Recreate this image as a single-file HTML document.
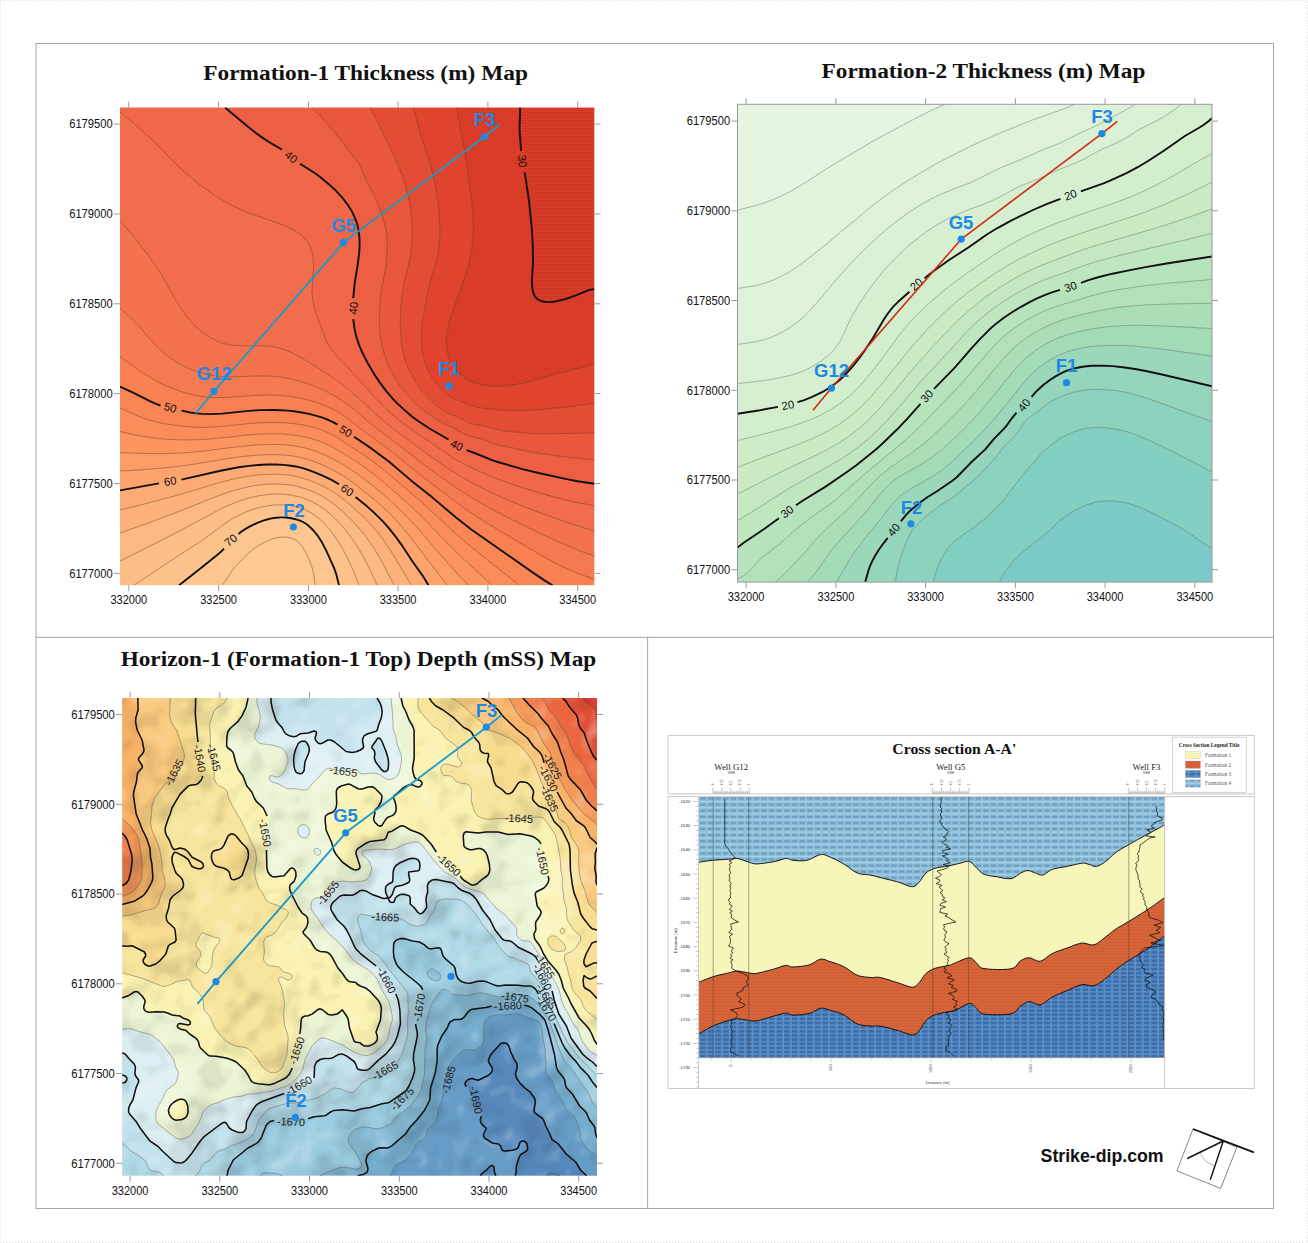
<!DOCTYPE html><html><head><meta charset="utf-8"><title>Maps</title><style>html,body{margin:0;padding:0;background:#fff}svg{display:block}</style></head><body>
<svg width="1308" height="1243" viewBox="0 0 1308 1243">
<defs><pattern id="st1a" width="4" height="4" patternUnits="userSpaceOnUse"><path d="M0 0h1v1h-1zM2 0h1v1h-1zM1 2h1v1h-1zM3 2h1v1h-1z" fill="#8e1505" fill-opacity="0.4"/></pattern><pattern id="st1b" width="4" height="4" patternUnits="userSpaceOnUse"><path d="M0 0h1v1h-1zM2 0h1v1h-1zM1 2h1v1h-1zM3 2h1v1h-1z" fill="#a02010" fill-opacity="0.28"/></pattern><pattern id="st2a" width="4" height="4" patternUnits="userSpaceOnUse"><path d="M0 0h1v1h-1zM2 2h1v1h-1z" fill="#86a8ee" fill-opacity="0.4"/></pattern><clipPath id="c1"><rect x="120" y="107.6" width="474.4" height="477.6"/></clipPath><clipPath id="c2"><rect x="737.5" y="104.3" width="474.5" height="477.8"/></clipPath><filter id="blr" x="0" y="0" width="100%" height="100%" filterUnits="userSpaceOnUse"><feGaussianBlur stdDeviation="1.3"/></filter><clipPath id="c3"><rect x="122.1" y="698" width="474.9" height="477.8"/></clipPath></defs>
<rect width="1308" height="1243" fill="#fff"/>
<rect x="0.5" y="0.5" width="1307" height="1242" fill="none" stroke="#e9e9e9" stroke-width="1" stroke-dasharray="1.5 1.5"/>
<rect x="36" y="43.5" width="1237.5" height="1165" fill="none" stroke="#a6a6a6" stroke-width="1"/>
<path d="M36 637.3H1273.5M647.6 637.3V1208.5" stroke="#a6a6a6" stroke-width="1" fill="none"/>
<g font-family="Liberation Serif, serif" font-weight="bold" font-size="21.4" fill="#111">
<text x="203.2" y="80.3" textLength="324.8" lengthAdjust="spacingAndGlyphs">Formation-1 Thickness (m) Map</text>
<text x="821.5" y="77.5" textLength="323.9" lengthAdjust="spacingAndGlyphs">Formation-2 Thickness (m) Map</text>
<text x="120.7" y="666" textLength="475.5" lengthAdjust="spacingAndGlyphs">Horizon-1 (Formation-1 Top) Depth (mSS) Map</text>
</g>
<g clip-path="url(#c1)">
<path fill="#dd3e2a" fill-rule="evenodd" stroke="#dd3e2a" stroke-width="0.6" d="M520 107.6L594.4 107.6L594.4 289.1L591 289.6L588 290.4L585 291.5L577.5 294.8L570 297.5L562.5 299.9L556.5 301.2L552 301.9L547.5 302.1L543 301.5L540 300.5L538.5 299.8L537 298.7L535.5 297.2L534 294.6L532.7 290.6L532.3 287.6L532 283.1L533 259.1L532.7 245.6L532.1 232.1L528.6 197.6L525.1 175.1L522.3 163.1L521.7 158.6L519.6 131.6L519.6 125.6L520.1 112.1Z"/>
<path fill="#dd3e2a" fill-rule="evenodd" stroke="#dd3e2a" stroke-width="0.6" d="M456.6 107.6L520 107.6L520.1 112.1L519.6 125.6L519.6 131.6L521.7 158.6L522.3 163.1L525.1 175.1L528.6 197.6L532.1 232.1L532.7 245.6L533 259.1L532 283.1L532.3 287.6L533.1 292.1L534 294.6L535.1 296.6L536.3 298.1L538.2 299.6L540 300.5L543 301.5L546 302L549 302.1L552 301.9L556.5 301.2L564 299.5L576 295.4L588 290.4L591 289.6L594.4 289.1L594.4 364.1L571.5 370.1L552 375L534 380.4L525 382.7L517.5 384.2L510 385.4L502.5 386.2L495 386.4L489 386.1L481.5 384.8L475.5 383.1L472.5 382L469.5 380.6L464.6 377.6L462 375.6L459.2 373.1L456.5 370.1L454.5 367.5L451.4 362.6L449.9 359.6L448.3 355.1L447.5 352.1L446.8 347.6L446.4 343.1L446.4 338.6L447.3 331.1L448.8 323.6L451 316.1L453 310L459.2 293.6L462.8 283.1L466.2 272.6L468.8 263.6L470.5 256.1L472 247.1L472.9 238.1L473.4 229.1L473.4 223.1L473.1 215.6L472.2 205.1L471.2 196.1L468.6 179.6L466.9 166.1L465.3 155.6L460 125.6Z"/>
<path fill="#e0442f" fill-rule="evenodd" stroke="#e0442f" stroke-width="0.6" d="M413.4 107.6L456.6 107.6L460 125.6L465.8 158.6L468.6 179.6L471.2 196.1L472.2 205.1L473.1 215.6L473.4 221.6L473.4 229.1L473.2 235.1L472.5 242.6L471.6 250.1L470.2 257.6L468.4 265.1L465.8 274.1L462.8 283.1L459.2 293.6L453 310L451 316.1L448.5 325L447 332.6L446.5 337.1L446.4 341.6L446.6 346.1L447.2 350.6L448.3 355.1L449.3 358.1L451.4 362.6L453 365.3L456.5 370.1L460.5 374.3L464.6 377.6L469.5 380.6L472.5 382L475.5 383.1L482.8 385.1L490.5 386.3L496.5 386.4L502.5 386.2L510 385.4L517.5 384.2L525 382.7L534 380.4L552 375L571.5 370.1L594.4 364.1L594.4 403.4L565.5 407L537 409.8L526.5 410.5L517.5 410.6L501 410.1L495 409.6L480 407.6L474 406.3L468 404.4L457.2 400.1L453 398.1L450 396.3L444.9 392.6L440.1 388.1L436.3 383.6L432.1 377.6L429.6 373.1L427.5 368.6L425.2 362.6L423.9 358.1L422.6 352.1L421.9 346.1L421.4 338.6L421.3 332.6L421.7 328.1L422.4 322.1L427.4 293.6L430.3 281.6L436.3 260.6L437.8 254.6L438.6 250.1L439.4 242.6L439.8 233.6L439.7 224.6L439.1 212.6L438.1 202.1L436.9 193.1L435.3 184.1L433.2 175.1L429.5 161.6L421.6 137.6Z"/>
<path fill="#e44d35" fill-rule="evenodd" stroke="#e44d35" stroke-width="0.6" d="M370.1 107.6L413.4 107.6L421.6 137.6L429.5 161.6L432 170.2L434 178.1L435.5 185.6L437.1 194.6L438.1 202.1L438.8 209.6L439.4 218.6L439.8 229.1L439.7 236.6L439.3 244.1L438.6 250.1L437.1 257.6L435.1 265.1L429.9 283.1L427.1 295.1L422.2 323.6L421.5 329.6L421.3 335.6L421.5 341.6L422.2 349.1L423.2 355.1L424.3 359.6L426 364.9L428.2 370.1L431.3 376.1L434.1 380.6L438 385.7L442.5 390.5L446.8 394.1L451.5 397.2L457.5 400.2L468 404.4L474 406.3L480.2 407.6L495 409.6L501 410.1L517.5 410.6L526.5 410.5L537 409.8L565.5 407L594.4 403.4L594.4 432.9L574.5 433.4L547.5 433.7L537 433.7L531 433.5L502.5 430.8L499.5 430.2L486 426.4L472.5 424L468.5 422.6L457.5 417.2L448.5 413.4L445.5 411.8L442.5 409.8L435.6 404.6L428.7 398.6L423.2 392.6L417.5 385.1L413.7 379.1L410.5 373.1L407.8 367.1L405.1 359.6L403.5 353.6L402 346.1L400.9 337.1L400.4 329.6L400.3 322.1L400.5 313.1L401.2 302.6L402 295.1L404.2 281.6L408.4 265.1L410.3 256.1L411.4 248.6L412 242.6L412.3 233.6L412 223.1L411 212.6L409.6 202.1L408 195.1L405.3 185.6L402 175.1L399.8 169.1L394.5 157.5L378.6 124.1L374.1 115.1Z"/>
<path fill="#e9573d" fill-rule="evenodd" stroke="#e9573d" stroke-width="0.6" d="M312.1 107.6L370.1 107.6L374.9 116.6L379.5 126L396 160.7L400.4 170.6L403 178.1L405.8 187.1L408 195.1L409.5 201.7L410.7 209.6L411.6 218.6L412.1 226.1L412.3 233.6L411.9 244.1L410.8 253.1L408.7 263.6L404.2 281.6L402.9 289.1L401.5 299.6L400.8 308.6L400.3 320.6L400.4 329.6L400.9 337.1L401.8 344.6L403.2 352.1L404.7 358.1L407.2 365.6L410.5 373.1L413.7 379.1L417.5 385.1L422 391.1L426 395.8L430.5 400.3L437.5 406.1L444 410.8L448.5 413.4L457.5 417.2L468 422.4L472.5 424L486 426.4L499.5 430.2L502.5 430.8L531 433.5L537 433.7L547.5 433.7L574.5 433.4L594.4 432.9L594.4 459.7L577.5 458.3L567 457.2L538.5 453.2L528 451.5L511.5 447.7L499.5 445.4L493.5 443.5L481.5 438.9L472.5 436.9L468 435.6L465 434.4L462 432.9L454.5 428.5L441 422.1L436.5 419.5L427.9 413.6L421.7 409.1L416.5 404.6L410.6 398.6L404 391.1L399.5 385.1L394.7 377.6L391.4 371.6L387.8 364.1L385.5 358.1L383.2 350.6L381.2 341.6L380.1 334.1L379.5 328.1L379.2 320.6L379.3 313.1L379.8 305.6L380.8 295.1L381.6 289.1L385.6 268.1L386.8 257.6L387.3 248.6L387.2 241.1L386.5 233.6L385.1 226.1L383.1 218.6L378.2 205.1L375.8 199.1L373 193.1L366.4 181.1L361.7 169.1L359.5 164.6L356.3 160.1L350.3 152.6L343.5 143.2L336 133.8L324 120.1Z"/>
<path fill="#ec5f43" fill-rule="evenodd" stroke="#ec5f43" stroke-width="0.6" d="M225 107.6L312.1 107.6L324 120.1L336 133.8L343.5 143.2L350.3 152.6L356.3 160.1L359.5 164.6L361.7 169.1L366 180.2L373.7 194.6L377.7 203.6L382 215.6L384 221.6L385.5 227.8L386.7 235.1L387.2 241.1L387.3 247.1L387.1 253.1L386.5 260.6L385.2 271.1L382.6 283.1L381.4 290.6L379.9 304.1L379.3 313.1L379.2 322.1L379.6 329.6L380.5 337.1L382.1 346.1L384.1 353.6L386.6 361.1L389.1 367.1L393 374.6L397.5 382.1L401.7 388.1L406.5 394.1L413.4 401.6L418.2 406.1L423 410.1L433.5 417.5L438 420.4L444 423.7L454.5 428.5L463.5 433.7L466.5 435L469.5 436.1L481.5 438.9L493.5 443.5L499.5 445.4L511.5 447.7L522 450.2L529.5 451.8L549 454.8L568.5 457.4L579 458.5L594.4 459.7L594.4 483.8L577.5 481.2L565.5 478.9L538.5 473L522 469L499.5 462.5L492 460.1L477 454L463.5 448.9L459 446.9L456 445.2L447.8 439.1L432 430L424.5 425.3L417 420.3L412.1 416.6L406.7 412.1L400.1 406.1L395.5 401.6L388.8 394.1L381.7 385.1L376.4 377.6L370.8 368.6L365 358.1L360.8 349.1L357.4 340.1L355.3 332.6L353.9 325.1L353.1 317.6L352.8 310.1L353 301.1L353.5 293.6L354.5 284.6L357.6 265.1L359 254.6L359.5 247.1L359.6 239.6L358.9 232.1L358.1 227.6L357.4 224.6L356.4 221.6L354.6 217.1L351 209.9L346.5 203.2L340.5 195.6L333 187.9L324 180.1L315 173.3L301.3 164.6L294.7 160.1L290.8 157.1L285 152L282 149.6L268.5 141.7L262.3 137.6L256.5 133.5L246.5 125.6Z"/>
<path fill="#f06749" fill-rule="evenodd" stroke="#f06749" stroke-width="0.6" d="M120 107.6L225 107.6L246.5 125.6L256.5 133.5L262.3 137.6L268.5 141.7L282 149.6L285 152L290.8 157.1L294.7 160.1L301.3 164.6L315 173.3L319.5 176.5L325.5 181.3L331.5 186.6L337.5 192.4L342 197.3L346.5 203.2L349.9 208.1L352.5 212.7L355.2 218.6L357.4 224.6L358.4 229.1L359.2 235.1L359.6 239.6L359.6 245.6L359.3 251.6L358.6 257.6L357.4 266.6L354.7 283.1L353.7 292.1L353.1 299.6L352.8 308.6L353 316.1L353.7 323.6L354.6 329.6L356.4 337.1L358.9 344.6L362.1 352.1L366.6 361.1L371.7 370.1L376.4 377.6L381.7 385.1L388.8 394.1L394 400.1L399 405.1L406.7 412.1L414 418.1L420.4 422.6L430.5 429.1L447.8 439.1L456 445.2L459 446.9L462 448.3L477 454L492 460.1L499.5 462.5L522 469L538.5 473L565.5 478.9L577.5 481.2L594.4 483.8L594.4 505.9L576 502.3L565.5 500L553.5 496.9L538.5 492.7L523.5 488L508.5 482.9L495 477.9L483 472.9L463.5 463.6L457.5 460.5L451.5 456.9L436.7 446.6L412.5 430.4L404 424.1L396.6 418.1L390 412.4L384.9 407.6L378.9 401.6L373.3 395.6L352.5 372.6L334.7 353.6L331 349.1L327.4 343.1L324.7 337.1L321 326.8L316.9 316.1L315.3 311.6L313.8 305.6L312.7 299.6L312.1 292.1L312.3 284.6L313.5 269.6L313.5 263.6L312.9 257.6L312 252.5L310.2 247.1L309 244.6L307.5 242L304.5 238.1L301.3 235.1L297.1 232.1L292.5 229.5L286.5 226.6L277.5 223L250.5 213.6L243 210.6L235.5 207.2L229.5 204.1L222 199.8L214.5 195.1L208.5 191L202.5 186.7L195 180.9L183 170.8L175.5 163.7L155.7 143.6L148 136.1L134.6 124.1L120 112.1Z"/>
<path fill="#f26d4b" fill-rule="evenodd" stroke="#f26d4b" stroke-width="0.6" d="M120 112.1L133.5 123.2L148 136.1L155.7 143.6L175.5 163.7L184.5 172.1L190.5 177.2L198 183.3L204 187.8L211.5 193.1L219 198L226.5 202.5L232.5 205.7L240 209.3L246 211.9L253.5 214.7L279 223.6L285 225.9L289.5 228L294.6 230.6L298.5 233L301.5 235.3L304.5 238.1L307.5 242L309 244.6L310.2 247.1L312 252.5L312.9 257.6L313.5 263.6L313.5 269.6L312.3 284.6L312.1 292.1L312.7 299.6L313.8 305.6L315.3 311.6L316.9 316.1L321 326.8L324.1 335.6L326.7 341.6L330 347.6L332.1 350.6L334.7 353.6L352.5 372.6L377.5 400.1L384.9 407.6L391.4 413.6L402 422.5L411 429.3L420 435.6L436.7 446.6L450 455.9L456 459.6L462 462.9L481.5 472.3L493.5 477.3L507 482.4L522 487.5L537 492.2L552 496.5L565.5 500L576 502.3L594.4 505.9L594.4 531.1L567 522.3L552 517.2L534 510.6L516 503.5L499.5 496.4L486 490.1L474 483.9L460.5 476.3L450 469.8L441 463.7L409.5 440.9L395.1 430.1L385.7 422.6L378.6 416.6L358.5 398.2L351 391.6L345 386.6L339 382.1L330 375.8L315 366.2L303 358.8L295.5 354.7L289.5 351.8L283.5 349.5L277.5 347.7L271.5 346.5L267 346L262.5 345.8L244.5 345.8L237 345.6L229.5 344.9L225 344L222 343.1L218.1 341.6L211.5 338.4L204.8 334.1L198 328.8L194.1 325.1L190 320.6L186.4 316.1L182.1 310.1L175.5 299.6L160.5 273.3L156 266.4L150 257.8L144 249.7L138 242L120 220.7Z"/>
<path fill="#f4734e" fill-rule="evenodd" stroke="#f4734e" stroke-width="0.6" d="M120 221.6L120 220.7L136.5 240.2L144.3 250.1L153 262L158.1 269.6L161.9 275.6L177.3 302.6L182.1 310.1L186.4 316.1L190.5 321.2L195 326L199.5 330.1L204.8 334.1L210 337.5L216 340.7L222 343.1L226.5 344.3L231 345.1L237 345.6L244.5 345.8L262.5 345.8L268.5 346.1L273 346.7L280.5 348.5L286.5 350.6L294 353.9L301.5 357.9L310.5 363.3L325.5 372.8L333 377.8L340.5 383.2L348 389.1L354 394.2L373.6 412.1L380.4 418.1L395.1 430.1L409.5 440.9L441 463.7L450 469.8L460.5 476.3L474 483.9L486 490.1L499.5 496.4L516 503.5L534 510.6L552 517.2L567 522.3L594.4 531.1L594.4 556.2L582 551.6L568.5 546.1L555 540.2L540 533.3L517.5 522.4L498 512.5L484.5 505.3L472.5 498.2L462 491.6L451.5 484.5L439.5 476.1L427.5 467.3L375.2 427.1L367.7 421.1L354 409.6L346.5 403.8L340.5 399.7L334.5 395.9L328.5 392.7L322.5 389.7L312 385.3L301.5 381.7L291 378.9L280.5 377L273 376.3L264 375.9L255 376L235.5 376.7L225 376.7L216 376L207.5 374.6L202.5 373.4L198 372.1L193.5 370.5L188.9 368.6L179.9 364.1L174.8 361.1L170.4 358.1L163.5 352.8L157.8 347.6L152.2 341.6L136.4 323.6L132 319.3L120 308.2Z"/>
<path fill="#f67a51" fill-rule="evenodd" stroke="#f67a51" stroke-width="0.6" d="M120 308.6L120 308.2L135 322.2L139.5 327L155 344.6L159.4 349.1L162.7 352.1L169.5 357.5L177 362.4L184.5 366.5L192 369.9L198 372.1L205.5 374.2L211.5 375.3L219 376.3L225 376.7L232.5 376.8L256.5 376L267 376L277.5 376.7L286.5 378L292.5 379.2L298.5 380.8L304.5 382.6L310.5 384.7L316.5 387.1L322.5 389.7L333 395.1L342 400.6L349.5 406.1L375.2 427.1L430.5 469.5L451.5 484.5L462 491.6L471 497.3L483 504.4L496.5 511.7L514.5 520.9L538.5 532.6L555 540.2L568.5 546.1L582 551.6L594.4 556.2L594.4 579.3L580.5 574.4L571.5 570.8L562.5 566.8L553.5 562.3L544.5 557.3L532.5 550.3L490.5 525.3L478.5 517.9L466.5 509.8L453 499.8L418.5 473.5L390.8 451.1L379.5 442.6L362.3 430.1L346.5 417.7L342 414.5L337.5 411.7L333 409.2L328.5 407.1L324 405.2L318 403L312 401.1L306 399.5L300 398.1L294 397.1L288 396.2L282 395.6L271.5 395.1L259.5 395.2L249 395.8L229.5 397.3L219 397.7L210 397.5L201 396.5L195 395.4L189 393.9L183 392.2L175.5 389.7L169.5 387.3L165 385.4L160.5 383.2L154.5 379.9L145.7 374.6L136.5 368.6L128 362.6L120 356.6Z"/>
<path fill="#f88053" fill-rule="evenodd" stroke="#f88053" stroke-width="0.6" d="M120 356.6L130.1 364.1L138.7 370.1L148.5 376.4L158.5 382.1L166.5 386L174 389.1L183 392.2L192 394.7L198 396L204 396.9L210 397.5L216 397.7L228 397.4L250.5 395.7L261 395.1L273 395.1L285 395.9L291 396.6L297 397.6L303 398.8L309 400.2L315 402L321 404L327 406.4L331.5 408.5L339 412.6L346.5 417.7L362.3 430.1L379.5 442.6L391.5 451.7L415.5 471.1L424.5 478.1L457.5 503.2L466.5 509.8L474 514.9L483 520.7L493.5 527.1L537 553L553.5 562.3L562.5 566.8L571.5 570.8L580.5 574.4L594.4 579.3L594.4 585.2L552.5 585.2L546.4 581.6L529.5 570.3L471 529.3L456 517.5L430.7 496.1L411 480.4L393 465L385.5 459L370.8 448.1L354 436.8L340.5 426.6L336 423.7L331.5 421.3L324 418.2L319.5 416.7L313.5 415L301.5 412.4L289.5 410.8L283.5 410.3L276 410L261 410.1L250.5 410.7L231 412.8L220.5 413.7L213 414L204 413.9L196.5 413.4L189 412.2L175.5 409.2L162 405.9L157.5 404.4L151 401.6L132 392.2L120 386.7Z"/>
<path fill="#fa8656" fill-rule="evenodd" stroke="#fa8656" stroke-width="0.6" d="M120 388.1L120 386.7L132 392.2L151 401.6L156 403.8L160.5 405.5L166.5 407.1L178.5 409.9L187.5 411.9L193.5 413L198 413.6L202.5 413.9L214.5 414L226.5 413.2L249 410.9L258 410.2L270 409.9L283.5 410.3L291 410.9L297 411.7L303 412.7L309 413.9L315 415.4L321 417.1L325.5 418.7L330 420.6L334.5 422.9L339 425.6L354 436.8L370.8 448.1L385 458.6L393 465L411 480.4L430.7 496.1L456 517.5L471 529.3L534 573.4L544.5 580.4L552.5 585.2L519.1 585.2L478.5 552.8L463.5 540.4L451.5 529.8L423.3 503.6L390.1 475.1L382.5 468.8L372 460.8L361.5 453.5L337.5 437.8L331.5 434.3L327 432.1L322.5 430.2L318 428.6L313.5 427.3L307.5 425.9L301.5 424.8L295.5 423.9L283.5 422.8L271.5 422.5L258 422.9L247.5 423.7L219 426.6L210 427.2L202.5 427.4L193.5 427.2L183 426.3L169.5 424.5L159.3 422.6L151.5 420.7L142.5 417.7L135 414.7L120 408Z"/>
<path fill="#fc8c59" fill-rule="evenodd" stroke="#fc8c59" stroke-width="0.6" d="M120 409.1L120 408L139.5 416.6L147 419.3L153 421.1L159 422.5L166.5 424L175.5 425.4L183 426.3L190.5 427L196.5 427.3L208.5 427.3L222 426.4L246 423.9L256.5 423L268.5 422.5L280.5 422.6L288 423.1L294 423.7L300 424.5L306 425.6L312 427L318 428.6L322.5 430.2L327 432.1L331.5 434.3L337.5 437.8L361.5 453.5L372 460.8L382.5 468.8L390.1 475.1L423.3 503.6L451.5 529.8L463.5 540.4L478.5 552.8L519.1 585.2L492 585.2L474 568.9L457.5 553.3L445.5 541.3L423.6 518.6L414.5 509.6L401.4 497.6L385.5 483.8L378 477.6L370.5 471.7L363 466.2L356.3 461.6L346.5 455.3L337.5 450L330 445.9L324 443L319.5 441.2L313.5 439.2L309 437.9L303 436.6L297 435.5L291 434.7L279 433.9L268.5 433.8L256.5 434.3L244.5 435.4L211.5 438.9L201 439.6L192 439.9L180 439.8L166.5 439.2L154.5 438L142.5 436.3L132 434.3L120 431.5Z"/>
<path fill="#fc9560" fill-rule="evenodd" stroke="#fc9560" stroke-width="0.6" d="M120 431.6L136.5 435.2L151.1 437.6L166.5 439.2L183 439.9L195 439.8L208.5 439.1L220.5 438L246 435.2L258 434.2L270 433.8L282 434L294 435.1L304.5 436.9L313.5 439.2L322.5 442.4L328.5 445.1L336 449.1L345 454.4L355.5 461.1L363 466.2L370.5 471.7L378 477.6L385.5 483.8L401.4 497.6L414.5 509.6L423.6 518.6L445.5 541.3L457.5 553.3L474 568.9L492 585.2L468.3 585.2L459 575.5L450 565.6L436.5 550.2L419.7 530.6L411.6 521.6L401.4 511.1L390.2 500.6L381 492.6L370.7 484.1L361 476.6L352.6 470.6L345 465.7L336 460.6L328.5 456.7L321 453.3L316.5 451.5L310.5 449.5L304.5 447.9L298.5 446.6L292.5 445.7L286.5 445L280.5 444.6L273 444.4L261 444.7L249 445.5L237 446.8L202.5 451.2L190.5 452.3L180 453L166.5 453.5L151.5 453.5L133.5 453.2L120 452.6Z"/>
<path fill="#fc9c67" fill-rule="evenodd" stroke="#fc9c67" stroke-width="0.6" d="M254.3 445.1L268.5 444.4L276 444.4L282 444.7L288 445.1L294 445.9L300 446.9L304.5 447.9L309 449.1L315 451L319.5 452.7L325.5 455.3L331.5 458.2L337.5 461.4L343.5 464.8L350.3 469.1L361.5 477L376.5 488.8L390 500.4L401.4 511.1L407.4 517.1L414.4 524.6L450 565.6L459 575.5L468.3 585.2L447.3 585.2L423 553.8L411.1 538.1L405.1 530.6L400 524.6L394.6 518.6L388.7 512.6L382.3 506.6L372 497.7L357 485.7L349.5 480L343.5 476L336 471.6L327 467L318 463.1L309 459.8L303 458L298.5 457L292.5 455.9L286.5 455.2L280.5 454.8L273 454.6L259.5 454.9L247.5 455.9L235.5 457.4L192 464.5L177 466.6L165 467.8L141 469.8L130.5 470.5L120 471L120 452.6L133.5 453.2L153 453.6L168 453.5L181.5 453L190.5 452.3L201 451.3L238.5 446.7Z"/>
<path fill="#fca36e" fill-rule="evenodd" stroke="#fca36e" stroke-width="0.6" d="M250.8 455.6L264 454.7L271.5 454.6L277.5 454.7L283.5 455L289.5 455.5L295.5 456.4L300 457.3L304.5 458.4L310.5 460.3L316.5 462.5L322.5 465L328.5 467.7L334.5 470.8L340.5 474.1L345 476.9L349.5 480L355 484.1L375 500.2L385.6 509.6L394.6 518.6L401.3 526.1L408.8 535.1L441 577.2L447.3 585.2L428.5 585.2L421.6 574.1L412.5 561.5L402 545.6L395.6 536.6L390.9 530.6L385.8 524.6L380.2 518.6L373.5 512.1L365.5 505.1L349 491.6L343.5 487.3L338.8 484.1L331.5 479.9L321 474.9L310.5 470.7L303 468.2L297 466.7L291 465.7L285 465L277.5 464.5L270 464.5L262.5 464.7L255 465.3L247.5 466.1L237 467.6L223.5 470.1L180 479.9L157.5 483.7L120 490.4L120 471L130.5 470.5L141 469.8L166.5 467.6L178.5 466.4L193.5 464.3L232.5 457.9L241.5 456.6Z"/>
<path fill="#fdab75" fill-rule="evenodd" stroke="#fdab75" stroke-width="0.6" d="M265 464.6L276 464.5L286.5 465.1L295.5 466.4L303 468.2L309 470.2L315 472.4L325.5 477L336 482.4L339 484.2L343.5 487.3L349 491.6L363.7 503.6L370.5 509.4L379.5 517.9L387.2 526.1L393.3 533.6L399.9 542.6L412.5 561.5L422.6 575.6L428.5 585.2L411.4 585.2L390.2 550.1L384.2 541.1L378.7 533.6L372.3 526.1L365.2 518.6L357.2 511.1L345 500.6L339.3 496.1L335.2 493.1L330.4 490.1L325 487.1L318.7 484.1L312 481.3L304.5 478.6L298.5 476.9L292.5 475.7L286.5 474.8L280.5 474.4L273 474.2L265.5 474.4L258 475L250.5 475.9L243 477.1L234 478.9L223.5 481.5L213 484.5L189 491.9L177 495.3L138 505.7L120 510L120 490.4L181.5 479.6L217.5 471.4L234 468.1L243 466.7L250.5 465.7L258 465Z"/>
<path fill="#fdb27b" fill-rule="evenodd" stroke="#fdb27b" stroke-width="0.6" d="M256.7 475.1L268.5 474.3L279 474.3L285 474.7L289.5 475.2L294 476L298.5 476.9L303 478.2L309 480.2L319.5 484.4L328.5 489L333 491.7L337.3 494.6L346.5 501.9L360.5 514.1L369.6 523.1L377.5 532.1L383.2 539.6L389.3 548.6L411.4 585.2L394.3 585.2L384.5 566.6L378.7 556.1L373.2 547.1L368.1 539.6L361.1 530.6L354.5 523.1L345.5 514.1L337.5 506.9L331.5 502.2L327 499.1L321.9 496.1L316.5 493.3L310.5 490.7L304.5 488.5L298.5 486.7L292.5 485.4L286.5 484.6L280.5 484.1L274.5 483.9L267 484.2L259.5 485L252 486.1L244.5 487.7L237 489.6L228 492.3L219 495.5L209.6 499.1L184.5 509.3L169.5 515.1L145.5 524L120 533L120 510L138 505.7L177 495.3L189 491.9L214.3 484.1L226.5 480.7L241.5 477.4L249 476.1Z"/>
<path fill="#fdb982" fill-rule="evenodd" stroke="#fdb982" stroke-width="0.6" d="M269.2 484.1L279 484L288 484.7L297 486.4L304.5 488.5L312.7 491.6L321 495.6L328.5 500.1L336 505.7L343.9 512.6L353.1 521.6L359.9 529.1L367 538.1L373.2 547.1L378.7 556.1L384.5 566.6L394.3 585.2L377.1 585.2L370.6 571.1L365.4 560.6L360.4 551.6L354.8 542.6L348.3 533.6L342.2 526.1L335.2 518.6L328.5 512.5L324 509L319.5 505.9L315 503.3L309 500.4L303 498.1L297 496.3L291 495.1L285 494.4L279 494L273 494.1L266.9 494.6L259.5 495.7L252 497.3L246 498.9L240 500.8L232.7 503.6L225.8 506.6L219.6 509.6L181.5 530L132 555.2L120 561L120 533L142.5 525.1L166.5 516.2L186 508.7L213.4 497.6L228 492.3L238.5 489.2L249 486.7L259.5 485Z"/>
<path fill="#fdbe87" fill-rule="evenodd" stroke="#fdbe87" stroke-width="0.6" d="M266.9 494.6L276 494L283.5 494.2L288 494.7L292.5 495.4L300 497.2L307.5 499.7L315 503.3L318.2 505.1L322.5 507.9L328.5 512.5L335.2 518.6L342.2 526.1L348.3 533.6L354.8 542.6L360.4 551.6L365.4 560.6L370.6 571.1L377.1 585.2L358.9 585.2L354.1 572.6L350.2 563.6L345.8 554.6L339.8 544.1L335 536.6L329.4 529.1L324 523.1L318 517.6L313.5 514.3L309 511.7L304.5 509.5L300 507.9L295.3 506.6L289.5 505.5L285 505L279 504.8L274.5 505L270 505.4L264 506.5L259.5 507.5L253.5 509.3L249 510.8L244.5 512.7L238.5 515.5L232.8 518.6L228 521.6L221.5 526.1L208.5 535.9L201 541.1L168.6 562.1L142.5 579.6L133.7 585.2L120 585.2L120 561L132 555.2L178.5 531.5L193.5 523.7L216.7 511.1L226.5 506.3L237 501.9L247.5 498.5L257.2 496.1Z"/>
<path fill="#fdc28b" fill-rule="evenodd" stroke="#fdc28b" stroke-width="0.6" d="M273.2 505.1L280.5 504.8L286.5 505.1L294 506.3L300 507.9L306 510.2L310.7 512.6L315.3 515.6L321 520.2L326.8 526.1L331.7 532.1L337 539.6L341.6 547.1L346.5 556.1L350.2 563.6L354.1 572.6L358.9 585.2L339 585.2L335.7 572.6L334.1 568.1L332.2 563.6L326 550.1L322.9 544.1L319.3 538.1L314.9 532.1L312.1 529.1L308.9 526.1L304.9 523.1L301.5 521.2L297 519.6L292.5 518.5L286.5 517.6L282 517.4L277.5 517.6L273 518.2L268.5 519.1L264 520.4L259.5 522L253.5 524.6L247.7 527.6L243 530.5L238.8 533.6L235.4 536.6L231 541.1L223.5 549.3L220.5 552.1L198 570.5L179.1 585.2L133.7 585.2L142.5 579.6L168.6 562.1L199.5 542.1L208.5 535.9L225 523.6L230.3 520.1L234 517.9L238.2 515.6L243 513.3L248.3 511.1L253.5 509.3L258 507.9L263.3 506.6L268.5 505.7Z"/>
<path fill="#fdc690" fill-rule="evenodd" stroke="#fdc690" stroke-width="0.6" d="M270.7 518.6L276 517.8L282 517.4L288 517.8L294 518.8L298.5 520.1L303 522L307.1 524.6L310.6 527.6L314.9 532.1L318.3 536.6L322.1 542.6L325.3 548.6L332.2 563.6L334.7 569.6L336.6 575.6L339 585.2L315.2 585.2L313.7 574.1L312 567.5L310.1 562.1L307.6 556.1L305.3 551.6L303 547.7L301.4 545.6L298.6 542.6L296.7 541.1L294 539.4L291 538.1L289.5 537.7L286.5 537.2L283.5 537L280.5 537.2L276 537.9L271.5 539.2L268.5 540.4L264 542.5L259.5 545L256.2 547.1L252.1 550.1L249 552.8L244.5 557.1L235.3 566.6L231.9 571.1L225 581.6L222.4 585.2L179.1 585.2L198 570.5L220.5 552.1L223.5 549.3L233.9 538.1L238.5 533.9L241.5 531.5L247.7 527.6L252 525.3L256.5 523.2L264 520.4Z"/>
<path fill="#fdca94" fill-rule="evenodd" stroke="#fdca94" stroke-width="0.6" d="M275.2 538.1L279 537.3L283.5 537L288 537.4L291 538.1L294 539.4L296.7 541.1L298.6 542.6L301.4 545.6L303.6 548.6L306.1 553.1L308.9 559.1L311.2 565.1L313.4 572.6L315.2 585.2L222.4 585.2L225 581.6L231.9 571.1L235.3 566.6L241.5 560.1L249 552.8L255 547.9L261 544.1L268.5 540.4L271.5 539.2Z"/>
<path fill="url(#st1a)" fill-rule="evenodd" d="M520 107.6L594.4 107.6L594.4 289.1L588 290.4L570 297.5L556.5 301.2L547.5 302.1L543 301.5L540 300.5L537 298.7L535.5 297.2L534 294.6L532.7 290.6L532 283.1L533 259.1L532.1 232.1L528.6 197.6L525.1 175.1L521.7 158.6L519.6 131.6Z"/>
<path fill="url(#st1b)" fill-rule="evenodd" d="M456.6 107.6L520 107.6L519.6 131.6L521.7 158.6L525.1 175.1L528.6 197.6L532.1 232.1L533 259.1L532 283.1L533.1 292.1L535.1 296.6L538.2 299.6L543 301.5L549 302.1L556.5 301.2L564 299.5L576 295.4L588 290.4L594.4 289.1L594.4 364.1L552 375L525 382.7L510 385.4L495 386.4L489 386.1L481.5 384.8L475.5 383.1L469.5 380.6L464.6 377.6L459.2 373.1L454.5 367.5L451.4 362.6L448.3 355.1L446.8 347.6L446.4 338.6L447.3 331.1L451 316.1L462.8 283.1L468.8 263.6L472 247.1L473.4 229.1L473.1 215.6L471.2 196.1L465.3 155.6Z"/>
<path d="M456.6 107.6L460 125.6L465.3 155.6L466.9 166.1L468.6 179.6L471.2 196.1L472.2 205.1L473.1 215.6L473.4 223.1L473.4 229.1L472.9 238.1L472 247.1L470.5 256.1L468.8 263.6L466.2 272.6L462.8 283.1L459.2 293.6L453 310L451 316.1L448.8 323.6L447.3 331.1L446.4 338.6L446.4 343.1L446.8 347.6L447.5 352.1L448.3 355.1L449.9 359.6L451.4 362.6L454.5 367.5L456.5 370.1L459.2 373.1L462 375.6L464.6 377.6L469.5 380.6L472.5 382L475.5 383.1L481.5 384.8L489 386.1L495 386.4L502.5 386.2L510 385.4L517.5 384.2L525 382.7L534 380.4L552 375L571.5 370.1L594.4 364.1M413.4 107.6L421.6 137.6L429.5 161.6L433.2 175.1L435.3 184.1L436.9 193.1L438.1 202.1L439.1 212.6L439.7 224.6L439.8 233.6L439.4 242.6L438.6 250.1L437.8 254.6L436.3 260.6L430.3 281.6L427.4 293.6L422.4 322.1L421.7 328.1L421.3 332.6L421.4 338.6L421.9 346.1L422.6 352.1L423.9 358.1L425.2 362.6L427.5 368.6L429.6 373.1L432.1 377.6L436.3 383.6L440.1 388.1L444.9 392.6L450 396.3L453 398.1L457.2 400.1L468 404.4L474 406.3L480 407.6L495 409.6L501 410.1L517.5 410.6L526.5 410.5L537 409.8L565.5 407L594.4 403.4M370.1 107.6L374.1 115.1L378.6 124.1L394.5 157.5L399.8 169.1L402 175.1L405.3 185.6L408 195.1L409.6 202.1L411 212.6L412 223.1L412.3 233.6L412 242.6L411.4 248.6L410.3 256.1L408.4 265.1L404.2 281.6L402 295.1L401.2 302.6L400.5 313.1L400.3 322.1L400.4 329.6L400.9 337.1L402 346.1L403.5 353.6L405.1 359.6L407.8 367.1L410.5 373.1L413.7 379.1L417.5 385.1L423.2 392.6L428.7 398.6L435.6 404.6L442.5 409.8L445.5 411.8L448.5 413.4L457.5 417.2L468.5 422.6L472.5 424L486 426.4L499.5 430.2L502.5 430.8L531 433.5L537 433.7L547.5 433.7L574.5 433.4L594.4 432.9M312.1 107.6L324 120.1L336 133.8L343.5 143.2L350.3 152.6L356.3 160.1L359.5 164.6L361.7 169.1L366.4 181.1L373 193.1L375.8 199.1L378.2 205.1L383.1 218.6L385.1 226.1L386.5 233.6L387.2 241.1L387.3 248.6L386.8 257.6L385.6 268.1L381.6 289.1L380.8 295.1L379.8 305.6L379.3 313.1L379.2 320.6L379.5 328.1L380.1 334.1L381.2 341.6L383.2 350.6L385.5 358.1L387.8 364.1L391.4 371.6L394.7 377.6L399.5 385.1L404 391.1L410.6 398.6L416.5 404.6L421.7 409.1L427.9 413.6L436.5 419.5L441 422.1L454.5 428.5L462 432.9L465 434.4L468 435.6L472.5 436.9L481.5 438.9L493.5 443.5L499.5 445.4L511.5 447.7L528 451.5L538.5 453.2L567 457.2L577.5 458.3L594.4 459.7M120 112.1L134.6 124.1L148 136.1L155.7 143.6L175.5 163.7L184.5 172.1L190.5 177.2L198 183.3L204 187.8L211.5 193.1L219 198L226.5 202.5L232.5 205.7L240 209.3L246 211.9L253.5 214.7L279 223.6L285 225.9L289.5 228L294.6 230.6L298.5 233L301.5 235.3L304.5 238.1L307.5 242L309 244.6L310.2 247.1L312 252.5L312.9 257.6L313.5 263.6L313.5 269.6L312.3 284.6L312.1 292.1L312.7 299.6L313.8 305.6L315.3 311.6L316.9 316.1L321 326.8L324.7 337.1L327.4 343.1L331 349.1L334.7 353.6L352.5 372.6L374.7 397.1L380.4 403.1L386.5 409.1L391.5 413.7L398.4 419.6L406 425.6L414 431.4L436.7 446.6L451.8 457.1L457.5 460.5L463.5 463.6L475.5 469.5L484.5 473.6L496.5 478.5L510 483.5L523.5 488L540 493.1L555 497.3L567 500.4L577.5 502.6L594.4 505.9M120 220.7L131 233.6L139.5 243.9L146.5 253.1L153 262.1L158.1 269.6L161.9 275.6L177.3 302.6L182.1 310.1L186.4 316.1L191.3 322.1L195.7 326.6L201 331.3L207 335.6L211.9 338.6L217.5 341.4L222 343.1L226.5 344.3L232.5 345.3L238.5 345.7L262.5 345.8L267 346L271.5 346.5L277.5 347.7L283.5 349.5L289.5 351.8L295.5 354.7L303 358.8L315 366.2L330 375.8L339 382.1L345 386.6L351 391.6L358.5 398.2L378.6 416.6L385.7 422.6L395.1 430.1L409.5 440.9L441 463.7L450 469.8L460.5 476.3L474 483.9L486 490.1L499.5 496.4L516 503.5L534 510.6L552 517.2L567 522.3L594.4 531.1M120 308.2L132 319.3L136.4 323.6L153.6 343.1L157.8 347.6L161 350.6L166.3 355.1L171 358.5L177 362.4L182.6 365.6L190.5 369.3L199.5 372.5L207.5 374.6L216 376L223.5 376.6L231 376.8L256.5 376L267 376L276 376.5L285 377.7L294 379.6L303 382.1L313.5 385.9L322.5 389.7L328.5 392.7L334.5 395.9L340.5 399.7L346.5 403.8L354 409.6L367.7 421.1L375.2 427.1L427.5 467.3L439.5 476.1L451.5 484.5L462 491.6L472.5 498.2L484.5 505.3L498 512.5L517.5 522.4L540 533.3L555 540.2L568.5 546.1L582 551.6L594.4 556.2M120 356.6L130.1 364.1L138.7 370.1L148.5 376.4L158.5 382.1L166.5 386L174 389.1L183 392.2L192 394.7L198 396L204 396.9L210 397.5L216 397.7L228 397.4L250.5 395.7L261 395.1L273 395.1L285 395.9L291 396.6L297 397.6L303 398.8L309 400.2L319.5 403.5L325.5 405.8L330 407.7L334.5 410L339 412.6L346.5 417.7L362.3 430.1L379.5 442.6L390.8 451.1L418.5 473.5L453 499.8L466.5 509.8L478.5 517.9L490.5 525.3L532.5 550.3L544.5 557.3L553.5 562.3L562.5 566.8L571.5 570.8L580.5 574.4L594.4 579.3M120 408L138 416L144 418.3L150 420.2L156 421.9L163.5 423.5L172.5 424.9L181.5 426.1L195 427.2L201 427.4L208.5 427.3L222 426.4L246 423.9L256.5 423L268.5 422.5L280.5 422.6L288 423.1L294 423.7L300 424.5L306 425.6L312 427L318 428.6L322.5 430.2L327 432.1L331.5 434.3L337.5 437.8L361.5 453.5L372 460.8L382.5 468.8L390.1 475.1L423.3 503.6L451.5 529.8L463.5 540.4L478.5 552.8L519.1 585.2M120 431.5L135 435L150 437.5L157.5 438.4L166.5 439.2L183 439.9L195 439.8L208.5 439.1L220.5 438L246 435.2L258 434.2L270 433.8L282 434L294 435.1L304.5 436.9L313.5 439.2L322.5 442.4L328.5 445.1L336 449.1L345 454.4L355.5 461.1L363 466.2L370.5 471.7L378 477.6L385.5 483.8L401.4 497.6L414.5 509.6L423.6 518.6L445.5 541.3L457.5 553.3L474 568.9L492 585.2M120 452.6L133.5 453.2L153 453.6L168 453.5L181.5 453L192 452.2L202.5 451.2L235.5 447L247.5 445.7L259.5 444.8L271.5 444.4L279 444.5L285 444.9L291 445.5L297 446.3L303 447.5L307.5 448.7L313.5 450.5L318 452.1L325.5 455.3L334.5 459.8L343.5 464.8L351 469.6L358.9 475.1L368.8 482.6L379.5 491.3L388.5 499L401.4 511.1L411.6 521.6L419.7 530.6L436.5 550.2L450 565.6L459 575.5L468.3 585.2M120 471L130.5 470.5L141 469.8L165 467.8L177 466.6L192 464.5L223.5 459.3L237 457.2L249 455.8L261 454.9L268.5 454.6L276 454.6L283.5 455L289.5 455.5L295.5 456.4L301.5 457.7L306 458.9L312 460.8L321 464.3L330 468.5L337.5 472.4L345 476.9L353 482.6L364.4 491.6L375 500.2L382.5 506.8L388.7 512.6L394.6 518.6L400 524.6L405.1 530.6L411.1 538.1L423 553.8L447.3 585.2M120 510L138 505.7L177 495.3L189 491.9L213 484.5L223.5 481.5L234 478.9L243 477.1L252 475.7L259.5 474.8L267 474.3L274.5 474.2L282 474.4L288 475L294 476L300 477.3L307.5 479.6L316.5 483.1L325.5 487.4L332.9 491.6L339 495.8L345 500.6L355.5 509.6L363.7 517.1L369.6 523.1L375 529.1L379.8 535.1L384.2 541.1L392.1 553.1L411.4 585.2M120 533L145.5 524L169.5 515.1L184.5 509.3L209.6 499.1L219 495.5L228 492.3L237 489.6L244.5 487.7L252 486.1L259.5 485L267 484.2L274.5 483.9L280.5 484.1L286.5 484.6L292.5 485.4L300 487.1L307.5 489.5L315 492.6L322.5 496.4L329.2 500.6L335.3 505.1L342 510.9L348.6 517.1L355.9 524.6L361.1 530.6L365.9 536.6L371.2 544.1L376 551.6L380.4 559.1L394.3 585.2M120 561L132 555.2L181.5 530L219.6 509.6L225.8 506.6L232.7 503.6L240 500.8L246 498.9L252 497.3L259.5 495.7L266.9 494.6L273 494.1L279 494L285 494.4L292.5 495.4L298.5 496.7L305.9 499.1L312 501.7L318 505L324 509L330 513.8L335.2 518.6L340.9 524.6L347.2 532.1L352.7 539.6L357.7 547.1L362.1 554.6L366.1 562.1L370.6 571.1L377.1 585.2M133.7 585.2L142.5 579.6L168.6 562.1L199.5 542.1L208.5 535.9L225.7 523.1L230.3 520.1L235.4 517.1L241.3 514.1L246 512L252 509.8L257.3 508.1L262.5 506.8L268.5 505.7L273.2 505.1L279 504.8L286.5 505.1L292.5 506L298.5 507.4L304.5 509.5L310.5 512.5L315 515.4L319.5 518.9L324 523.1L329.4 529.1L333.9 535.1L338.9 542.6L343.3 550.1L347.3 557.6L350.9 565.1L354.1 572.6L358.9 585.2M222.4 585.2L225 581.6L231.9 571.1L235.3 566.6L244.5 557.1L249 552.8L252.1 550.1L256.2 547.1L259.5 545L264 542.5L268.5 540.4L271.5 539.2L276 537.9L280.5 537.2L283.5 537L286.5 537.2L289.5 537.7L291 538.1L294 539.4L296.7 541.1L298.6 542.6L301.4 545.6L303 547.7L305.3 551.6L307.6 556.1L310.1 562.1L312 567.5L313.7 574.1L315.2 585.2" fill="none" stroke="#5a2a10" stroke-opacity="0.85" stroke-width="0.5"/>
<path d="M520 107.6L520.1 112.1L519.6 125.6L519.6 131.6L521.2 151.1M524.5 172.1L525.6 178.1L529 200.6L532 230.6L532.7 244.1L533 259.1L532.8 266.6L532 280.1L532.1 284.6L532.5 289.1L533.1 292.1L534 294.6L535.1 296.6L536.3 298.1L538.2 299.6L541.5 301.1L544.5 301.8L547.5 302.1L550.5 302L553.5 301.7L558 300.9L564 299.5L576 295.4L588 290.4L591 289.6L594.4 289.1M225 107.6L246.5 125.6L256.5 133.5L262.3 137.6L268.5 141.7L282 149.6M300 163.7L313.5 172.3L319.5 176.5L328.5 183.9L336 190.8L342 197.3L348 205.3L350.8 209.6L352.5 212.6L355.5 219.3L357.4 224.6L358.6 230.6L359.5 238.1L359.6 245.6L359.3 251.6L358.6 257.6L357.4 266.6L354.7 283.1L353.2 298.1M353.2 319.1L354.4 328.1L356 335.6L358.9 344.6L362.1 352.1L368.2 364.1L373.5 373.1L379.5 382.1L386.3 391.1L392.6 398.6L397 403.1L405 410.6L412.5 416.9L418.5 421.3L429 428.2L448.5 439.5M466.5 450.1L477 454L492 460.1L499.5 462.5L522.5 469.1L538.5 473L565.5 478.9L577.5 481.2L594.4 483.8M120 386.7L132 392.2L151 401.6L156 403.8L160.5 405.5M181.5 410.6L190.5 412.5L196.5 413.4L202.5 413.9L210 414.1L216 413.9L222 413.6L249 410.9L259.5 410.1L273 410L280.5 410.2L288 410.6L295.5 411.5L303 412.7L309 413.9L316.5 415.8L322.5 417.6L327 419.3L333 422.1L337.5 424.6M354 436.8L372 448.9L388.5 461.3L411 480.4L432.5 497.6L456 517.5L471 529.3L534 573.4L544.5 580.4L552.5 585.2M120 490.4L159 483.4M181.4 479.6L220.5 470.7L238.5 467.3L249 465.9L258 465L267 464.5L276 464.5L283.5 464.9L291 465.7L297 466.7L304.5 468.7L313.5 471.8L322.5 475.6L331.5 479.9L339 484.2M355.5 497L367.3 506.6L374 512.6L383.1 521.6L389.7 529.1L395.6 536.6L401 544.1L412.5 561.5L422.6 575.6L428.5 585.2M179.1 585.2L201 568.1L219 553.4L222 550.7L224.1 548.6M238.5 533.9L241.5 531.5L245.2 529.1L249 526.9L253.5 524.6L258 522.6L262.5 520.9L267 519.5L271.5 518.4L276 517.8L280.5 517.4L283.5 517.4L288 517.8L292.5 518.5L297 519.6L300 520.6L303 522L306 523.8L308.9 526.1L313.5 530.5L318 536.2L322.1 542.6L326 550.1L334.1 568.1L336.2 574.1L339 585.2" fill="none" stroke="#111" stroke-width="1.9" stroke-linejoin="round"/>
</g>
<g font-family="Liberation Sans, sans-serif" fill="#111">
<text transform="translate(291.0 157.3) rotate(38.0)" text-anchor="middle" dy="3.6" font-size="11.3">40</text>
<text transform="translate(353.8 308.2) rotate(-85.0)" text-anchor="middle" dy="3.6" font-size="11.3">40</text>
<text transform="translate(456.6 445.6) rotate(25.0)" text-anchor="middle" dy="3.6" font-size="11.3">40</text>
<text transform="translate(522.0 161.3) rotate(85.0)" text-anchor="middle" dy="3.6" font-size="11.3">30</text>
<text transform="translate(170.3 408.0) rotate(15.0)" text-anchor="middle" dy="3.6" font-size="11.3">50</text>
<text transform="translate(345.5 431.5) rotate(30.0)" text-anchor="middle" dy="3.6" font-size="11.3">50</text>
<text transform="translate(170.3 481.5) rotate(-8.0)" text-anchor="middle" dy="3.6" font-size="11.3">60</text>
<text transform="translate(347.0 490.5) rotate(35.0)" text-anchor="middle" dy="3.6" font-size="11.3">60</text>
<text transform="translate(231.0 540.5) rotate(-38.0)" text-anchor="middle" dy="3.6" font-size="11.3">70</text>
</g>
<path d="M128.8 101.6V107.6M128.8 585.2V591.2M114.0 124.1H120.0M594.4 124.1H600.4M218.6 101.6V107.6M218.6 585.2V591.2M114.0 213.9H120.0M594.4 213.9H600.4M308.4 101.6V107.6M308.4 585.2V591.2M114.0 303.8H120.0M594.4 303.8H600.4M398.1 101.6V107.6M398.1 585.2V591.2M114.0 393.6H120.0M594.4 393.6H600.4M487.9 101.6V107.6M487.9 585.2V591.2M114.0 483.5H120.0M594.4 483.5H600.4M577.7 101.6V107.6M577.7 585.2V591.2M114.0 573.3H120.0M594.4 573.3H600.4" stroke="#9a9a9a" stroke-width="1" fill="none"/>
<g font-family="Liberation Sans, sans-serif" font-size="12" fill="#111">
<text x="128.8" y="604.1" text-anchor="middle" textLength="36.8" lengthAdjust="spacingAndGlyphs">332000</text>
<text x="112.7" y="128.4" text-anchor="end" textLength="43.5" lengthAdjust="spacingAndGlyphs">6179500</text>
<text x="218.6" y="604.1" text-anchor="middle" textLength="36.8" lengthAdjust="spacingAndGlyphs">332500</text>
<text x="112.7" y="218.2" text-anchor="end" textLength="43.5" lengthAdjust="spacingAndGlyphs">6179000</text>
<text x="308.4" y="604.1" text-anchor="middle" textLength="36.8" lengthAdjust="spacingAndGlyphs">333000</text>
<text x="112.7" y="308.1" text-anchor="end" textLength="43.5" lengthAdjust="spacingAndGlyphs">6178500</text>
<text x="398.1" y="604.1" text-anchor="middle" textLength="36.8" lengthAdjust="spacingAndGlyphs">333500</text>
<text x="112.7" y="397.9" text-anchor="end" textLength="43.5" lengthAdjust="spacingAndGlyphs">6178000</text>
<text x="487.9" y="604.1" text-anchor="middle" textLength="36.8" lengthAdjust="spacingAndGlyphs">334000</text>
<text x="112.7" y="487.8" text-anchor="end" textLength="43.5" lengthAdjust="spacingAndGlyphs">6177500</text>
<text x="577.7" y="604.1" text-anchor="middle" textLength="36.8" lengthAdjust="spacingAndGlyphs">334500</text>
<text x="112.7" y="577.6" text-anchor="end" textLength="43.5" lengthAdjust="spacingAndGlyphs">6177000</text>
</g>
<path d="M195.5 413.4L214.0 391.3L343.7 242.4L484.4 136.8L499.8 124.5" fill="none" stroke="#1a9ac6" stroke-width="1.8" stroke-linejoin="round"/>
<circle cx="484.4" cy="136.8" r="3.6" fill="#1e88e5"/>
<circle cx="343.7" cy="242.4" r="3.6" fill="#1e88e5"/>
<circle cx="214.0" cy="391.3" r="3.6" fill="#1e88e5"/>
<circle cx="293.4" cy="527.0" r="3.6" fill="#1e88e5"/>
<circle cx="449.0" cy="385.9" r="3.6" fill="#1e88e5"/>
<g font-family="Liberation Sans, sans-serif" font-weight="bold" font-size="18.5" fill="#1e88e5" text-anchor="middle">
<text x="484.5" y="126.1">F3</text>
<text x="343.5" y="231.7">G5</text>
<text x="214.1" y="380.2">G12</text>
<text x="294.0" y="517.0">F2</text>
<text x="449.0" y="375.2">F1</text>
</g>
<g clip-path="url(#c2)">
<path fill="#e6f5e0" fill-rule="evenodd" stroke="#e6f5e0" stroke-width="0.6" d="M737.5 104.3L945.2 104.3L934 109.2L919.6 116.3L901 126L871.9 141.8L835 163.6L826 169.2L808.2 180.8L800.9 185.3L793 189.9L784.7 194.3L775 198.8L769 201.2L763.1 203.3L752.5 206.4L737.5 210Z"/>
<path fill="#e1f4dc" fill-rule="evenodd" stroke="#e1f4dc" stroke-width="0.6" d="M941.6 105.8L945.2 104.3L1074.6 104.3L1066 107.9L1057 111.3L1031.5 120.3L995.5 134.9L982 140.9L970 146.5L947.5 157.7L937 163.3L923.5 171L904 182.9L895 189L878.5 200.9L867.8 209.3L855.5 219.8L839.5 232.8L823 246.9L803.5 262.1L797.5 266.5L793 269.5L787 273.1L779.5 277.1L772 280.5L766 282.8L760 284.6L754 285.9L737.5 288.5L737.5 210L752.5 206.4L763.1 203.3L769 201.2L775 198.8L785.5 193.9L793 189.9L802 184.6L810.5 179.3L826 169.2L835 163.6L871 142.3L898 127.6L913.8 119.3L929.5 111.3Z"/>
<path fill="#ddf2d8" fill-rule="evenodd" stroke="#ddf2d8" stroke-width="0.6" d="M1071.1 105.8L1074.6 104.3L1135.4 104.3L1108 119.7L1100.5 123.7L1082.5 132L1062.5 141.8L1058.5 143.6L1042 150.1L1020.4 159.8L1003 166.8L994 171L971.5 182.3L967.8 183.8L953.5 189L940 194.6L929.5 199.7L920.6 204.8L907 213.6L894.5 222.8L881.8 233.3L867.1 246.8L856.6 257.3L840 275.3L820 299L809.5 311L803.5 317L797.5 322L790 327.3L784 331.1L778 334.3L770.5 337.6L764.5 339.6L757 341.4L748 343L737.5 344.4L737.5 288.5L754 285.9L760 284.6L766 282.8L772 280.5L779.5 277.1L787 273.1L793 269.5L797.5 266.5L803.5 262.1L823 246.9L839.5 232.8L855.5 219.8L867.8 209.3L878.5 200.9L895 189L904 182.9L923.5 171L937 163.3L947.5 157.7L970 146.5L982 140.9L995.5 134.9L1031.5 120.3L1055.5 111.9Z"/>
<path fill="#daf1d5" fill-rule="evenodd" stroke="#daf1d5" stroke-width="0.6" d="M1132.9 105.8L1135.4 104.3L1181 104.3L1177.6 107.3L1174 110.1L1164.6 116.3L1156 121.2L1139.5 129.4L1126 137.9L1118.5 142L1112.5 144.9L1100.5 149.9L1085.5 158.2L1078 161.9L1072 164.5L1060 169.1L1046.5 175.3L1039 178.6L1019.5 186.3L1000 196.8L991 201.1L983.5 204.2L969.4 209.3L948.9 218.3L943 221.3L930.7 228.8L926.2 231.8L922.2 234.8L910.9 243.8L905.6 248.3L889 264.7L886 267.9L882.3 272.3L875.2 281.3L868 291L862.3 299.3L856.5 308.3L850.5 318.8L842.5 336.3L839.9 341.3L838 344.3L835 348.3L832 351.7L828.9 354.8L824.5 358.6L821.5 360.9L817.2 363.8L809.5 368.1L805 370.2L800.5 372L791.5 375L781 377.6L769 379.8L755.5 381.6L737.5 383.6L737.5 344.4L748 343L757 341.4L764.5 339.6L770.5 337.6L778 334.3L784 331.1L790 327.3L797.5 322L803.5 317L809.5 311L820 299L838.7 276.8L853.8 260.3L862.4 251.3L873.5 240.8L885.3 230.3L895 222.4L905.5 214.6L913 209.6L922 204L929.5 199.7L935.5 196.7L941.5 194L950.5 190.2L971.5 182.3L994 171L1003 166.8L1020.4 159.8L1042 150.1L1061.5 142.3L1082.5 132L1100.5 123.7Z"/>
<path fill="#d7efd1" fill-rule="evenodd" stroke="#d7efd1" stroke-width="0.6" d="M1179.4 105.8L1181 104.3L1212 104.3L1212 117.9L1210.7 119.3L1208.5 121.3L1203.1 125.3L1198.2 128.3L1185.3 135.8L1166.1 149.3L1147.7 161.3L1134.6 168.8L1123 174.8L1106.5 182.2L1084 190.1L1051 202.4L1036 208.6L1016.5 217.9L1003 224.9L992.5 231L982 237.9L969.5 246.8L955 256L947.5 261L932.5 271.9L922 280.4L899.5 300.5L893.5 306.4L890.5 310L886.3 315.8L881.5 323.3L873.7 336.8L868 345.8L862 354.5L856.1 362.3L848.5 371.2L842.5 377.4L835.7 383.3L829 388.1L821.5 392.4L812.5 396.7L803.5 400.3L796 402.6L785.5 405.3L772 408L758.5 410.5L737.5 413.8L737.5 383.6L755.5 381.6L769 379.8L781 377.6L791.5 375L800.5 372L805 370.2L809.5 368.1L817.2 363.8L821.5 360.9L824.5 358.6L828.9 354.8L832 351.7L835 348.3L838 344.3L839.9 341.3L842.5 336.3L850.5 318.8L856.5 308.3L862.3 299.3L867.4 291.8L874 282.9L881.1 273.8L886 267.9L889 264.8L905.5 248.4L916.5 239.3L926.5 231.6L940.5 222.8L945.7 219.8L948.9 218.3L969.4 209.3L983.5 204.2L991 201.1L1000 196.8L1019.5 186.3L1039 178.6L1046.5 175.3L1060 169.1L1072 164.5L1078 161.9L1085.5 158.2L1100.5 149.9L1112.5 144.9L1118.5 142L1126 137.9L1139.5 129.4L1154.5 121.9L1163.5 117L1172.5 111.2Z"/>
<path fill="#d3eecc" fill-rule="evenodd" stroke="#d3eecc" stroke-width="0.6" d="M1210.7 119.3L1212 117.9L1212 153.6L1195 163L1174.9 174.8L1164.3 180.8L1152.8 186.8L1142.5 191.7L1129.5 197.3L1117.9 201.8L1072 217.5L1060 221.9L1049.5 226L1037.5 231.1L1025.5 236.7L1015 242.1L1004.5 248.1L995.5 253.8L982 262.9L967 273.2L955.9 281.3L947.5 287.7L938.9 294.8L930.2 302.3L922.1 309.8L911.5 320.3L904 328.9L898 336.6L884.8 354.8L877 365.1L869.7 374.3L863.5 381.6L857.5 388.1L851.5 394L845.5 399.2L839.5 403.8L830.5 409.7L821.5 414.7L812.5 418.8L802 422.9L791.5 426.4L779.5 429.9L737.5 440.6L737.5 413.8L758.5 410.5L773.5 407.8L787 404.9L797.5 402.2L806.5 399.1L817 394.6L826 389.9L829.4 387.8L833.5 385L839.5 380.2L845.5 374.4L851.5 367.8L858.4 359.3L865 350.3L869.9 342.8L874.6 335.3L882.5 321.8L886 316.2L889.5 311.3L893.5 306.4L899.5 300.5L907.7 293.3L917.5 284.3L923.5 279.1L934 270.8L950.5 259L969.5 246.8L982 237.9L992.5 231L1003 224.9L1016.5 217.9L1036 208.6L1051 202.4L1084 190.1L1106.5 182.2L1122.9 174.8L1131.8 170.3L1142.7 164.3L1150.1 159.8L1166.1 149.3L1185.3 135.8L1198.2 128.3L1203.1 125.3L1207.3 122.3Z"/>
<path fill="#cfecc8" fill-rule="evenodd" stroke="#cfecc8" stroke-width="0.6" d="M1211.6 153.8L1212 153.6L1212 182.2L1193.6 191.3L1180 197.7L1167.3 203.3L1152.4 209.3L1140.3 213.8L1129 217.7L1093 229.3L1078 234.3L1063 239.7L1049.5 245L1037.5 250.1L1027 255L1016.5 260.5L1006 266.5L997 272.1L988 278L979 284.3L970 290.9L962.5 296.8L955 303L947.3 309.8L940 316.6L927.3 329.3L916 341.8L905.5 354.4L882.3 383.3L871 396.5L865 402.8L859 408.6L853 413.9L847 418.7L839.5 424L830.5 429.5L821.5 434.2L812.5 438.4L803.5 442.2L794.5 445.8L756.9 459.8L737.5 467.3L737.5 440.6L779.5 429.9L791.5 426.4L802 422.9L812.5 418.8L821.5 414.7L830.5 409.7L839.5 403.8L845.5 399.2L851.7 393.8L857.8 387.8L864.7 380.3L871 372.7L878 363.8L898 336.6L903.7 329.3L910.1 321.8L918.9 312.8L926.9 305.3L935.3 297.8L943 291.4L950.5 285.4L967 273.2L994 254.8L1006 247.2L1016.5 241.3L1028.5 235.3L1043.5 228.5L1055.5 223.6L1067.5 219.1L1084 213.3L1109.4 204.8L1120 201L1133.1 195.8L1144 191L1154.5 185.9L1164.3 180.8L1174.9 174.8L1195 163Z"/>
<path fill="#ccebc5" fill-rule="evenodd" stroke="#ccebc5" stroke-width="0.6" d="M1211.8 182.3L1212 182.2L1212 208.9L1192 216.2L1172.3 222.8L1148.1 230.3L1096 245.4L1081 250.3L1064.5 256.3L1043.5 264.4L1036 267.6L1028.5 271.1L1021 274.9L1013.5 279.1L1006 283.5L997 289.2L984.7 297.8L973.2 306.8L962.9 315.8L952 326.3L937.7 341.3L920.5 360.2L910 372.3L888.4 398.3L878.5 409.5L872.5 415.8L866.5 421.7L860.9 426.8L855.5 431.3L849.5 435.8L842.5 440.6L835 445.2L827.5 449.4L814 456.3L787.3 468.8L774.9 474.8L737.5 494.1L737.5 467.3L756.9 459.8L794.5 445.8L803.5 442.2L812.5 438.4L821.5 434.2L830.5 429.5L839.5 424L847 418.7L853 413.9L859 408.6L865 402.8L871 396.5L883 382.5L905.5 354.4L914.5 343.6L925 331.8L936.2 320.3L949 308.2L955.8 302.3L963.1 296.3L976.9 285.8L992.5 275L1006 266.5L1018 259.6L1030 253.6L1043.5 247.5L1058.5 241.4L1075 235.3L1091.5 229.7L1130.5 217.2L1142.5 213L1153 209.1L1167.3 203.3L1180.9 197.3L1193.6 191.3Z"/>
<path fill="#c5e8c2" fill-rule="evenodd" stroke="#c5e8c2" stroke-width="0.6" d="M1210.9 209.3L1212 208.9L1212 233.2L1192 238.3L1118.5 255.7L1102 260L1088.5 264.1L1081 266.7L1065.9 272.3L1048 278.5L1037.5 282.7L1030 286.2L1021 290.8L1012 296L1003 301.7L993.4 308.3L985 314.9L977.1 321.8L967.9 330.8L959.3 339.8L943 357.8L923.5 378.6L916 387.1L897.5 408.8L887.5 420L875.5 432.3L870.2 437.3L865 441.8L859 446.6L853 451L847 455.2L841 459.1L826 467.9L799.7 482.3L789.2 488.3L754 510.7L737.5 520.7L737.5 494.1L774.9 474.8L787.3 468.8L814 456.3L827.5 449.4L835 445.2L842.5 440.6L849.5 435.8L855.5 431.3L860.9 426.8L866.5 421.7L872.5 415.8L878.5 409.5L888.4 398.3L910 372.3L920.5 360.2L937.7 341.3L952 326.3L962.9 315.8L973.2 306.8L984.7 297.8L997 289.2L1006 283.5L1013.5 279.1L1021 274.9L1028.5 271.1L1036 267.6L1043.5 264.4L1064.5 256.3L1081 250.3L1096 245.4L1148.1 230.3L1171 223.2L1190.2 216.8Z"/>
<path fill="#bee6bf" fill-rule="evenodd" stroke="#bee6bf" stroke-width="0.6" d="M1211.6 233.3L1212 233.2L1212 256.5L1174 262.3L1144 267.4L1115.5 273.1L1105 275.5L1094.5 278.3L1085.5 281.1L1070.5 287.1L1054 291.6L1048 293.7L1042 296.1L1034.5 299.5L1026.3 303.8L1018 308.6L1009 314.2L1001.5 319.5L995.5 324.1L989.6 329.3L983.5 335.3L973.6 345.8L955 367.4L934 388.8L909.4 416.3L902.5 423.8L889.1 437.3L876.1 449.3L857.5 464.3L848.5 470.9L826 486.4L805 499.3L799 503.2L772 523.4L758.5 532.8L744.4 542.3L737.5 547.5L737.5 520.7L754 510.7L789.2 488.3L799.7 482.3L826 467.9L841 459.1L847 455.2L853 451L859 446.6L865 441.8L870.2 437.3L875.5 432.3L887.5 420L897.5 408.8L916 387.1L923.5 378.6L943 357.8L959.3 339.8L967.9 330.8L977.1 321.8L985 314.9L992.5 309L1002.1 302.3L1010.5 296.9L1019.5 291.7L1028.5 286.9L1037.5 282.7L1048 278.5L1065.9 272.3L1081 266.7L1088.5 264.1L1102 260L1118.5 255.7L1192 238.3Z"/>
<path fill="#b7e3bc" fill-rule="evenodd" stroke="#b7e3bc" stroke-width="0.6" d="M1207.1 257.3L1212 256.5L1212 279.5L1172.5 282.8L1147 285.4L1133.5 287.2L1121.5 289.1L1111 291L1102 293L1091.5 295.8L1075.3 300.8L1061.5 304.8L1055.5 306.7L1049.5 308.9L1040.5 312.7L1033 316.5L1024 321.6L1016.8 326.3L1010.6 330.8L1006 334.5L1001.5 338.5L995.5 344.3L987.2 353.3L970 373.9L961 383.9L924.2 422.3L916.7 429.8L908.6 437.3L898.2 446.3L870.8 468.8L833.5 501.5L829 504.9L811.9 516.8L802 524.3L796 529.1L785.5 538.8L779.5 544L761.5 557.8L758.5 560.7L751.1 569.3L746.3 573.8L741.9 576.8L739 578.3L737.5 578.8L737.5 547.5L744.4 542.3L758.5 532.8L772 523.4L799 503.2L805 499.3L826 486.4L848.5 470.9L857.5 464.3L876.1 449.3L889.1 437.3L902.5 423.8L909.4 416.3L934 388.8L955 367.4L973.6 345.8L983.5 335.3L989.5 329.4L994.6 324.8L1000 320.6L1006.7 315.8L1015 310.4L1024 305.1L1033 300.3L1041.6 296.3L1048 293.7L1054 291.6L1070.5 287.1L1085.5 281.1L1093 278.7L1102 276.2L1114 273.4L1142.5 267.6L1174 262.3Z"/>
<path fill="#b2e1b9" fill-rule="evenodd" stroke="#b2e1b9" stroke-width="0.6" d="M1208.9 279.8L1212 279.5L1212 303.3L1171 303.9L1147 304.9L1135 305.7L1124.5 306.7L1114 308.1L1105 309.5L1094.5 311.6L1082.5 314.4L1070.5 317.6L1060 320.9L1052.5 323.8L1045 327.1L1037.5 331L1030.3 335.3L1024 339.7L1018.1 344.3L1013 348.8L1006.9 354.8L998.5 364.2L980.5 386.3L971.5 396.7L958 411.2L942.6 426.8L931.3 437.3L922 445.1L912.4 452.3L890.5 467.3L884.5 472L878.5 477.3L870.5 485.3L854.5 502.3L847 509.9L839.5 517.1L826.4 528.8L820.2 534.8L816 539.3L808.5 548.3L805 552.2L785.5 572.8L781.5 576.8L778.2 579.8L775.1 582.1L737.5 582.1L737.5 578.8L739 578.3L741.9 576.8L744.3 575.3L748.1 572.3L752.5 567.8L758.9 560.3L761.5 557.8L779.5 544L785.5 538.8L796 529.1L802 524.3L811.9 516.8L829 504.9L833.5 501.5L870.8 468.8L898.2 446.3L910.3 435.8L916.7 429.8L924.2 422.3L961.6 383.3L970 373.9L987.2 353.3L997 342.8L1003 337.1L1008.7 332.3L1014.7 327.8L1021.4 323.3L1028.5 319L1036 314.9L1043.5 311.3L1051 308.3L1060 305.2L1075.3 300.8L1090 296.2L1103.5 292.6L1112.5 290.7L1123 288.9L1135 287L1147 285.4L1172.5 282.8Z"/>
<path fill="#abdeb6" fill-rule="evenodd" stroke="#abdeb6" stroke-width="0.6" d="M1177.9 303.8L1212 303.3L1212 328.6L1169.5 326.2L1145.5 325.3L1133.5 325.4L1123 325.7L1112.5 326.3L1103.5 327.3L1093 328.7L1084 330.4L1075 332.5L1066 335.2L1058.5 337.9L1051 341.2L1043.5 345.2L1037.5 349L1033 352.2L1028 356.3L1023 360.8L1018.6 365.3L1010.7 374.3L991 399L979 413L971.8 420.8L964.5 428.3L948.8 443.3L938.5 452.3L929.5 459.1L919 465.7L902.5 474.8L896.5 478.4L893.1 480.8L888.2 485.3L881.3 492.8L868 509.1L860.5 517.9L839.6 540.8L834.3 546.8L830.8 551.3L818.1 569.3L813.4 575.3L807.7 582.1L775.1 582.1L779.9 578.3L787 571.3L806.5 550.6L816 539.3L821.7 533.3L828 527.3L841 515.7L847 509.9L854.5 502.3L871.9 483.8L879.6 476.3L884.8 471.8L890.5 467.3L910.3 453.8L920.5 446.3L931.3 437.3L942.6 426.8L958 411.2L971.5 396.7L980.5 386.3L998.5 364.2L1006 355.8L1011.4 350.3L1016.4 345.8L1021.9 341.3L1027 337.5L1033 333.6L1040.5 329.3L1046.6 326.3L1054 323.2L1061.5 320.4L1070.5 317.6L1082.5 314.4L1093 311.9L1102 310.1L1111 308.5L1120 307.3L1129 306.3L1139.5 305.4L1151.5 304.6Z"/>
<path fill="#a3dbb7" fill-rule="evenodd" stroke="#a3dbb7" stroke-width="0.6" d="M1113 326.3L1121.5 325.7L1130.5 325.4L1150 325.4L1171 326.2L1212 328.6L1212 356L1166.5 349.7L1146.8 347.3L1136.5 346.4L1127.5 345.8L1118.5 345.4L1109.5 345.4L1100.5 345.7L1093 346.4L1085.5 347.4L1078 348.8L1070.5 350.8L1064.5 352.8L1058.5 355.3L1052.5 358.4L1046.5 362L1040.5 366.4L1034.7 371.3L1030 375.8L1024 382.5L1012.6 396.8L995.5 417.5L991 422.6L974.4 440.3L949.1 464.3L943 469.3L935 474.8L928 479L911.5 488.3L905.5 492.1L900.5 495.8L895.5 500.3L892 504.4L880.1 519.8L865.3 537.8L858.5 546.8L853.1 554.3L849.2 560.3L836.4 582.1L807.7 582.1L813.4 575.3L818.1 569.3L830.8 551.3L834.3 546.8L839.6 540.8L860.5 517.9L868 509.1L881.3 492.8L887.5 486L892 481.7L896.5 478.4L902.5 474.8L919 465.7L925 462.1L930.6 458.3L935.5 454.7L940 451.1L950.5 441.8L964.5 428.3L977.5 414.7L989.5 400.8L1008.2 377.3L1014.5 369.8L1021.5 362.3L1028.5 355.8L1036 350.1L1040.5 347L1045 344.4L1054 339.8L1063 336.2L1073.5 332.9L1085.5 330.1L1099 327.8Z"/>
<path fill="#9bd8b9" fill-rule="evenodd" stroke="#9bd8b9" stroke-width="0.6" d="M1099.6 345.8L1108 345.4L1118.5 345.4L1129 345.8L1141 346.7L1163.5 349.3L1212 356L1212 386.3L1166.5 375.5L1144 370.6L1129 368L1120 366.8L1112.5 366.1L1105 365.7L1096 365.6L1088.5 366L1082.5 366.7L1076.5 367.8L1070.5 369.5L1065.4 371.3L1060 373.9L1054 377.3L1048 381.4L1042 386.1L1037.5 390.2L1033 395L1025.2 404.3L1018 411.1L1015 414.3L1012.2 417.8L1006.8 425.3L1004.5 428.2L994 438.8L985 449.6L970.7 462.8L956.5 477.5L952 481L939.2 489.8L928 496.8L923.5 500L911.8 509.3L907.1 513.8L898.4 524.3L886.5 539.3L880.9 546.8L876.9 552.8L872.7 560.3L869.9 566.3L868.4 570.8L865.2 582.1L836.4 582.1L849.2 560.3L855.3 551.3L865.3 537.8L880.1 519.8L891.7 504.8L895 500.9L899.5 496.6L905.5 492.1L911.5 488.3L928 479L935.5 474.5L943.6 468.8L950.5 463L974.4 440.3L989.9 423.8L996.5 416.3L1013.8 395.3L1024.6 381.8L1030 375.8L1034.7 371.3L1040.5 366.4L1048 361L1055.5 356.8L1063 353.4L1070.5 350.8L1079.5 348.5L1088.5 346.9Z"/>
<path fill="#94d5bc" fill-rule="evenodd" stroke="#94d5bc" stroke-width="0.6" d="M1081.8 366.8L1087 366.1L1093 365.7L1105 365.7L1117 366.5L1132 368.4L1141 370L1151.5 372.2L1212 386.3L1212 421.5L1190.5 414L1157.5 401.9L1146.9 398.3L1137.3 395.3L1130.5 393.4L1124.5 392L1118.5 391L1109.5 390L1100.5 389.4L1093 389.4L1085.5 390L1078 391.2L1070.5 393.1L1064.5 395.2L1057.2 398.3L1051 401.5L1046.5 404.3L1025.7 420.8L1023.3 423.8L1017.3 432.8L1013.6 437.3L1010.5 440.6L1003 447.7L997 455.7L993.6 459.8L980.5 473.8L974.9 479.3L971.4 482.3L965.5 486.9L959.5 492.2L955.1 495.8L950.5 499L941 504.8L923.5 518.2L920.1 521.3L916 525.8L912.3 530.3L910 534L906.8 540.8L902.7 551.3L900.1 558.8L898.5 564.8L895.1 582.1L865.2 582.1L868.4 570.8L869.9 566.3L872.7 560.3L876.9 552.8L880.9 546.8L886.5 539.3L904.5 516.8L908.5 512.3L911.8 509.3L923.5 500L928 496.8L937 491.3L947.5 484.1L954.3 479.3L957.8 476.3L970.7 462.8L985 449.6L994 438.8L1004.5 428.2L1006.8 425.3L1012.2 417.8L1015.9 413.3L1018.9 410.3L1024 405.6L1034.5 393.3L1037.5 390.2L1042 386.1L1046.5 382.5L1052.5 378.3L1057 375.5L1062.1 372.8L1066 371.1L1070.5 369.5L1076.5 367.8Z"/>
<path fill="#8bd2bf" fill-rule="evenodd" stroke="#8bd2bf" stroke-width="0.6" d="M1080.1 390.8L1085.5 390L1091.5 389.4L1096 389.3L1102 389.4L1108 389.8L1115.5 390.6L1121.5 391.5L1127.5 392.7L1138 395.5L1153 400.3L1192 414.5L1212 421.5L1212 471.8L1170.8 450.8L1154.5 442.8L1145.7 438.8L1139.5 436.2L1133.5 433.9L1127.5 432L1120 430L1114 428.9L1106.5 428L1099 427.5L1093 427.7L1087 428.3L1081 429.5L1075.1 431.3L1068.1 434.3L1062.1 437.3L1058.5 439.4L1054 442.6L1044.2 450.8L1040.5 454.4L1033.5 462.8L1025.5 471.4L1022.5 475.2L1018 481.4L1010.5 490.9L1004.5 499.1L1002.3 501.8L1000 504.1L989.5 514.6L986.5 517.3L973 528.1L965 533.3L960.8 536.3L953.5 542.2L950.5 545.1L947.8 548.3L946 551L942.1 557.3L940 561.4L938.5 564.9L937 569L933.3 582.1L895.1 582.1L897.5 569.3L899.3 561.8L902.1 552.8L905.6 543.8L908.8 536.3L911.3 531.8L914.7 527.3L920.1 521.3L923.5 518.2L941 504.8L950.5 499L956.5 494.7L965.5 486.9L971.4 482.3L976.5 477.8L981 473.3L993.6 459.8L997 455.7L1003 447.7L1010.5 440.6L1013.6 437.3L1017.3 432.8L1024 422.8L1025.5 421L1027.4 419.3L1035.3 413.3L1045 405.4L1048 403.4L1052.5 400.7L1058.5 397.7L1066 394.6L1073.5 392.3Z"/>
<path fill="#83cfc1" fill-rule="evenodd" stroke="#83cfc1" stroke-width="0.6" d="M1087 428.3L1091.5 427.8L1097.5 427.5L1103.5 427.7L1109.5 428.3L1115.5 429.1L1120 430L1126 431.5L1132 433.4L1138 435.6L1144 438.1L1158.6 444.8L1170.8 450.8L1212 471.8L1212 548.2L1204 543.5L1187.5 532L1181.5 528.3L1174 524.2L1159 516.3L1151.5 512.5L1144 509.1L1138 506.7L1132 504.6L1126 502.9L1121.5 502L1115.5 501.2L1111 500.9L1106.5 500.9L1102 501.3L1096 502.2L1091.5 503.4L1087 504.9L1081 507.3L1076.5 509.5L1070.5 513L1064.5 517L1060 520.3L1055.5 524.2L1051 529.1L1048.1 531.8L1043.5 535.6L1028.8 546.8L1021.9 552.8L1016.5 557.9L1012 562.9L1007 569.3L1003.9 573.8L999.1 582.1L933.3 582.1L937 569L939.8 561.8L943 555.8L946.8 549.8L949 546.8L950.5 545.1L953.4 542.3L959.5 537.3L964 534L973 528.1L986.5 517.3L989.5 514.6L1000 504.1L1002.3 501.8L1004.5 499.1L1010.5 490.9L1018 481.4L1025.2 471.8L1028.5 468L1033.5 462.8L1039 456.1L1042 452.9L1045 450L1054 442.6L1057.1 440.3L1061.5 437.6L1069 433.9L1075 431.3L1081 429.5Z"/>
<path fill="#7accc4" fill-rule="evenodd" stroke="#7accc4" stroke-width="0.6" d="M1098.3 501.8L1103.5 501.1L1108 500.9L1112.5 501L1118.5 501.5L1123 502.3L1129 503.7L1135 505.6L1141 507.9L1148.5 511.1L1156 514.8L1180 527.5L1187.5 532L1204 543.5L1212 548.2L1212 582.1L999.1 582.1L1003.9 573.8L1006 570.7L1010.5 564.7L1015.6 558.8L1021 553.6L1028.5 547.1L1043.5 535.6L1048.1 531.8L1051 529.1L1055.5 524.2L1058.8 521.3L1063 518L1069 513.9L1073.5 511.2L1078 508.8L1083.3 506.3L1088.5 504.3L1093 503Z"/>
<path fill="url(#st2a)" fill-rule="evenodd" d="M1098.3 501.8L1108 500.9L1118.5 501.5L1129 503.7L1141 507.9L1156 514.8L1180 527.5L1187.5 532L1204 543.5L1212 548.2L1212 582.1L999.1 582.1L1006 570.7L1015.6 558.8L1028.5 547.1L1048.1 531.8L1058.8 521.3L1069 513.9L1078 508.8L1088.5 504.3Z"/>
<path d="M737.5 210L752.5 206.4L763.1 203.3L769 201.2L775 198.8L784.7 194.3L793 189.9L800.9 185.3L808.2 180.8L826 169.2L835 163.6L871.9 141.8L901 126L919.6 116.3L934 109.2L945.2 104.3M737.5 288.5L754 285.9L760 284.6L766 282.8L772 280.5L779.5 277.1L787 273.1L793 269.5L797.5 266.5L803.5 262.1L823 246.9L839.5 232.8L855.5 219.8L867.8 209.3L878.5 200.9L895 189L904 182.9L923.5 171L937 163.3L947.5 157.7L970 146.5L982 140.9L995.5 134.9L1031.5 120.3L1057 111.3L1066 107.9L1074.6 104.3M737.5 344.4L748 343L757 341.4L764.5 339.6L770.5 337.6L778 334.3L784 331.1L790 327.3L797.5 322L803.5 317L809.5 311L820 299L840 275.3L856.6 257.3L867.1 246.8L881.8 233.3L894.5 222.8L907 213.6L920.6 204.8L929.5 199.7L940 194.6L953.5 189L967.8 183.8L971.5 182.3L994 171L1003 166.8L1020.4 159.8L1042 150.1L1058.5 143.6L1062.5 141.8L1082.5 132L1100.5 123.7L1108 119.7L1135.4 104.3M737.5 383.6L755.5 381.6L769 379.8L781 377.6L791.5 375L800.5 372L805 370.2L809.5 368.1L817.2 363.8L821.5 360.9L824.5 358.6L828.9 354.8L832 351.7L835 348.3L838 344.3L839.9 341.3L842.5 336.3L850.5 318.8L856.5 308.3L862.3 299.3L868 291L875.2 281.3L882.3 272.3L886 267.9L889 264.7L905.6 248.3L910.9 243.8L922.2 234.8L926.2 231.8L930.7 228.8L943 221.3L948.9 218.3L969.4 209.3L983.5 204.2L991 201.1L1000 196.8L1019.5 186.3L1039 178.6L1046.5 175.3L1060 169.1L1072 164.5L1078 161.9L1085.5 158.2L1100.5 149.9L1112.5 144.9L1118.5 142L1126 137.9L1139.5 129.4L1156 121.2L1164.6 116.3L1174 110.1L1177.6 107.3L1181 104.3M737.5 440.6L779.5 429.9L791.5 426.4L802 422.9L812.5 418.8L821.5 414.7L830.5 409.7L839.5 403.8L845.5 399.2L851.5 394L857.5 388.1L863.5 381.6L869.7 374.3L877 365.1L884.8 354.8L898 336.6L904 328.9L911.5 320.3L922.1 309.8L930.2 302.3L938.9 294.8L947.5 287.7L955.9 281.3L967 273.2L982 262.9L995.5 253.8L1004.5 248.1L1015 242.1L1025.5 236.7L1037.5 231.1L1049.5 226L1060 221.9L1072 217.5L1117.9 201.8L1129.5 197.3L1142.5 191.7L1152.8 186.8L1164.3 180.8L1174.9 174.8L1195 163L1212 153.6M737.5 467.3L756.9 459.8L794.5 445.8L803.5 442.2L812.5 438.4L821.5 434.2L830.5 429.5L839.5 424L847 418.7L853 413.9L859 408.6L865 402.8L871 396.5L882.3 383.3L905.5 354.4L916 341.8L927.3 329.3L940 316.6L947.3 309.8L955 303L962.5 296.8L970 290.9L979 284.3L988 278L997 272.1L1006 266.5L1016.5 260.5L1027 255L1037.5 250.1L1049.5 245L1063 239.7L1078 234.3L1093 229.3L1129 217.7L1140.3 213.8L1152.4 209.3L1167.3 203.3L1180 197.7L1193.6 191.3L1212 182.2M737.5 494.1L774.9 474.8L787.3 468.8L812.5 457L826 450.2L833.5 446.1L841 441.6L848.5 436.5L854.5 432.1L860.5 427.2L865.9 422.3L872.1 416.3L877.8 410.3L888.4 398.3L910 372.3L922 358.5L941.9 336.8L956.5 321.8L968.5 310.8L980.5 300.9L986.7 296.3L994 291.2L1007.5 282.6L1015 278.2L1022.5 274.1L1036 267.6L1051 261.5L1075 252.5L1087 248.3L1099 244.5L1145.5 231.1L1167.6 224.3L1190.2 216.8L1212 208.9M737.5 520.7L754 510.7L789.2 488.3L799.7 482.3L824.5 468.7L839.5 460L845.5 456.2L851.5 452.1L857.5 447.7L863.5 443L868.5 438.8L874 433.7L880 427.8L886.8 420.8L896.5 410L916 387.1L923.5 378.6L944.4 356.3L962.1 336.8L970.8 327.8L980.4 318.8L989.5 311.3L1000 303.7L1011.5 296.3L1019.5 291.7L1027 287.7L1033.9 284.3L1040.5 281.4L1049.5 277.9L1066 272.2L1082.5 266.1L1091.5 263.1L1103.5 259.6L1120 255.3L1192 238.3L1212 233.2M737.5 578.8L739 578.3L741.9 576.8L746.3 573.8L751.1 569.3L758.5 560.7L761.5 557.8L779.5 544L785.5 538.8L796 529.1L802 524.3L811.9 516.8L829 504.9L833.5 501.5L870.8 468.8L898.2 446.3L908.6 437.3L916.7 429.8L924.2 422.3L961 383.9L970 373.9L987.2 353.3L997 342.8L1003 337.1L1008.7 332.3L1015 327.6L1022.5 322.6L1030 318.1L1037.2 314.3L1043.6 311.3L1051 308.3L1060 305.2L1075.3 300.8L1090 296.2L1103.5 292.6L1112.5 290.7L1123 288.9L1135 287L1148.5 285.3L1172.5 282.8L1212 279.5M775.1 582.1L779.9 578.3L787 571.3L806.5 550.6L816 539.3L821.7 533.3L828 527.3L841 515.7L847 509.9L854.5 502.3L871.9 483.8L879.6 476.3L884.8 471.8L890.5 467.3L910.3 453.8L920.5 446.3L929.6 438.8L941 428.3L956 413.3L970.1 398.3L980.5 386.3L998.9 363.8L1007.5 354.2L1013.5 348.3L1019.5 343.2L1025.5 338.6L1031.5 334.6L1039 330.1L1046.5 326.4L1054 323.2L1061.5 320.4L1072 317.2L1084 314.1L1096 311.3L1106.5 309.2L1115.5 307.8L1126 306.6L1136.5 305.6L1148.5 304.8L1172.5 303.9L1212 303.3M807.7 582.1L813.4 575.3L818.1 569.3L830.8 551.3L834.3 546.8L839.6 540.8L860.5 517.9L868 509.1L881.3 492.8L888.2 485.3L893.1 480.8L896.5 478.4L902.5 474.8L919 465.7L929.5 459.1L938.5 452.3L947.5 444.5L956.5 436.1L964 428.8L971.5 421.1L979 413L991 399L1011.9 372.8L1019.5 364.3L1024.6 359.3L1029.8 354.8L1034.5 351.1L1040.5 347L1046.5 343.5L1054 339.8L1061.5 336.7L1069 334.2L1078 331.8L1087 329.8L1096 328.3L1106.5 326.9L1115.5 326.1L1126 325.5L1136.5 325.3L1147 325.4L1169.5 326.2L1212 328.6M836.4 582.1L849.2 560.3L853.1 554.3L858.5 546.8L865.3 537.8L880.1 519.8L892 504.4L895.5 500.3L900.5 495.8L905.5 492.1L911.5 488.3L928 479L935.5 474.5L943.6 468.8L950.5 463L974.5 440.2L991.3 422.3L995.5 417.5L1012.6 396.8L1024 382.5L1030 375.8L1034.5 371.4L1039 367.6L1043.9 363.8L1049.5 360.1L1055.5 356.8L1061.5 354L1067.5 351.7L1075 349.5L1082.5 347.9L1090 346.7L1099 345.8L1108 345.4L1117 345.4L1126 345.7L1135 346.2L1145.5 347.2L1166.5 349.7L1212 356M895.1 582.1L898.5 564.8L900.1 558.8L902.7 551.3L906.8 540.8L910 534L912.3 530.3L916 525.8L920.1 521.3L923.5 518.2L941 504.8L950.5 499L955.1 495.8L959.5 492.2L965.5 486.9L971.4 482.3L974.9 479.3L980.5 473.8L993.6 459.8L997 455.7L1003 447.7L1010.5 440.6L1013.6 437.3L1017.3 432.8L1023.3 423.8L1025.7 420.8L1028.5 418.4L1037.2 411.8L1045 405.4L1049.5 402.4L1055.5 399.1L1063 395.8L1069 393.6L1076.5 391.5L1084 390.2L1091.5 389.4L1099 389.3L1108 389.8L1117 390.8L1124.5 392L1129 393L1137.3 395.3L1146.9 398.3L1157.5 401.9L1190.5 414L1212 421.5M933.3 582.1L937 569L938.5 564.9L940 561.4L942.1 557.3L946 551L947.8 548.3L950.5 545.1L953.5 542.2L960.8 536.3L965 533.3L973 528.1L986.5 517.3L989.5 514.6L1000 504.1L1002.3 501.8L1004.5 499.1L1010.5 490.9L1018 481.4L1025.2 471.8L1028.5 468L1033.5 462.8L1039.7 455.3L1043.5 451.4L1054 442.6L1058.5 439.4L1062.1 437.3L1067.5 434.6L1073.5 431.9L1079.5 429.9L1085.5 428.5L1091.5 427.8L1097.5 427.5L1105 427.8L1112.5 428.6L1119 429.8L1126 431.5L1132 433.4L1138 435.6L1145.5 438.7L1152.3 441.8L1170.8 450.8L1212 471.8M999.1 582.1L1003.9 573.8L1007 569.3L1012 562.9L1016.5 557.9L1021.9 552.8L1028.8 546.8L1043.5 535.6L1048.1 531.8L1051 529.1L1055.5 524.2L1060 520.3L1064.5 517L1069.2 513.8L1075 510.3L1079.5 508L1085.5 505.4L1090 503.8L1094.5 502.6L1099 501.7L1103.5 501.1L1109.5 500.9L1114 501.1L1120 501.7L1126 502.9L1130.5 504.1L1135 505.6L1141 507.9L1148.5 511.1L1156 514.8L1180 527.5L1187.5 532L1204 543.5L1212 548.2" fill="none" stroke="#4f5f4f" stroke-opacity="0.8" stroke-width="0.5"/>
<path d="M737.5 413.8L760 410.2L778 406.9M797.5 402.2L803.5 400.3L811 397.3L818.5 393.9L824.5 390.8L829.4 387.8L835 383.8L839.5 380.2L844 376L848.5 371.2L853.6 365.3L859 358.5L863.9 351.8L872.8 338.3L884.3 318.8L887.5 314L890.5 310L893.5 306.4L897.6 302.3L909.4 291.8M924.5 278.3L934 270.8L949 260L969.5 246.8L980.5 238.9L988 233.8L997 228.3L1012 220.1L1033 210L1046.5 204.2L1060.4 198.8M1080.8 191.3L1103.5 183.3L1109.5 180.9L1126 173.3L1140.1 165.8L1147.7 161.3L1163.8 150.8L1185.3 135.8L1198.2 128.3L1203.1 125.3L1208.5 121.3L1210.7 119.3L1212 117.9M737.5 547.5L744.4 542.3L764.5 528.7L778.9 518.3M796 505.3L803.4 500.3L826 486.4L844 474L856 465.4L872.5 452.3L877 448.5L882.8 443.3L896.7 429.8L906.7 419.3L920.5 403.8M934 388.8L955 367.4L972.3 347.3L980.6 338.3L989.6 329.3L997 322.9L1004.5 317.3L1012 312.3L1021 306.8L1030 301.8L1037.5 298.1L1045.3 294.8L1053.4 291.8L1060 289.9M1081 282.9L1088.5 280.1L1099 277L1112.5 273.7L1127.5 270.6L1145.5 267.1L1166.5 263.5L1212 256.5M865.2 582.1L869.3 567.8L871.9 561.8L875.1 555.8L878.5 550.3L883.1 543.8L887.7 537.8M900.8 521.3L905.5 515.6L908.5 512.3L911.8 509.3L921.1 501.8L927.3 497.3L937 491.3L941.4 488.3L952 481L956.5 477.5L970.7 462.8L985 449.6L994 438.8L1004.5 428.2L1006.8 425.3L1012.2 417.8L1016.5 412.7M1031.5 396.8L1037.5 390.2L1043.5 384.8L1048 381.4L1051.7 378.8L1055.5 376.4L1060 373.9L1064.5 371.7L1067.5 370.5L1075 368.2L1082.5 366.7L1091.5 365.8L1102 365.6L1112.5 366.1L1123 367.2L1136.5 369.2L1147 371.2L1162 374.5L1212 386.3" fill="none" stroke="#111" stroke-width="1.9" stroke-linejoin="round"/>
</g>
<g font-family="Liberation Sans, sans-serif" fill="#111">
<text transform="translate(788.0 405.5) rotate(-12.0)" text-anchor="middle" dy="3.6" font-size="11.3">20</text>
<text transform="translate(916.5 284.5) rotate(-42.0)" text-anchor="middle" dy="3.6" font-size="11.3">20</text>
<text transform="translate(1070.6 195.2) rotate(-20.0)" text-anchor="middle" dy="3.6" font-size="11.3">20</text>
<text transform="translate(787.3 512.0) rotate(-38.0)" text-anchor="middle" dy="3.6" font-size="11.3">30</text>
<text transform="translate(927.1 396.3) rotate(-48.0)" text-anchor="middle" dy="3.6" font-size="11.3">30</text>
<text transform="translate(1070.6 287.1) rotate(-18.0)" text-anchor="middle" dy="3.6" font-size="11.3">30</text>
<text transform="translate(894.0 530.0) rotate(-50.0)" text-anchor="middle" dy="3.6" font-size="11.3">40</text>
<text transform="translate(1024.3 405.4) rotate(-52.0)" text-anchor="middle" dy="3.6" font-size="11.3">40</text>
</g>
<path d="M746.1 98.3V104.3M746.1 582.1V588.1M731.5 121.1H737.5M1212.0 121.1H1218.0M835.9 98.3V104.3M835.9 582.1V588.1M731.5 210.8H737.5M1212.0 210.8H1218.0M925.6 98.3V104.3M925.6 582.1V588.1M731.5 300.5H737.5M1212.0 300.5H1218.0M1015.4 98.3V104.3M1015.4 582.1V588.1M731.5 390.3H737.5M1212.0 390.3H1218.0M1105.1 98.3V104.3M1105.1 582.1V588.1M731.5 480.0H737.5M1212.0 480.0H1218.0M1194.8 98.3V104.3M1194.8 582.1V588.1M731.5 569.7H737.5M1212.0 569.7H1218.0" stroke="#9a9a9a" stroke-width="1" fill="none"/>
<rect x="737.5" y="104.3" width="474.5" height="477.8" fill="none" stroke="#9a9a9a" stroke-width="1"/>
<g font-family="Liberation Sans, sans-serif" font-size="12" fill="#111">
<text x="746.1" y="601.0" text-anchor="middle" textLength="36.8" lengthAdjust="spacingAndGlyphs">332000</text>
<text x="730.2" y="125.4" text-anchor="end" textLength="43.5" lengthAdjust="spacingAndGlyphs">6179500</text>
<text x="835.9" y="601.0" text-anchor="middle" textLength="36.8" lengthAdjust="spacingAndGlyphs">332500</text>
<text x="730.2" y="215.1" text-anchor="end" textLength="43.5" lengthAdjust="spacingAndGlyphs">6179000</text>
<text x="925.6" y="601.0" text-anchor="middle" textLength="36.8" lengthAdjust="spacingAndGlyphs">333000</text>
<text x="730.2" y="304.8" text-anchor="end" textLength="43.5" lengthAdjust="spacingAndGlyphs">6178500</text>
<text x="1015.4" y="601.0" text-anchor="middle" textLength="36.8" lengthAdjust="spacingAndGlyphs">333500</text>
<text x="730.2" y="394.6" text-anchor="end" textLength="43.5" lengthAdjust="spacingAndGlyphs">6178000</text>
<text x="1105.1" y="601.0" text-anchor="middle" textLength="36.8" lengthAdjust="spacingAndGlyphs">334000</text>
<text x="730.2" y="484.3" text-anchor="end" textLength="43.5" lengthAdjust="spacingAndGlyphs">6177500</text>
<text x="1194.8" y="601.0" text-anchor="middle" textLength="36.8" lengthAdjust="spacingAndGlyphs">334500</text>
<text x="730.2" y="574.0" text-anchor="end" textLength="43.5" lengthAdjust="spacingAndGlyphs">6177000</text>
</g>
<path d="M813.0 410.2L831.5 388.1L961.2 239.2L1101.9 133.6L1117.3 121.3" fill="none" stroke="#d4290f" stroke-width="1.6" stroke-linejoin="round"/>
<circle cx="1101.9" cy="133.6" r="3.6" fill="#1e88e5"/>
<circle cx="961.2" cy="239.2" r="3.6" fill="#1e88e5"/>
<circle cx="831.5" cy="388.1" r="3.6" fill="#1e88e5"/>
<circle cx="910.9" cy="523.8" r="3.6" fill="#1e88e5"/>
<circle cx="1066.5" cy="382.7" r="3.6" fill="#1e88e5"/>
<g font-family="Liberation Sans, sans-serif" font-weight="bold" font-size="18.5" fill="#1e88e5" text-anchor="middle">
<text x="1102.0" y="122.9">F3</text>
<text x="961.0" y="228.5">G5</text>
<text x="831.6" y="377.0">G12</text>
<text x="911.5" y="513.8">F2</text>
<text x="1066.5" y="372.0">F1</text>
</g>
<g clip-path="url(#c3)">
<path fill="#4a7ab7" fill-rule="evenodd" stroke="#4a7ab7" stroke-width="0.6" d="M548 1174L550.1 1173L552.1 1172.9L556.1 1173.9L559.9 1175.8L546.5 1175.8Z"/>
<path fill="#578abf" fill-rule="evenodd" stroke="#578abf" stroke-width="0.6" d="M500.5 1044L502.1 1043L504.1 1042.7L506.1 1043.2L508.1 1044.8L508.8 1046L512.1 1054.9L517 1064L517.1 1068L515.4 1074L516.1 1076.9L520.1 1083.4L524.1 1087.3L530.1 1092L534.5 1098L535.4 1102L534 1110L534.4 1112L536.3 1114L542 1118L543.6 1120L545.7 1126L548.9 1132L552.1 1139.6L558.1 1143.7L566.2 1154L575.7 1162L580.5 1170L586.6 1175.8L559.9 1175.8L556.1 1173.9L552.1 1172.9L550.1 1173L548.1 1173.9L546.5 1175.8L515.3 1175.8L516.1 1172L516.4 1166L519.9 1156L522.1 1153.5L526.1 1151.3L527.3 1150L527.7 1148L527.4 1146L526.1 1142.7L524.1 1141.1L522.1 1141L520.2 1142L518.1 1147.8L516.1 1149.3L512.1 1150.3L504.1 1150.9L501.8 1150L500.6 1146L498.6 1144L492.1 1142.9L484.6 1138L483.5 1136L483.6 1134L485.7 1130L485.9 1128L481.6 1124L480.6 1122L480.3 1120L482 1112L480.1 1108.2L476.1 1110.6L474.1 1110.3L473.7 1108L474.7 1102L469.5 1092L465.6 1086L465 1084L465.5 1082L466.1 1081.2L468.1 1079.5L470.1 1078.6L472.1 1078.4L474.1 1078.7L478.1 1080.2L488.1 1075.5L490.1 1074L491.6 1072L492.4 1070L492.3 1068L488.6 1062L489.1 1058L492.1 1053ZM490.6 1166L492.1 1165.4L493 1166L494.1 1167.7L494.4 1172L495.8 1175.8L480.3 1175.8L482.1 1173.4L486.6 1170Z"/>
<path fill="#679ec9" fill-rule="evenodd" stroke="#679ec9" stroke-width="0.6" d="M512 1014L516.1 1013.7L520.1 1014.2L528.1 1017.8L536.1 1020.1L539 1022L540.5 1024L542.1 1029.8L543.2 1040L545.3 1050L545.4 1058L546.1 1064L545.9 1070L546.8 1074L552.1 1080.7L553.5 1084L555.8 1092L563.3 1102L565.6 1108L566.8 1110L573.4 1116L576.4 1120L578.7 1126L580.9 1138L582.3 1142L584.1 1144.8L588.7 1150L597 1156.1L597 1175.8L586.6 1175.8L580.5 1170L575.7 1162L566.2 1154L558.1 1143.7L552.1 1139.6L548.9 1132L545.7 1126L543.6 1120L542 1118L536.3 1114L534.4 1112L534 1110L535.4 1102L534.5 1098L530.1 1092L524.1 1087.3L520.1 1083.4L516.6 1078L515.4 1074L517.1 1068L517 1064L512.1 1054.9L508.1 1044.8L506.1 1043.2L504.1 1042.7L502.1 1043L500.1 1044.2L491.3 1054L489.1 1058L488.6 1062L492.3 1068L492.4 1070L491.6 1072L490.1 1074L488.1 1075.5L478.1 1080.2L474.1 1078.7L472.1 1078.4L470.1 1078.6L468.1 1079.5L466.1 1081.2L465.5 1082L465 1084L465.6 1086L469.5 1092L474.7 1102L473.7 1108L474.1 1110.3L476.1 1110.6L480.1 1108.2L482 1112L480.3 1120L480.6 1122L481.6 1124L485.9 1128L485.7 1130L483.6 1134L483.5 1136L484.6 1138L492.1 1142.9L498.6 1144L500.6 1146L501.8 1150L504.1 1150.9L512.1 1150.3L516.1 1149.3L518.1 1147.8L520.2 1142L522.1 1141L524.1 1141.1L526.1 1142.7L526.9 1144L527.7 1148L527.3 1150L526.1 1151.3L521.5 1154L520.1 1155.6L518.9 1158L516.4 1166L516.1 1172L515.3 1175.8L495.8 1175.8L494.4 1172L494.1 1167.7L493 1166L492.1 1165.4L490.1 1166.3L486.6 1170L482.1 1173.4L480.3 1175.8L390.1 1175.8L394.9 1166L397.4 1164L404.1 1160.9L409.2 1156L411 1154L416.1 1144L418.1 1142.2L422.1 1140.3L424.1 1138.7L425.8 1136L427.7 1130L428.9 1128L434.1 1123L436.3 1120L437.4 1116L437.8 1110L441.1 1102L442.7 1096L444.7 1080L447.2 1074L450.1 1065.2L454.1 1058.7L462.1 1051L464.1 1050.1L466.1 1049.8L474.1 1049.9L478.1 1048.4L480.1 1047.2L482.1 1045.2L483.9 1040L483.3 1030L483.6 1026L484.7 1022L485.8 1020L487.6 1018L491.1 1016L494.1 1015.2L506.1 1014.9Z"/>
<path fill="#78b0d3" fill-rule="evenodd" stroke="#78b0d3" stroke-width="0.6" d="M509.3 1004L512.1 1003.8L524.1 1005.3L530.1 1006.9L534.1 1009.5L538.1 1012.9L542.1 1016.6L544.9 1020L548.2 1030L554.4 1054L556.6 1068L558.1 1070.9L563.7 1078L564.6 1080L565.7 1086L566.7 1088L572.4 1094L579.7 1106L586 1112L589.5 1120L594.1 1126L595 1128L595.6 1134L597 1137.6L597 1156.1L588.7 1150L584.1 1144.8L582.3 1142L580.9 1138L578.7 1126L576.4 1120L573.4 1116L566.8 1110L565.6 1108L563.3 1102L555.8 1092L553.5 1084L552.1 1080.7L546.8 1074L545.9 1070L546.1 1064L545.4 1058L545.3 1050L543.2 1040L541.8 1028L540.1 1023.3L538.1 1021.2L536.1 1020.1L528.1 1017.8L522.1 1015L518.1 1013.8L514.1 1013.8L504.1 1015L496.1 1014.9L491.1 1016L488.1 1017.6L485.8 1020L484.7 1022L483.3 1028L483.9 1040L482.8 1044L481.5 1046L478.1 1048.4L474.1 1049.9L466.1 1049.8L464.1 1050.1L462.1 1051L456.1 1056.5L452.1 1061.5L450.1 1065.2L447.2 1074L444.7 1080L442.7 1096L441.1 1102L437.8 1110L437.4 1116L436.3 1120L434.1 1123L428.9 1128L427.7 1130L425.8 1136L424.1 1138.7L422.1 1140.3L418.1 1142.2L416.1 1144L411 1154L404.1 1160.9L397.4 1164L394.9 1166L390.1 1175.8L357.5 1175.8L364.1 1174.2L367.1 1172L367.8 1170L367.8 1168L366.1 1162L365.9 1160L367.1 1156L368.4 1154L372.1 1151.1L378.1 1148.2L380.1 1147.8L387.2 1148L390.1 1146.9L392.1 1145.6L405.5 1134L410.1 1127.1L416.1 1120.9L424.7 1110L429.8 1100L430.6 1088L435.5 1072L437.2 1060L437.1 1050L437.5 1046L441.7 1036L447.3 1028L448.8 1024L450 1022L454.1 1019.6L460.1 1019.4L462.1 1018.8L464.1 1017.2L468.1 1011.8L470.1 1010.1L472.1 1009.3L486.1 1007.5L494.1 1005.4L504.1 1005Z"/>
<path fill="#8cc0db" fill-rule="evenodd" stroke="#8cc0db" stroke-width="0.6" d="M429 970L432.1 968.8L434.1 969.2L438.1 971.7L440 974L440.7 976L440.6 978L440.1 979.1L438.1 980.6L436.1 980.8L432.1 979.9L430.1 978.7L427.7 976L427 974L427.4 972ZM441.6 990L444.1 989.3L446.1 989.7L448.1 990.9L451.4 994L454.1 994.7L468.1 995.4L480.1 992.5L496.1 996.5L500.1 997L504.1 996.8L512.1 995.2L518.1 995.3L530.1 997.2L534.1 999.6L538.1 1004.1L548.1 1018.1L554.7 1036L558.1 1047L564.2 1060L566.1 1062.7L570.1 1066.9L578.1 1078L581.6 1084L587.9 1092L592.3 1102L597 1108L597 1137.6L595.6 1134L595 1128L594.1 1126L589.5 1120L586.1 1112.2L579.7 1106L572.4 1094L566.7 1088L565.7 1086L564.6 1080L563.7 1078L558.1 1070.9L556.6 1068L554.4 1054L546.5 1024L544.1 1018.8L534.1 1009.5L530.1 1006.9L527.7 1006L512.1 1003.8L504.1 1005L494.1 1005.4L486.1 1007.5L472.1 1009.3L470.1 1010.1L468.1 1011.8L464.1 1017.2L462.1 1018.8L460.1 1019.4L454.1 1019.6L450 1022L448.8 1024L447.3 1028L441.7 1036L437.5 1046L437.1 1050L437.2 1060L435.5 1072L430.6 1088L429.8 1100L425.8 1108L424.1 1110.8L416.1 1120.9L410.1 1127.1L405.5 1134L392.1 1145.6L390.1 1146.9L387.2 1148L380.1 1147.8L378.1 1148.2L372.1 1151.1L368.1 1154.3L366.3 1158L365.9 1160L366.1 1162L367.8 1168L367.8 1170L367.1 1172L366.1 1173L362.1 1174.9L357.5 1175.8L320 1175.8L327.4 1172L340.1 1167.4L346.1 1167.1L356.1 1169.3L358.1 1169L360.1 1168.1L361.4 1166L361.3 1164L360.1 1160.8L355.2 1152L350.1 1145.4L348.4 1142L348.3 1138L350.1 1134.1L354.6 1130L358.9 1128L362.1 1127.1L366.1 1126.9L374.1 1128.6L378.1 1128.7L382.1 1127.8L390.1 1124.4L392.1 1122.6L395.1 1118L397.2 1116L403.1 1112L410.1 1106L418.1 1096L421 1090L424.5 1074L424.9 1052L426.8 1038L425.5 1030L426 1024L428.1 1014.8L431.6 1004L439.4 992ZM261.5 1174L264.1 1172.7L266.1 1172.6L276.1 1173.3L279.3 1174L282.6 1175.8L259.7 1175.8Z"/>
<path fill="#9fd0e4" fill-rule="evenodd" stroke="#9fd0e4" stroke-width="0.6" d="M396.4 940L400.1 938.6L404.1 938.6L412.1 940.9L419.4 942L424.1 944.7L428.1 948.1L430.1 948.9L438.1 947.7L440.1 948.3L441.3 950L443 956L446.1 959.4L453.9 966L455 968L456.1 974.2L457.6 978L460.1 980.6L462.5 982L466.1 982.9L470.1 983.2L478.1 981.3L482.1 981L486.1 981.6L494.1 984.9L498.1 986L506.1 985.1L518.1 985.3L524.1 986L530.1 986.1L534.1 987.8L536.2 990L550.1 1014.3L562.1 1043L564.1 1046.9L570.1 1055.3L576.1 1061.6L580.9 1068L588.1 1075.3L592.5 1082L597 1087.4L597 1108L592.3 1102L587.9 1092L581.6 1084L578.1 1078L570.1 1066.9L566.1 1062.7L564.2 1060L558.1 1047L554.7 1036L548.1 1018.1L538.1 1004.1L534.1 999.6L530.1 997.2L518.1 995.3L512.1 995.2L504.1 996.8L500.1 997L496.1 996.5L480.1 992.5L468.1 995.4L454.1 994.7L451.4 994L448.1 990.9L446.1 989.7L444.1 989.3L442.1 989.7L439.4 992L431.6 1004L428.1 1014.8L426 1024L425.5 1030L426.8 1038L424.9 1052L424.5 1074L421 1090L418.1 1096L410.1 1106L403.1 1112L397.2 1116L395.1 1118L392.1 1122.6L390.1 1124.4L382.1 1127.8L378.1 1128.7L374.1 1128.6L366.1 1126.9L360.1 1127.6L354.6 1130L350.2 1134L349 1136L348.1 1139.6L348.4 1142L350.1 1145.4L355.2 1152L360.1 1160.8L361.3 1164L361.4 1166L360.1 1168.1L358.1 1169L356.1 1169.3L346.1 1167.1L340.1 1167.4L327.4 1172L320 1175.8L282.6 1175.8L278.1 1173.6L266.1 1172.6L264.1 1172.7L262.1 1173.5L259.7 1175.8L227 1175.8L228.2 1170L233.3 1160L247.9 1148L256.1 1143.6L258.2 1142L261.2 1138L266.1 1125.6L268.1 1123L270.1 1121.6L274.1 1120.5L286.1 1119.5L294.1 1119.7L300.1 1118.9L306.1 1119.1L314.1 1116.8L324.1 1115.8L326.1 1115.2L332.1 1111.1L336 1110L342.1 1109.8L354.1 1110.9L362.1 1108.8L370.1 1107.5L380.1 1104.3L388.1 1102.8L390.1 1101.9L404.1 1092.2L407.9 1088L412.1 1079L414.4 1072L414.7 1068L413.4 1060L413.6 1054L417.4 1036L417.1 1032L415.5 1024L415.6 1020L416.6 1014L420.8 1000L422.5 990L422 988L420.4 986L416 982L403.4 972L398.1 966.6L396.4 964L394.1 958L393.4 952L393.7 944L394.4 942ZM430.1 969.3L427.4 972L427 974L427.7 976L429.3 978L432.1 979.9L434.1 980.6L436.1 980.8L439.2 980L440.6 978L440.7 976L440 974L438.4 972L434.1 969.2L432.1 968.8Z"/>
<path fill="#b2ddeb" fill-rule="evenodd" stroke="#b2ddeb" stroke-width="0.6" d="M439.6 900L444.1 898.7L450.1 899.3L456.1 899L460.1 899.7L464.5 902L468.1 905L474.1 911.9L483.7 926L494.1 938.4L498.1 945.2L506.1 954.7L508.1 956.2L516.1 958.7L528.1 964L529.2 966L530.7 972L538.1 980.4L542.1 986.4L548.3 1002L567.2 1042L577.9 1056L597 1075.8L597 1087.4L592.5 1082L588.1 1075.3L580.9 1068L576.1 1061.6L570.1 1055.3L564.1 1046.9L562.1 1043L550.1 1014.3L536.2 990L534.1 987.8L530.1 986.1L524.1 986L518.1 985.3L506.1 985.1L498.1 986L494.1 984.9L486.1 981.6L482.1 981L478.1 981.3L470.1 983.2L466.1 982.9L462.5 982L460.1 980.6L457.6 978L456.1 974.2L455 968L453.9 966L446.1 959.4L443 956L441.3 950L440.1 948.3L438.1 947.7L430.1 948.9L428.1 948.1L424.1 944.7L419.4 942L412.1 940.9L404.1 938.6L400.1 938.6L396.1 940.3L394.4 942L393.7 944L393.7 956L396.1 963.3L398.1 966.6L403.4 972L416 982L420.4 986L422 988L422.5 990L420.8 1000L416.6 1014L415.6 1020L415.5 1024L417.1 1032L417.4 1036L413.6 1054L413.4 1060L414.7 1068L414.4 1072L412.5 1078L410.1 1083.6L406.5 1090L404.1 1092.2L389.9 1102L388.1 1102.8L380.1 1104.3L368.1 1107.9L362.1 1108.8L354.1 1110.9L342.1 1109.8L336 1110L332.1 1111.1L326.1 1115.2L324.1 1115.8L314.1 1116.8L306.1 1119.1L300.1 1118.9L294.1 1119.7L286.1 1119.5L274.1 1120.5L270.1 1121.6L268.1 1123L266.1 1125.6L261.2 1138L258.2 1142L256.1 1143.6L247.9 1148L233.3 1160L228.2 1170L227 1175.8L195.7 1175.8L198.8 1172L202.1 1164.9L204.1 1163L210.1 1159.8L216.1 1152.4L218.1 1151.3L226.1 1148.5L230.7 1146L242.1 1141.8L248.1 1138.7L251.6 1136L254.5 1132L258.1 1122L260.1 1118.1L264.1 1112.8L268.1 1109.2L272.1 1107.5L286.1 1103.5L298.1 1102.4L316.1 1098.3L326.1 1093.3L332.1 1088.8L334.1 1088L338.1 1088.3L342.1 1089.5L348.1 1092.2L352.1 1092.6L354.1 1091.9L356.1 1090.1L360.9 1084L366.7 1080L371.2 1078L388.1 1072.5L392.1 1069.8L394.1 1067.4L401.2 1056L402.8 1052L407.7 1036L407.5 1022L408.4 1010L407.7 994L405.4 990L392.6 974L382.1 959.7L378.4 956L372.1 951.9L364.1 943.2L362.5 940L360.6 930L357.7 922L357.6 918L358.3 916L360.1 914.5L362.1 914.2L368.1 915.6L384.1 917.5L398.1 918.1L402.1 919.1L408.1 923.4L412.1 925.2L416.1 926.1L420.1 925.9L424.1 924.4L426.9 922L430.1 916L434.4 910L436.1 903L438.1 900.7ZM122.1 1144L122.1 1143.3L126.1 1145.9L130.1 1150.3L132.1 1151.9L138.1 1155L144.1 1159.6L146.1 1162L148.4 1168L150.1 1170.1L152.1 1171L158.1 1171.8L160.1 1172.4L164 1175.8L122.1 1175.8Z"/>
<path fill="#c7e7f1" fill-rule="evenodd" stroke="#c7e7f1" stroke-width="0.6" d="M271 698L377 698L380.1 703.2L381.8 708L382.2 712L381.8 716L377.2 730L376.1 731.2L367.2 734L363.9 736L362.9 738L362.6 740L362.6 742L363.6 746L363.2 748L360.4 750L355.4 752L350.1 752.3L346.1 751.5L334.6 742L330.7 740L327.9 740L322.1 743.3L320.1 743.7L318.1 743L315.5 740L315.1 738L316.3 734L316.3 732L314.1 730.9L308.1 733L300.1 733.8L296.1 736.3L294.1 736.7L290.1 736.1L286.1 734.1L284.2 732L282.1 727.6L278.1 723.3L275.9 720L272.6 710L271 702ZM377.9 738L378.1 737.7L380.1 738.6L382.1 741.7L386.2 752L387.9 758L388.6 762L388.3 768L387.8 770L386.1 771.4L384.1 771.6L381.8 770L377 764L374.7 760L374.3 758L374.9 754L374.7 752L374.1 750.3L371.8 748L372.3 746ZM299.8 742L302.1 741L304.1 741L306.1 741.9L308.6 746L309.4 750L308.3 754L304.9 762L304.1 770.3L303.3 772L302.1 773.2L300.1 773.8L298.1 773.3L296.1 772.1L295 770L294.1 766.9L293.6 760L294.1 755L295.4 750L298.1 743.7ZM406.3 860L412.1 858.2L416.1 858.8L418.1 859.9L419.5 862L420 864L419.4 870L418.1 870.7L408.8 872L408.6 874L409.8 880L409.1 882L406.1 883.8L402.1 885.3L396.1 886.4L394.5 888L392.1 894.7L390.1 897.3L388.4 898L388.9 900L390.1 902L392.1 902.4L394.1 902L395.4 898L397.5 896L400.1 894.6L404.1 894.3L408.1 895.4L409.4 896L410.2 898L410.2 904L414.1 907.5L418.1 912.7L420.1 913.9L422.1 913.1L424.1 911.3L426.4 908L426.7 906L426.2 898L427.7 892L427.4 886L427.9 884L430.1 881.2L434.1 879.5L438.1 879.6L452.1 882.7L454.1 883.8L458.4 888L462.1 890.6L470.1 893.6L472.1 894.8L476.7 900L482.1 909.4L490.2 920L495.1 930L502.1 938.8L504.1 940.2L510.1 941L512.1 942L518.1 947.2L532.1 954.1L536.1 957.4L537.2 960L538.8 968L540.9 972L547 980L550.2 986L552.5 992L554.2 1000L558.8 1014L566.4 1026L570.1 1036.4L572.2 1040L582.6 1054L586.1 1057.3L592.5 1062L597 1066.5L597 1075.8L577.9 1056L567.2 1042L548.3 1002L542.1 986.4L538.1 980.4L530.7 972L529.2 966L528.1 964L516.1 958.7L508.1 956.2L506.1 954.7L498.1 945.2L494.1 938.4L483.7 926L474.1 911.9L468.1 905L464.5 902L460.1 899.7L456.1 899L450.1 899.3L444.1 898.7L438.1 900.7L436.1 903L434.4 910L430.1 916L426.9 922L424.1 924.4L420.1 925.9L416.1 926.1L410.1 924.5L403.8 920L400.1 918.4L394.1 917.7L384.1 917.5L368.1 915.6L362.1 914.2L360.1 914.5L358.1 916.4L357.4 920L357.7 922L360.6 930L362.1 938.3L363.4 942L364.6 944L370.1 950.1L372.2 952L378.4 956L382.1 959.7L392.6 974L405.4 990L407.7 994L408.4 1010L407.5 1022L407.7 1036L402.1 1054L393.7 1068L391.9 1070L388.1 1072.5L371.2 1078L366.7 1080L360.9 1084L356.1 1090.1L354.1 1091.9L352.1 1092.6L348.1 1092.2L342.1 1089.5L338.1 1088.3L334.1 1088L332.1 1088.8L326.1 1093.3L316.1 1098.3L298.1 1102.4L286.1 1103.5L272.1 1107.5L268.1 1109.2L264.1 1112.8L260.1 1118.1L258.1 1122L254.5 1132L251.6 1136L248.1 1138.7L242.1 1141.8L230.7 1146L226.1 1148.5L218.1 1151.3L216.1 1152.4L210.1 1159.8L204.1 1163L202.1 1164.9L198.8 1172L195.7 1175.8L164 1175.8L160.1 1172.4L158.1 1171.8L152.1 1171L150 1170L148.4 1168L146.1 1162L144.6 1160L138.1 1155L132.1 1151.9L130.1 1150.3L126.2 1146L122.1 1143.3L122.1 1082.9L124.1 1082.7L125.5 1082L126.8 1080L126.8 1078L125.4 1076L122.1 1074.9L122.1 1052.9L124.1 1053.4L126.1 1055L128.4 1058L134.2 1064L135.1 1066L135.4 1068L134.9 1074L135.7 1076L138.6 1080L138.6 1082L136.1 1087.6L132.9 1100L130.1 1104.6L128.7 1108L128.6 1112L129.6 1114L136.1 1121.4L140.1 1128L150.1 1141.2L158.1 1146.5L162.1 1150.7L174.1 1161.7L176.1 1162.6L180.1 1163L183.8 1162L186.1 1160.2L192.1 1152.9L200.1 1141.3L204.1 1136.6L222.1 1123.1L224.1 1122.2L226.1 1122.8L229.3 1128L232.2 1130L236.8 1132L240.1 1132.7L242.1 1132.6L243.6 1132L245.4 1130L246.1 1128L246.5 1122L247.2 1120L253.9 1108L257.6 1104L262.1 1101.5L274.1 1097.4L282.1 1094.1L292.8 1092L298.1 1090.4L308.1 1086.1L310.1 1084.8L312.6 1082L314.1 1078L314.5 1074L314.3 1068L315.3 1064L316.5 1062L320.1 1059.5L324.1 1058.5L330.1 1058.6L332.1 1058.1L338.1 1054.6L342.1 1053.9L346.1 1055.7L354.1 1061.5L355.7 1064L357.1 1068L358.1 1069.3L362.1 1070.2L366.1 1070.2L368.1 1069.7L370.5 1068L378.1 1060.4L385.9 1054L390.1 1049.3L393.9 1044L395.9 1040L397.4 1036L400.4 1024L399.9 1010L398.2 1000L396.8 996L394.7 992L390.1 985.6L381.8 972L376.1 966L360.1 953.3L356.1 949.1L354.2 946L349.8 936L346.1 929.2L343.8 926L338.1 920.8L336.1 918.3L332.1 911.8L330.8 908L331 906L332.1 903.7L335.4 900L340.1 896L344.1 895.1L352.1 895.3L355.3 894L360.1 890.7L362.1 890.3L366.1 891.1L372.1 894.4L382.1 897.9L384.1 898.4L387.9 898L385.6 892L385.5 888L386.2 886L388.1 884.3L392.5 882L392.9 880L393.1 872L394.2 868L395.5 866L397.8 864Z"/>
<path fill="#e0f3f8" fill-rule="evenodd" stroke="#e0f3f8" stroke-width="0.6" d="M256.7 698L271 698L271 702L272.6 710L276.1 720.4L278.1 723.3L282.1 727.6L284.2 732L286 734L288.1 735.3L292.1 736.5L296.1 736.3L300.1 733.8L308.1 733L314.1 730.9L316.3 732L316.3 734L315.1 738L315.5 740L318.1 743L320.1 743.7L322.1 743.3L327.9 740L330.7 740L334.6 742L346.1 751.5L352.1 752.5L356.1 751.8L360.4 750L363.2 748L363.6 746L362.6 742L362.6 740L362.9 738L364.1 735.8L367.2 734L376.1 731.2L377.2 730L378.9 724L381.3 718L382.2 712L381.2 706L380.1 703.2L377 698L391 698L392.6 714L393.3 730L395.7 736L397.7 746L400.4 752L401.4 756L401.4 762L398.6 774L397.3 776L394.1 778.5L390.1 779.6L388.1 779.5L384.1 777.9L380.1 774.7L376.1 773.4L370.1 773.1L362.1 774.2L360.1 773.3L358.1 771.1L356.1 770.3L354.1 770.1L344.1 771.3L338.1 770.5L330.1 768.3L328.1 768.4L326.1 769.3L324.1 771.1L317.9 778L312.1 783.6L308.1 788.8L306.1 789.9L304.1 790.2L296.1 788.9L288.1 788.6L286.1 788.2L278.1 783.6L271.8 782L269.7 780L269.1 778L269.8 776L272.1 775.7L276.1 776.9L278.1 776.8L282.1 774.6L284.1 772L286.1 767.7L287.9 762L288 758L286.1 752.8L284.1 750.1L282.1 748.4L278.1 746.7L272.1 745.1L260.1 743.5L257.8 742L256.1 740.1L255 738L254.6 736L254.9 734L258.8 726L260.2 718L259.9 714L257.3 704ZM300.1 741.7L298.1 743.7L295.4 750L294.1 755L293.6 760L294.1 766.9L295 770L296.1 772.1L298.1 773.3L300.1 773.8L302.1 773.2L303.3 772L304.1 770.3L304.9 762L308.3 754L309.4 750L308.6 746L306.1 741.9L304.1 741ZM378.1 737.7L372.3 746L371.8 748L374.1 750.3L374.7 752L374.9 754L374.3 758L375.7 762L381.8 770L384.1 771.6L386.1 771.4L387.8 770L388.3 768L388.6 762L387.9 758L386.2 752L382.1 741.7L380.1 738.6ZM299.8 826L302.1 824.8L304.1 824.5L306.1 825.1L308.1 826.8L309.4 830L309 834L308.1 836.7L306.1 837.9L304.1 838L302.1 837.5L299.8 836L298.1 833.2L297.6 830L298.2 828ZM413.7 842L418.1 842.2L421 844L428.6 854L442.4 870L446.1 872.8L454.1 877.1L462.1 884.8L468.1 888.4L480.3 892L484.3 894L488.7 900L492.8 904L496.1 908.2L504.2 914L509.3 920L515.2 926L516.4 928L516.8 930L516.6 934L517.3 936L520.1 939.5L522.1 940.5L528.1 941.1L530.1 941.7L532.1 943.8L540 956L544.1 967.1L551.5 976L555.3 982L559.1 990L562.1 1002L563.6 1006L567.3 1012L572.3 1022L578.2 1030L580.9 1038L582.9 1042L588.4 1050L591 1052L597 1055.3L597 1066.5L592.5 1062L586.1 1057.3L582.6 1054L571 1038L566.4 1026L558.8 1014L554.2 1000L552.5 992L550.2 986L547 980L540.9 972L538.8 968L537.2 960L536.1 957.4L532.1 954.1L518.1 947.2L512.1 942L510.1 941L504.1 940.2L502.1 938.8L495.1 930L490.2 920L482.1 909.4L476.7 900L472.1 894.8L470.1 893.6L462.1 890.6L458.4 888L454.1 883.8L452.1 882.7L438.1 879.6L434.1 879.5L430.1 881.2L427.9 884L427.4 886L427.7 892L426.2 898L426.7 906L426.4 908L424.1 911.3L422.1 913.1L420.1 913.9L418.1 912.7L414.1 907.5L410.2 904L410.2 898L409.4 896L408.1 895.4L404.1 894.3L400.1 894.6L397.5 896L395.4 898L394.1 902L392.1 902.4L390.1 902L388.9 900L388.4 898L390.1 897.3L392.1 894.7L394.5 888L396.1 886.4L402.1 885.3L406.1 883.8L409.1 882L409.8 880L408.6 874L408.8 872L418.1 870.7L419.4 870L420 864L419.5 862L418.2 860L416.1 858.8L414.1 858.2L410.1 858.6L401.5 862L398.1 863.8L395.5 866L394.2 868L393.1 872L392.9 880L392.5 882L388.1 884.3L386.2 886L385.5 888L385.6 892L387.9 898L384.1 898.4L382.1 897.9L372.1 894.4L366.1 891.1L362.1 890.3L360.1 890.7L355.3 894L352.1 895.3L344.1 895.1L340.1 896L335.4 900L332.1 903.7L331 906L330.8 908L332.1 911.8L336.1 918.3L338.1 920.8L343.8 926L346.1 929.2L349.8 936L354.2 946L356.1 949.1L360.1 953.3L376.1 966L381.8 972L390.1 985.6L394.7 992L396.8 996L398.2 1000L399.9 1010L400.4 1024L396.8 1038L395 1042L392.1 1046.8L386.1 1053.8L378.1 1060.4L370.5 1068L368.1 1069.7L366.1 1070.2L362.1 1070.2L358.1 1069.3L357.1 1068L355.7 1064L354.1 1061.5L346.1 1055.7L342.1 1053.9L338.1 1054.6L332.1 1058.1L330.1 1058.6L324.1 1058.5L320.1 1059.5L316.5 1062L315.3 1064L314.3 1068L314.5 1074L314.1 1078L312.6 1082L311 1084L308.3 1086L299 1090L292.8 1092L282.1 1094.1L274.1 1097.4L262.1 1101.5L257.6 1104L253.9 1108L247.2 1120L246.5 1122L246.1 1128L245.4 1130L244.1 1131.7L242.1 1132.6L240.1 1132.7L236.8 1132L232.2 1130L229.3 1128L226.1 1122.8L224.1 1122.2L220.1 1124.5L204.1 1136.6L200.1 1141.3L190.1 1155.4L186.1 1160.2L184.1 1161.8L180.1 1163L176.1 1162.6L174.1 1161.7L162.1 1150.7L158.1 1146.5L152.1 1142.9L149 1140L144.1 1132.8L140.1 1128L136.1 1121.4L129.6 1114L128.6 1112L128.7 1108L130.1 1104.6L132.9 1100L136.1 1087.6L138.6 1082L138.6 1080L135.7 1076L134.9 1074L135.4 1068L135.1 1066L134.2 1064L128.4 1058L126.1 1055L124.1 1053.4L122.1 1052.9L122.1 1029.4L128.1 1028.3L130.1 1028.5L142.1 1032.4L149 1034L152.1 1035.4L160.1 1041.7L162.1 1043.9L171.3 1056L173.8 1060L175.3 1066L178 1072L178.3 1074L176.8 1080L176.1 1082L174.1 1084.9L168.1 1088.8L165.3 1092L163 1098L157.2 1108L155.9 1112L155.8 1116L156.3 1120L156.8 1122L158.1 1124L175.9 1138L180.1 1139.2L182.1 1139.1L186.1 1137.8L189.4 1136L191.6 1134L199.4 1122L202.2 1114L204.1 1110.6L206.1 1108.4L210.1 1105.2L212.1 1104.2L218.1 1102.8L224.1 1099.7L234.1 1096.9L240.1 1096.4L248.1 1094.2L258.1 1093.4L272.1 1091L286.8 1086L290.7 1084L295.3 1080L301.5 1072L303.3 1068L304.4 1062L305.7 1058L312.1 1046L315.9 1042L320.1 1038.6L322.1 1037.9L326.1 1038.4L342.1 1044.8L354.1 1052.1L362.1 1055L366.1 1055.5L368.1 1055.3L374.1 1052.7L380.1 1048L384.1 1044L387 1040L388.5 1036L389.9 1028L392.4 1020L392.2 1016L391.1 1010L388.9 1002L383.1 992L378.1 980.9L376.1 977.6L368.4 970L356.1 962.4L353.1 960L345.3 950L338.1 941.8L331.1 936L324.1 928.6L318.9 920L312.1 911.2L311 908L310.9 904L312.1 900.5L314.1 898.6L322.1 897L328.1 894.2L329.8 892L332.1 885.2L334.1 883.1L336.1 882.1L342.1 881.1L350.1 881.9L362.1 881.2L366.1 880.1L368.1 878.5L369.7 876L371.2 872L371.5 868L371.1 866L369.4 862L368.1 860.3L362.1 854.6L361.8 854L362.1 851.9L366.1 850.2L372.1 849.4L380.1 849L390.1 849.6L394.1 849.2L404.1 844.4ZM313.9 850L316.1 848.2L318.1 848.6L320.1 850L320.8 852L320.4 854L318.1 855.3L316.1 854.7L314 852ZM122.1 1076L122.1 1074.9L124.1 1075.3L125.4 1076L126.8 1078L126.8 1080L125.5 1082L124.1 1082.7L122.1 1082.9Z"/>
<path fill="#f1fad9" fill-rule="evenodd" stroke="#f1fad9" stroke-width="0.6" d="M248.1 698L256.7 698L257.7 706L259.9 714L260.2 718L259.3 724L257.9 728L254.9 734L254.6 736L255 738L256.1 740.1L258.1 742.3L260.1 743.5L270.1 744.6L280.1 747.4L284.1 750.1L286.1 752.8L287.5 756L288.1 759.2L287.9 762L286.1 767.7L284.1 772L282.1 774.6L278.1 776.8L276.1 776.9L272.1 775.7L270.1 775.8L269.1 778L269.7 780L272.1 782.1L278.1 783.6L286.1 788.2L288.1 788.6L296.1 788.9L304.1 790.2L306.1 789.9L308.1 788.8L312.1 783.6L317.9 778L324.1 771.1L326.1 769.3L328.1 768.4L330.1 768.3L338.1 770.5L344.1 771.3L354.1 770.1L356.1 770.3L358.1 771.1L360.1 773.3L362.1 774.2L370.1 773.1L376.1 773.4L380.1 774.7L384.1 777.9L388.1 779.5L392.1 779.2L396.1 777.2L398.1 774.9L399.3 772L401.4 762L401.6 758L401 754L397.7 746L395.7 736L393.3 730L392.6 714L391 698L401.1 698L402.9 706L406 712L409.1 720L412.6 726L414.1 730L414.2 758L412.5 768L413 772L414.1 776.1L415.1 778L416.1 779.3L420.1 780.5L421.7 782L422.1 784L420.1 786.4L418.1 786.9L416.1 786.6L412.1 784.6L410.1 784.6L408.1 785.2L402.9 788L398.1 792.6L393.7 796L393.5 798L395.1 802L396 806L396.1 810L395.6 812L394.1 814.3L392.1 815.6L388.1 817.2L386.1 818.8L382.1 825.2L380.1 826.3L378.1 825.4L376.4 824L373.7 820L375 810L378.1 807.1L380.1 804.1L381.9 798L381.8 796L380.8 794L376.1 789.3L374.1 787.6L372.1 786.8L370.1 786.6L362.1 788.9L358.1 788.7L350.1 784.4L348.1 784L341.2 786L338.1 787.7L336.6 790L336.3 792L336.8 802L336 808L335 810L333.1 812L327.9 814L326.1 815.2L325.1 818L326.1 830.1L331.4 842L334.6 852L340.1 859.6L344.1 863.5L352.1 869L356.1 870L358.1 869.6L359.9 868L359.9 866L356.1 854L356 852L356.7 850L358.1 848.4L366.1 843.2L370.1 841.4L384.1 839.7L386.1 838L388.1 832.3L392.1 831.2L400.1 826.2L402.1 825.8L404.1 826.2L410.5 830L420.1 833.7L424.1 836.4L431.1 844L438 854L444.1 859.9L448.1 864.5L456.1 870.3L462.1 878.7L464.1 880.5L470.1 884.2L472.1 885L474.1 885L476.8 884L488.1 874.8L489.6 872L489.9 870L489.7 866L487.4 856L486.1 853L484.1 850.5L482.1 849.2L480.1 848.5L478.1 848.4L472.1 849.8L470.1 849.8L466.1 848.3L464.1 846.4L463.5 844L463.2 836L464.1 833L465.3 832L468.1 831.6L478.1 833L486.1 831.9L498.1 832.1L508.1 834.5L520.1 833.7L532.1 836.3L538 840L540.1 842.4L541.2 846L541.8 854L541.7 862L542.3 866L544.1 870.7L548.1 876.3L548.8 880L547.3 884L544.1 887.9L536.1 892L535.2 894L537.2 906L540.2 910L541.1 912L540.8 914L539.8 916L535.8 922L535.5 924L535.9 930L533.9 934L534.4 938L535.4 940L539.9 946L543.6 954L548.1 961.3L555.8 970L558.7 974L560.6 978L563.2 988L564.1 990L578.1 1016.3L580.6 1020L588.4 1028L590.9 1032L594.2 1040L597 1044.4L597 1055.3L591 1052L588.4 1050L582.9 1042L580.9 1038L578.2 1030L572.3 1022L567.3 1012L563.6 1006L562.1 1002L559.1 990L555.3 982L551.5 976L544.1 967.1L540 956L532.1 943.8L530.1 941.7L528.1 941.1L522.1 940.5L520.1 939.5L517.3 936L516.6 934L516.8 930L516.4 928L515.2 926L509.3 920L504.2 914L496.1 908.2L492.8 904L488.7 900L484.3 894L480.3 892L468.1 888.4L462.1 884.8L454.1 877.1L446.1 872.8L442.4 870L428.6 854L421 844L418.1 842.2L413.7 842L404.1 844.4L394.1 849.2L390.1 849.6L380.1 849L372.1 849.4L366.1 850.2L362.1 851.9L361.8 854L362.1 854.6L368.1 860.3L369.4 862L371.1 866L371.5 868L371.2 872L369.7 876L368.1 878.5L366.1 880.1L362.1 881.2L350.1 881.9L342.1 881.1L336.1 882.1L334.1 883.1L332.1 885.2L329.8 892L328.1 894.2L322.1 897L314.1 898.6L312.1 900.5L310.9 904L311 908L312.1 911.2L318.9 920L324.1 928.6L331.1 936L338.1 941.8L345.3 950L353.1 960L356.1 962.4L370.1 971.4L374.7 976L378.1 980.9L382 990L388.9 1002L390.7 1008L392.4 1018L392 1022L389.9 1028L387.9 1038L384.1 1044L380.1 1048L374.1 1052.7L368.1 1055.3L364.1 1055.4L354.1 1052.1L344.1 1045.9L338.1 1043.1L326.1 1038.4L324.1 1037.9L321.8 1038L318.1 1040L312.1 1046L305.7 1058L304.4 1062L303.3 1068L301.5 1072L295.3 1080L292.1 1082.9L288.1 1085.4L270.1 1091.5L258.1 1093.4L248.1 1094.2L240.1 1096.4L232.1 1097.4L224.1 1099.7L218.1 1102.8L212.1 1104.2L210.1 1105.2L206.1 1108.4L204.1 1110.6L202.2 1114L199.4 1122L191.6 1134L188.1 1136.8L184.1 1138.6L180.1 1139.2L176.1 1138.1L158.1 1124L156.8 1122L156 1118L155.8 1114L156.4 1110L158.2 1106L163 1098L164.4 1094L166.1 1090.8L168.1 1088.8L174.1 1084.9L176.1 1082L178 1076L178.3 1074L178 1072L176 1068L173.8 1060L171.3 1056L160.4 1042L153 1036L149 1034L142.1 1032.4L130.1 1028.5L128.1 1028.3L122.1 1029.4L122.1 997.9L128.1 995.8L134.1 992L136.1 991.5L138.1 992.1L143.8 998L144.9 1000L145.1 1002L143.9 1006L143.7 1008L144.5 1010L146.1 1011.4L148.1 1012.1L150.1 1012.2L156.1 1011.8L164.1 1012L168.1 1013.2L172.1 1015L179.9 1016L184.1 1018.6L188.5 1020L190.4 1022L190.1 1024.2L188.1 1024.9L180.1 1023.6L178.2 1024L177.2 1026L178.1 1027.8L180.1 1028.9L186.1 1030.6L189.7 1034L196.1 1038.4L197.5 1040L198.5 1042L199.4 1046L200.5 1048L208.1 1055.2L210.1 1056.1L216.1 1056.3L226.3 1058L232.1 1060L236.2 1062L238.7 1064L246.1 1071.7L250.6 1080L252.1 1081.9L256.1 1083.5L268.1 1084.8L272.1 1084.3L284.1 1078.9L288.1 1075.9L290.6 1072L293.2 1066L299.2 1048L300.8 1022L301.8 1018L304.1 1016.3L308.1 1015.7L312.1 1014.1L318.1 1009.3L320.1 1009L322.1 1009.5L328.1 1014.4L332.1 1015.1L337.1 1014L339.9 1012L342.1 1009.8L346.1 1015.2L348.1 1018.9L349.5 1028L354.1 1041.2L355.1 1042L360.1 1042.7L361.2 1044L364.1 1045.9L368.1 1046L373.5 1044L375.9 1042L377.1 1040L377.4 1038L377.2 1036L376 1032L376.5 1030L380.1 1021.7L381.4 1010L381 1006L378.1 1000.2L370.1 991.4L366.1 988.3L360.2 986L357 984L356.1 982.6L350.1 981.8L347.1 980L342.9 974L337.9 968L332.1 957.2L330.1 954.4L328.1 952.8L326.1 952.1L320.1 951.4L316.1 949.4L314.8 948L310 940L303.9 934L302.9 932L306.1 928L307 926L308 922L307.5 918L306.1 915.8L302.1 913.1L298.1 907L291.5 894L289.9 890L289.6 888L290.1 884.8L294.1 881.3L295.4 878L296.2 874L294.8 870L294.1 868.9L292.1 867.9L290.1 868.7L284.1 875.7L274.1 876.9L272.1 876.4L270.1 875L267.9 872L266.9 868L266.1 844L262.4 832L262.4 830L263 828L267.8 822L268.3 820L268.1 817.9L263.3 808L256.1 801.1L254.3 798L251.8 792L246.8 786L243 776L238.5 770L235.5 762L233.6 754L232.7 752L230.8 750L227.9 748L226.6 746L226.8 738L227.8 732L230.1 728.5L238.1 721.3L242.1 715.6L246.1 707ZM300.1 825.8L298.2 828L297.6 830L298.4 834L300.1 836.3L302.1 837.5L304.1 838L306.1 837.9L308.5 836L309.3 832L309.4 830L308.8 828L307.3 826L306.1 825.1L304.1 824.5L302.1 824.8ZM314.1 849.6L314 852L316.1 854.7L318.1 855.3L320.1 854.4L320.8 852L320.1 850L318.1 848.6L316.1 848.2ZM178.1 1099.7L174.1 1102L171.8 1104L170 1106L168.4 1110L169.1 1114L170.2 1116L172.1 1118.3L174.1 1119.6L176.1 1120.2L182.1 1119.5L185.1 1118L186.9 1116L188.1 1112L187.8 1106L186.1 1101.5L184.1 1099.8L182.1 1099.2Z"/>
<path fill="#fff7b3" fill-rule="evenodd" stroke="#fff7b3" stroke-width="0.6" d="M227.5 698L248.1 698L246.1 707L242.1 715.6L238.1 721.3L230.1 728.5L227.8 732L226.8 738L226.6 746L227.9 748L230.8 750L232.7 752L233.6 754L235.5 762L238.5 770L243 776L246.8 786L251.8 792L254.3 798L256.1 801.1L263.3 808L268.1 817.9L268.3 820L267.8 822L263 828L262.4 830L262.4 832L266.1 844L266.9 868L267.9 872L270.1 875L272.1 876.4L274.1 876.9L282.1 876.1L284.1 875.7L290.1 868.7L292.1 867.9L294.1 868.9L295.8 872L296 876L294.1 881.3L290.1 884.8L289.6 888L289.9 890L291.5 894L298.1 907L302.1 913.1L306.1 915.8L307.5 918L308 922L307 926L306.1 928L302.9 932L303.9 934L310 940L314.8 948L316.9 950L320.1 951.4L326.1 952.1L328.1 952.8L330.1 954.4L332.1 957.2L337.9 968L342.9 974L346.1 978.9L348.1 980.9L350.1 981.8L356.1 982.6L357 984L360.2 986L366.1 988.3L370.1 991.4L378.1 1000.2L380.3 1004L381.4 1008L380.5 1020L376 1032L377.2 1036L377.4 1038L377.1 1040L375.9 1042L373.5 1044L368.1 1046L364.1 1045.9L361.2 1044L360.1 1042.7L356.1 1042.3L354.1 1041.2L349.5 1028L348.1 1018.9L346.1 1015.2L342.1 1009.8L339.9 1012L337.1 1014L332.1 1015.1L328.1 1014.4L322.1 1009.5L320.1 1009L318.1 1009.3L312.1 1014.1L308.1 1015.7L304.1 1016.3L302.1 1017.5L300.8 1022L299.2 1048L293.9 1064L290.6 1072L288.1 1075.9L285.6 1078L277.8 1082L270.1 1084.7L256.1 1083.5L252.3 1082L250.6 1080L248.1 1075.1L244.7 1070L238.1 1063.4L234.1 1060.9L226.3 1058L216.1 1056.3L210.1 1056.1L208.1 1055.2L200.5 1048L199.4 1046L198.5 1042L197.5 1040L196.1 1038.4L189.7 1034L186.1 1030.6L180.1 1028.9L178.1 1027.8L177.2 1026L178.2 1024L180.1 1023.6L188.1 1024.9L190.1 1024.2L190.4 1022L188.5 1020L184.1 1018.6L179.9 1016L172.1 1015L168.1 1013.2L164.1 1012L156.1 1011.8L150.1 1012.2L148.1 1012.1L146.1 1011.4L144.5 1010L143.7 1008L143.9 1006L145.1 1002L144.9 1000L142.1 996L138 992L136.1 991.5L134.1 992L128.1 995.8L122.1 997.9L122.1 972.7L142.1 978.3L161.4 986L164.1 986.5L168.1 985.6L178.1 981.2L188.1 979.6L189.3 980L190.1 980.5L192 986L193.4 988L198.1 992.1L202.1 997.5L203.5 1002L203.5 1008L204.2 1010L210.8 1018L214.6 1028L224.6 1040L228.1 1042.5L234.1 1045.6L238.1 1046.7L244.1 1047.2L246.7 1048L250.1 1050L258.1 1059.6L262.1 1066.4L264.1 1068.6L270.1 1072.4L274.1 1072.9L276.9 1072L280.1 1070.1L282.1 1067.6L284.1 1063.1L287.4 1052L288.2 1038L287.5 1034L284.7 1026L283.6 1014L284.5 1004L284.1 1000.1L281.8 988L278.4 980L278.8 978L280.1 977.1L282.1 977.1L286.1 979.5L287.8 980L290.1 979.5L291.8 978L292.1 976L290.1 973.6L283.5 972L282.1 971L279.9 968L278.1 966.7L270.1 965.7L266.1 963.8L264.6 962L263.7 960L263.5 958L264.4 952L263.7 944L264.1 940.3L265.2 938L266.1 937L268.1 936L272.1 934.9L276.1 931.4L278.7 928L282.1 922L286.1 918.2L288.1 914.4L288.4 912L286.1 909.6L281.7 908L278.1 905.6L270.1 903L268.1 901.8L266.1 900L262.1 892.2L258.7 888L256 880L254.8 874L254.8 870L256.3 862L256.5 858L255.5 852L254.3 848L251 842L248.6 836L244.4 828L240.8 820L236.9 814L229.4 800L228 796L227.3 792L226.3 790L224.1 788.3L218.1 785.4L216.1 783.1L214.1 778.1L214.3 770L211.9 762L210.3 746L210.3 734L209.6 724L214.1 711L216.1 708.7L224.1 703.2ZM401.1 698L418.2 698L417.9 706L418.3 708L420.5 712L432.1 725.2L440.1 730.6L446.1 738.9L454.1 744.1L456.3 746L457.7 750L457.6 756L458.1 757.9L461.5 762L461.6 764L460.5 766L458.1 767.2L448.1 764.4L444.1 764.1L442.1 765.5L440.9 768L441.2 772L442.1 773.8L444.1 775.4L450.1 775.8L452.1 776.9L454.7 780L457.1 782L460.1 783L466.1 783.9L468.1 784.7L470.1 786.4L471.8 790L471.1 798L471.6 802L474.6 812L477.7 816L482.1 818.3L488.1 819.3L498.1 818.5L516.1 818.8L528.1 818.1L538.1 817L542.1 817.4L544.1 818.7L546.1 821.1L554.9 834L556.3 838L559.5 854L560.5 862L560.5 868L562.4 878L562.2 886L563.2 892L563.9 900L566.3 908L566.9 918L568.1 921.3L572.4 928L573.8 930L580.1 935.4L580.9 938L580.1 941L576.1 947.3L574.1 949.5L570.1 952.2L565.7 954L564.5 956L564.7 960L567.5 968L568.5 974L570.6 980L571.4 986L572.8 990L575.5 994L581 1000L583.2 1006L585.8 1010L588.1 1012.3L597 1019.2L597 1044.4L594.2 1040L591.8 1034L589.7 1030L586.7 1026L579.1 1018L571.2 1004L568.5 998L563.2 988L561.2 980L558.7 974L555.8 970L548.1 961.3L543.6 954L539.9 946L535.4 940L534.4 938L533.9 934L535.9 930L535.5 924L535.8 922L539.8 916L540.8 914L541.1 912L540.2 910L537.2 906L535.2 894L536.1 892L544.1 887.9L547.3 884L548.8 880L548.1 876.3L544.1 870.7L542.3 866L541.7 862L541.8 854L540.8 844L539.9 842L536.1 838.6L532.1 836.3L520.1 833.7L508.1 834.5L498.1 832.1L486.1 831.9L478.1 833L468.1 831.6L465.3 832L464.1 833L463.2 836L463.5 844L464.1 846.4L466.1 848.3L470.1 849.8L472.1 849.8L478.1 848.4L480.1 848.5L482.1 849.2L484.1 850.5L486.1 853L487.4 856L489.7 866L489.9 870L489.6 872L488.1 874.8L476.8 884L474.1 885L472.1 885L470.1 884.2L464.1 880.5L462.1 878.7L456.1 870.3L448.1 864.5L444.1 859.9L438 854L431.1 844L424.1 836.4L420.1 833.7L410.5 830L404.1 826.2L402.1 825.8L400.1 826.2L392.1 831.2L388.1 832.3L386.1 838L384.1 839.7L370.1 841.4L366.1 843.2L358.1 848.4L356.7 850L356 852L356.1 854L359.9 866L359.9 868L358.1 869.6L356.1 870L352.1 869L344.1 863.5L340.1 859.6L334.6 852L331.4 842L326.1 830.1L325.1 818L326.1 815.2L327.9 814L333.1 812L335 810L336 808L336.8 802L336.3 792L336.6 790L338.1 787.7L341.2 786L348.1 784L350.1 784.4L358.1 788.7L362.1 788.9L370.1 786.6L372.1 786.8L374.1 787.6L376.1 789.3L380.8 794L381.8 796L381.9 798L380.1 804.1L378.1 807.1L375 810L373.7 820L376.4 824L378.1 825.4L380.1 826.3L382.1 825.2L386.1 818.8L388.1 817.2L392.1 815.6L394.1 814.3L395.6 812L396.1 810L396 806L395.1 802L393.5 798L393.7 796L398.1 792.6L402.9 788L408.1 785.2L410.1 784.6L412.1 784.6L416.1 786.6L418.1 786.9L420.1 786.4L422.1 784L421.7 782L420.1 780.5L416.1 779.3L415.1 778L414.1 776.1L413 772L412.5 768L414.2 758L414.1 730L412.6 726L409.1 720L406 712L402.9 706ZM552.1 935.8L550.1 936.5L548.5 938L547.7 940L548.1 944L550.1 947.4L552.1 949.2L556.1 951.2L558.1 951.5L564.1 950.9L565.7 948L565.4 946L564.3 944L556.1 936.5ZM562.1 927.8L560.4 930L560 932L562.1 933.8L564.1 932.8L564.7 932L564.9 930L564.1 928.7ZM201.2 934L202.1 932.7L204.1 933.3L214.1 937.2L218.5 938L219.9 940L219.2 942L214.8 948L212.9 952L211.7 966L208.1 972.2L206.1 973.3L204.1 972.7L199.7 970L197.5 968L196.4 966L196.2 964L196.9 962L200.7 956L201 954L200.1 951.4L196.1 946.3L196 944L200.1 935.1ZM177.6 1100L180.1 1099.2L182.1 1099.2L184.1 1099.8L186.1 1101.5L187.8 1106L188.1 1112L186.9 1116L185.1 1118L182.1 1119.5L176.1 1120.2L174.1 1119.6L172.1 1118.3L170.2 1116L169.1 1114L168.4 1110L170 1106L171.8 1104L174.1 1102Z"/>
<path fill="#feea9f" fill-rule="evenodd" stroke="#feea9f" stroke-width="0.6" d="M195.7 698L227.5 698L224.1 703.2L216.1 708.7L214.1 711L209.6 724L210.3 734L210.3 746L211.9 762L214.3 770L214.1 778.1L216.1 783.1L218.1 785.4L224.1 788.3L226.3 790L227.3 792L228 796L229.4 800L236.9 814L240.8 820L244.4 828L248.6 836L251 842L254.3 848L255.5 852L256.5 858L256.3 862L254.8 870L254.8 874L256 880L258.7 888L262.1 892.2L266.1 900L268.1 901.8L270.1 903L278.1 905.6L281.7 908L286.1 909.6L288.4 912L288.1 914.4L286.1 918.2L282.1 922L277.3 930L274.1 933.5L272.1 934.9L266.1 937L264.2 940L263.7 942L264.4 952L263.5 958L263.7 960L264.6 962L266.4 964L270.1 965.7L278.1 966.7L279.9 968L282.1 971L283.5 972L290.1 973.6L292.1 976L291.8 978L290.1 979.5L288.1 980L286.1 979.5L282.1 977.1L280.1 977.1L278.8 978L278.4 980L281.1 986L282.3 990L284.4 1002L283.6 1014L284.7 1026L288 1036L288.1 1040L287.4 1052L286.1 1057.4L283.7 1064L282.1 1067.6L280.2 1070L276.9 1072L274.1 1072.9L270.1 1072.4L264.1 1068.6L262.1 1066.4L258.1 1059.6L250.1 1050L246.7 1048L244.1 1047.2L238.1 1046.7L234.1 1045.6L227.3 1042L222.6 1038L214.6 1028L210.8 1018L204.2 1010L203.5 1008L203.5 1002L202.1 997.5L198.1 992.1L193.4 988L192 986L190.1 980.5L189.3 980L188.1 979.6L178.1 981.2L168.1 985.6L164.1 986.5L161.4 986L142.1 978.3L122.1 972.7L122.1 945.7L126.1 946.3L132.1 945.7L144.1 951.8L145.6 954L145.6 956L143.1 960L143.3 962L144.7 964L146.1 965L148.1 966L150.1 966L155.7 964L160.1 960.6L165.8 954L168.3 946L170.1 944.4L175 942L176.1 940.1L175.1 930L174.2 928L168.1 922.5L166.6 920L166 918L166.5 914L168.6 908L170.1 899.7L172.9 896L180.9 890L182.6 888L183.4 886L183.5 884L182.5 880L181.3 878L176.1 873.1L172.1 862L172.1 857.1L174.1 852.5L176.1 852.4L186.5 858L188.7 860L191.6 866L194.1 867.5L198.1 868.7L200.1 868.8L202.5 868L203.5 866L203.1 864L201.5 862L192.1 857.2L188.1 852L186 850L184.1 849L180.1 848.1L174.1 849.8L172.1 847.2L169.3 840L166.1 834.6L165.1 830L165.8 826L170.2 814L171.9 808L180.1 794.1L188.1 786.1L190.1 785.3L196.1 784.5L198.1 783.4L200.1 781.5L202.2 778L202.4 774L198.3 746L195.4 716ZM232.1 833.8L230.1 834.1L228.1 835.9L224.1 844.9L222.1 847.9L220.1 849.2L214.1 850.8L212.6 852L211.6 854L211.4 858L212.6 862L214.1 864.6L216.1 866.2L224.1 868.2L227.3 870L229.2 872L230.7 878L232.1 879.6L234.1 879.7L239 878L242.1 875.4L248.1 858.2L248.5 854L247.8 850L246.1 847.2L240.9 842L236.1 836L234.1 834.4ZM202.1 932.7L200.1 935.1L196 944L196.1 946.3L200.1 951.4L201 954L200.7 956L196.9 962L196.2 964L196.4 966L198.1 968.6L204.1 972.7L206.1 973.3L208.1 972.2L211.7 966L212.9 952L214.8 948L219.2 942L219.9 940L218.5 938L214.1 937.2ZM418.2 698L429.3 698L432.1 702.3L435.9 706L443.1 710L454.1 718.2L462.1 726L464.1 727.6L468.8 730L471.3 732L474.8 738L478.5 742L479.6 744L480.2 750L481.6 752L484.1 753.2L488.1 753.4L488.5 754L488.6 756L487.5 760L487.6 762L491.1 768L494.1 781.7L495 784L496.5 786L502.1 789.6L506.1 793.5L508.1 793.8L510.1 793.4L512.5 792L518.1 783.4L520.1 781.9L524.1 781.9L528.1 783.5L530.1 785.5L533.1 790L533.6 792L532.4 798L533 800L534.5 802L538.5 806L546.1 808.8L548.1 810.2L550.1 812.9L552.1 818L554.1 821.5L560.1 827.3L562.1 830.2L568.2 842L569.5 846L570.1 852L570.4 870L572.2 884L574.1 893.1L577.7 902L580.1 912.4L581.8 916L590.1 926.9L592.1 928.7L597 930L597 941.5L594.1 942.1L592.1 943L591.4 944L586.1 954L584 960L583.9 962L584.1 964L586.1 966.8L594.1 962.9L597 963.1L597 975.9L592.1 978.4L590.1 978.9L587.3 978L584.1 975.5L583.1 980L583.7 986L584.9 988L590.1 991L597 998.4L597 1019.2L588.1 1012.3L585.8 1010L583.2 1006L581 1000L575.5 994L572.8 990L571.4 986L570.6 980L568.5 974L567.5 968L564.7 960L564.5 956L565.7 954L570.1 952.2L574.1 949.5L576.1 947.3L580.1 941L580.9 938L580.1 935.4L573.8 930L572.4 928L568.1 921.3L566.9 918L566.3 908L563.9 900L563.2 892L562.2 886L562.4 878L560.5 868L560.5 862L559.5 854L556.3 838L554.9 834L546.1 821.1L544.1 818.7L542.1 817.4L538.1 817L528.1 818.1L516.1 818.8L498.1 818.5L488.1 819.3L482.1 818.3L477.7 816L474.6 812L471.6 802L471.1 798L471.8 790L470.1 786.4L468.1 784.7L466.1 783.9L460.1 783L457.1 782L454.7 780L452.1 776.9L450.6 776L444.1 775.4L442.1 773.8L440.8 770L440.9 768L442.1 765.5L444.1 764.1L448.1 764.4L458.1 767.2L460.5 766L461.6 764L461.5 762L458.1 757.9L457.6 756L457.7 750L457.3 748L456.3 746L454.1 744.1L446.1 738.9L440.1 730.6L432.1 725.2L420.5 712L418.3 708L417.9 706ZM561.9 928L564.1 928.7L564.9 930L564.7 932L564.1 932.8L562.1 933.8L560 932L560.4 930ZM551.5 936L554.1 935.9L556.1 936.5L564.1 943.8L565.4 946L565.7 948L564.1 950.9L558.1 951.5L556.1 951.2L552.1 949.2L550.1 947.4L548.1 944L547.7 940L548.5 938L550.1 936.5Z"/>
<path fill="#fee090" fill-rule="evenodd" stroke="#fee090" stroke-width="0.6" d="M170.4 698L195.7 698L195.3 714L196.6 730L198.3 746L202.6 776L202.2 778L201.2 780L198.1 783.4L196.1 784.5L190.1 785.3L188.1 786.1L182 792L178.8 796L171.9 808L170.2 814L168.1 819L165.2 828L165.3 832L166.1 834.6L171.1 844L172.1 847.2L174.1 849.8L180.1 848.1L184.1 849L186 850L188.1 852L192.1 857.2L201.5 862L203.1 864L203.5 866L202.5 868L200.1 868.8L198.1 868.7L194.1 867.5L191.6 866L188.7 860L186.5 858L176.1 852.4L174.1 852.5L172.1 857.1L172.1 862L176.1 873.1L181.3 878L182.5 880L183.5 884L183.4 886L182.6 888L180.9 890L172.9 896L170.1 899.7L168.6 908L166.5 914L166 918L166.6 920L168.1 922.5L174.2 928L175.1 930L176.1 940L175 942L170.1 944.4L168.3 946L165.8 954L160.1 960.6L155.7 964L150.1 966L148.1 966L144.7 964L143.3 962L143.1 960L145.6 956L145.6 954L144.3 952L134.1 946.4L132.1 945.7L126.1 946.3L122.1 945.7L122.1 916.1L130.1 915.1L146.1 910.4L152.1 909.2L154.1 908.3L156.1 906.8L158.5 904L160.6 896L165 886L165.3 884L164.9 880L162.1 870L162 862L159.8 850L158 844L151.9 830L150.9 826L150.7 822L152.1 806L154.1 799.1L164.1 785.2L166.1 783.3L172.1 779.9L174.6 778L176.7 774L178.1 767.9L182.5 762L184.3 758L184.3 754L180.6 742L178.9 738L177.3 732L176.5 730L172.2 724L170.1 718L169.7 714ZM429.3 698L451.1 698L456.1 700.7L465.9 708L471.6 714L480.1 720.6L482.1 722.6L485.8 728L488.1 729.8L496.1 732.4L509.4 738L520.1 745.8L524.1 749.7L532.1 759.9L536.1 768.4L541.1 782L548.4 796L555 806L558.5 818L560.1 819.8L564.1 822.2L567.6 826L569.4 830L571.8 838L577.4 846L579 852L578.6 862L580.1 878.3L581.2 882L584.6 890L588.1 902.4L590.4 906L597 912.6L597 930L592.1 928.7L590.1 926.9L583.2 918L580.7 914L577.7 902L574.1 893.1L572.2 884L570.4 870L570 850L569 844L562 830L560.1 827.3L554.1 821.5L549.5 812L548.1 810.2L546.1 808.8L538.5 806L534.5 802L533 800L532.4 798L533.6 792L533.1 790L530.1 785.5L528.1 783.5L526.1 782.4L522.1 781.7L519.8 782L518.1 783.4L512.5 792L510.1 793.4L508.1 793.8L506.1 793.5L502.1 789.6L496.1 785.7L494.1 781.7L491.1 768L487.6 762L487.5 760L488.6 756L488.5 754L488.1 753.4L484.1 753.2L481.6 752L480.2 750L479.6 744L478.5 742L474.8 738L471.3 732L468.8 730L464.1 727.6L462.1 726L454.1 718.2L443.1 710L435.9 706L432.1 702.3ZM230.8 834L232.1 833.8L234.1 834.4L236.1 836L240.9 842L246.1 847.2L247.8 850L248.5 854L248.1 858.2L242.1 875.4L239 878L234.1 879.7L232.1 879.6L230.7 878L229.2 872L227.3 870L224.1 868.2L216.1 866.2L214.1 864.6L212.6 862L211.4 858L211.6 854L212.6 852L214.1 850.8L220.1 849.2L222.1 847.9L224.1 844.9L228.1 835.9ZM594.5 942L597 941.5L597 963.1L594.1 962.9L586.1 966.8L584.1 963.9L584 960L584.6 958L587 952L590.1 946.1L592.1 943ZM583.8 976L584.1 975.5L587.3 978L590.1 978.9L592.1 978.4L597 975.9L597 998.4L590.1 991L584.9 988L584.1 986.9L583.1 982L583.2 978Z"/>
<path fill="#fecc7e" fill-rule="evenodd" stroke="#fecc7e" stroke-width="0.6" d="M137.8 698L170.4 698L169.7 714L170.1 718L172.2 724L176.5 730L177.3 732L178.9 738L180.6 742L183.8 752L184.5 756L183.6 760L178.1 768L175.9 776L174.1 778.4L166.1 783.3L163.4 786L154.7 798L153 802L152.1 806L150.7 822L150.9 826L151.9 830L159.3 848L161.8 860L162.1 870L164.1 876.2L165.2 882L165 886L160.6 896L158.5 904L156.1 906.8L152.1 909.2L146.1 910.4L130.1 915.1L122.1 916.1L122.1 904.5L134.1 901.3L142.7 896L144.8 894L147.5 890L151.9 882L152.9 878L151.9 864L150.6 858L149.9 848L146.5 838L142.5 830L136.2 814L133.5 796L133.7 792L136.4 782L137.4 774L138.3 772L142 768L142.4 766L138.6 760L138.7 758L142.3 754L143.6 752L144 750L142.1 740L137.2 730L135.6 722L135.8 718L138.1 710ZM451.1 698L481.8 698L486.2 700L489.1 702L493 706L498.1 709.8L502.7 716L515.2 728L527.4 738L534.1 747.2L539.5 752L541 754L542.8 758L547.8 776L561.7 800L564.6 806L571.5 814L576.1 820.5L584.1 826.2L585.6 828L590.1 837.5L595.3 842L597 844L597 847.4L595.1 854L595.4 862L594.8 868L596.2 876L596 882L597 885L597 912.6L590.4 906L588.1 902.4L584.6 890L580.5 880L579.5 874L578.6 862L579 852L577.4 846L571.8 838L569.4 830L567.6 826L564.1 822.2L560.1 819.8L558.5 818L555 806L548.4 796L541.1 782L536.1 768.4L532.1 759.9L524.1 749.7L520.1 745.8L509.4 738L496.1 732.4L488.1 729.8L485.8 728L481.6 722L471.6 714L465.9 708L456.1 700.7Z"/>
<path fill="#fdb567" fill-rule="evenodd" stroke="#fdb567" stroke-width="0.6" d="M122.1 698L137.8 698L138.1 710L135.8 718L135.6 722L137.2 730L142.1 740L144 750L143.6 752L142.3 754L138.7 758L138.6 760L142.4 766L142 768L138.3 772L137.4 774L136.4 782L133.7 792L133.5 796L136.2 814L142.5 830L146.5 838L149.4 846L150.2 850L150.6 858L151.9 864L153 876L152.6 880L150.9 884L146.3 892L142.7 896L134.1 901.3L122.1 904.5L122.1 896.3L128.1 894.4L132.1 892.2L136.6 888L139.4 884L141.1 880L142 876L142.2 864L139.3 842L138.1 837.5L136.1 833.6L130.5 826L122.1 818.7ZM481.8 698L509 698L517.9 714L522.1 719.2L526.1 722.6L532.1 725.4L536.1 728.7L538.2 732L542.9 742L549.7 752L551.3 756L553.4 764L557.3 774L560.1 780L566.8 792L572.1 800.3L581.8 812L586.1 816L594.2 822L597 825L597 844.2L595.3 842L590.1 837.5L585.6 828L584.1 826.2L576.1 820.5L571.5 814L564.6 806L561.7 800L547.8 776L542.8 758L542.1 756L540.1 752.7L534.1 747.2L527.4 738L516.1 728.8L504.7 718L502.1 715.2L498.1 709.8L493 706L488.1 701.2ZM596.9 848L597 847.4L597 885L596 882L596.2 876L594.8 868L595.4 862L595.1 854Z"/>
<path fill="#fa9b58" fill-rule="evenodd" stroke="#fa9b58" stroke-width="0.6" d="M509 698L523 698L530.1 705.9L538.1 713.7L541.2 718L548.1 725.7L552.3 734L557.4 742L560.7 752L563.9 760L568.2 776L570.1 778.9L580.6 790L586.2 800L591.6 806L597 810.9L597 825L594.2 822L583.8 814L572.1 800.3L565.6 790L559 778L553.4 764L550.1 752.9L542.9 742L537 730L534.1 726.7L526.1 722.6L522.1 719.2L517.9 714ZM122.1 820L122.1 818.7L130.1 825.6L134.1 830.6L137.4 836L139.3 842L142.2 864L141.7 878L140.4 882L138.1 886L134.7 890L132.1 892.2L128.1 894.4L122.1 896.3L122.1 885.7L126.1 883.5L128.6 880L130.8 872L132.3 860L131.5 854L127.3 840L124.9 836L122.1 833Z"/>
<path fill="#f67f4b" fill-rule="evenodd" stroke="#f67f4b" stroke-width="0.6" d="M523 698L541.8 698L545.3 702L550.1 711.4L557.3 720L562 728L566.4 734L570.1 744.9L574.1 753.5L584.1 765.8L586.8 772L593.3 784L597 788.7L597 810.9L591.6 806L586.2 800L580.6 790L570.1 778.9L568.2 776L563.9 760L560.7 752L557.4 742L552.3 734L548.3 726L541.2 718L538.1 713.7L530.1 705.9ZM122.1 834L122.1 833L124.9 836L127.3 840L131.5 854L132.3 860L130.8 872L128.6 880L126.1 883.5L122.1 885.7Z"/>
<path fill="#f16640" fill-rule="evenodd" stroke="#f16640" stroke-width="0.6" d="M541.8 698L562.6 698L566.1 701.6L570.2 708L576.1 714.5L577.6 718L578.6 724L580.1 728L584.1 732.8L587.1 742L592.3 754L594.1 757L597 760.1L597 788.7L593.3 784L586.8 772L584.1 765.8L574.1 753.5L570.1 744.9L567.4 736L566.1 733.5L562 728L555.9 718L549.1 710L545.3 702Z"/>
<path fill="#e54e35" fill-rule="evenodd" stroke="#e54e35" stroke-width="0.6" d="M562.6 698L582.7 698L586.1 702.6L594 708L595.6 710L596.2 712L596.2 716L597 720.4L597 760.1L594.1 757L592.3 754L587.1 742L584.1 732.8L580.1 728L578.6 724L577.6 718L576.1 714.5L570.2 708L566.1 701.6Z"/>
<path fill="#dc3b2c" fill-rule="evenodd" stroke="#dc3b2c" stroke-width="0.6" d="M582.7 698L597 698L597 720.4L596.2 716L596.2 712L595.6 710L594 708L586.1 702.6Z"/>
<rect x="122" y="698" width="475" height="478" fill="#6f7680" fill-opacity="0.04"/>
<g filter="url(#blr)">
<path fill="#1c2530" fill-opacity="0.03" fill-rule="evenodd" d="M122.1 698L128.5 698L128.6 706L131 710L132.1 714L136.1 716.5L140.1 715.4L146.1 710.9L150.1 712L160.1 707.3L162 708L164 710L163.8 712L159.6 718L159.6 722L160.6 726L159.5 728L154.1 728.9L148.1 727.1L145.1 728L139.8 734L136.4 742L130.1 751L122.1 758.3L122.1 739.6L128.1 737L131.2 734L130.7 732L128.1 729.5L126.1 729L122.1 729.4ZM168.5 698L211.9 698L211 700L205.9 706L208.1 707.4L212.1 706.8L214.1 705L217 698L231.5 698L233.7 704L231.9 712L226.1 720.9L221.8 724L221 726L222.1 726.4L230.1 724.3L232.7 722L241.7 706L239.1 702L239.6 698L279.2 698L279.5 702L283.3 706L283.9 708L279.7 716L279.4 722L277.4 726L272.4 732L264.1 736.8L258.1 741.8L256.1 741.7L254.1 740.5L252.1 741.1L248.1 744.2L244.1 744.4L242.1 742.5L240.3 738L238.1 737.4L228.1 741.3L220.1 746.7L216.6 734L213.4 730L210.1 729.1L200.1 730.7L198.1 729.9L197 728L194.4 726L192.1 725.5L184.1 727.5L182.1 726.7L180.1 723.1L174.2 720L172.8 718L172.1 713.8L169.2 710L172 706L171.9 704L168.1 703.4ZM182.1 703.3L179.7 706L182.1 708L185.5 706L186 704L184.1 702.6ZM258.1 713.5L256 716L258.1 717.4L260.5 716ZM295.5 698L313.5 698L314.1 698.6L318.6 698L318.4 700L317 702L310.1 708.3L306.1 708.7L298.1 707.5L292.1 709.8L290.1 709.6L288.2 708L288.2 706L294.1 700.9ZM374.8 698L382.7 698L383.2 704L382.1 705.3L380.1 705.8L374.1 704.5L373.6 702ZM438.1 700L439 698L482 698L481.8 700L480.1 702.9L465.6 708L460 712L459.4 714L460.1 714.2L476.1 713.6L477.4 714L479.2 716L473.3 726L468.1 732.3L466.1 733.9L464.1 733.4L462.4 730L462.1 724.7L460.1 722.7L458.1 722.8L456.4 724L452.1 730.6L450.1 731.8L448.1 731.4L447.2 730L447.3 728L449.3 722L449.1 718L446.1 714.8L437.2 710L437.3 702ZM504.6 698L515.4 698L513.7 700L508.1 702.7L505.8 702ZM517.6 700L518.1 699.3L520.1 699.2L520.7 700L520.2 702L518.1 702ZM533.2 698L539.4 698L539.1 700L537.9 702L534.1 702.2L532.8 700ZM579.2 698L589.5 698L593.1 706L590.1 710.2L588.1 711.5L578.1 710.7L571.5 712L570.6 710L571.5 708L578.1 702ZM415 708L420.1 707.2L421.8 708L421.6 710L418.1 712.9L416.1 713.3L414.6 712L413.9 710ZM553.2 708L554.1 707.3L555.4 708L556.3 710L554.1 713.1L552.1 710.3ZM526.2 714L529.1 714L530.9 716L530.1 723.2L528.1 726.1L526.1 725L524 720L524.3 716ZM482.8 716L484.1 715L484.9 716ZM491.1 718L496.1 718L503.4 722L501.4 726L502.1 729.3L504.1 730L508.1 729.1L510.1 730.2L514.1 734.7L516.1 735.6L528.1 736.4L529.3 738L528.1 745.1L526.2 746L520.1 746.4L514.1 746.3L508.1 745L500.1 748.2L496.1 746.7L493.7 744L488.5 732L489.2 720ZM556 724L558.1 722.7L560.1 722.9L565.4 728L568.9 734L568.1 736.7L564.1 738.7L555.9 740L554.4 728ZM581.6 728L584.1 727L584.8 728L584.4 730L582.1 732.5L580.1 732ZM334 732L336.1 730.9L338.1 730.9L340.2 732L340.3 734L338.1 736.4L336.1 735ZM189.6 736L194.1 734.7L196.1 734.8L198.1 736.3L204.1 736.8L205 738L205.4 740L204.6 744L199.8 750L195.9 762L196 764L198.1 766.6L208.1 768.9L210.8 770L212.1 771.5L215.7 778L215 788L212.1 791.4L202.1 795.5L199.9 790L198.1 788.2L190.1 786.4L184.9 796L184.6 798L185.7 800L192.1 801.8L200.1 799.6L201.4 804L200.1 805.3L198.1 805.7L192.1 802.9L186.1 810.8L184.1 811.6L178.1 811.8L174.1 814.8L172.1 817.6L166.4 828L167.3 834L169.1 836L169.5 838L168 842L169.3 846L168.4 854L170 862L173.2 866L173.4 868L171.9 874L172.1 880.1L174.1 881.8L180.1 880.3L186.1 875.6L188.6 876L193.1 882L193.8 888L196.7 894L196.4 896L194.1 900.6L188.5 906L188.2 908L192.1 917.6L196.1 918.2L198.1 919.4L202.7 924L205.9 930L208.1 931.3L212.1 932.1L214.2 934L214 936L206.7 948L205 954L202.9 958L201.8 964L188.1 983.4L184.1 984.5L172.1 981.2L168.1 977.1L164.1 975.8L162.1 976.2L154 984L152.3 986L151.7 988L152.1 989.4L154.1 990.6L164.1 988.3L165.2 990L164.6 996L160.1 1002.2L156.1 1004.9L154.1 1003.8L151.2 1000L151.3 996L148.3 994L146.1 994.2L140.1 996.3L138 998L132.1 1005.7L130.1 1005.9L129.5 1004L127 1002L122.1 999.7L122.1 987.3L125.5 986L132.1 980.7L134.1 980L140.1 980.9L146.1 979.3L150.1 976.3L150.7 974L147.3 970L146.8 968L149.4 958L149.1 954L142.1 953L137.2 946L137.6 944L140.1 940.8L142.1 939.8L154.1 940.2L162.1 936.7L170.1 937.8L172.1 937.2L174.1 935.4L177 930L178.7 920L176.1 917.3L172.1 918.2L167.4 922L164.1 927.6L154.1 928L148.1 926.6L140.1 928.4L138 928L128.1 921.3L122.1 921.5L122.1 854.9L128.1 853L130.1 850.5L131 848L130.9 842L132.4 838L130.1 836.6L126.1 839.9L122.1 838.2L122.1 829.7L126.3 826L134.1 822.6L134.6 820L132 816L126.1 811L122.1 809.3L122.1 807.7L124.1 806.7L127.1 802L131.1 788L130.1 786.5L128.1 785.6L122.1 786.1L122.1 778.2L131.3 766L134.1 765.1L140.1 765.4L142.3 764L142.5 762L140.4 756L140.8 750L140 746L141.4 742L144.1 739.4L146.1 739.2L148.1 740.2L156.1 746.5L160.1 754L160.6 758L162.1 759.8L165 758L172.1 747L180.1 739.8L184.1 738.8ZM168.1 903.8L165.8 906L166.1 908.5L168.1 909.2L173.2 906L172.1 903.9ZM162.1 949.8L156.1 953.6L154.5 956L158.1 957.5L162.1 958L167.6 956L164.5 950ZM178.1 945.8L175.9 950L168.8 956L172.1 956.3L178.1 953.6L186.1 953L188.1 950.7L188.2 948L184.1 945.2L180.1 944.7ZM144.1 777.6L141.4 780L136.6 788L140.1 796L139.3 802L140.1 804.1L142.1 805L144.1 804.2L146.1 802L152.1 793.8L153.9 790L153.9 788L152.1 784.7L146.1 778.2ZM154.1 822.2L148.6 828L147.7 830L154.1 834.9L156.1 835.5L160.1 834.9L163.3 832L164.8 828L162.6 826L158.1 824.5L156.1 822.4ZM160.1 768L158.3 770L158 774L160.1 775.7L162.1 775.8L165 774L166.8 770L165.8 768L164.1 766.9ZM180.1 763.4L176.9 766L175.7 770L176.9 772L180.1 773.1L183.2 772L184.7 770L183.3 764L182.1 763.3ZM148.1 901.8L146.1 902.1L145.8 904L148.1 906.4L148.6 904ZM421.9 738L424.1 738L425.2 740L424.7 742L422.1 745.2L418.1 747.2L413.9 746L413.4 744L415.1 742ZM463.2 740L464.1 739L465.7 740L465 742L464.1 742.5L463.1 742ZM405.3 744L406.7 744L406.3 746L404.1 746.6L404.1 745.3ZM447.9 744L452.1 742.8L455.4 744L452.6 748L448.1 750.5L446.4 750L445.7 748ZM287 746L296.1 745.1L299.9 746L300.6 750L299.5 756L296.1 764.4L290.1 774.4L284.1 778.8L278.1 779.2L274.1 777.4L271 774L271.4 768L276.3 762L280.1 760L282 758L283.2 750L284.3 748ZM254.2 750L256.1 748.3L258.1 748.7L262.5 754L264.1 761.1L267.9 766L266.9 768L260.2 774L256.1 780.3L250.1 781.9L247.2 786L239 792L237.1 798L235.6 800L230.1 804.1L226.8 808L225.9 810L225.9 818L224.1 822L220.1 825.9L216.1 827.3L214.1 827.2L209.8 818L214.5 812L215 806L219.3 794L222.1 791.9L236.1 786.7L238.1 784.4L242.9 778L244.8 774L243.5 770L241.3 768L240.5 766L248.1 762.8L250.1 759.6L252.1 753.3ZM333.9 750L336.1 749.1L342.9 754L343.2 756L342.5 758L340.1 760.9L338.1 761.7L336.1 760.4L333.2 754L332.8 752ZM533.2 750L536.1 748.1L538.1 748.1L542 750L542 752L540.7 754L538.1 755.7L534.1 756.1L533.1 754ZM570.5 750L574.1 748.4L576.1 749.3L582.6 758L583 760L582.1 762.1L580.1 763.4L578.1 763.6L574.7 762L572.5 758L568.4 754ZM415.4 752L418.1 751L419.1 752L419.5 754L418.1 756L416.1 756.5L415.2 756L414 754ZM596.7 752L597 758.1L595.6 756L595.6 754ZM483.4 754L484.1 753L485.7 754L484.1 754.9ZM501.1 754L504.1 754.6L506.3 762L505.9 764L504.1 766.3L500.1 768.2L496.1 766.2L492.7 762L492.3 760L496.1 756ZM526.5 762L530.1 762.1L532 764L532.2 766L528.3 778L526.1 779.3L519.1 776L518.6 768L519.5 766L521.6 764ZM550.9 762L558.1 760.7L560.2 762L560.1 765.9L558.1 766.8L554.4 766L551 764ZM225.6 770L230.1 769L232.3 770L230.1 772.3L228.1 773L225.8 772ZM425.3 770L428.1 768.8L430.1 769.1L444.1 774.5L448.1 772.8L452.1 769.3L454.1 768.7L456.2 770L456.1 772.5L454.1 773.6L448.1 774.7L444.4 778L443.4 780L443.1 782L450.1 788L453.5 792L453.9 794L450.2 798L449.8 800L450.4 802L449.6 804L440.1 812.2L438.9 812L437.8 806L438.3 802L436.9 796L440.5 790L441.9 786L440.1 784.1L436.1 785.9L434.1 785.3L430.1 780.5L423.2 776ZM496.6 776L500.1 775.4L502.1 775.9L503.3 778L505.5 784L505.1 786L502.1 789.1L498.1 789.6L496.1 789.1L491.1 782L493.4 778ZM462.7 780L466.1 779.8L468.1 781.3L469.3 784L469 786L462.1 794.4L458.1 796.5L456.1 796.1L454.2 794L454.6 792L456.1 790.8L460.1 782.1ZM587 780L588.1 779.6L590.4 782L590.2 784L588.1 785.3L586.1 785.3L584.1 784L584.5 782ZM594.9 788L597 786.8L597 795.5L594.1 795.1L592.5 794L592.1 792ZM372.8 792L374.6 792L376.1 796.1L378.1 797.2L384.1 797.1L390 800L390.3 802L389.2 806L386.1 810.1L382.1 811.5L380.1 811.3L376.1 809.9L370.1 805.4L364.1 805.7L362.1 804.1L361.7 802L363.7 798ZM271.8 794L274.1 794.1L275 796L272.1 799.3L270.1 798.1L269.8 796ZM506 794L508.1 792.5L510.1 792.1L514.1 795.2L522.1 793.6L524.1 794.4L534.1 803L536.1 803.7L544.1 803.6L546.1 804.3L547.8 806L547.8 810L540.1 831.5L538.1 832.5L530.1 833L528.1 832.3L528.2 824L526.8 822L522.1 820.5L514 820L512.8 818L513.5 814L512.9 810L513.9 806L513.5 802L512.1 799.2L506.8 796ZM294.2 796L298.1 795.2L300.2 796L299.6 800L298.1 802.3L296.1 803.6L294.1 802.7L292.1 800L292.3 798ZM254.1 798L256.1 796.8L257.4 798L257.9 808L256.1 810.5L252.1 812.7L248.3 816L246.1 816.8L244.3 816L244.8 814L249.6 810L250.4 804ZM322.7 798L326.1 796.9L327.5 798L328.1 802.6L324.1 803L322.1 802L321.6 800ZM393.6 798L396.1 796.8L400.1 797.1L406.1 796.3L408.1 796.5L409.9 798L407 804L407.2 808L406.1 809.5L405.1 804L400.1 800.2L394.1 798.9ZM328.4 804L330.1 803.2L332.1 804L333.7 806L332.9 808L332.1 808.2L330.1 806.8ZM491.2 806L492.1 805L494.1 805.1L499.4 810L509.7 814L511.1 816L510.6 818L507.3 822L502.1 826L501.9 830L504.1 833L512.1 831.5L522.8 834L514.1 842.1L496.8 854L495.7 856L500.1 856.9L509 864L509.9 866L504.8 874L508.1 881.8L510.1 881.8L520.1 877.5L524.3 880L525 882L518.1 886.5L512.1 885.4L508.1 885.8L506.1 891.3L504.1 892.6L498.1 892.8L494.1 891.8L487 894L485 896L483.2 900L484.1 901.4L488.6 904L488.1 906.8L486.1 909.4L484.1 909.3L476.1 904.3L470.1 898L464.1 895.5L460.1 895.4L455.1 900L452 910L447.5 918L445.5 924L444.1 925.7L436.1 925.2L426.1 928.5L422.1 928.7L420.3 928L418.7 926L418.1 920.8L416.1 918.9L414.1 921L413.5 926L412.1 927.9L408.1 930.3L405.7 928L405.1 926L405.8 922L404.1 920.1L402.1 920L400.1 921.2L397.8 924L397.4 926L400.1 929.2L402.1 930.5L406.1 931L407.4 940L409.1 944L410.1 944.7L416.1 947L418.1 947L434.1 941.8L437.6 942L438.5 944L436.4 950L436.6 954L438.1 956L443.8 960L444.8 962L443.2 964L440.1 965.5L434.1 966.5L428.1 970.9L426.1 971.6L424.1 970.6L422.6 968L422.7 962L422.1 961.1L420.1 961.6L412.1 973.1L410.1 974.2L408.1 973.3L406.1 970.6L402.5 962L406 948L404.1 946.5L400.1 946.7L393.1 944L390.1 941.5L386.1 940.2L384.1 941L382.1 944.5L376.1 948.3L374.4 952L374.9 954L378.1 956.5L382.1 957.2L386.1 956.5L394.1 953.4L395.6 954L397.6 966L394.4 970L386.1 972.1L378.1 968.5L372.1 968.8L370.2 966L368.1 965L354.1 965.7L350.1 965L344.4 962L342.6 960L342 958L345 944L349.2 936L345.7 924L345.7 918L344.1 917.1L342.1 917.8L336.1 922.3L332.1 926.1L320.1 933.6L316.1 933.9L304.1 930.2L298.1 931L290.1 930.2L288.1 930.7L284.1 936.3L275.2 940L272.5 942L271.3 946L273 952L272.9 954L270.1 958.2L266.1 960.1L264.1 960.1L260.1 953L258.1 951.8L256.1 952.6L250.1 960.5L248.1 961.2L246 960L245.2 958L246.9 954L250.1 951.4L254.3 950L256 948L255.9 940L256.6 936L255.6 934L252.1 932.6L250.1 930.9L248.1 930.7L242.1 933.2L238.1 932.5L236.7 930L236.5 926L238.1 922L240.1 920.5L242.1 920.5L248.1 924.4L250.1 924.8L252.7 922L253.7 918L256.1 914L258.1 912.4L260.1 911.8L262.4 914L262.3 916L259.9 928L257.3 934L262.1 934.1L272.1 930.2L278.1 930.4L282.6 928L283.7 926L283.9 918L287.8 912L288.2 908L286.1 906.9L284.1 907.9L276.1 915.2L274.1 916.2L272.1 916L268.4 914L266.8 912L268.5 908L270.3 906L279 902L282.1 896L281.8 894L280.1 892.4L274.1 892.1L272.1 892.8L264.1 898.4L262.3 896L262.5 894L264.1 890.2L266.1 888.6L268.1 888.4L273.7 890L274.1 890.9L274.4 890L292.1 885.8L301.4 882L304.1 879.2L308.1 878.1L310.3 880L310.1 884.5L311.9 886L317.8 888L317.3 890L310.1 895.5L308.1 892L306.1 892.2L304.9 894L305.4 896L308.1 896.5L312.1 901.1L316.1 900.6L318.1 899.1L322.7 894L323.4 892L322.1 890L318.4 888L320.1 885.5L322.2 878L326.1 874.8L332.1 875L334.9 874L336 866L338.9 862L345.2 856L348.5 848L349.4 844L349.1 842L344.1 839.3L343.5 838L344.1 834.8L358.1 835L362.1 833.2L364.1 833.1L370.1 835.2L372.1 834.8L380.1 828.4L386.1 826.9L394.1 823.5L398.1 822.9L400 824L400.6 826L400.6 828L398.6 834L399 836L400.1 836.8L410.1 833.6L414.1 834.3L416.1 833.5L418.6 830L418.2 828L415.4 824L415.7 822L420 818L422.1 817.3L423 818L424.1 822L428.1 824.8L430.2 828L429.7 830L424.2 836L422.1 840.4L409.8 848L409.2 850L410.1 853L415.3 858L398.1 874.2L396.1 874.8L393.1 872L392.2 870L392.4 860L390.1 858.6L387.4 858L382.1 859.4L374.1 857.3L368.1 857L366.1 858L366.4 860L370.1 861.3L374.1 866.9L378.1 868.7L379.3 872L374.7 886L366.1 892L362.4 900L364.3 904L364.4 910L358.6 922L357.8 926L358.9 928L362.1 928.7L366.1 931.1L368.1 931L371.7 922L374.7 918L382.1 912.4L388.1 910.9L398.1 905.5L400.1 905.1L406.1 906.5L410.1 906.2L412.1 906.7L418.1 911.5L420.1 910.5L423.7 906L424.4 902L422.8 894L420.1 891.6L419.6 890L420.1 888.3L425.6 882L433.9 876L444.1 873.7L452.1 870.8L454.9 872L458.1 878.4L462.1 878.9L472.1 874.2L478.1 869.9L486.5 866L486.5 862L484.1 859.9L483 858L482.9 856L484.8 852L492 846L492.7 844L491.8 842L487.9 838L480.1 835.2L478.2 826L478.4 824L480.1 821.1L486.1 818.9L488.1 817.2L490.5 812ZM302.1 912.9L300.1 914.3L297.5 920L298.3 922L302.1 924.3L304.1 924.5L307.4 920L308.2 916L306.1 913.5ZM316.1 905.6L313.8 912L314.5 914L318.1 916.4L320.1 916.8L326.1 914.1L330.1 914.6L332.1 914L335.8 910L326.1 912L322.1 909.6L318.1 905.2ZM338.1 907.6L337.5 908L338.1 908.7L338.7 908ZM364.1 947.9L364.1 948.7L366.1 948.8L366.5 948L366.1 947.3ZM374.1 931.2L369.7 934L368.1 937.6L368.2 940L370.1 942.6L374 944L376.1 943.9L378.9 942L379.6 940L379.2 938L376.1 936.6L375.7 932ZM390.1 923.8L383.6 926L381.4 928L381.8 930L383.5 932L384.1 935.2L391.7 928L392.5 926L391.1 924ZM436.1 887.8L435.1 890L436.5 892L440.1 895.9L444.1 898L448.1 897.7L449.9 896L451.9 892L450 890L442.1 886.4L440.1 886.1ZM277.4 808L280.1 807.9L286.1 812.5L290.1 814.3L296.1 811.3L304.1 809.4L308.1 809.5L310.1 810.4L311.1 812L311.2 816L306.1 823.2L298.1 826L296.1 825.5L294.1 821.6L288.1 818.9L280.1 820.4L275.9 822L274.3 824L273.6 828L277.6 838L281.5 842L281.8 844L280.1 847.4L278.1 849.3L269.3 854L267.6 856L267.9 866L267 870L264.1 876.9L260 878L259.2 880L259.1 886L258.2 888L254.1 891.2L248.1 892.4L246.1 891.9L242.1 889.2L240.1 889.9L234.1 895.3L230.1 896.4L226.1 896.3L221.3 890L222.4 888L232.1 878.8L233.5 876L233.5 874L230.1 872.4L224.1 873.4L217.2 880L216.9 886L216.1 887.1L214.1 887L213 886L213.1 884L215 878L214.5 868L216.1 865.8L224.1 866L228 864L231.6 856L242.1 849.2L244.4 846L246.7 840L250.1 836.3L258.1 836.9L262.1 840L264.1 840L267.8 838L270.8 832L270.1 830L267.2 828L266.5 826L268.6 822L271.3 812L273.3 810ZM456.8 814L468.1 812.8L470.6 814L471.8 816L468.7 826L465.4 830L463.1 836L462.1 837.5L460.1 838.4L458.1 837.5L455.5 828L449.9 820L449.7 818L450.9 816ZM591.4 818L597 817.3L597 821.2L590.1 822.5L588.8 822L588.9 820ZM255.5 820L258.1 818.5L260.1 819.3L259.5 826L256.1 831.7L254.1 833.1L252.1 833.1L252.8 824ZM557.8 820L564.1 818.2L566.1 819.7L569.4 830L569.7 832L568.1 833.7L566.1 833.8L564.1 832.9L557 828L555.7 822ZM441.9 832L444.1 831.1L445 832L446.4 834L445.8 836L444.1 836.6L443.2 836L441.8 834ZM183.3 834L186.1 832.7L186.1 836.5L184.1 837.2L183.1 836ZM593.2 836L597 835.6L597 849.8L589.5 846L588.4 844L587.9 840L589 838ZM213.5 840L218.1 839.1L219.2 840L218.9 842L216.1 845.1L210.1 848.7L202.1 852L200.1 851.7L198.8 850L200.4 846L202.1 844.6ZM557.3 846L560.1 844.6L562.1 844.8L563.3 846L565.6 850L565.4 852L564.1 853.5L560.1 855.2L556.1 853.7L554.8 852L554.8 850ZM181.4 854L184.1 852.3L188.7 854L192.5 858L193.1 860L192.1 861.8L181.9 862L180.2 860L180 858ZM301 854L308.1 852.1L310.5 854L310.7 858L306.7 868L300.1 875.1L298.1 875.2L294.6 872L289.5 864L291 860L292.7 858ZM201.5 866L206.1 864.7L208.1 865.2L210.7 868L210.1 870L208.5 872L206.1 873.4L204.1 874.2L200.1 874.2L198.8 872L198.9 868ZM399.3 894L404.1 892.1L406.1 892.1L407.3 894L405.1 898L400.1 901.6L398.3 900L397.7 898L397.8 896ZM595.2 898L597 897.7L597 914.2L596.6 910L595.1 908L587.1 904L586.6 902L590.1 899.2ZM543.9 902L546.1 901.3L547.6 902L548.2 904L546.1 905.7L544.1 906L543.1 904ZM521.7 908L524.1 906.9L526 908L526.7 910L523.5 918L522.7 924L520.1 925.5L514.1 925.1L512.1 926.8L509.9 934L510.3 940L508.9 944L509.5 946L512.1 946.4L520.1 942.2L526.1 937.1L528.1 938L529.3 940L528.5 948L533.6 956L530.1 962.4L526.1 965.5L522.1 965.9L514.8 964L508.1 963.3L506.3 962L507.3 954L506.8 952L504.4 948L500.1 945L496.1 943.7L492.1 943.5L478.1 948.5L475.8 946L474.1 945.3L470.1 946L468.1 945.5L465.5 942L464.1 936.2L462.1 936.6L456.1 941.2L454.1 941.4L449.9 938L447.7 934L448.2 930L450.1 928.5L456.1 928.3L461.8 930L464.1 931.8L466.1 931.9L470.1 930.7L476.1 937.1L478.1 937.1L490.7 930L504.1 923.7L511.1 922L515.4 914ZM497.3 912L500.1 911.6L502.4 914L500.1 914.9L498.1 914.7L497 914ZM582.7 928L585 928L586.1 929.4L586.3 932L585.5 934L579.2 940L570.1 941.6L565.7 938L565.4 936L568.1 934.8L574.1 935.2L576.1 934.4ZM122.1 930L122.1 929.4L128.1 931.5L129.4 934L130.5 940L133.3 946L132.3 948L130.1 949.7L122.1 949.9ZM553.7 938L556.1 938.5L556.5 940L554.1 944.5L552.1 944.6L551.1 942L551.5 940ZM288.4 940L290.4 940L291.1 942L290.1 944.1L288.1 944.4L287.1 942ZM337.7 944L340.1 942.9L341 944L340.5 946L336.1 949.9L334.8 948ZM310.5 950L312.1 948.8L314 950L312.1 953.8L310.5 952ZM475.2 950L476.1 949L478.1 950.4L479.7 956L479.2 958L476.1 961L474.1 960.5L472.5 956L473.1 952ZM227.8 956L236.1 957.1L238.1 958L239.5 960L239.4 968L244.1 974.2L246.5 984L248.1 987.1L256.1 988.2L264.1 986.5L265.9 992L268.1 995.2L270.1 995.5L272.9 994L275 994L276.2 996L276.1 998L278.1 999.5L279.3 994L292.1 980.6L296.1 972.8L298.1 972.9L300.1 974.2L301.8 976L302.2 978L298.4 986L298.9 988L304 992L303.9 994L299.3 1002L300.4 1008L300.3 1014L304.1 1018.2L308.2 1020L310.1 1030.7L314.1 1030.2L324.1 1024L325.2 1022L324.7 1018L325.3 1016L330.1 1012.7L336.1 1011.9L339.9 1014L340.8 1016L340.6 1018L339.3 1020L325.6 1036L323.9 1042L326.1 1043.6L332.1 1041.3L338.1 1040.8L346.1 1034.6L350.2 1036L356.1 1031.2L358.1 1030.6L366.1 1031.1L368.1 1028.9L370.3 1024L375.2 1020L376.6 1018L376.1 1014.6L374.1 1012.9L367.7 1012L366.4 1008L366.1 1002L368.1 999.3L377.7 996L380.1 994L380.6 992L373 978L378.1 975.6L382.5 976L388.1 988.2L398.1 982.8L400.1 983L406.1 987.2L414.1 987.4L422.1 985.8L432.1 988.6L442.1 988.2L444.6 990L444 992L440.1 999.6L435.8 1004L435.4 1006L438.1 1007.1L442.1 1007.3L444.1 1006.5L446.1 1004.4L450.4 998L451.9 992L450.6 988L450.8 986L454.1 982.2L456.1 981L462.1 980.2L465.9 978L476.1 968.2L480.1 967.5L484.1 969.5L492.1 966.1L495.3 966L497.8 968L491.2 974L490.1 976L487.1 986L487.1 988L488.1 989.3L494.1 993L496.1 993.2L498.8 992L500.6 986L502.1 984.1L507.5 986L510.1 986L514.1 984.2L518.1 979.9L522.1 977.4L526.1 976.1L530.1 976.3L538.8 984L538.7 986L534.1 990.3L531.4 996L532.2 998L538.5 1002L536.5 1008L536.7 1010L540.4 1016L534.4 1024L532.1 1028.9L530.1 1029.7L518.1 1027.4L510.1 1029.6L503.8 1036L501.5 1046L496.3 1054L495.2 1058L495.5 1060L496.9 1062L502.1 1064.8L504.6 1070L503.2 1074L500.1 1077.4L498.1 1076.9L491.7 1072L491.1 1070L491.7 1064L490.1 1062.6L486.1 1063L478.1 1067.3L474.1 1067.6L470.1 1067L464.1 1067.9L460.1 1067.3L454.1 1069.3L453.3 1072L448.1 1076.2L445.4 1080L445.7 1088L441.3 1098L441.2 1100L442.2 1102L448.1 1110L446.8 1114L443.2 1120L444.1 1122.2L446.1 1122L454.1 1118L456.1 1117.9L460.6 1120L460.8 1126L462.5 1130L461.5 1134L459.1 1136L456.1 1136.8L450.1 1136.4L446.1 1133.9L442.1 1133.5L438.1 1133.8L434.1 1135.4L428.1 1133.9L424.1 1135.8L422.1 1138L420 1144L411.4 1152L408 1158L408.1 1160.7L414.1 1159.5L415.7 1160L415.6 1162L412.1 1164.9L409.2 1164L408.1 1162.6L406.1 1162.5L400.1 1165.8L398.8 1168L398 1172L395.3 1175.8L287 1175.8L287.6 1172L292.1 1168.8L298.1 1168.9L304.1 1170.3L312.1 1166.5L315.4 1156L316.9 1154L320.1 1152.2L324.1 1151.1L332.1 1150.8L334.1 1152L334.9 1156L336.1 1158.2L338.1 1157.2L338.9 1152L337.3 1150L336.2 1146L330 1144L331.6 1142L338.1 1137.8L339.7 1136L340.3 1134L339.5 1132L334.7 1128L333.5 1126L333.4 1124L334.4 1116L336.1 1112.9L340.7 1110L341 1108L340.1 1107.9L334.1 1110.7L328.1 1111.4L320.1 1116.3L312.1 1117.7L300.1 1128L291.9 1128L289.7 1130L288.1 1136L286.1 1138L282.1 1139.7L280.1 1139.4L278.1 1134.1L278.1 1127.8L276.1 1125.9L274.1 1126.3L271.4 1128L268.1 1132.7L266.3 1138L266.4 1150L267.5 1152L268.1 1152.7L270.1 1151.9L280.1 1142.1L283.5 1148L283.7 1150L282.1 1152.6L278.1 1155.8L274.1 1157L270.1 1156.7L266.1 1160.4L263 1168L265.7 1172L263.8 1175.8L257.4 1175.8L256.9 1168L254.1 1165.6L250.1 1164.9L246.1 1168.2L243.9 1172L242.7 1175.8L189.5 1175.8L186.1 1173.5L184.1 1173.5L181.6 1175.8L172.2 1175.8L172.5 1170L171.1 1162L164.9 1154L162.1 1146.6L156.1 1147.3L154.1 1146.6L150.1 1141.3L148.1 1140.9L142.1 1142.4L130.1 1142L128.1 1142.5L122.1 1146.4L122.1 1141.1L126.1 1139.8L130.1 1134.9L131.9 1134L140.6 1132L141.1 1130L138.1 1125.3L136.1 1124.4L132.1 1125.1L128.1 1127.8L126.8 1126L133.1 1118L133.7 1116L133.2 1112L134.1 1109.5L136.1 1108.5L142.1 1110.7L148.1 1111.7L150.7 1122L152.1 1123.5L160.1 1122L164.1 1122.3L180.1 1115.6L182.7 1112L184.2 1104L187.3 1098L192.1 1094.8L198.1 1093.2L200 1092L200 1080L196.4 1074L196.6 1072L198.6 1068L211.1 1054L212.5 1048L218 1038L218.5 1036L217.5 1032L218 1030L227.2 1022L227.8 1020L227.3 1018L224.7 1014L225 1006L226.7 1002L230.1 998L234.1 997L236.6 1002L240.1 1002.9L242.1 1002.4L244.8 1000L246.8 996L246.9 994L246.1 992.6L238.1 990.8L234.1 987.6L232.5 984L232.4 980L230.7 978L228.1 978.1L224.1 980.1L221.4 980L224 970L223.9 962L226.1 957.7ZM256.1 1007.9L249.2 1012L243.9 1020L235.7 1028L235.7 1036L240.1 1039.9L242.1 1039L246.2 1032L257.4 1026L262.4 1018L263.9 1014L264 1008L262.1 1006.1ZM282.1 1020.9L277.9 1026L272.1 1030.7L268.1 1032.4L262 1032L260.1 1034L258.3 1042L256.7 1044L250.1 1046.2L247.3 1048L246.4 1050L248.1 1053.6L252.1 1056.8L256.1 1056.4L270.1 1049.9L274.1 1049.2L280.1 1042.3L286.1 1041.2L290.1 1039L293.5 1034L294.5 1030L294 1028L288.1 1021.8ZM308.1 1033.2L307.3 1034L308.1 1034.5L308.6 1034ZM310.1 1038.8L308.2 1042L310.1 1045.7L312.1 1043.2L312.9 1040ZM338.1 1053.9L332.1 1055.5L320.1 1062.3L312.1 1073L308.1 1073.8L304.5 1076L302.2 1080L302.1 1082.9L304.1 1084L312.1 1080.2L318.1 1080.9L322.1 1076.5L326.1 1068.2L330.1 1064.3L334.1 1064.7L336.1 1065.8L340.1 1071.3L342.1 1071.1L344.1 1072.6L346.3 1076L348.1 1077L352.1 1076.9L356.1 1074.7L358.4 1072L360.2 1068L360.1 1063.3L346.1 1053.9L344.1 1053.3ZM362.1 1039.6L360.1 1040.2L359 1042L360.1 1043.3L362.1 1043.4L364.4 1042L363.6 1040ZM366.1 1084L364.6 1086L364.7 1088L366.1 1089.9L368.1 1087.7L369 1084L368.1 1083.3ZM382.1 1093.8L374.1 1095.5L371.3 1098L370.6 1100L371.8 1112L367.4 1118L371.5 1122L372.4 1124L364.4 1130L361.8 1134L362.1 1136.4L364.1 1138.2L370.1 1138.4L373.4 1140L376.2 1152L376.2 1156L378.1 1158.4L384.1 1156.9L388.1 1153.9L391.8 1148L393.4 1140L392.9 1138L383.5 1128L382.7 1126L383.7 1120L383.3 1118L378.5 1112L381.3 1104L385.5 1100L386.5 1098L386.1 1095.6L384.1 1093.8ZM386.1 1077.9L383.7 1080L382.8 1082L384.1 1086.3L386.1 1087.9L388.1 1087.1L390.9 1084L393.1 1080L392.5 1078L390.1 1076.9ZM436.1 1025.4L434.1 1026.3L431 1030L431.5 1032L434.6 1036L433.6 1048L434.7 1052L436.1 1052.8L438.1 1052.6L441.4 1050L444.4 1044L443 1038L438.9 1032L438.1 1026.4ZM456.1 1011L454.8 1012L453.9 1016L449.2 1022L450.1 1030.7L456.1 1035.1L464.1 1036L466.1 1037.8L470.1 1045.4L474.1 1046.2L478.1 1045.1L480.9 1042L482.1 1038L482.3 1034L481 1030L480.8 1026L482.1 1023.3L484.6 1022L484.9 1020L480 1020L475.5 1022L468.1 1027.4L466.1 1028.3L462.1 1028.2L460.1 1026.7L458.8 1024L458.2 1022L458.1 1013.3L457.8 1012ZM498.1 1011.6L494.4 1014L489.3 1020L490.9 1022L498.1 1023.5L505.1 1020L505 1018L502.1 1012.7L500.1 1011.5ZM514.1 1001.9L510.6 1006L510.7 1008L512.1 1008.7L514.1 1008L515.9 1006L517.6 1002L516.1 1000.6ZM148.1 1129.8L144 1132L146.4 1136L150.1 1138.4L154.1 1137L156.1 1137.3L166.1 1141.9L168.1 1144.1L170.1 1143.6L173.1 1140L173.6 1138L172.4 1136L168.1 1134.3L164.1 1129.4L162.1 1129.2L158.1 1130.3L152.1 1128.9ZM222.1 1055.9L220.5 1058L220.1 1064.3L222.1 1067.5L224.1 1068.7L232.1 1068.8L232.7 1070L232.1 1073.8L229.2 1078L224.4 1088L210.1 1095.6L209.5 1098L212.1 1100.7L214.1 1101.5L220.1 1100.7L226.1 1103.6L232.1 1103.5L233.5 1100L234.1 1093.6L236.1 1091.8L243 1090L246.9 1086L246.1 1084L242.1 1083.5L238.8 1076L238.6 1074L241.2 1070L248.1 1065.3L249.2 1064L248.9 1062L246.1 1060L236.1 1058.4L226.1 1054.6ZM252.1 1067.9L251.2 1070L250.6 1076L248.7 1080L248.5 1082L250.1 1082.7L254.1 1082.3L260.1 1077.5L265.9 1074L265.2 1072L263 1070L258.1 1067.1L254.1 1066.8ZM270.1 1073.5L269.6 1074L270.4 1074ZM272.1 1071.8L271.2 1072L272.1 1072.5ZM304.1 1094L301.1 1096L302 1098L304.4 1100L304.1 1106.6L306.1 1109.5L308.6 1108L310.1 1104L307.1 1100L307.7 1096L306.6 1094ZM344.1 1157.6L342.3 1160L343.8 1162L352.1 1163.2L355.1 1162L350.7 1158L348.1 1156.9ZM350.1 1105.8L348.5 1106L346 1108L348.1 1108.9L350.1 1108.2L350.6 1106ZM366.1 1090.1L365.5 1094L366.1 1096.8L368.1 1095.9L369.2 1094L368.1 1090.3ZM372.1 1160.9L370.1 1164L370.4 1170L372.1 1171.7L381.6 1170L382.1 1168L380.7 1166L374.1 1160.6ZM232.1 1113.8L226.1 1120L221.4 1130L215.5 1134L214.4 1136L218.6 1140L217.5 1146L218.1 1148.4L220.1 1149.2L222.1 1148.4L224.6 1146L226.1 1142L226 1138L234.1 1130.1L237.8 1128L238.8 1126L236.2 1124L235.6 1122L236.4 1118L236.1 1113.6L234.1 1112.4ZM234.1 1106.6L233.5 1108L234.1 1108.7ZM248.1 1100L244.1 1102.1L241.7 1106L242.1 1107.1L244.1 1107.7L246.1 1106.9L249.6 1104L250.1 1101.4ZM220.1 1157.9L216.1 1159.8L212.1 1165.3L208.1 1164L202.8 1166L201.5 1168L202.1 1173.1L204.1 1174.2L206.1 1173.4L209.9 1170L212.1 1166.4L218.1 1164L220.9 1160ZM122.1 962L122.1 961.4L124.2 962L126.8 966L136.1 968.1L137.2 970L136.4 972L134.1 973.4L128.1 972.4L122.1 973.8ZM311.7 962L314.1 960.2L322.1 961.5L324.1 962.2L325.4 966L324.4 968L322.1 969.4L320.1 969.8L318.1 968.4L314.1 969.5L311.6 968L311.1 966ZM286 964L288.9 964L288.6 966L285.8 966ZM587.5 964L590.1 962.7L594.1 964.7L597 965.1L597 974.1L588.1 974.6L585.3 968ZM338.1 968L343.1 976L342.8 982L340.1 986.1L338.1 987.2L332.1 987.1L330.3 984L330.7 976L336.1 969.2ZM366.4 972L368.1 971.1L370.1 971.6L370 976L369 978L364.1 979.4L362.5 978ZM269 976L272.1 975.1L274.1 975.5L274.5 978L268.1 983.2L267.1 982L267 980ZM313.4 976L316.1 975.4L318.5 978L321.7 988L322.1 994.9L324.1 995.9L332.1 993.2L340.1 994.3L340.4 996L338.3 998L334.2 1000L322.1 1003.8L320.1 1002.3L320.1 1000L317.9 998L314.1 997.3L310.1 998.2L308.1 997.7L306.7 992L308.9 986L309.9 980ZM217.6 984L218.1 983.4L219 984L216.9 990L217.7 994L216.8 998L215.1 1000L212.1 1001.7L208.1 1002L206.5 1000L207 998L208.3 996L213.6 992L215.5 986ZM176.2 998L178.1 996.5L180.1 996.1L182.1 997.6L183.8 1000L184.2 1004L186.1 1005.9L194.1 1004.9L196.7 1006L191.2 1014L189.1 1020L188.2 1028L186.1 1030.6L178.1 1030.1L174.1 1031.1L173.2 1030L174.1 1028L178.1 1025.7L182.5 1020L183.1 1016L182.1 1015.1L180.6 1016L181 1018L180 1020L176.1 1022.7L174.1 1023.5L170.1 1022.8L162.1 1022.9L158.1 1024.8L154.6 1028L153.7 1030L154 1036L154.4 1038L156.9 1042L158.1 1047.1L160.1 1048.8L164.1 1048.9L170.1 1043.8L174.1 1042.1L182.1 1044L188.1 1043.5L190.1 1048.1L192.1 1050.5L196.1 1048.2L200.1 1047.5L202.6 1048L203.8 1050L202.9 1052L200.1 1054.5L196.1 1055.7L194.1 1055L192.1 1052.6L190.1 1052.2L186.1 1055.5L184.1 1056.1L178.1 1055.4L172.1 1056.2L166.1 1054.6L164.6 1056L163.9 1058L164.5 1060L166.1 1060.8L166.7 1062L167 1064L166.1 1066.8L164.1 1068.6L158.1 1070.3L152.1 1076.4L148.1 1076L144.1 1070.2L144.1 1066.6L148.1 1067L154.1 1065.1L158.1 1066.5L160.1 1064.9L161.7 1062L156.1 1053.8L154.1 1053.3L148.1 1054.6L144.1 1053.3L136.1 1052.5L134.1 1050.9L129.8 1044L128.1 1037L126.1 1035.8L122.1 1035.6L122.1 1007.1L126.1 1008.9L128.4 1008L130.1 1006.2L130.6 1008L128.3 1012L128.1 1014L132.1 1019L134.1 1019.7L142.1 1017.7L144.1 1018.2L146 1020L146.8 1022L150.1 1022.7L152.1 1021.2L152.9 1014L154.1 1011.6L156.1 1009.9L160.1 1009.8L162.1 1010.7L164.2 1014L172.1 1018.2L174.1 1018.4L179.7 1016L179.7 1008L176.1 1006.4L174 1004L174.1 1002ZM548.7 1006L550.1 1005.2L551.6 1006L552.1 1008L550.1 1009.7L548.1 1010L547.5 1008ZM593.4 1014L597 1013L597 1031.3L584.1 1028.5L578.1 1031.4L576.1 1031.1L573.1 1028L572 1024L574.1 1020.8L578.1 1017.3L582.1 1015.7L586.1 1017.1L588.1 1016.8ZM528.8 1034L530.1 1032.8L532.1 1034.1L534.1 1038L533.6 1040L530.1 1043L526.1 1044.6L524.1 1044.5L522.8 1042L523.3 1040L526.1 1036ZM189.7 1038L190.1 1037.1L192.1 1036.6L192.8 1038L192.1 1039.8L190.1 1041.1ZM572.7 1038L576.1 1037.1L580.1 1041.6L586.6 1044L588.8 1048L590.1 1049L597 1049.2L597 1072.7L594.1 1071.5L592.7 1070L592.1 1067.8L590.1 1067.4L588.4 1068L586.8 1072L584.1 1074.6L582.1 1075.6L580.1 1075.3L578.6 1072L579 1070L581.6 1066L581.2 1064L578.1 1062L574.6 1062L572.1 1064.4L568.1 1071.2L565.9 1078L562.4 1082L561.6 1084L564.1 1085.4L574.1 1084.7L576.1 1084L580.1 1080.8L582.1 1080.7L584.1 1082.4L585.9 1086L585.7 1088L584.1 1090.3L577.1 1096L574.9 1100L577 1102L586.8 1108L586.3 1110L580.6 1116L578.1 1120.3L572.1 1118.1L568.1 1120L566.1 1121.9L564.7 1126L567.2 1132L566.1 1137.2L559.7 1140L548.1 1152.2L544.1 1153.2L541.2 1152L540.2 1150L541.3 1146L544.1 1140.8L545.9 1140L538.1 1139.3L536.1 1140L534.2 1142L534 1144L537.2 1150L537.4 1152L533.4 1160L534.1 1162L536.1 1163.9L542.1 1165.6L548.1 1164.4L554.1 1165.1L556.8 1168L560.9 1170L562.2 1172L562.4 1175.8L551.9 1175.8L550.1 1172L548.1 1170.7L540.1 1168.3L528.1 1170L524.5 1172L520.8 1175.8L518 1175.8L514.7 1172L512.3 1164L525.1 1144L526.5 1138L525.9 1136L521.9 1132L518.6 1126L517.8 1122L518.9 1118L520.1 1116.8L523.6 1116L534.1 1114.4L538.1 1114.9L539.5 1118L539.2 1124L539.9 1126L548.1 1130.3L550.1 1130.2L555.8 1126L562.1 1116.4L568.8 1112L571.2 1108L572.8 1102L570.1 1100.2L560.1 1099.7L556.6 1096L554.1 1088L546.1 1086.9L540.1 1085.2L538.1 1086.9L532.6 1096L530.1 1096.9L525.6 1094L522.6 1088L518.4 1084L517.6 1082L520.1 1081.1L528.1 1083L534.1 1083.2L538.1 1081.7L544.1 1075.7L558.9 1064L562.6 1058L563.1 1052L564.1 1050L567.2 1046L570 1040ZM122.1 1050L122.1 1049.2L124.1 1050L125.2 1052L125.8 1058L125.4 1060L122.1 1063.4ZM517.2 1052L522.1 1050.9L524.1 1051.3L528.1 1054.1L532.1 1053.3L534.1 1054.6L534.8 1058L533.8 1060L532.1 1061L526.1 1061.1L520.1 1065.9L518.1 1066.1L516.1 1065L515.1 1062L515.7 1054ZM141.8 1062L142.1 1061.4L143.1 1062L142.1 1063.1ZM122.1 1076L122.1 1074.7L126.1 1074.9L128.1 1075.9L132.4 1084L130.9 1088L128.1 1090.4L126.1 1091.1L122.1 1091.3ZM456.2 1078L462.1 1076.7L464.2 1078L462.1 1081.4L458.4 1084L456.1 1089.3L454.1 1090.6L452.1 1088.9L452 1086L454.1 1081ZM511.9 1078L515.3 1078L517.1 1080L512.1 1082L510.1 1081.7L509.6 1080ZM465.8 1096L468.1 1094.8L474.1 1096.5L480.1 1102L486.1 1101.9L490.1 1103.9L494.5 1104L500.1 1108.4L502.1 1109.3L504.1 1108.7L506.1 1110L505.4 1114L502.1 1117.6L500.1 1117.9L492.1 1113.3L490.1 1113.6L484.1 1117.5L480.1 1118.9L478.4 1118L479 1114L477.6 1112L476.1 1111.4L470.1 1111.7L468.1 1109.8L466.3 1106L465 1098ZM596 1112L597 1110.2L597 1126.9L588.1 1126.3L584.1 1124L584.5 1122L587.1 1120L596.8 1114ZM473.8 1120L476.7 1120L472.1 1124.7L470.8 1124L471.1 1122ZM499.7 1122L500.1 1121.1L503.8 1126L504.2 1128L502.1 1131.1L496.1 1133.8L486.3 1134L485.3 1132L492.1 1128.8ZM473.9 1140L476.1 1139L477.3 1140L477.5 1144L476.1 1147.2L474.1 1146.4L472.4 1144L472.4 1142ZM596.6 1140L597 1139.7L597 1168.4L596.1 1168L595.3 1164L590.1 1162.6L587.9 1160L591.3 1152L592 1144L594.1 1141.2ZM566.8 1144L568.1 1142.7L574.3 1146L576.1 1148L575.3 1154L576.7 1160L574.1 1161.4L572.1 1161.8L568.1 1160.6L566.1 1159.6L565.3 1158L565.1 1154ZM435 1146L436.1 1145.2L438 1146L437.8 1148L434.1 1157.6L432.1 1158.3L431.1 1154L431.8 1150ZM477.8 1150L480.1 1149.4L480.8 1150ZM499.9 1152L502.1 1151L502.6 1152L500.1 1154ZM448 1154L450.1 1153L451.2 1154L451.3 1158L453.7 1166L453 1168L450.1 1171.4L446.1 1172.3L445.3 1172L445.6 1170L449.4 1164L449.8 1162L449.8 1160L447.1 1158L446.9 1156ZM467.7 1156L472.1 1155.3L473.3 1156L474 1158L472.1 1169L474.1 1169.6L476.1 1168.9L486.1 1163.7L488.1 1163.8L490.9 1166L492.9 1170L492.7 1172L490.3 1175.8L476.2 1175.8L474.1 1172.3L472.1 1172L468.8 1175.8L465.9 1175.8L465 1174L458.8 1168L458.3 1166L458.5 1164L462.1 1159L464.1 1157.1ZM130.9 1164L134.1 1162.1L136.9 1164L137.5 1172L138.6 1175.8L130.8 1175.8L128.9 1170ZM152.9 1168L156.1 1167.5L158.1 1168.1L159 1170L158.6 1175.8L140.8 1175.8ZM429.8 1168L432.1 1166.7L435.1 1170L441.3 1174L442.1 1175.8L424.2 1175.8L423.9 1174L424.6 1172ZM575.6 1170L578.1 1168.8L581.1 1170L583.2 1172L583.8 1175.8L572.7 1175.8L573.8 1172Z"/>
<path fill="#1c2530" fill-opacity="0.04" fill-rule="evenodd" d="M122.1 698L126.6 698L126.1 702.4L124.1 705.5L122.1 705ZM172 698L183.2 698L178.1 702ZM184.5 698L208.4 698L207.5 700L203.4 704L202.9 706L204.1 711L206.1 712.1L212.1 710.6L214.1 709.1L218.8 702L220.5 698L225.2 698L230.1 703.2L230.9 706L230.7 708L229.2 712L226.1 716.3L220 720L216.1 724.6L204.1 726L196.1 723.8L192.1 721.6L186.1 724.2L184.1 723.1L182.1 720.7L178.1 720L176.1 718.6L175.1 716L176.7 712L184.1 710.2L188.1 706L188.6 704L188 702ZM247.4 698L257.6 698L260.1 699.3L262.1 699L263 698L277.1 698L276.8 702L281.1 708L275.5 724L272.1 728.7L260.1 736.8L258.1 737.6L252.1 737.1L246.1 741.6L244.1 740.5L242.1 734.9L240.1 734L236.1 734.6L226.1 740.3L222.1 741.2L220.1 738L220 732L221.7 730L232.1 726.1L234.1 724.1L240.1 713.1L245.7 706ZM256.1 709.5L253.2 712L252.6 714L252.9 720L254.1 721.2L258.1 721.1L262.1 724L264.1 724.5L266.1 723.5L267 722L266.8 718L263.5 714L261.6 710L260.1 708.6ZM297.3 698L309.5 698L310.4 704L309.3 706L306.1 706.7L296.1 704.5L295.5 704ZM378 698L378.6 698L378.9 700L378.1 702.1ZM440.6 700L442.1 698.2L478.5 698L477.9 700L475.8 702L470.1 704.7L462.1 706L454.1 713.3L452.1 714.2L448.1 713.1L440.5 708L439.5 702ZM507.2 698L510.4 698L508.1 699.4ZM583.7 698L586.6 698L588.1 699.8L589.5 704L588.8 708L586.1 709.8L582.1 709.6L578.3 708L578.4 706ZM154 714L156.9 714L157.5 716L157.6 724L157.2 726L156.1 726.6L154.1 726.9L148.1 724.3L146.1 724.5L138.1 730.9L136.1 731.3L134.1 730.5L129.5 726L129 724L130.7 720L138.1 718.9L144.1 715.5L150.1 715.3ZM469 716L472.4 716L474.2 718L470.9 726L468.1 729.8L466.1 730.8L464.2 728L464 724L462.4 720L463.6 718ZM493 722L494.1 721.2L496.2 722L499.1 730L500.8 732L502.1 732.9L506.1 732.5L508.8 734L509.4 736L507.8 740L506.5 742L502.1 745.1L500.1 745.6L496.9 744L490.3 732L490.4 728ZM556.8 728L558.1 726L560.1 726.6L561.5 728L564.4 732L565 734L564.1 735.7L562.1 736.3L560.1 735.7L556.7 730ZM190.4 738L194.1 737.8L196.1 738.8L202.1 739.2L203.2 740L203.5 742L202.7 744L198.1 747.9L196.1 748.4L192.1 743.4L190.1 743.9L187.2 746L185.9 750L188.1 752.7L194.1 752.3L196.1 754L193.3 762L193.3 768L194.1 770.3L196.1 770.8L206.1 770.4L210.1 772.5L213.5 778L213.8 780L212.7 788L211 790L204.1 791.6L198.1 786.1L192.1 783.4L190.1 783.5L188.1 785.3L184.1 793L178.1 798.9L174.1 795.3L166.1 792.4L164.1 790.9L162.8 788L162.1 783.3L158.1 786.7L153 780L152.1 776.7L147 774L146.1 770.1L144.1 770.8L142.7 774L136.1 781.7L134.1 782.8L132.1 782.7L128.1 781.2L127.7 780L131.2 772L134.1 768.3L142.5 768L144.1 767.6L145 766L145.7 762L142.3 756L143.4 746L144.4 744L146.1 742.9L149.4 744L153.6 748L156.4 754L156.4 756L152.7 766L153.8 772L153 776L162.1 779.6L164.1 778.7L170.1 772.3L172.1 771.7L178.1 775.2L182.1 774.5L186.9 772L187.9 770L187.5 768L186.1 763.7L184.1 761.3L178.1 761.5L172.1 766.7L170.1 767L164.9 764L165.2 762L171 756L172.6 750L175.1 748L184 744L187.5 740ZM516.5 740L520.2 740L519.4 742L516.1 742.7L514.9 742ZM125.9 742L130.1 740.2L132 742L130.1 746.6L128.1 749.2L126.1 750.4L122.1 747.8L122.1 745.6ZM286.6 748L290.1 746.6L296.1 746.5L298.1 747.2L299.3 750L298.6 756L294.8 764L287.9 774L285.8 776L282.1 777.9L278.1 777.7L274.9 776L273.4 774L273.2 772L274.1 769.9L280.1 767L282.1 764.5L285.1 750ZM255.5 752L258.1 752.5L260.1 755L261.3 762L263.2 766L262.1 768.8L256.1 772.2L254.1 772L249.8 768L252.6 756L254.1 752.9ZM496.7 760L498.1 758.9L500.1 758.7L502.1 761L501.8 764L500.1 765L498.1 764.6L496.3 762ZM523.1 766L526.1 764.5L528.1 764.7L529.4 766L529.6 768L528.5 772L526.1 774.8L524.1 774.9L522.1 773.9L522 768ZM428.7 772L432.1 771.3L437.7 774L438.6 776L437.8 778L436.1 779.6L434.1 779.8L430.1 777.9L427.9 776L427.5 774ZM242 782L244.1 780.5L246.1 781.1L246 784L244.1 786.4L240.1 787.7L239.5 786ZM461.8 784L464.1 782.5L466.1 782.8L466.8 784L466.5 786L462.1 790.8L460.8 790ZM444 790L446.1 788.8L448 790L448.5 792L446.1 796L444.1 797.2L442.1 797.3L440.4 796L440.7 794ZM134 792L136.1 793.1L137.6 796L136.8 804L137.6 806L140.1 807.6L142.1 807.9L144.1 806.9L158.1 791.1L160.1 793.1L164.1 800L168.8 802L176.1 802.6L176.6 806L175 810L166.1 823.5L160.1 822.9L156.1 818.4L154.1 818.3L146.5 826L142.4 834L144.1 836L154.1 837.8L158.1 839.3L160.1 845.3L166.1 846.9L166 854L167.9 866L163.5 872L163.1 874L163.8 878L160.9 884L162.1 885.5L168.1 882.6L172.1 884.3L178.1 883.5L181.4 884L185 890L190.1 890.9L194.3 894L194.5 896L192.5 900L188.1 902.6L182.1 901.1L178.1 901.9L170.1 900.9L166.4 902L163.2 904L162.4 906L163.1 910L164.1 912.6L166.1 914L168.1 913.8L172.1 911.2L174.1 910.9L175.2 912L172.1 914.8L166.1 916.7L160.4 924L156.1 925.7L154.1 925.7L150.7 924L148.1 920.7L146.1 921.4L142.1 925.4L140.1 925.9L128.1 918.7L122.1 918.9L122.1 856.2L128.1 855.6L130.3 854L133.5 848L135.2 838L135 836L132.1 833L130.1 832.7L126.1 833.9L126 832L128.1 829.7L134.1 828L136.1 826.6L137.7 824L140.2 816L138.7 814L132.1 812.7L129.6 810L129 804L129.9 798L132.1 792.9ZM142.1 890.5L138.8 896L137.9 900L140.9 902L142 908L148.1 912.3L150.1 911.9L153 908L152.6 904L148.1 893.5L144.1 890.2ZM223.5 794L230.1 794L228.1 795.4L226.6 798L226.2 804L223.4 810L224 818L220.1 822.8L216.1 823.8L214 822L213.8 818L217.3 812L218.4 802L219.6 798L220.8 796ZM369.1 796L372.1 795.4L372.6 800L371.5 802L366.1 803.5L364 802L364.4 800L366.1 797.9ZM517.2 798L520.1 796.3L522.1 796.3L529.5 802L532.1 805.6L534.1 807L542.1 805.7L545.4 808L544.5 814L540.6 826L538.1 829.8L532.1 831L530.4 830L529.8 822L528.1 818.7L524.2 816L524.5 810L522.1 808.2L516.9 802L516.4 800ZM377 800L382.1 798.7L385.8 800L387.3 802L386.8 806L384.9 808L382.1 809L376.7 808L374.5 806L373.3 802ZM274.6 812L278.1 810.3L280.1 810.8L284.5 814L285.4 816L282.8 818L274.1 820L272.1 818.4L272.1 816ZM304.2 812L308.1 811.8L310 814L308.3 818L306.1 819.8L300.1 822L293.8 818L293.4 816L296.1 814ZM492.8 812L494.1 810.6L496.1 810.6L503.8 814L505.2 816L504.1 820L500.1 824.5L499.1 828L501.4 838L502.1 838.3L508.1 835.3L511.3 836L511.6 838L509 842L504.1 846.6L500.1 848.7L497.6 848L497.4 842L496.1 840.2L492.1 838.8L488.1 835.3L483.3 834L482.1 833.1L481 830L480.6 826L481.2 824L488.2 820ZM456.9 816L466.1 815.3L467.7 816L468.5 818L466.1 823.7L460.1 829.7L456.8 826L453.3 820L453.6 818ZM558.7 822L562.1 820.5L564.1 821.5L564.8 824L564.1 827L562.1 827.5L558.8 826L558 824ZM390.9 826L394.1 824.9L396.1 824.9L397.5 826L397.6 828L395.2 834L396.1 841L400.1 840.3L408.1 836.8L414.1 837.5L418.1 836.2L420.1 837.9L418.1 840.5L408.1 844.7L406.1 847.9L406.2 850L409.6 858L409.2 860L406.1 863.1L400.1 866.2L394.3 858L390.1 854.9L382.1 856.7L376.1 854L366.1 855.6L361.9 860L362.6 862L368.2 864L371.4 868L375 870L376.9 872L375.1 880L372.1 885.9L364.1 891.2L356.1 903.4L348.1 904.6L345.2 902L342.1 900.9L340.1 901L334.1 905.6L330.1 907.7L326.1 908.2L324.1 907.4L322.1 905.4L320.7 902L321.1 900L326.8 892L323.7 886L323.3 882L324.1 879.2L326.1 877.7L334.1 878.6L337.9 876L339.1 874L339 868L340.4 864L344.1 860.4L350.1 857.3L351.2 856L351 850L353.4 844L361.9 836L364.1 835.2L370.1 836.6L372.1 836.3L380.1 830.6ZM271.5 840L274.1 838.7L278.1 842L278.8 844L275.9 848L268.1 851.9L265.6 854L264.8 856L266.7 866L266.1 868.9L264.1 872.1L262.1 873.2L256.1 874.3L252 878L255.6 884L254.6 888L251.4 890L248.1 890.6L246.1 889.7L242.1 884.5L237.7 890L234.1 893.1L230.1 893.9L228.1 893.1L226.2 890L226.1 888L228.1 885.4L234.9 880L239.4 872L238.1 869.8L232.1 869.6L228.9 868L234.1 861L238.1 859.4L248.1 842.6L250.1 841L252.1 840.8L260.1 842.9L266.1 842.9L268.1 842.6ZM591.7 840L594.1 838.5L597 838.2L597 846.3L592.2 844L591.3 842ZM559.3 848L560.1 847.5L562.1 848.3L562.9 850L562.1 852.1L559.6 852L558.4 850ZM487.5 854L489 854L488.1 855.8ZM297 858L300.1 857.6L302.1 858.5L303.8 860L304.5 862L303.4 866L301.3 868L298.1 869.2L296.1 868.3L292.9 864L292.8 862L293.8 860ZM500.2 862L504.1 862.8L505.6 866L504.9 868L499.8 874L502.5 882L501 888L500.1 889L496.1 888.2L486.1 890.5L478.1 898.9L474.1 898.9L470.1 896.4L460.2 892L456.1 887.5L448.1 887.1L442.1 883.1L440.1 883.1L434.1 885.4L432.1 885.2L430.9 884L433.4 880L436.1 877.5L444.1 875.8L450.1 873.2L453.1 874L456.1 879L460.1 880.8L470.1 878.3L476.1 873.1L480.1 871.1L488.1 870.4L494.1 871.9L496.1 871.6L498 868L497.4 864ZM484.1 883.9L486.1 885.3L487.1 884L486.1 883ZM295.9 886L299.2 886L304.6 888L301.5 894L301.4 896L305.5 902L305.7 904L305.2 906L303.3 908L298.1 911.6L296.1 916.1L294.1 918L292.1 918.3L290.1 917.6L288.6 916L291.5 910L291.6 906L290.5 902L288.1 900.5L284.1 902.9L283.4 902L284.9 892L286.1 890.2ZM427.7 892L430.1 890.9L432.1 891.4L444.1 900.5L450.1 901.1L451.3 904L451.3 906L449.3 912L444.1 922.2L442.1 923.3L436.1 922.9L428.1 926L424.1 926.6L422.1 925.6L419.2 916L425 906L425.6 896ZM593.6 902L597 901.3L597 904.1ZM307.4 908L310.1 906.9L311 908L310.1 911.3L307.6 910ZM394.5 910L400.1 908.7L410.1 909.6L413.1 912L413.8 914L412.1 917.1L410.1 917.6L402.1 916.9L386.1 922.4L381.6 922L380.3 918L381.4 916ZM180.1 912L182.1 910.7L184.1 910.5L186.1 911.5L188.1 914L188.1 917.5L185.4 922L183.6 928L186.1 932.3L188.4 932L190.7 926L194.1 922.7L196.1 923L199.4 926L200 928L199.5 934L197.1 938L196.1 942L194.1 944.7L192.1 945.7L189.1 944L186.1 940.6L178.1 940.8L175.6 940L175.7 938L177.6 934L181.5 928L181.8 920L179 914ZM343.4 912L344.1 910.4L344.9 912ZM354.6 912L356.1 911L358.1 911.7L358.7 916L354.9 924L354.1 928.2L352.1 930.7L350.1 930.5L348.5 926L348.6 922L352.1 914.8ZM519.3 914L520.1 913.1L522.1 913.1L520.7 922L518.1 922.9L516.1 922L515.8 920ZM335.6 916L337 916L331.4 924L320.1 931.2L316.1 931.8L311 930L308.8 928L309 922L310.1 918.3L312.1 916.5L318.1 920.9L324.1 917.7L332.1 917.2ZM292 924L294.1 923.9L297.7 926L294.1 927.3L291.7 926ZM238.6 926L240.1 924.2L242.1 924.4L245.1 926L246.1 928L244.1 930.5L242.1 931.3L240.1 931L238.4 928ZM505.3 926L508.1 926.3L509 928L507.7 932L506.1 933L500.1 933.7L496.1 939.6L494.1 940.8L486.1 943.2L484.1 943.1L482.8 942L483.3 938L487.4 934L494.1 930.2L500.1 928.7ZM452.2 930L458.1 930L460.9 932L461.2 934L459.9 936L456.1 938.5L452.1 937.7L450.3 936L449.6 934L450.1 931.7ZM122.1 932L122.1 931.5L124.6 932L127.6 934L129.5 944L129.5 946L128.1 947.3L122.1 948.5ZM358.4 932L362.1 931.9L364.9 936L364.6 942L360.2 948L360 950L361.7 952L366.1 953.3L370.1 951.2L374.1 958.6L376.1 959.6L392.1 958L393.3 962L392.9 966L392.1 967.3L388.1 968.5L379.2 966L372.1 962.2L352.1 964.1L345.4 960L344.4 958L344.7 954L349.6 942L354.1 934.6ZM392.1 932L394.1 930.4L396.1 930.4L403.1 934L404.4 936L404.7 942L404.1 942.8L400.1 943.5L394.1 940.3L390.3 936ZM275.2 934L280.3 934L276.1 936.1L275.2 936ZM204.3 936L206.1 934.6L210.1 934L211.4 936L210.1 939L208.1 941.1L204.1 942.8L201.8 942L202 940ZM467.7 936L470.1 935L472.3 938L472.3 940L470.1 942.1L468.1 941.7L467.2 940ZM260.5 938L266.1 936.4L268.1 938L268.8 942L267.7 948L268.2 950L270.2 952L270.4 954L268.1 956.3L265.6 956L264 954L262.9 950L259 946L258.2 942L258.6 940ZM158 942L166.1 941.5L168.5 942L171.5 944L170.1 946.7L166.1 945.8L162.1 946.1L150.1 949.1L146.1 950.8L143.3 950L140.5 946L140.8 944L142.1 942.6L144.1 942.2L150.1 944.5L152.1 944.5ZM521.7 944L524.1 942.9L525.6 944L526.5 952L530 958L529.2 960L527.7 962L524.1 963.4L518.1 961.2L510.1 961.4L508.6 960L508.5 958L510.1 953.2L514.8 948ZM429.1 946L434.1 944.4L435.2 946L434.6 954L435.2 956L438.9 960L439 962L432.1 964.4L428.1 968.5L426.1 969L425.2 968L425.3 966L429.1 962L428.9 960L426.1 957.6L422.1 952.1L420.1 954.4L412.1 969L410.1 970.5L408.1 969L405.8 960L406.7 954L408.5 950L410.1 948.3L416.1 949.6L424.1 949.2ZM193.3 950L194.1 949.4L198.1 950L200.1 950.5L201.5 952L199.4 958L199.5 964L190.1 975.9L188.1 976.7L186.1 975.6L180.1 978.8L172.1 977.3L164.1 973.8L160.1 975.2L154.1 979.4L153.4 978L154.3 974L153.9 972L150.1 968L149.9 966L152.1 961.2L156.1 959.4L168.1 960.6L180.1 956.5L184.1 957.8L186.1 957.4ZM184.1 961.1L182.2 968L182.5 970L184.1 972L186.1 971.4L188.2 966L186.1 962.2ZM227.3 960L230.1 958.9L234 962L234.8 964L231.9 972L228.1 974.1L226.1 973.7L225.5 966L226 962ZM590.1 966L593.9 968L593.7 970L590.1 971.8L588.3 970L587.8 968ZM489.8 970L492.1 970L490.1 970.7ZM487.5 972L488.8 972L484.1 982L484.1 990L485.9 992L494.1 995.2L500.1 994.2L504.1 989.9L514.1 986.3L522.1 979.2L528.1 977.9L531.5 980L534.2 984L534.5 986L531.9 990L529.6 996L530 998L534.2 1002L534.7 1004L533.8 1008L535 1018L534.4 1020L532.1 1022.8L526.1 1024.7L524.1 1023.1L522.1 1017.7L519.6 1016L511.8 1014L512.9 1012L516.1 1009.5L521 1000L521.6 998L521.2 996L520.1 995.3L518.1 995.6L514.1 998.9L506.1 1009L504.1 1009.5L500.1 1008.3L498.1 1008.7L492.1 1012.8L488.1 1014.5L474.1 1016.5L472.1 1018.1L469.4 1024L466.1 1026.2L463.6 1026L461.7 1024L462.6 1018L459.5 1008L458.1 1007.3L454.1 1007.7L450.5 1010L449.6 1012L449.8 1016L446.5 1022L446.2 1024L447.1 1034L448.1 1035.1L460.1 1038.6L462.6 1040L463.9 1042L465 1048L464.1 1049.2L462.1 1048.3L458.1 1049.8L452.1 1057.4L447.2 1062L445 1066L444.9 1068L446.9 1072L446.9 1074L443.6 1080L443.5 1088L439.2 1098L439.3 1100L444.7 1110L444.7 1112L441.4 1118L439.8 1124L442.1 1125.7L444.1 1125.5L454.1 1120.4L456.1 1120.2L458.3 1122L458.5 1132L456.4 1134L452.1 1134.3L446.1 1131.1L444.1 1130.8L440.1 1130.6L436.1 1132L434.1 1131.8L432.1 1128.9L430.1 1129.6L422.1 1135.8L415.4 1146L406.1 1154.4L397.5 1158L397.2 1164L394.1 1168.8L390.1 1165.8L386.1 1164.7L383.8 1162L384.2 1160L388.9 1156L393.2 1150L395.6 1138L395 1136L390.5 1130L387.1 1128L385.6 1126L387.1 1118L384.6 1114L384.6 1112L388.5 1102L390.1 1091.1L392.1 1090.2L396.1 1091.2L398.1 1090.2L399.8 1088L400.1 1086L399 1082L398.7 1076L390.1 1074.9L386.1 1076.1L381.5 1080L380.4 1084L381.5 1088L380.1 1090.6L374.1 1092L372.1 1090.8L370.9 1088L372.1 1081.6L370.1 1080.5L364.4 1082L361.7 1084L359.2 1088L359.5 1090L361.7 1092L362.2 1094L358.1 1101.2L356.1 1103.1L342.1 1103.2L334.1 1105.6L330.1 1103L328.1 1104.1L323.1 1112L320.5 1114L314.1 1115.1L310.1 1116.7L300.1 1125.1L292.1 1126.1L288.5 1128L287.2 1130L286.3 1134L284.1 1135.8L282.1 1136L280.4 1134L280.5 1128L279.8 1126L278.1 1124.3L276.1 1123.9L272.1 1125.4L269.1 1128L266.8 1132L265 1138L264.5 1146L260.6 1150L260.1 1152L262.1 1153.4L263.4 1156L260.1 1163L258.1 1164.2L252.9 1162L251.9 1160L252.1 1153.9L240.1 1153.9L236.1 1155.9L234.4 1158L233.7 1160L234.1 1163.3L236.1 1164.1L244.1 1162.7L245.1 1164L245.1 1166L241 1175.8L207.4 1175.8L210.1 1172.9L216.1 1169.9L224.1 1160L224.7 1158L222.3 1154L222.1 1152L227.4 1146L231.2 1136L234.1 1133L244.1 1130.2L245.8 1128L246 1124L244.9 1122L240.8 1120L240.2 1118L243.4 1112L250.6 1106L252.9 1102L252.4 1100L250.6 1098L248.1 1097.7L244.1 1099.5L240.1 1102.7L238.1 1102.6L237.1 1100L238.3 1096L262.1 1079.6L272.1 1076.9L275.2 1074L276.1 1072L276 1070L274.1 1068.2L266.1 1068.7L256.1 1063.7L254.6 1062L256.1 1059.8L268.1 1053.4L270.1 1053.5L272.1 1055L274.1 1054.3L279.2 1046L282.1 1044.1L292.1 1041.9L294.1 1045L296.1 1043.9L297.3 1040L300.1 1038.7L304.1 1038.9L305.1 1040L306.1 1051.2L308.1 1052.8L310.1 1052L316.1 1046.4L318.1 1045.5L320.1 1047.6L322.1 1048.3L330.1 1046L336.1 1045.4L344.1 1040.8L346.1 1040.4L350.1 1041.2L358.1 1045.7L362.1 1045.9L372.8 1040L377.7 1036L377.7 1034L372.1 1032.1L371.5 1030L371.7 1026L377.2 1020L378.6 1016L376.1 1011.5L370.1 1009.5L369 1008L368.3 1004L368.8 1002L371 1000L382.1 997.4L386.4 1000L390.7 1000L392.1 998.8L393.3 996L392.8 990L393.5 988L396.1 986L398.1 985.5L400.1 986.2L404.1 990.1L414.1 990.5L422.1 987.9L434.1 990.6L440 990L441.5 992L440.9 994L438.1 998.6L432.7 1004L432.2 1006L434.1 1009.3L442.1 1010.3L446.3 1008L451.3 1000L453 994L453.4 988L453.9 986L455.7 984L466.1 981L476.1 973.4L480.1 974.9ZM280.1 1103.6L277 1106L276.9 1108L278.1 1108.9L285.6 1108L288 1106L288.3 1104L286.1 1102.1L284.1 1102ZM332.1 1048.9L327.9 1054L320.1 1060.2L312.1 1070.2L306.1 1072.3L302.1 1075.4L300 1080L299.2 1084L300.1 1089.3L310.1 1084L318.1 1083.1L320 1082L323.2 1078L328.1 1068.1L330.1 1066.8L332.1 1066.5L334.8 1068L335.5 1070L335.2 1072L331.4 1078L332.1 1079.5L338.1 1081L339.3 1082L338.3 1084L331.6 1090L330.4 1092L332.1 1098.6L334.1 1099.8L338.1 1098.3L341.3 1096L346.1 1090.3L352.8 1088L353.3 1086L352.1 1085.1L347 1084L344.6 1082L352.1 1079.2L358.1 1074.9L361.2 1070L363.2 1064L367.3 1058L366.1 1056.5L360.1 1058.8L358.1 1058.6L346.1 1051.7L338.1 1051.5L336.1 1051L334.1 1049ZM394.1 1009.2L392.1 1010.2L388.1 1016L388.7 1018L392.1 1020.4L394.1 1019.6L396 1016ZM404.1 1063L401.5 1066L400.9 1068L402.1 1071.3L404.1 1071.3L406.1 1070L408.1 1066L408 1064L406.1 1062.4ZM434.1 1023.9L427.8 1030L426.9 1032L428.1 1034L432 1036L432.7 1038L431 1054L436.1 1055.2L440.1 1053.5L443.3 1050L445.7 1046L446.7 1042L446.3 1036L441.9 1032L440.5 1024L438.1 1022.7ZM302.1 1091.5L298.1 1093.4L296.3 1096L297.3 1098L300.1 1099.7L301.6 1102L302.7 1112L304.1 1113.5L308.1 1113.7L310.4 1112L313.1 1106L313.2 1104L310.8 1100L309.7 1094L308.5 1092L306.1 1091ZM392.1 1048.5L390.1 1050L390.1 1052.1L392.1 1052.5L394.1 1051.3L394.7 1050L394.1 1049.1ZM402.1 1103.9L395.1 1106L392.1 1107.9L390.9 1112L392.1 1113.7L396.1 1111.5L403.4 1110L404.9 1108L405 1106L404.1 1104.6ZM408.1 1119.9L403.4 1122L401.9 1124L408.1 1125.2L411.9 1124L412.8 1122L412.1 1120.2ZM234.8 974L236.1 972.6L240.1 975L242.1 977.4L244.3 984L244.1 986.1L242.3 988L238.1 987.6L236.1 986.4L234.6 984ZM335.1 974L338.1 972.8L340.1 974.5L341.1 978L340.1 982L336.1 984.6L334.1 984.5L332.7 982L332.7 978ZM295.6 978L296.1 977.1L298.1 976.6L299 978L298.7 980L296.1 983.4L294.1 984.5L294 982ZM312.5 980L314.1 978.7L316.7 980L318.5 984L319.3 990L318.1 992.7L312.1 994.5L309.7 992ZM145.3 982L149.3 982L149.3 984L147.9 988L144.4 992L138.1 995.4L134.1 999.6L130.1 1000.6L122.1 997.6L122.1 988.6L130.1 985.8L136.1 985.2ZM378.4 982L380.1 980L383.6 984L383.7 986L382.1 987.9L380.1 987ZM289.9 988L292.1 988.8L294.1 990.7L298.9 992L300.4 994L298.1 996.9L296.1 997.8L292.1 996.6L290.9 1000L291.7 1004L289.1 1008L288.8 1010L289.9 1012L288.1 1012.6L286.1 1014.5L284.1 1014.9L280.1 1014.1L275.6 1012L273.8 1014L275.2 1016L276.7 1022L276.4 1024L274.9 1026L268.1 1029.4L262.1 1026.8L261.4 1026L262.2 1022L267.2 1014L268.1 1006L270.1 1003.6L272.1 1002.8L274.1 1003.8L276.1 1006.5L278.1 1007.1L284.1 1004.5L286.1 1002L286.4 1000L284.5 996L284.7 994L286.1 991.4ZM251.3 992L254.1 990.8L258.1 991L260.6 992L263 994L263.9 996L262.9 1000L260.1 1002.9L252.1 1007.7L247 1012L240.1 1020.8L234 1024L232 1026L229.7 1032L228.1 1033L224.1 1032.9L222.7 1030L223.7 1028L230.1 1023.5L230.6 1022L229.5 1016L230.7 1012L234.1 1008.1L242.1 1004.9L244.1 1003.1ZM158 996L160.1 994.4L162.1 996L160.1 999L158.1 999.9L156.9 998ZM229 1002L230.1 1000.6L232.1 1000L233.5 1006L232.1 1007.3L230.1 1007.3L228 1006L227.9 1004ZM293.7 1006L296.1 1005.7L297.6 1008L298 1016L305.3 1024L304.7 1028L302.1 1030L300.1 1029.1L292.5 1022L290.1 1012ZM157.3 1014L160.1 1013.5L165.3 1018L162.1 1020L158.1 1020.2L156.2 1018L156.2 1016ZM330.1 1016L334.5 1016L332.9 1018L330.1 1018.5L329 1018ZM593.1 1016L597 1014.9L597 1028.9L588.1 1026.5L584.1 1023.7L578.1 1028.7L576.1 1028.4L574.3 1026L574.4 1024L578.1 1020.3L580.1 1019.3L582.1 1019.4L584.1 1021.2L586.1 1021.3ZM122.1 1018L122.1 1016.5L126.1 1017.9L131.9 1024L133.8 1028L132.1 1032L130.1 1032.9L122.1 1034ZM327.8 1026L328.8 1028L327.6 1030L323.1 1034L320.1 1039.3L318.1 1039.1L315.4 1036L315 1034L316.3 1032L322.1 1027.9ZM487.6 1026L492.1 1024.8L498.1 1026.4L504.1 1025.9L506.1 1027L506.4 1028L505.4 1030L493.3 1044L494.1 1045.9L498.1 1044.2L498.8 1046L498.2 1048L490.3 1058L480.1 1064.4L476.1 1065.6L470.1 1064.3L466.1 1065.6L460.8 1064L459.6 1062L460.4 1060L464.1 1056.6L466.1 1056.7L470.1 1059.2L472.1 1059.4L473.2 1056L472.6 1052L473.1 1050L478.1 1047L482.7 1042L483.7 1038L484.1 1028ZM143.4 1028L146.1 1027.1L149 1028L150.7 1034L149.6 1038L155 1044L155.7 1048L155.1 1050L152.1 1051.8L148.1 1052.1L144.1 1050.5L136.1 1048.9L132.2 1042L132.9 1038L134.1 1036.4L139.6 1034ZM254.3 1030L258.1 1029L259 1030L255.8 1040L254 1042L250.1 1042.7L248.3 1042L246.5 1038L247.5 1034L250.1 1031.6ZM527.6 1038L530.1 1037.7L530.5 1040L528.1 1041.6L526.1 1041.4L525.8 1040ZM219 1042L222.1 1040.5L226.1 1040.5L234.1 1042.6L238.1 1045.1L241.6 1046L242.5 1048L242.4 1052L244.3 1056L236.1 1056L226.1 1052.2L220.1 1053.6L216.1 1053.6L214.6 1052L214.1 1050L216.1 1045.2ZM572.5 1042L574.1 1041.1L575.9 1042L584.2 1050L586.1 1050.9L597 1053L597 1057.5L594.5 1062L586.1 1063.6L578.1 1059.3L574.1 1058.4L572.1 1058.9L566.1 1071.1L564.1 1077L560.1 1081.6L558.1 1083.3L550.1 1084.9L544.6 1084L543 1082L544.4 1078L548.5 1074L560.1 1066L561.8 1064L565.3 1058L566 1052ZM170.9 1046L174.1 1044.6L176.1 1044.8L184.1 1047.2L185.2 1048L185.7 1050L184.1 1052.5L174.1 1054L172.1 1053L169.5 1050L169.4 1048ZM465 1050L466.1 1049.2L466.5 1050ZM197.7 1052L198.1 1051.4L198.5 1052ZM122.1 1056L122.1 1055L122.8 1058L122.1 1059.4ZM519.4 1056L522.1 1054.5L523.9 1056L522.3 1060L520.1 1061.4L518.4 1060ZM210.6 1060L214.1 1058.2L216.1 1059.2L216.7 1064L225.1 1080L224.2 1084L222.1 1086.1L212.1 1090.8L210.1 1090.7L202.1 1086.4L201.6 1084L202.4 1078L198.8 1074L198.5 1072L200.1 1069L204.1 1064.7ZM494.6 1068L496.1 1066.7L498.1 1066.5L500.7 1068L501 1070L498.9 1072L496.1 1072.4L493.8 1070ZM151.2 1070L152.1 1069.1L153.6 1070L152.1 1073.5L150.5 1072ZM245.9 1070L248.1 1070.9L248.9 1074L248.5 1076L246.1 1079.1L244.1 1080L241.9 1078L241.7 1074L244.1 1070.7ZM122.1 1078L122.1 1076.7L125.9 1078L129.7 1084L129.8 1086L128.1 1088.2L122.1 1089.4ZM528.9 1088L530.1 1087.3L533 1088L533.5 1090L532.1 1092.3L530.1 1093L528.7 1092L528.1 1090ZM563.6 1088L568.1 1087.4L572.1 1088.1L573.7 1090L572.4 1094L570.5 1096L568.1 1097.1L564.1 1097.8L562.1 1097.3L560.1 1095.6L558.7 1092L560.1 1089.2ZM190.1 1098L194.1 1096.5L198.1 1096.7L204.1 1098.6L212.1 1104.2L220.1 1102.5L222.1 1103.1L227 1106L228.7 1108L227.8 1114L224.1 1117.5L222.1 1118.3L218.1 1116.2L216.1 1116L210.1 1117.6L208.3 1120L209.3 1122L212.1 1124L218.1 1121.2L220.1 1121.1L221.7 1124L219.8 1128L212.1 1132.2L209 1136L208.5 1138L213.5 1142L214.4 1144L215.6 1154L213.3 1158L210.1 1160.5L205.6 1160L209.5 1150L209.3 1148L208.1 1147.2L206.1 1147.4L204.1 1148.8L198.5 1156L198.9 1158L201.8 1160L202.4 1162L198.5 1168L198.7 1172L197.8 1175.8L193.2 1175.8L190.1 1172.7L184.3 1170L182.1 1166.5L180 1168L178.1 1172.5L176.1 1172.9L174 1168L173.6 1160L168.7 1154L169 1150L172.2 1146L176.7 1138L176.6 1136L174.9 1134L170.1 1131.7L168.4 1130L166.4 1126L167 1124L170.1 1121.7L182.9 1116L184.9 1112L185.7 1104L187.9 1100ZM192.1 1155.8L190.2 1158L192.1 1160.2L195.5 1158L194.7 1156ZM468.1 1100L470.1 1098.5L474.1 1099.4L478.1 1104.6L484 1106L484.1 1108.1L472.1 1109.7L470.1 1109.2L467.7 1106ZM358 1104L362.1 1104.4L366.2 1106L368 1108L368.2 1110L367.7 1112L363.7 1116L362.8 1118L363.7 1120L367 1122L367.5 1124L360.6 1132L359.8 1134L360.2 1138L362.1 1141.3L368.1 1141L370.4 1142L374.3 1152L374 1154L370.1 1159.2L369.1 1162L368.2 1172L367.3 1174L365.6 1175.8L356.1 1175.8L352.1 1173.3L350.1 1173.7L348.4 1175.8L306.8 1175.8L309.7 1172L316.4 1168L316 1162L316.8 1158L318.1 1155.7L322.1 1153.6L328.1 1153.7L330.1 1154.4L334.1 1163.6L346.1 1165.3L352.1 1167.5L356.1 1165.6L357.6 1164L358.4 1160L357.7 1156L356.1 1154.1L350.1 1152.6L344.1 1154.1L342.1 1152L339.7 1142L340.1 1140L344.9 1134L338.1 1127.6L336.9 1126L336.7 1124L340.1 1118.3L344.1 1118.7L345.4 1116L352.1 1111.3L356.1 1105.1ZM575.4 1106L578.1 1105.4L579.4 1106L582.4 1108L582.9 1110L580.1 1112.5L578.1 1113L576.1 1112L573.7 1110L574 1108ZM138.7 1114L140.1 1113.3L144.8 1114L145.7 1116L145.5 1120L144.1 1123.2L138.1 1119.8L137.3 1118L137.5 1116ZM528 1118L534.1 1116.5L536.1 1116.7L537.8 1120L537 1126L538.2 1128L542.7 1130L544.1 1131.5L544.3 1134L542.1 1135.5L536.1 1137L532.5 1140L531.3 1142L531.1 1144L533.8 1150L533.3 1154L531.7 1156L525.9 1160L524.8 1162L525.3 1166L524.2 1168L520.1 1171.2L518.1 1171.4L516.1 1169.4L515.2 1164L515.8 1162L520.3 1154L527.5 1144L528.8 1138L527.2 1134L522.1 1127.3L521.3 1124L523.2 1120ZM591.4 1120L597 1118.1L597 1124.3L590.1 1123.4L589.5 1122ZM155.8 1126L158.1 1125L160.3 1126L158.1 1126.9ZM496.4 1128L498.1 1127.1L500.1 1127.4L500.5 1130L496.6 1132L494.1 1132L493.9 1130ZM557.9 1128L560.1 1128.4L561.7 1134L559.8 1136L556.1 1137.8L554.1 1135L553.5 1132L554.9 1130ZM136 1138L138.1 1136.9L138.7 1138ZM551.3 1140L554.1 1138.1L554.5 1140L550.5 1148L548.1 1150.3L546.1 1151.1L544.1 1150.5L543.3 1148L544 1146ZM596.7 1144L597 1161.2L592.1 1160.1L591.1 1158L593.2 1152L594.1 1146.2ZM277.6 1150L279.1 1150L279.4 1152L276.1 1153.5L275.5 1152ZM463.5 1160L466.1 1158.4L468.1 1158.1L470.1 1158.2L472 1160L470.1 1165.3L466.1 1169.4L464.1 1169.6L462.1 1168.7L460.7 1166L461 1164ZM486.1 1166L489.5 1170L489.5 1172L486.1 1175.2L482.1 1175L479.4 1172L479.9 1170L484.1 1166.5ZM153.3 1170L156.1 1170.2L156.7 1175.8L147.5 1175.8L149.8 1172ZM431.8 1172L434.1 1172.4L436.7 1175.8L429 1175.8L430.1 1173.2ZM555.9 1172L558.7 1172L560.1 1173.5L560.4 1175.8L554.7 1175.8ZM576.1 1172L578.1 1171.3L580.1 1172L580.9 1175.8L574.5 1175.8Z"/>
<path fill="#1c2530" fill-opacity="0.05" fill-rule="evenodd" d="M189.2 698L195.8 698L199.3 702L200.7 710L198.1 715.8L196.1 716.3L188.1 715.2L185.3 714L191.1 704L191.4 702ZM267.7 698L273.8 698L273.6 704L278.5 708L278.2 712L276.1 716.1L274.1 718.8L272.1 720L265.3 710L265.4 704ZM299.7 698L307.3 698L306.1 702.1L304.1 703.1L300.5 702ZM451.7 700L454.1 699.1L456.5 704L455.7 708L452.1 711L448.3 710L446.4 708L445.6 704ZM220.8 706L224.1 704.4L226.1 704.9L227.4 706L227.7 708L226.1 712L224.3 714L220.1 715L218.1 714L218.1 712L219.3 708ZM243.9 712L246.1 710.4L248.1 710.9L250.1 724.4L252.1 725.9L258.1 725.3L262.2 728L263 730L260.1 733.2L258.1 734L248.1 732.1L244.1 729.3L237.9 728L236.8 726L237.6 722ZM197.9 718L198.1 716.9L200.9 718L198.1 718.6ZM467.6 720L469.2 720L468.1 723.6L467.2 722ZM138.5 722L142.1 720.7L143.1 722L138.1 727.2L136.1 727.2L135 726L135.1 724ZM228 730L230.5 730L231.2 732L230.4 734L226.1 737.2L224.1 736.9L223.8 734L224.7 732ZM148 750L150.1 751.6L150.8 754L149.7 756L148.1 756.7L146.1 756.5L145.6 754ZM287.3 750L290.1 748.3L296.1 748.5L297.5 750L298 752L297.3 756L292.1 765.2L286.7 770L284.5 774L280.1 775.8L277.2 774L277.6 772L283.9 768L284.9 766L285 760ZM181.7 756L182.1 754.6L184.3 756ZM255.9 758L256.1 756.9L256.1 762.1ZM135.4 772L138.1 771L139.2 772L138.8 774L136.1 776.7L134.5 776L134.2 774ZM202.8 774L206.1 773.1L208 774L210.8 778L211.5 780L210.4 786L208.1 788L204.1 787.4L196.1 782.4L194.3 780L194.2 778ZM171.7 776L176.1 778.7L178.1 778.7L184.1 775.7L188.1 775L191 776L192.1 777.8L193.3 778L192.1 778.1L188.1 782.2L183.6 790L180.1 792.5L178.1 792.9L168.1 789.5L166.1 787.4L165.8 784L166.9 780L170.1 776.2ZM154.5 800L157 800L157.3 802L154.1 806L150.1 807.7L148.7 806L149.7 804ZM378.7 802L382.1 801.2L383.6 802L384.3 804L382.1 806.3L378.4 806L377.2 804ZM164.4 806L170.1 805.6L172 808L170.8 812L166.1 819.6L164.1 820.7L162.1 820.7L159.3 818L158.7 816L158.9 812L160.4 808ZM538.9 810L540.2 810L541.1 812L541.4 816L538.6 826L536.8 828L534.1 828.7L532.6 828L532.2 826L533.2 816L535.6 812ZM277.9 814L279.2 816L277.1 816ZM494.6 814L496.1 813.5L498.4 814L501.1 816L501.4 818L497 826L496.7 834L496.1 835L494.1 835.8L490.1 833.2L484.1 831.2L483 828L484.1 824.8L489.6 822L491.5 820L492.9 816ZM217.7 816L220.1 814.7L221.5 816L221.4 818L220.1 819.8L218.1 820.7L216.5 820L216.5 818ZM303.6 816L306.1 815.5L306.5 816ZM458.3 820L462.1 818.4L464.1 820L462.1 822.9L460.1 824.2L458.1 822.1ZM389.7 830L392.3 830L390.6 834L390.8 840L386.9 852L384.1 853.6L382.1 853.4L380.1 851.7L376.1 851.6L366.1 854L360.1 857.9L358.1 858.5L356.1 857.9L353.8 852L354.1 848L356.6 844L362.1 838.6L364.1 837.6L372.1 838L382.1 832.5ZM402.7 842L405.7 842L403.7 848L404.8 856L402.9 858L400.1 858.6L395.3 856L393.5 854L393.2 852L397.1 846ZM252 844L262.1 846.1L265.7 848L265.2 850L261.9 854L261.4 856L264.5 862L264.6 868L262.1 870.5L254.1 871.9L248.1 876.9L244.1 877.5L242.7 876L244 872L243.8 870L241 864L241.2 862L243.7 854L245.7 850L248.1 846.2L250.1 844.3ZM149.7 846L150.1 845.1L152.1 844.4L156.1 846.8L159.1 850L158.2 856L159.2 858L163.5 862L164.1 863.8L163.6 866L159.1 872L158.6 874L159.3 880L158.7 882L156.1 885.7L152.1 888.9L147.2 888L145.2 886L144.9 884L148.2 874L148.1 871.3L146.1 868.7L142.1 871.1L139.3 874L137.5 878L139.6 886L138.6 890L136.1 894.9L129.8 900L129.1 902L129.2 904L130.1 905L135.2 908L136.2 912L138.1 914.8L139.9 916L139.1 918L138.1 919.1L136.1 919L130.1 916.4L122.1 915.4L122.1 899.1L123.4 898L122.1 897L122.1 881.1L124.3 880L124.6 878L122.1 875.7L122.1 872.5L124.3 866L123.9 864L122.1 862.9L122.1 858.8L128.1 858.3L136.1 852.8L146.1 849.4ZM345.9 864L346.9 864L346.1 866.2L345.2 866ZM359.5 866L362.5 866L363.1 868L354.1 874.2L352.7 874L352.3 872ZM366.8 872L368.1 870.6L370.1 870.6L372.9 872L374 876L372.4 882L370.1 885L362.2 890L356.1 896.4L354.1 896.8L353.3 896L351.6 888L350.1 885.1L342.1 891.3L340.1 891.4L338 886L336.1 884.2L334.1 884L330.1 886.9L327.5 886L327 884L328.1 881.8L331.9 882L334.1 883.8L335 882L340.1 878.8L342.1 878.6L344.1 880.5L350.1 882.6L360.1 879.8L363.3 878ZM482.5 874L487.3 874L488.3 876L487 878L481.8 882L481.2 884L481.9 890L481.1 892L478.1 895.2L476.1 896.3L474.1 896.3L468.1 893.8L462.8 890L460.8 886L460.7 884L464.1 882.6L470.1 883L472.1 882.4L476.1 875.5L478.1 874.4ZM449.8 876L452.1 876.8L454.6 882L452.7 884L450.1 884.5L448.1 883.7L445.2 880L446 878ZM249.2 884L251.1 884L252.1 885.5L250.1 888.1L248.1 887.8L247.5 886ZM231.9 886L234.1 884.8L236.1 884.8L236.7 886L236.4 888L234.1 890.6L232.1 890.9L230.9 890L230.7 888ZM163.1 888L166.1 886.3L176.1 886.7L178.1 887.9L181.4 892L181.8 896L178.8 898L176.1 898.5L166.1 899.1L160.1 897.2L156.1 899L154.1 897.2L153.5 894L160.1 891.2ZM185.4 896L188.1 895.1L190.1 895.5L190.3 898L188.1 898.7L186.1 898.1ZM428.1 896L430.1 894.3L434.1 895L439.4 900L442.1 904L447.7 906L447.9 908L446.1 914.2L442.1 918.7L436.1 919.4L430.1 922.8L426.1 923.5L424.1 922.5L421.3 916L421.7 914L426.4 906ZM326.5 898L328.1 896.7L330.1 896.6L332.2 898L333.4 900L332.6 902L330.1 904L326.9 904L325.2 902L325.2 900ZM322.9 922L326.1 920.5L327.9 922L320.1 928.3L318.1 928.7L316.4 928L316.8 926ZM453.1 932L457.4 932L458.2 934L456.1 936L454.1 936.2L451.9 934ZM122.1 934L122.1 933.4L124.1 933.9L126.1 935.7L127.1 942L126.1 944.6L122.1 946.5ZM492.5 934L494.6 934L492.8 938L490.1 940L487.8 940L487.4 938ZM356.5 936L360.1 935L362.1 937.2L362.4 940L360.7 944L356.1 948.7L354.1 947.7L352.9 942L354.1 938.6ZM519 950L520.1 948.7L520.7 950L520.1 950.6ZM348.1 952L350.1 950.5L356.1 950.6L365.6 958L363.5 960L360.1 961.2L356.1 962.2L352.1 962.1L347 958L346.6 956ZM429.1 952L430.1 950.5L431.3 952L430.1 954.5L429.3 954ZM411.8 954L414.1 954.5L414.9 956L414.1 958.1L412.1 960L410.1 960L409.8 956ZM513.5 954L516.1 952.7L518.1 953.3L518 956L516.1 958L512.1 958.7L511.4 958L511.6 956ZM191.6 958L194.1 957.1L196.4 962L196.4 964L195.3 966L192.1 968.7L190 960ZM156 962L166.1 964.2L178.1 962.2L180 966L178.9 972L176.8 974L174.1 974.8L170.1 974L164.1 971L159.2 972L153.6 966L153.7 964ZM473.3 980L478.1 979.4L480.1 980.3L480.8 982L481.7 988L480.1 1000L482.1 1001.5L488.1 996.8L492.1 997.7L502.1 997.2L504.4 996L508.1 991.7L514.1 989.4L518.1 986.1L521.5 982L524.1 980.7L528.1 980.7L530 982L530.9 984L530.1 986.8L526.1 991.8L518.1 991.7L516.1 992.7L506.1 1003.8L504.1 1004.8L500.1 1003.9L492.1 1009.4L482.1 1010.8L474.1 1013.1L468.1 1016.2L466.1 1015.7L462.9 1012L462.1 1005.6L460.1 1004.2L456.1 1003.5L454.1 1002L455 992L455.9 988L458.1 986L466.1 984.8ZM313.9 986L314.1 985.5L315.5 986L316.3 988L314.1 990.4L313.3 988ZM123.1 990L128.1 988.6L132.1 988.6L137.1 990L137.8 992L134.1 997L130.1 998.4L122.1 995.3L122.1 990.3ZM417.9 992L424.1 990L430 992L432.1 994L432.2 996L429.4 1006L430.1 1009.1L434.1 1013.6L436.1 1014.2L443.9 1014L444.8 1016L444.1 1018.8L442.1 1019.7L438.1 1019.5L434.1 1021.1L424.9 1030L423.6 1034L423.7 1038L428.1 1038L429.9 1040L429.8 1042L426.1 1050.8L421.4 1056L436.1 1059.1L440.1 1056.7L450.1 1044.5L452.1 1044.5L453.6 1048L452.1 1052.3L443 1062L442.1 1064L441.8 1068L443.2 1074L443.1 1076L441.2 1080L441.5 1086L435.6 1098L436.2 1100L441 1106L442.1 1110L441.7 1112L436.1 1120.4L432.1 1123.2L416.1 1140.8L412.1 1143.8L406.1 1142.4L400.1 1138.9L400.1 1136L400.8 1134L404.3 1130L412.1 1127.5L414.1 1126L416.7 1120L416.1 1116.1L414.1 1115.5L410.1 1115.8L406 1114L410.1 1106.7L414.1 1108L420.1 1106.2L422.1 1104L422.6 1102L422.1 1099.4L420.1 1097.4L412.1 1099.4L408.1 1101.4L402.1 1099.5L396.1 1102L393.9 1100L394.1 1097.7L400.1 1094L402.6 1090L403.5 1086L401.8 1082L402.2 1078L409.3 1070L412.6 1062L412.4 1060L406.1 1058.8L404.1 1059.7L398.8 1066L396.4 1072L388.1 1073.3L376.1 1081L375.8 1080L372.1 1078.4L364.1 1078.6L361.4 1076L365.7 1064L370.6 1058L370.1 1055.9L368.1 1053.9L366.1 1053.1L362.1 1052.1L356.1 1053L350.3 1050L352.1 1048.3L356.1 1049.1L362.1 1048.7L376 1040L380.5 1036L381.5 1034L380.9 1032L376.1 1029.8L374.7 1028L374.7 1026L375.7 1024L381.1 1018L381.7 1016L377.4 1008L379.5 1004L382.1 1002.6L388.1 1004L389 1006L388.1 1010L383.7 1016L386.1 1020.1L390.1 1023.1L392.1 1023.7L396.1 1021.3L400.6 1016L402.8 1012L403.2 1010L402.4 1008L397.6 1004L397.1 1002L398.1 999.6L402.1 995.5L406.1 993.2L414.1 993.2ZM428.1 1069.5L424.8 1072L424.3 1074L428.1 1074.7L433.2 1070L432.1 1069.1ZM392.1 1045.3L390.1 1046.3L387.3 1050L386.1 1054L388.1 1055.7L396.1 1054.1L399.5 1052L401.1 1050L401.4 1048L400.5 1046ZM253.3 994L256.1 993.4L258.1 994L260 996L260 998L258.1 1000.8L246.1 1009.5L244.4 1008L245.1 1006L250.1 997.4ZM523.7 1000L526.1 998.1L530.6 1002L530.9 1006L528.1 1010.6L522.1 1010.4L520.1 1008L521 1004ZM234.9 1012L239.2 1012L240.4 1014L238.1 1017.9L234.1 1019.3L232.6 1018L232 1016L232.6 1014ZM593.4 1018L597 1016.9L597 1026L590.5 1024L589.9 1022L591 1020ZM122.1 1026L122.1 1024L126.1 1025.3L127.6 1028L126.4 1030L122.1 1031.4ZM489.1 1030L492.1 1028.5L494.8 1032L494.4 1036L492.1 1038L488.1 1037.3L487.2 1036ZM138 1044L138.1 1043.4L140.5 1044ZM220.4 1046L222.1 1044.6L224.1 1044.2L226.8 1046L227.6 1048L222.1 1048.8L220.4 1048ZM483.1 1046L484.1 1045.4L485.1 1046L485.5 1050L487.1 1054L482.8 1060L480.1 1062.1L478.1 1062.6L476.5 1062L477.4 1052ZM149.5 1048L150.1 1047.3L152.2 1048L150.1 1048.5ZM281.2 1048L284.1 1046.3L286.1 1046.3L292.1 1052L294.1 1052.3L300.1 1046.8L302 1048L300.1 1055.5L296.1 1058.4L294.1 1062L294.3 1064L296.1 1066.1L298.1 1066.9L302.1 1065L306.1 1061.9L314.3 1052L316.1 1050.9L318.7 1052L317.4 1060L312.1 1067.1L304.1 1070.1L298.1 1070.9L296.9 1072L296.1 1074L297.4 1078L296.1 1090L294.5 1094L290.1 1097.8L284.1 1098.6L276.1 1103L273.5 1106L271.6 1110L271.2 1112L272 1114L274.1 1114.8L282.1 1111.5L292 1110L292.6 1104L293.9 1102L296.1 1101.1L298.1 1101.8L299.2 1104L300 1108L298.3 1114L302.8 1118L302.4 1120L298.1 1123.2L292.1 1124.2L284.1 1126.9L280.1 1122.6L278.1 1121.6L274.1 1122.2L268.6 1126L265.5 1130L263.1 1136L262.6 1144L260.5 1146L254.1 1148.1L250.1 1150.3L246.1 1150.7L242.1 1150.5L234.1 1147.7L232.2 1146L231.8 1144L232.2 1140L234.1 1136L237.6 1134L246.1 1132.3L249.2 1130L250.5 1128L249.6 1122L248.1 1118L246.4 1116L246.3 1114L249.4 1110L255.5 1106L256.9 1102L256.1 1100L250.5 1094L250.4 1092L258.1 1085.5L266.1 1083.1L274.1 1078.6L280.8 1072L281.6 1070L280.1 1067.7L274.1 1065.8L268.1 1066L263.9 1064L262.4 1062L263.4 1060L266.1 1058.5L270.1 1060.8L272.1 1060.1L276.3 1056ZM583.6 1056L588.1 1055L590.4 1056L590.4 1058L588.8 1060L586.1 1060.2L583.4 1058ZM329.5 1070L332.1 1069.8L332.3 1072L328.1 1076.1L327.9 1072ZM557.7 1070L562.1 1069.1L563.2 1070L563 1074L561 1078L558.1 1080.2L548.1 1081.7L547 1080L549.3 1076L554.1 1071.9ZM207.1 1080L209 1080L210.1 1082.2L213.1 1084L213.1 1086L210.1 1086.1L206.1 1082.4ZM122.1 1082L124.2 1084L123.4 1086L122.1 1086.3ZM324.3 1082L326.1 1080.9L330.2 1084L329.1 1086L324.1 1087.6L321.4 1090L320.8 1092L323 1098L323.2 1104L320.1 1110.6L318.1 1112L316.1 1112L315.2 1110L315.7 1108L318.6 1102L314.1 1098.7L311.3 1090L311.4 1088L314.1 1086.3L320.1 1085.6ZM375.9 1084L376.1 1083.5L376.1 1087.2L374.5 1086ZM352.7 1092L354.5 1092L356.2 1094L356.3 1096L355.3 1098L352.1 1099.8L348.1 1099.8L346.8 1098L348.1 1094ZM564.9 1092L566.7 1092L566.1 1093ZM191.9 1100L196.2 1100L200.1 1103L204.1 1103.9L210.1 1106.8L214.1 1106.8L220.1 1105.1L224.6 1108L225.3 1110L224.1 1112.6L222.1 1113L216.1 1111.5L210.1 1113.5L206.1 1116.9L204.5 1120L204.3 1122L208.1 1126.1L209.4 1130L203.6 1140L200.7 1148L198.1 1150.4L192.1 1151.8L190.1 1151.8L188.6 1150L187.7 1148L187.6 1144L186.1 1142.4L182.1 1142.7L179.8 1142L180.4 1134L173.2 1128L174.2 1124L176.8 1122L180.1 1121L182.6 1122L186.1 1127.3L188.1 1126.1L197.1 1116L198.3 1112L196.1 1106.4L194.1 1105.2L190.1 1107.8L188.1 1106.4L188.1 1103.9ZM469.8 1104L470.1 1103.1L472.1 1102.2L473 1104L472.6 1106L471 1106ZM358 1110L360.1 1109.7L360.9 1112L358.9 1118L359.3 1124L354.1 1126.2L350.1 1129.1L348.1 1129.7L346.1 1129.2L344.6 1128L344.3 1126L354.1 1115.4ZM397.9 1114L400.1 1114.1L401.8 1116L396.1 1124.2L392.1 1125.5L390.9 1124L391.2 1120L392.1 1118L394.1 1115.8ZM451.8 1126L453.3 1126L452.1 1128.5ZM530.1 1130L532.1 1128.7L533.2 1130L532.8 1132L531.3 1132ZM344.1 1140L346.1 1139L347.9 1140L346.1 1141.2ZM227.2 1150L230.1 1148.3L232.1 1148.3L233 1152L232.3 1154L230.1 1155.9L228.1 1155.6L226.7 1154L226 1152ZM363 1150L364.1 1148.7L366.1 1149.5L369.2 1152L369.8 1154L367.6 1160L365.9 1172L364.1 1174L360.1 1175.3L358.1 1174.6L355.5 1172L355.2 1170L360.3 1162ZM527.4 1150L528.1 1149.6L530.1 1151L529.8 1154L524.1 1157.3L522.6 1156L523.3 1154ZM595.5 1156L597 1154.7L597 1158.5L595.5 1158ZM319.7 1158L322.1 1156.4L326.1 1157L328 1158L329.2 1160L330.1 1164.8L332.1 1167.1L338.1 1166.5L346.3 1168L347.5 1170L347.4 1172L345.8 1175.8L329.3 1175.8L328.1 1174.4L326.7 1175.8L310.4 1175.8L314.1 1172.3L319.7 1170L320.8 1168L319.2 1162ZM225.9 1162L228.1 1160.6L229.7 1162L230.5 1166L232.1 1167.8L238.1 1167.8L240.1 1168.7L240.4 1170L238.8 1175.8L223.6 1175.8L222.1 1174.9L221.2 1175.8L218 1175.8L222.6 1166ZM465.6 1162L468.1 1161.9L467.7 1164L466.1 1165.6L464.1 1165.9L463.8 1164Z"/>
<path fill="#1c2530" fill-opacity="0.06" fill-rule="evenodd" d="M192.9 708L194.1 706.4L196.1 706.5L197.1 710L196.1 711.3L193.6 712L192 710ZM290.1 752L294.1 752.1L295.1 754L294.1 758.4L292.1 761.8L290.1 763.3L288.1 762.7L287.5 760L288.2 756ZM182 782L182.5 782L182.1 782.8ZM163.3 812L164.1 811L166.1 810.9L166.5 812L166.1 814.1L164.1 816.6L162.6 816L162.2 814ZM380.9 838L384.1 837.7L386.1 839.2L385.3 844L383.5 846L360.1 855.1L357.4 854L356.2 852L356.5 848L362.1 841.5L364.1 840.5L370.1 840.6ZM248.8 850L250.1 848.7L252.1 848.3L256.2 850L255.6 856L261.6 864L261.1 866L260.1 866.8L250.1 869.1L248.1 868.8L246.1 866.6L245.1 862L246 856ZM397.9 852L398.1 851.5L398.8 852ZM148.7 854L150.1 852.6L152.1 852.1L153.8 854L152.1 856.6L150.1 857.9L148.2 856ZM136.8 858L142.1 856.3L145.9 860L145.4 862L142.9 866L138.1 870.4L134.1 872.1L132.1 871.6L129.8 870L128.7 868L129.5 864L132.1 860.3ZM151.2 878L152.1 877.1L153.2 878L153.7 880L152.1 883.3L150.1 884L149.2 882L150.1 879ZM128.5 884L130.1 882.4L132.1 882.7L132.7 886L132.1 888L130.1 887.4L128.9 886ZM359.2 884L361.6 884L361.1 886L358.1 888.3L357.1 886ZM475.1 884L476.1 883.3L478.1 884.1L479.1 888L477.5 892L474.1 893.5L470.1 892L468 890L467.6 888ZM170.5 892L174.1 891.7L174.9 894L170.1 894.7L169 894ZM430.9 898L433.3 898L435.5 900L436.2 902L436.1 912L435.5 914L432.1 917.7L428.1 919.6L424.9 918L423.8 916L423.9 914L428.3 906L429.5 900ZM122.1 938L123.1 940L122.1 942.2ZM353.7 958L354.1 957.2L354.9 958ZM473.7 984L476.1 983.8L477.6 986L477.3 992L474.1 996.3L470.1 997.1L468.1 996L468 994L469.9 988ZM405.3 998L408.1 996.8L413.3 998L411.3 1002L408.1 1003.9L404.2 1002L403.8 1000ZM421.8 998L424.1 996.2L426.1 996.2L427.1 998L426.2 1004L424.1 1006.6L419 1002L419.5 1000ZM408.2 1010L410.1 1008.6L412.1 1008.8L413.7 1010L415.8 1020L413.8 1024L410.1 1027.5L404.1 1030L398.1 1039.2L390.1 1042L388.1 1043.8L380.1 1055.2L376.1 1056.7L374.1 1055.9L368.5 1050L368.4 1048L370.3 1046L382.7 1038L386 1034L388.1 1029.5L392.1 1028.7L398.1 1023.6L402.1 1021.7L403.8 1020L405.7 1014ZM423.5 1016L426.1 1014.1L428.1 1014.9L429.2 1018L428.1 1021L426.1 1022.1L422.1 1020.4L422.1 1018ZM281.1 1056L282.1 1055.1L284.3 1056L282.4 1060L280.1 1062L278.1 1061.1L277.9 1060ZM389.5 1062L390.1 1060.8L392.1 1061.7L390.1 1062.7ZM369.4 1064L372.1 1062.8L374.1 1063.6L381.5 1072L380.1 1074L376.1 1075.4L367.8 1076L366 1074L366 1072L367.8 1066ZM420.7 1064L424.1 1062.3L424.6 1064L422.1 1065.7ZM415.7 1070L416.5 1070L416.4 1072L412.1 1079.8L408.1 1080.9L406.1 1080.1L406.4 1078L408.3 1076ZM287.5 1072L288.1 1070.8L290.1 1070L290.7 1072L290.6 1082L293.2 1088L292.1 1092.5L290.1 1094L280.1 1096.8L274.1 1097.1L272.5 1098L271.2 1102L268.1 1104.7L264.1 1105.1L262.1 1104.4L262.4 1102L271.2 1098L271.5 1096L270.1 1094.3L265.1 1092L267.7 1088L272.1 1084.9L278.4 1084L280.6 1082L281.8 1078ZM431.1 1080L434.1 1079.9L436.1 1082.2L437.7 1086L437.5 1088L434.1 1093.3L430.1 1096.7L428.1 1097.5L426.1 1097L422.5 1092L421.2 1084L422.1 1081.7L424.1 1080.6L428.1 1080.9ZM257.8 1090L260.1 1089.1L262.3 1090L263.6 1092L260.1 1095.5L258.1 1095.9L255.9 1094L256 1092ZM431.2 1104L434.1 1104L437 1106L437.5 1110L436.1 1112L433.2 1112L430.1 1110L429.1 1106ZM255.9 1112L260.1 1110.7L264.1 1111.7L269.6 1118L270.2 1120L269.3 1122L264.1 1125.7L258.1 1126.6L256.1 1125.4L253.1 1118L253.8 1114ZM283.5 1118L284.1 1116.7L286.1 1116.6L290.4 1120L288.6 1122L286.1 1122.4L284.1 1120.5ZM421.5 1120L422.1 1119.4L424.1 1119.6L426.1 1122L426.1 1124.6L424.3 1128L414.1 1138.2L410.1 1138.6L407.6 1138L405.9 1136L406.2 1134L408.1 1132.4L414.1 1131.5L416.1 1130.3L418.6 1124ZM244.7 1136L250.1 1134.1L252.1 1134.2L255.3 1136L255.8 1140L246.1 1146.9L242.1 1146.6L238.2 1144L236.9 1142L237.2 1140L238.8 1138ZM361.5 1166L362.1 1164.7L364.1 1166L363.7 1168L362.1 1171.3L360.1 1171.4L359.4 1170ZM337.5 1170L342.7 1170L344 1172L342.7 1175.8L333.8 1175.8L334.7 1172ZM315.3 1175.8L318.1 1175.1L319.2 1175.8Z"/>
<path fill="#1c2530" fill-opacity="0.07" fill-rule="evenodd" d="M362.7 844L366.1 843.1L376.1 842.7L378.4 844L371.9 848L362.1 852L360.1 852.1L358.6 850L359 848ZM429.1 910L430.1 908.9L432.1 909.7L432.1 912L430.1 914.8L428.1 914.9L427.4 914L427.6 912ZM375.5 1046L380.1 1044.5L381.4 1046L380.1 1049.6L378.1 1052L376.1 1052.3L374 1050L373.9 1048Z"/>
<path fill="#fff" fill-opacity="0.09" fill-rule="evenodd" d="M130.9 698L164.1 698L162.1 700.8L156.1 703.8L146.1 702.4L142.2 704L138.1 707.4L134.1 706.1L132.2 704ZM283.7 698L288.1 698L286.1 700.1L284.1 699.4ZM332.8 698L345.6 698L344.1 700.7L340.1 702.7L334.1 701.6ZM355.5 698L370.1 698L368.1 701.5L362.1 706.7L358.1 708.9L356.1 709.1L352.8 708L352.8 706L354.8 702ZM386.4 698L407 698L406 702L402.1 706L400.1 706.8L392.1 706.9L390.1 706.2L388.1 703.7ZM414.5 698L426 698L424.1 698.3L418.9 702L416.1 702.6L414.1 702ZM426.1 698L434.6 698L432.1 700.3L430.1 700.4ZM489.2 698L501.8 698L501.8 704L504.1 708.2L508.1 709.4L512.1 708.3L518.1 708.3L520.1 709.8L520.1 712L517.3 720L518.4 724L518.1 726.5L516.1 727.5L513.7 718L510.1 714.6L508.1 713.9L502.1 715.5L497.1 714L496.1 712L496.3 706L494.1 703.7L490.1 702.6ZM543.3 698L562.1 698L560.1 700.2L554.1 699.4L550.1 702.6L547.9 706L547.2 714L546.4 716L542.1 720.3L540.1 721.1L538.1 721L535.3 718L534.1 713.5L532.1 710L532.1 708L540.1 705.8L542.9 702ZM569.2 698L574.8 698L574.1 700L572.1 701.4L570.1 701.1ZM592.8 698L597 698L597 700.2L594.1 699.8ZM318 710L324.1 708.2L326.1 708.9L327.5 712L326.8 714L324.1 715.2L318.1 712.3ZM372.8 710L376.1 709.5L382.1 711.1L388.1 710L394.1 712.4L400.1 710.8L402.1 711.1L406.8 714L407.5 716L405.9 720L402.1 725.5L398.1 729L395.9 732L395.4 734L396.1 735.8L399.6 738L400.6 740L397.2 752L398.1 753.8L404.1 755.5L411.5 760L413.4 762L414.8 770L411.5 778L411.1 782L412.1 786.4L414.1 787.1L424.1 782.5L428.1 783.4L430.1 785.9L432.2 792L432 798L433.3 802L432.1 810.4L430.1 812.8L428.1 813L422.3 810L420.1 802.1L414.1 792.2L402.1 793.2L394.1 792.1L388.1 793L384.1 791.9L383.1 790L382.8 784L383.9 768L383.8 766L381.7 762L382.4 758L384.8 752L384.8 750L382.1 745L381.4 734L380.1 732.9L378.1 733.4L374.1 736.7L366.1 739.4L364 742L364.1 746L365.9 748L372.2 750L372.5 756L375.2 760L374.9 768L378.3 776L377.6 780L373.2 786L369.4 790L359.5 798L358.3 800L357.5 804L358.5 810L356.1 811.4L352.1 812.2L349.8 814L349.8 816L357.3 824L356.9 826L350.1 828.8L340.1 825.4L332.1 826.3L324.1 831.2L319.9 836L320.1 840L322.1 841.2L324.1 841L326.4 840L330.1 835.5L334.1 834.1L336.1 834.7L338.3 840L344.2 846L344.1 848L340.1 856L336.1 860.5L334.1 861.8L328.1 863.5L325.1 866L323.2 868L320.4 874L318.1 876.2L310.7 872L312.1 868.5L318 862L318.3 860L315.9 856L314.3 850L311.6 848L304.1 846.6L296.1 852.6L289 856L280.3 866L280.1 870.1L282.1 871.2L288.1 870.5L289.6 872L291.7 880L290.1 882L284.1 883.6L272.1 883.1L271.4 878L269.1 874L270.1 860L272.4 856L279.8 852L282.1 849.8L285.7 842L285.9 840L285 838L282.5 836L281.5 834L281.4 828L280.1 825.7L286.1 824.1L288.1 825.2L288.9 836L293.7 838L296.1 838L298.8 836L302.1 831.5L308.1 827.5L310.1 824.6L313.4 818L314 810L313.8 808L309.8 804L308.1 793L304.1 789.9L300.1 788.6L298.1 789.4L288.1 796.7L284.5 796L280.1 791.4L278.1 790.6L272.1 790.2L264.1 791.7L262.5 790L262.1 788L264.1 780.5L266.1 778.5L268.1 778L282.1 783.5L292.1 778.7L299.1 770L299.5 762L304.1 748L312.1 743.2L320.1 739.9L326.1 736L328.1 736L331.2 738L331.3 742L328 752L332.1 758L336.1 772.6L338.1 773.5L342.1 771.6L348.7 770L350.1 770.3L351.2 774L352.7 776L356.1 777.4L360.1 776.9L362.9 774L363.4 772L360.7 764L360.8 760L352.1 757.6L350.1 756.1L349.1 750L350.1 745.2L348.1 741.4L345.7 746L344.1 747.1L341.6 746L342 744L344.5 740L345.2 734L344.7 730L342.7 728L336.1 725.3L332.8 720L333 718L334.3 716L338.1 713.2L342.1 712L345.1 712L346.8 714L346.9 718L348.1 720.9L350.1 722.5L352.1 722.5L360.1 716.2L368.1 714.2ZM326.1 791L320.1 795.3L318.1 798L317.1 802L317.8 804L322.1 806.9L326.1 808.4L330.1 812L332.1 812.8L337.8 812L343.1 810L346.1 805.9L344.1 805.2L340.1 805.5L338.1 804.3L332.9 798L331.4 794L328.1 791ZM299.2 712L302.1 711L306.8 712L308 714L305.4 720L306.1 721.4L308.1 722.5L314.1 722.2L318.1 723.2L320.1 726L319.3 728L314.1 732.6L306.1 735.8L298.2 742L294.1 742.9L286.1 742.4L284.1 743.1L276.1 750L274.1 751.2L272.1 751.1L270.1 747L266.2 744L267.3 742L274.1 738L278.1 737.3L280.1 738.1L284.1 736.4L288.4 730L290.1 723.1L292.1 721.3L296.1 720.3L296.4 716ZM593.9 712L597 711.1L597 737.3L594.1 738.3L592.7 740L592.2 748L588.1 753.7L586.1 753.3L582.2 748L580.5 742L580.7 740L588 728L591 716ZM428.1 714L430.1 712.9L432.1 712.9L435.3 716L435.1 718L432.8 722L432.5 726L431.5 728L428.1 730.9L426.1 731.3L422.1 730.6L421.4 728L422.5 724L422.5 720L423.6 718ZM579.1 714L582.1 713.8L584.1 714.7L585.3 716L585.8 720L583.6 722L578.4 724L574.1 728.4L572.1 728.2L570.8 726L570.8 724L574.1 720.7L575.9 716ZM283.8 716L286.1 714.6L287.2 716L286.7 718L285.6 718ZM165.5 718L166.1 717.6L168.1 718.9L170.1 722.7L176.1 725.2L176.9 726L176.9 728L173.4 734L170.3 744L166.1 749.6L164.1 750.6L162.1 750L160.9 748L160.1 743.4L152.5 738L151 734L156.1 732.3L162.1 735.4L164.1 735L164.8 726L164.2 720ZM481.4 724L484.1 723.6L485.3 726L484.5 734L486.9 738L487.1 740L486.1 742.9L480.1 748.2L477.4 752L476 756L475.5 760L476.1 762.2L478.1 763.4L482.1 762.4L484.1 762.6L490.1 765.5L493.2 768L494.3 770L494.4 772L490.1 776.5L484.1 780.1L480.1 780.7L476.1 782.6L473.5 782L462.1 768L462.6 766L468 760L468.6 758L467.7 756L464.1 752.5L457.6 760L454.1 762.1L448.4 764L442.1 768.9L440.1 769.2L436.1 768.4L430.8 764L430 762L430.8 758L430.3 756L425.1 748L425.8 746L430.1 740.5L432.1 739.6L434.1 740.4L442.8 754L446.1 756L448.1 755.4L458.1 748.1L460.1 748L464.1 750.1L466.1 748.5L470 742L469.9 736L470.7 734L474.1 730.1ZM537.4 728L540.1 726.9L544.1 726.6L548.1 726.7L550.1 728L551.1 734L550.1 738L542.8 744L536.1 744L534.1 743.2L533.3 742L534.4 732ZM456 732L458.1 732.3L458.7 734L458.3 736L454.1 737.9L452.4 736ZM209.9 738L212.1 738.7L213.4 744L211.2 754L214.1 758L216.1 763.6L218.1 763.9L220.2 762L221.2 760L220.9 754L223.2 750L229.7 744L234.1 742.2L236.1 742L240.1 746.6L248.2 750L249.4 752L248.1 757.8L244.1 760.6L232.1 762.9L230.3 762L229.4 760L228.1 759.7L222.1 764.2L218.1 766L216.1 764.6L212.1 765.9L208.1 765L206.7 764L206.3 762L207.4 758L204.1 754L204.2 752L206.6 748ZM561.1 744L564.1 743.3L565.9 744L565.9 746L564.7 748L562.1 749.7L559.5 748L559.4 746ZM517.6 752L522.1 750.6L526.1 750.7L528.4 752L529.3 754L528.9 756L526.4 758L524.1 758.7L520.1 758.5L517.3 756L516.7 754ZM589.5 762L590.1 760.8L592.5 762L597 762.7L597 777.6L594.1 776.3L590.1 771.1L588.3 770L588 768L589 766ZM538.8 766L540.1 764.4L542.1 764.5L555.7 772L556.8 774L556.6 776L552.2 782L551.5 786L552.5 788L554.1 789.2L559.2 790L560.2 792L558.1 794.9L546.1 799.1L538.1 799.6L533.9 798L528.3 792L527.4 790L532.4 786L533.1 784L532.8 778L534.1 772.8ZM122.1 768L122.7 768L122.1 770.2ZM575.3 770L578.1 768.8L581.4 770L583 772L580.1 775.1L578.1 775.8L576.1 775.4L574.8 774ZM235.9 772L239.3 772L240.5 774L238.1 779.9L236.1 781.6L230.1 781.9L224.1 785.1L222.1 785.2L221.3 782L222.1 780.6L228.1 778.8ZM452.5 782L454.1 781L454.6 782L454.1 783ZM145.1 788L148.1 788.5L148.9 790L146.1 793.9L144.1 793.8L143.2 792L143 790ZM122.1 790L122.1 789.3L126.1 789.7L127.2 792L126.1 798.1L124.1 801.6L122.1 803ZM579.6 790L582.1 789.1L584.7 790L586.2 792L588 798L588.3 802L593.9 806L595 810L594 812L586.1 814.5L574.1 820.7L572.1 821L570.2 814L574.1 808L572.4 802L577.7 792ZM468.5 792L470.1 791.1L472.1 791.2L476.1 792.9L477.5 794L478.3 796L477.6 798L464.9 808L459 810L453.7 810L453.4 808L456.2 804ZM487.6 792L490.1 790.9L492.1 792L492.9 796L490.5 798L488.1 798.4L486.1 797L485.7 796ZM209.9 796L214 796L214.1 798L212.1 801.8L210.1 803.6L208.1 804.2L206.3 800L206.9 798ZM565.2 800L568.1 799.2L569.6 802L562.1 808.1L560.2 814L558.5 816L556.1 816.9L550.1 817.6L549.7 816L551.9 808L553.3 806L556.1 805.1L560.1 805.9L562.1 805.6ZM503.9 802L506.9 802L509.2 804L508.8 806L506.1 808.1L503.6 808L501.6 806L501.7 804ZM287.7 804L290.7 806L290.9 808L290.1 808.8L287 808L286.1 806ZM393.7 806L396.1 804.5L398.1 804.7L399.6 806L400.6 810L399.8 818L397.6 820L388.1 823.9L383.6 824L381.7 822L382.8 818L384.1 815.8L390.9 810ZM478 806L479.4 810L478.1 810.2L476.4 808ZM230.8 810L232.1 808.6L234.1 808.9L234.9 810L234.6 818L234.1 819.4L232.1 820.5L231.2 820L230.5 818L230.1 812ZM367.6 812L368.1 811L370.1 811.6L374.1 814.8L375.8 824L372.9 830L370.1 832L363.5 828L363.1 826L370 816L370 814ZM122.1 814L126.1 816L127 818L126.8 820L125.3 822L122.1 824ZM177 820L182.1 820.5L183.9 822L184.5 824L183.8 826L180.6 830L176.1 832.1L174.1 830.2L172.7 826L174.1 822ZM198 822L200.1 820.9L202.1 820.9L206.1 822.5L208 824L208.3 826L206.5 836L205.1 838L202.1 839.2L196.1 839.7L193.6 838L190.8 832L190.7 830L193 826ZM547.2 824L548.1 823L550.1 823.2L552.5 826L552.6 828L551.5 830L548.1 832L546.1 831.5L545.1 830L545.7 826ZM581.2 828L584.1 827.3L586.1 827.7L589.8 830L582.1 834.9L580.1 835.1L578.7 834L578 832ZM433.4 834L434.1 833.6L436.1 835.7L436.9 838L436.9 840L434.7 844L438.8 850L439.1 852L426.1 855.3L424.1 855.2L420.1 853.3L417.2 850L417.8 848L422.1 845.4L431.4 844L431 842L429 840L429.1 838ZM555.5 836L558.1 835L560.4 836L561.6 838L560.5 840L556.1 841L554 840L553.6 838ZM227.8 838L230.1 837.2L233.9 846L233.7 848L226.5 856L224.5 860L222.1 860.8L216.1 856.7L211.4 856L211.6 854L213.3 852L218.1 847.8L224.1 840.8ZM529.7 838L532.1 836.9L534.1 837.1L534.5 838L533.8 840L532.1 840.9L528.3 840ZM568 840L574.1 840L578.1 839.2L579.8 840L579.9 846L577.1 852L578.1 853.3L588.1 851.1L597 853.9L597 866.7L592 868L590.3 870L590.9 872L594.1 876.6L597 877.7L597 887.2L594.1 887.9L590.6 890L586.1 895.3L584.1 896L582.5 894L581.3 890L582.2 886L580.1 884L578.1 884.7L576.9 886L576.5 888L577.6 892L574.6 900L577.3 910L578.1 910.8L580.1 911L584.1 909.6L588.3 910L589.9 912L590.3 916L592.3 920L592.1 921.4L590.1 922L586.1 921.2L582.1 917L580.1 916.6L576.1 917.5L571.8 920L570.1 922L574.1 922.6L576.6 924L577.4 926L576.1 930.1L574.1 931.4L572.1 931.4L568.5 930L566.1 927.1L562.4 932L560.1 933.6L554.1 933.1L552.1 934L547.9 940L547.1 948L546.1 950.2L544.1 952L540.1 952.1L534.1 948L532.8 946L533.6 942L531.6 936L531.9 928L531.2 926L527.3 922L526.6 918L528.1 914.9L530.1 913.3L538.1 909.6L548.1 909.3L556.1 912.8L556.4 908L555.2 902L554.1 899.8L546.1 897.4L542.1 899.1L536.1 904.8L532.1 905.3L530.1 903.7L528 900L526.1 898.7L522.1 897.6L520.5 896L522.1 890L532.1 880L534.1 878.5L538.1 877.1L544.1 878L546.1 877.6L548.4 876L548.8 874L548.1 871.9L546.1 870.5L544.1 870.2L532.1 872.6L531 872L523.9 868L521.7 866L518.6 858L520.1 857L524.1 857.7L528.1 857.3L536.1 852.9L540.1 851.6L544.1 852.4L549.6 856L556.1 858.6L560.1 859L564.1 858.1L568.9 856L570.9 854L566.9 842ZM122.1 846L125.3 848L125.5 850L122.1 852.5ZM461.9 846L464.1 845L466.1 845.3L472.1 846.8L474 848L475.2 852L477.9 856L478.1 858L477.2 860L466.1 864.5L458.1 864.6L455.9 864L455 862L455.6 854L458.1 849.4ZM173.3 848L174.1 847L176.1 846.5L177.6 848L177 850L174.1 852.8L172.1 852L172 850ZM515 848L518.1 846.9L520.1 847L520.5 848L521.1 852L518.1 856.5L512.1 858.4L508.1 857.2L506.6 856L505.8 854L506.1 852L507.9 850L510.1 848.9ZM445.4 856L449 856L451.2 858L452.1 864L451.5 866L449.4 868L442.1 871.3L424.1 872.8L422.1 873.7L420.3 876L416.7 878L410.7 880L408.2 886L405.9 888L400.1 889.7L395.9 890L392.1 889L390.9 886L388.1 884.3L382.1 883.5L380.5 882L379.9 880L380.4 878L384.1 872.8L386.1 872.6L394.1 881.8L396.1 882.8L406.1 875.7L408.1 873.7L411.9 866L418.1 862L422.1 860.9L426.1 864.1L434.1 862.4L438.1 860.9ZM181.1 868L184.1 867L186.1 867.3L186.3 870L180.1 873.3L178.1 872.6L178.3 870ZM461.4 874L462.1 873.3L462.7 874ZM203.3 878L208.1 877.1L208.9 878L207.3 884L207.9 888L210.1 890.7L215.7 894L217.2 896L217.6 898L214.9 902L208.1 904.8L200.1 910.7L196.1 911.8L194.1 910.7L193.2 908L200.1 894L200.5 892L198.5 888L199.1 882L199.9 880ZM239.8 896L242.1 895.1L249.3 898L243.4 902L242.1 904.8L241.5 912L240.1 913.9L236.1 915.8L234.1 915.6L230.1 911.2L229.1 908L230.1 905.6L237.1 900ZM378.6 898L390.1 898.6L392.4 900L392.1 902L390.1 904.7L388.1 905.8L376.1 909.5L374.1 907.9L372.8 902L373.9 900ZM493.4 898L496.1 897.3L516.1 898.1L518.3 900L516.7 906L514.3 908L510.1 907.2L504.1 907.5L496.2 906L495.4 902ZM460.4 900L462.1 899.4L466.1 900.2L467.9 902L468.5 906L470.1 907.9L473.8 910L474.6 912L473.1 920L469.1 924L464.1 926.8L454.1 925.4L450.8 924L449.6 922L450.1 918L454.5 912L458.1 902.2ZM218.4 918L222.1 918.2L227.1 922L232.1 922L233.8 928L233.8 934L236.1 936.7L246.1 935.3L250.1 936.3L252.4 940L252.1 945.5L250.1 948L246.1 949.9L244.1 950L241.5 946L236.1 942L234.1 941.2L232.1 942.9L224.4 950L221.3 954L221.2 958L219.5 964L220.9 968L220.8 972L215.8 978L213.8 982L207.4 988L205.4 992L202.1 995.4L200.1 996.6L192.1 998.2L191 996L191.2 994L196.1 989.1L199.8 974L204.8 966L210.4 960L211.1 956L210.4 950L211 948L216.1 942L218.1 937.4L218.8 934L218.3 932L212.5 928L212 926L214.1 921.2ZM477.8 920L480.1 919.7L492.1 921.3L493.3 922L493.2 924L491.1 926L482.1 931.3L478.1 932.2L476 930L475.3 926L475.8 922ZM335.6 928L338.1 926.5L340.1 926.6L343.3 930L343.8 932L342.1 934.1L336.1 934.8L334.5 934L333.1 932ZM592 928L594.1 926.5L597 926.6L597 931.9L592.1 931.7L591.5 930ZM431.4 930L436.1 929.2L440.1 930.5L441.8 932L444.9 938L448.7 942L450.1 948L449.7 950L448.1 953.2L446.1 955L442.1 955.2L440.2 954L439.2 952L439.5 950L443.1 944L443.5 942L442.9 940L440.1 937.7L438.1 937.5L430.1 939.7L426.1 938.9L418.1 942.8L414.1 942.3L411.4 940L411.2 936L414.1 933L418.1 932L426.1 932.5ZM515.2 930L518.1 929.5L520.1 930.3L521.1 932L520.1 935.1L518.1 935.9L516.1 935.5L514.5 934L514 932ZM133.1 932L134.1 931L140.1 932.9L144.1 933.2L145.5 932L148.1 931.7L150.2 932L152.5 934L150.1 935.6L148.1 936L144.1 934.1L142.1 934.3L136.1 938.8L134.1 938.9L132.6 936ZM300.2 934L304.1 933.8L308.1 934.9L310.4 936L311.1 938L303.5 946L300.9 952L300.8 956L300.1 956.7L297.6 958L294.1 958.2L290.1 954.6L288.1 954.3L282.1 955.5L278.1 954.8L277.3 954L276.7 946L278.1 943.4L280.1 942.5L282.1 943.8L283.8 948L286.1 949.6L288.1 950.2L290.1 949.7L295.7 942L296.6 936ZM323.3 940L328.1 938.7L330.1 939L332.1 942L332.3 944L327.4 954L324.1 955.7L320.1 955.5L318.1 954.3L317.9 952L320.7 942ZM561.1 944L564.1 943.5L568.1 947.1L570.1 947.4L576.1 945.6L580.1 945.4L586.1 949.1L588.1 948L592.1 942.5L597 942.2L597 957.8L592.1 956.6L587.2 958L582.7 962L580.6 968L583.4 974L584.2 978L586.1 978.9L597 978L597 987.9L592.1 988.8L584.1 988.6L578.1 987.4L577.2 986L576.1 974.9L574.1 973.1L570.1 972.8L567.4 974L566.5 976L567.9 982L567.4 986L561.1 992L561.9 994L568.1 1000.5L574.1 1001.3L582.1 1000L592.1 1003.4L594.2 1006L594.7 1008L592.1 1011L588.1 1012.9L582.1 1011.1L580.1 1010.2L578.1 1007.9L574.1 1006.9L571.6 1008L570.1 1012.6L564.1 1014.1L560.1 1016.9L554.5 1024L552.5 1028L553.7 1032L556.1 1034.3L560.1 1035.1L561.7 1034L562.8 1028L566.1 1025.7L568.1 1026.5L571.7 1032L570.9 1034L564.8 1038L563.7 1044L559.7 1050L560 1056L558.7 1060L548.1 1070L542.1 1073.3L536.1 1078.2L532.1 1079L526.1 1078.5L524.1 1077.1L522.5 1074L523.6 1070L528.1 1066.5L538.1 1063.8L540.6 1062L541.2 1060L538.1 1055.5L537.2 1052L538.8 1042L538.3 1036L536.9 1032L537.5 1026L538.4 1024L544.1 1019.6L548.1 1014.4L554.1 1011.5L556.7 1008L556.9 1002L554.1 997.8L542.1 996.7L539.5 996L537 994L538.5 992L549.3 986L550.7 978L552.1 975.5L562.1 972.6L565.9 968L566.1 966L563.9 958L562.1 956.1L552.1 955.8L549.4 954L550.9 952L557.9 948ZM382.1 950L386.1 949.8L386 952L384.1 953.4L382.1 953.5L380.7 952ZM485.4 950L488.1 949.2L489.1 950L490.5 954L492.1 955.2L496.5 952L498.1 951.3L500.1 951.7L502.8 954L503.4 956L503 958L501.7 960L498.1 962.3L492.1 962.5L488.1 963.7L486.1 962.5L485.2 960ZM460.8 952L462.1 950.1L464.1 950.8L468.1 955.4L470.9 962L470.6 966L469.4 968L464.1 971.2L462.1 969.9L458.3 960L458.8 956ZM535 960L538.1 958.1L540.1 958L544.1 958.8L545.5 960L545.6 962L541.7 968L540.9 974L538.1 976.4L536.1 976.1L529.7 972L528.2 970ZM255.5 962L256.1 960.1L256.7 962L256.1 962.8ZM331.5 964L332.1 962.2L333.3 964L332.1 965ZM271.7 968L272.1 967.3L272.9 968ZM345.1 968L348.1 967.9L352.1 969.4L358.1 969L360.1 970.6L360.1 974L358.1 976.4L356.1 977.3L352.1 977.4L348.1 978.7L344.9 970ZM445.4 968L448.1 967L450.1 967.4L452.7 970L452.9 972L448 978L446.4 982L444.1 983.8L434.1 985.9L432.1 985.7L424.1 982.4L414.9 980L415.2 976L416.1 973.8L418.1 971.8L420.1 972L424.1 974.6L426.1 975L430.1 974.4L440.1 975.8L442.5 974L443.7 970ZM263.9 970L265 970L264.1 970.6ZM505.5 970L512.1 968.3L516.2 970L516.1 972L512.1 974.5L510.1 974.6L508.1 973.5L502.1 976.5L500.1 976.2L500.1 974L501.7 972ZM284.3 972L288.1 971L290.1 971.7L290.1 974.8L288.5 978L284.1 982.9L282.1 984.2L280.1 984.1L279.1 982L280.7 976ZM399.9 972L402.3 972L404.2 976L404.1 978.4L399.7 978L398.3 976ZM260.3 976L262.1 975.8L262.6 978L262.1 980L260.1 982L254.1 984.1L252.1 983.7L249.9 982L249.4 980L250.1 977.8L256.1 977.4ZM122.1 978L122.1 977.5L124.7 978L125.8 980L124.1 983.5L122.1 984.6ZM359.3 984L366.1 983L372.1 984.3L374.8 988L375.2 992L373.3 994L366.1 996.6L360.9 1000L360.7 1002L362.3 1004L363.1 1010L359.8 1022L356.1 1027L354.1 1028.2L350.1 1028.7L343.1 1026L343.4 1024L348.1 1016.6L353.3 1014L354.3 1012L354.2 1010L352.7 1008L352.6 1006L357 1002L356.8 1000L354.1 993.8L352.1 991.4L349.7 990L349.6 988L352.4 986ZM225.5 986L228.1 985.6L231.8 992L230.9 994L228.1 996.1L224.1 998.2L222.4 998L222.2 994L224 988ZM173.7 990L175 990L175.8 992L170.8 998L170.4 1002L168.7 1006L168.1 1009.6L167.9 1008L165.3 1004L165.7 1002L169.4 998L171.2 992ZM139.3 1002L142.1 1000.4L144.1 1000.5L147.3 1004L148.2 1008L146.1 1012.7L142.1 1013.4L140.1 1013L138.1 1011.4L137 1006ZM219.9 1002L220.8 1002L221.1 1004L215.2 1012L214.7 1014L215 1016L218 1020L218 1022L214.1 1024.8L205.3 1028L205.2 1036L206.6 1040L205.6 1042L204.1 1042.8L200.7 1042L199.4 1040L199.4 1036L198.5 1034L194.2 1030L194.2 1028L196.7 1024L195.3 1020L196.1 1016.2L204.1 1007.5L210.1 1006.5ZM309.8 1004L312.1 1002.4L313.8 1004L313.3 1008L310.1 1012.1L308.1 1013.1L306.1 1012.6L305.2 1010ZM254.4 1012L258.2 1012L259.8 1014L259.7 1016L258.1 1019.3L254.1 1023.9L252.1 1024.6L250.1 1024.1L251.6 1014ZM317.9 1020L319.5 1022L318.2 1024L316.1 1024.7L314.4 1024L314.6 1022ZM161.1 1028L164.1 1027.4L165.7 1028L166.5 1030L165.7 1034L170.3 1038L168.9 1040L164.1 1043.6L162.3 1042L158.9 1032L159.3 1030ZM285.2 1030L288.1 1029.5L290.3 1032L288.4 1036L286.1 1037.4L284.1 1037.3L282.5 1036L283.2 1032ZM473.3 1030L476.1 1028.9L477.3 1030L479.7 1036L478.8 1040L476.1 1042L472.1 1040.4L470.3 1038L470.4 1034ZM513.5 1034L518.1 1033.1L520.1 1034L520.9 1036L517.8 1044L510.5 1054L510.4 1062L508.1 1064.3L506.3 1062L505.3 1058L501.5 1054L501.5 1052L510.1 1036.2ZM270.5 1040L272.7 1040L274.1 1041.8L273 1044L268.1 1046.3L265.7 1046L266.5 1042ZM595.5 1040L597 1039.4L597 1042.8L594.8 1042ZM437.7 1044L438.1 1042.7L439.7 1044L438.1 1046.6ZM341.2 1058L344.1 1056.9L346.1 1057.7L347.5 1060L346.5 1062L342.1 1063.2L340.5 1062L340.3 1060ZM149.8 1060L151.4 1060L150.1 1060.5ZM175.4 1060L180.1 1059.2L185.9 1060L188.1 1062.2L190.1 1062.8L196.1 1062.1L197.1 1064L192.4 1076L192.3 1078L194.8 1080L195.7 1082L194.8 1088L184.1 1094.9L182.7 1098L180 1110L178.1 1113.6L164.1 1118.6L158.1 1118.8L156.4 1118L153.2 1114L152.8 1106L150.1 1101.2L148.1 1101L144.1 1104.1L136.1 1103.5L134.1 1103.9L132.1 1105.6L127.8 1114L126.2 1122L124.1 1124.6L122.1 1125.7L122.1 1095.8L128.1 1094.4L130.1 1093.3L138.1 1083.5L144.1 1080.4L152.1 1079.5L160.1 1073.7L166.1 1070.6L169.1 1068L172.9 1062ZM186.1 1081.7L184.6 1084L184.4 1086L186.1 1087.5L188.6 1086L189.9 1082L188.1 1080.4ZM168.1 1081.4L163.9 1084L162.9 1086L164.1 1088.2L168.1 1088L170.9 1086L171.9 1084L171.5 1082ZM135.6 1066L138.1 1067.2L138.8 1070L138.1 1073.2L136.1 1075.6L134.1 1075.1L130.7 1070L132.1 1067.3ZM319.6 1068L320.1 1067.1L321.3 1068L320.1 1070.2ZM352 1068L354.1 1066.3L356.1 1067.1L356.4 1068L356 1070L354.2 1072L352.1 1072.6L350.7 1072L350.8 1070ZM484.6 1074L488.1 1073.7L491.3 1076L492.2 1078L489.1 1084L482.1 1092.9L480.1 1092L478.1 1089.1L470.5 1086L470.2 1084L471.5 1080L473.4 1078L478.1 1077.2ZM233.1 1080L235.1 1080L236.5 1082L236 1084L232.1 1085.9L230.8 1084L231.2 1082ZM590.2 1080L592.1 1078.4L597 1080.2L597 1100.8L588.1 1102.8L584.1 1102.9L581.4 1100L581.6 1098L588.4 1092L590.8 1088L591.6 1086ZM500 1086L502.1 1085L504.1 1085.2L508.1 1086.9L512.1 1087.1L515.3 1090L516.1 1092L515.2 1096L516.5 1098L524.1 1099L532.1 1101.9L536.1 1101.2L537.9 1100L539.5 1094L541 1092L544.1 1091.1L546.1 1091.5L549.2 1094L551.3 1104L553.1 1106L558.1 1107.1L564.1 1105.3L566 1106L566 1108L558.5 1114L552.7 1124L550.1 1125.5L548.1 1125.2L544.1 1123.3L543.1 1122L542.8 1114L541.5 1112L538.1 1110.9L530.1 1112.2L526.1 1111.6L516.1 1104.1L512.1 1103.2L511 1102L509.8 1094L508.1 1091.4L504.1 1091.7L496.1 1096.3L492.1 1097L490.1 1096.2L490.3 1092L492.1 1090.1ZM223.6 1094L226.1 1092.4L228.1 1094L228.1 1098L226.1 1098.9L224.1 1098L222.8 1096ZM446 1098L448.1 1097.2L449.4 1098L449.9 1100L448.1 1101.9L445.5 1100ZM459.8 1102L462.1 1102.4L463 1104L465.3 1112L464.8 1114L462.1 1115.5L460.1 1115.4L457.8 1114L455.6 1110L457.9 1104ZM313.1 1120L316.1 1119.5L318.6 1122L317 1126L314.1 1130L314.9 1132L320.1 1132.1L328.1 1129.1L334 1132L335 1134L333.8 1136L326.1 1140.5L320.1 1140.8L318 1142L311.3 1154L311.1 1160L307.8 1164L304.1 1165.4L296.1 1162.4L294.1 1162.7L283.2 1170L282 1172L281.9 1175.8L268.6 1175.8L270.9 1172L268.3 1166L268.9 1164L270.9 1162L278.1 1158.9L285.1 1154L288.6 1150L291 1142L294.1 1138.6L296.1 1138.4L300.1 1139.8L302.1 1139.2L304.1 1132L310.4 1122ZM485.8 1122L488.1 1120.2L490.1 1120.6L491.6 1122L491.8 1124L490.1 1125.6L487.3 1126L485 1124ZM511.9 1126L514.1 1127.7L515.2 1130L516.1 1137.1L520.1 1136.5L522.1 1137.5L522.8 1140L522.1 1142.2L518.4 1146L516.1 1152.5L512.1 1157L508.1 1159.9L506.1 1159.1L505.6 1158L512.7 1146L512.6 1144L502.1 1143.5L496.1 1147.1L492.1 1148L483.8 1142L484.3 1140L486.1 1139.1L502.1 1135.1L510.1 1126.9ZM578.9 1130L584.1 1129.7L586.1 1130.4L587.6 1132L586.1 1139.7L582.1 1142.8L580.1 1143L578.1 1142L575.2 1140L574.2 1138L575.1 1134ZM366.7 1132L368.1 1131.2L370.3 1132L369.3 1134L368.1 1134.5L365.8 1134ZM375.3 1132L378.1 1130.5L380.1 1131.3L384.1 1134.8L387.9 1140L388.8 1144L388.3 1148L386.2 1152L384.1 1153.5L382 1154L379.6 1152L378 1146L378.1 1138L374.5 1134ZM271.7 1134L274.1 1134.5L275.8 1138L274.4 1142L272.1 1144.1L270.1 1143.9L268.6 1140L269.6 1136ZM467.3 1136L468.1 1135.1L470.2 1136L468 1144L468.1 1148.8L460.1 1155.7L458.1 1156.3L456.1 1154.1L453.6 1148L452.8 1144L454.1 1141.9L460.1 1141.7ZM127.1 1148L132 1148L133.3 1150L131.1 1154L126.1 1159.3L122.1 1160.3L122.1 1149.3ZM141.3 1150L144.1 1150.2L146.1 1153.6L150.1 1152.1L152.1 1152.7L158.1 1158.2L162.4 1160L163.6 1162L162.5 1164L156.1 1163.2L154.1 1163.8L144.1 1169.3L143.1 1168L145.7 1162L145.2 1156L144.1 1154.8L142.1 1156.7L140.1 1157.3L138.7 1154L138.9 1152ZM417.1 1150L420.1 1148.5L425.2 1150L428.5 1160L428.1 1162.7L426.1 1165.8L420.1 1169L418.4 1168L418 1166L420.6 1158L418.1 1156.3L415.7 1156L414 1154ZM554.9 1150L558.1 1148.7L560.1 1148.7L561.1 1150L559.4 1156L559.8 1160L558.2 1162L545 1160L545.2 1158L548.1 1156.3ZM581.4 1150L586.1 1149.5L587.1 1150L587.5 1152L586.1 1153.8L584.1 1154.6L580.1 1154.3L579.7 1152ZM479.3 1156L482.1 1155L484.1 1155.2L486 1158L485.2 1160L480.1 1163.5L478.1 1163.3L477.3 1162L477.6 1158ZM439.6 1158L440.1 1157.1L441.1 1158L442.6 1164L442.3 1166L440.1 1167.4L437.4 1166L438.1 1160.5ZM122.1 1166L124.1 1167.8L124.5 1172L126.2 1175.8L122.1 1175.8ZM164.3 1166L166.1 1164.9L168.1 1166L169.2 1168L169.8 1170L169.2 1175.8L161.3 1175.8L162.1 1171.2ZM248.7 1170L252.1 1169L253.1 1170L254 1175.8L246.3 1175.8L247.2 1172ZM566.7 1170L568.1 1168.5L570.1 1170L569.8 1175.8L565.5 1175.8ZM455.6 1172L458.1 1172.2L460.7 1175.8L451.2 1175.8L454.1 1172.7ZM537.5 1174L540.1 1172.9L544.1 1172.7L546.8 1174L548.1 1175.8L535.2 1175.8ZM507.6 1175.8L508.1 1174.9L510.1 1174.2L510.5 1175.8ZM526.8 1175.8L528.1 1174.7L530.1 1174.7L532.1 1175.8Z"/>
<path fill="#fff" fill-opacity="0.11" fill-rule="evenodd" d="M132.5 698L141.2 698L138.1 702.2L136.1 703L134.1 702ZM147 698L160.1 698L158.1 700.2L154.1 701L149.5 700ZM336 698L343.2 698L340.1 700.3L338.1 700ZM388.4 698L404.3 698L402.1 702.4L400.1 703.5L396.1 704.1L392.1 703.6L390.1 702.5ZM493.5 698L499.8 698L498.1 701.4L494.4 700ZM546.9 698L549.2 698L548.1 699ZM538.5 710L542.1 708.6L544.1 709.1L544.6 710L544.8 714L542.1 717.4L540.1 717.9L537.3 716L536.9 712ZM301.4 714L304.1 713.8L304.2 716L302.1 717.1L300.4 716ZM373.7 714L376.1 713.8L382.1 715.2L386.1 718.5L389.6 718L399.3 714L400.4 714L403 716L402.2 720L395 728L391.3 734L391.2 736L392.1 739.1L396.2 742L394.1 754.2L396.1 756.2L403.9 758L410 762L411.2 764L411.2 768L406.9 772L405.9 774L405.9 776L407.8 780L408.3 786L408.1 788L406.1 790.4L404.1 791.2L400.1 791L394.1 788.9L388.1 788.2L386.2 786L385 772L386.5 766L384.4 760L385.4 756L388.2 750L389.3 742L388.1 740.6L386.1 739.9L385.2 738L385.6 734L382.1 728.1L380.1 728L373.7 734L366.1 737.1L363 740L361.5 744L362.1 752L360.8 754L356.1 755.2L353.4 754L352.7 752L353.7 746L353.5 742L352.1 738.3L349 734L348.5 730L349.4 728L360.1 720.4L362.1 720.5L364.1 722.3L366.1 722.6L368.1 721.8L369.9 720L371.6 716ZM337.2 716L342.1 714.3L344.1 715.6L345.1 722L344.6 724L342.1 724.8L338.1 723.8L335.8 720L335.8 718ZM578.5 718L580.1 716.7L582.2 718L580.1 720.1ZM594.4 720L597 718.5L597 735.7L594.1 736.4L591.7 738L588.1 744.9L586.1 745.6L583.7 742L583.8 738L592.1 722.9ZM296.2 726L300.1 724.8L302.1 724.9L308.1 727.2L314.1 727.1L314.9 728L313 730L308.1 731.3L306.1 732.6L297.1 740L292.1 740.7L288.7 738L288.5 736L292.1 728.3ZM169.9 728L172.7 728L172.1 728.8L170.1 728.8ZM481.7 728L482.6 730L481.8 732L478.1 734.1L476.1 734.1L478.7 730ZM541.7 730L544.1 730.4L546.8 732L547.6 734L547.3 736L544.1 738.8L540.1 739.9L538.1 739.6L537.3 736L538 732ZM325.9 742L326.1 741.3L326.1 743.2ZM163.9 744L166.1 742.3L167 744L166.1 746.2L164.1 746.9ZM472.8 744L474.1 743.3L476.4 746L474.1 751.9L472.1 753.1L470.7 752L470.5 750L471.4 746ZM231.5 746L234.1 745.7L238.1 749.3L246.1 751.5L247.5 754L246.1 757.6L242.1 759.5L236.1 760L232.1 757.3L225.6 756L224.7 754L225.5 752L228.8 748ZM322.7 746L324.1 745.2L325.9 746L324.8 752L325.5 754L330.1 758L331.7 766L331.6 770L329.4 780L326.3 786L324.1 788.3L318.4 792L316.1 795L314.1 795.9L313.2 794L314.1 790L300.1 784.3L298.1 784.5L290.1 792.5L288.1 793.3L286.1 792.5L284.4 790L284.7 788L286.7 786L298 780L302.4 774L304.1 773L308.1 772.3L316.1 774.5L318.1 772.4L318.7 768L318.1 765.8L316.1 764.8L308.1 766.7L304.1 766.9L301.5 764L301.3 760L303 754L306.1 749.6L310.1 748.1L316.1 748ZM429.7 746L432.1 745.2L434.1 748.9L434.1 750.9L432.1 751L429.9 748ZM456 752L458.1 751.7L458.5 754L456.1 757.9L454.1 758.7L450.8 758L451.7 756ZM435.7 754L436.1 753.4L438.1 753.5L442.1 757.5L446.6 760L444.7 764L442.1 766.2L438.1 766.8L436 766L434 764L433.6 760ZM521.9 754L524.1 753.1L526.2 754L524.1 756.1ZM366.3 762L370.1 760L372.1 761.1L372.2 764L369.3 768L368.8 770L374.6 774L375.3 776L374.9 778L366.8 790L362.1 793.7L358.1 795.1L356.4 794L355.4 792L352.4 782L360.1 779.4L365.1 776L367.8 770L364.8 766L364.9 764ZM467.9 764L470.1 762.8L472.1 764L474.1 768.6L476.1 769.5L482.1 766.3L486.1 766.6L490.1 768.5L491.4 770L491.4 772L489.8 774L486.1 775.7L482.1 775.2L478.1 773.6L474.1 774.3L468.1 770.7L465.7 768L466 766ZM539.9 770L542.1 769L546.1 769.6L551 772L553 774L552.6 776L547.3 782L547.3 784L550.6 792L549.8 794L546.1 796.2L540.1 795.6L537.6 792L537.7 790L540.4 786L536.1 780L535.4 776L537.4 772ZM234.5 776L236.1 774.4L237.8 776L236.1 778.2ZM341.9 778L348.1 777.2L351.6 780L351.4 782L348.1 783.3L344.1 786.5L340.4 788L338.1 790.5L336.1 791.4L334 790L333.2 788L333.6 786L336.1 782.7ZM268 782L274.1 782.6L276.4 784L276.6 786L272.1 787.7L266.1 786.5L265.7 784ZM421.4 786L424.1 784.8L426.1 784.8L427.8 786L428.8 788L429.5 792L428.6 798L429.8 804L428.1 806.5L426 806L424.7 800L423 798L420.1 796.5L418.4 794L418.3 790L419 788ZM122.1 792L122.1 791.2L124.1 791.6L125.2 794L124.2 798L122.1 800.4ZM340.3 794L342.1 792.8L344.1 793.1L344.9 796L343.7 800L342.1 802L340.1 802.3L338.4 800L338.3 798ZM467.7 796L470.1 794.8L473.6 796L472.1 798.3L468.1 799.2L466.8 798ZM579.5 796L580.1 794.9L582.1 795.5L583.9 798L584.4 800L582.1 806.9L580.1 807.6L578.1 806.9L575.8 804L576.1 801.1ZM317.3 810L318.1 809.1L324.1 810.2L330.1 814.8L332.1 815.2L338.1 814.6L342.1 815.1L350.8 822L351 824L350.1 825.1L348.1 825.5L346.1 824.9L342.1 821.6L332.1 823.3L326.1 825.5L322.1 828.4L316.6 836L316.6 840L318.1 843.5L320.1 845.4L326.1 843.9L332.1 840.7L334.1 840.7L338.1 843L341.1 846L341.5 848L340.7 850L337.3 856L334.1 858.8L328.1 859L324.1 860.1L321.3 856L318.1 853.2L317.9 848L316.1 846.3L310.1 845.4L304.7 842L308.1 838.4L310.7 834L311.1 828L315.8 820ZM393.9 810L396.1 808.9L398.1 811.9L398.3 816L397.3 818L394.5 820L388.9 822L385.8 822L384.9 820L385.4 818ZM576.9 812L580.1 810L582 812L580.7 814L578.1 815L575.8 814ZM122.1 818L122.1 816.7L123.4 818L122.1 820.6ZM368.8 822L370.1 820.8L372.2 822L371.9 826L370.1 828.4L368.1 827.5L367.4 826ZM196 826L202.1 824.1L205.3 826L204.1 832.6L202.1 835.3L198.1 835.5L193.7 832L193.1 830L193.9 828ZM287.9 842L290.1 840.3L300.1 841L303.6 842L296.9 850L285.2 856L278.7 864L277 868L276.1 873.9L274.1 874.5L272.1 873.4L271.4 872L272.1 860L274.1 857.2L282.1 853ZM224.6 844L228.1 842.8L229.4 846L229.3 848L228.3 850L226.1 851.8L222.1 852.8L220.1 852L220 850L222.1 846.3ZM422.9 848L430.1 847.7L431.8 850L428.8 852L424.6 852L421.7 850ZM459.2 854L460.1 852.8L462.1 852.1L468.1 853.1L470.2 854L471.4 858L469.6 860L466.1 861.4L460.1 860.7L458.8 860L458 858ZM586.6 854L590.1 853.8L597 856.6L597 864.2L589.2 866L587.1 868L588 872L592.1 879.6L594.1 880.9L597 881.1L597 884.2L588.1 884.6L580.1 882L575.5 884L574.3 886L574.4 894L571.6 900L571.5 902L573.3 906L574.5 914L572.8 916L566.1 920.1L564.6 922L562.7 928L560.1 930.9L558.1 931.2L554.1 929.5L552.1 929.9L546.7 938L544.9 942L544.1 946.7L542.7 948L541.5 948L539.4 946L533.9 936L534.1 926L532.1 920.9L530.1 919.4L529.6 918L530.1 917L538.1 912.7L546.1 911.7L549.2 914L550.1 921.2L552.1 921.7L560.1 915.2L562.8 910L563.5 906L560.1 902.8L558.1 896.5L556.5 896L546.1 895.4L536.1 901L534.1 901.3L525 894L524.8 892L526.9 888L534.1 881.3L538.1 879.6L544.1 880.1L552.1 878.1L553.4 876L553.4 874L552.6 872L548.1 868.4L536.1 868.3L532.1 866L528.1 865.9L526.1 864.8L525.6 862L527.5 860L536.1 855.7L540.1 854.7L544.1 855.5L550.1 859L556.1 861L572.2 860L574.1 860.7L580.1 865.9L582.1 866.5L583.9 866L583.7 864L581.1 860L581 858L582.3 856ZM442.8 860L446.1 858.6L448.6 860L449.3 864L448.4 866L446.2 868L442.1 869.4L431.6 868L433.3 866ZM282.9 874L286.1 873.3L287.7 876L286.4 880L284.1 881L280.4 880L278.6 878L279.3 876ZM202.7 894L204.1 892.3L206.1 892.1L211.4 898L205.6 904L198.1 907L197.1 906L197.5 904ZM499.7 902L502.1 900.5L504.1 900.6L507.3 902L506.3 904L504.1 904.7L500.4 904ZM460.4 904L462.1 903.1L464.1 903.1L465.1 904L465.5 906L464.1 912.4L467.7 920L466.1 922.8L462.1 924.6L456.1 923.8L453.2 922L452.2 920L452.9 918L458.3 912L459.1 910L459.2 906ZM234.8 906L236.1 905.3L238.5 906L239.2 910L238.1 912.1L236.1 912.4L233.8 910L233.4 908ZM217.6 922L220.1 921.4L224.1 924.6L230.1 926.7L232.2 930L230.5 940L229.5 942L226.1 945.4L220.1 948.8L216.3 948L221.6 934L220.1 929.1L215.9 926L216 924ZM480 926L482.1 924.8L482.9 926L482.1 927.3L480.1 927.5ZM430.4 934L434.1 932.2L436.2 934L435 936L432.1 937.2L429.6 936ZM414.8 936L418.1 934.6L420.1 934.8L421.7 936L420.1 939L416.1 940.3L413.7 938ZM244.3 938L248.1 937.8L250.1 940L250.1 944L248.1 946.2L245.7 946L241.5 940ZM300.2 938L302.1 936.6L304.1 936.5L307 938L306.1 940L301.5 944L298.1 950L296.1 951L294.1 950L294.6 948L299.6 942ZM324.6 942L326.1 941.4L329 942L330.2 944L330 946L326.1 951.3L322.1 952.7L320.9 952L320.8 948L322.4 944ZM444 948L446.1 947.4L447.2 950L446.1 952.3L444.1 953.2L441.7 952L442 950ZM571.7 950L574.1 948.7L578.1 948.2L580.6 950L581 952L580.4 954L574.1 958.4L570.1 959.3L568.8 958L568.2 956L568.6 954ZM461.7 956L464.1 955.3L468.2 960L468.8 964L466.1 967.3L464.1 967L461.4 962L460.8 958ZM497.2 956L498.1 955.4L500.1 955.8L500.1 958L498.1 959.7L496.1 959.8L495.5 958ZM535.5 962L538.1 961L540.3 962L540.5 964L538.1 969.9L536.1 971.7L532.9 970L532.1 968L533.7 964ZM211.8 966L214.1 965L216.1 966.3L218.7 970L218.5 972L210.1 982.5L204.1 983.4L203.3 982L203.7 980L207.9 970ZM555.4 978L560.1 976.2L562.1 976.5L564.1 978.6L565.5 982L564.6 986L560.1 988.7L556.1 988.2L553.7 984L554.2 980ZM430.5 980L434.1 979.3L435.9 980L437 982L434.1 983.2L432.1 982.9L430.7 982ZM589.2 982L592.1 980.7L597 981.1L597 984.1L590.1 984.3L589.4 984ZM359.1 986L364.1 985L369.9 986L372.1 987.6L372.9 990L372.1 992L370.1 993.1L360.1 996.2L358.1 995.1L355.5 990L355.7 988ZM141.5 1004L142.6 1004L144.9 1006L145.2 1008L144.1 1009.6L142.1 1009.9L140.3 1008L139.8 1006ZM587.9 1006L590.1 1006.1L591.1 1008L590.1 1009.6L588.1 1010.4L587 1010L585.9 1008ZM207.4 1010L212.1 1009.5L212.6 1010L212.3 1014L213.8 1020L212.1 1022.5L210.1 1023L204.1 1022.3L202.1 1021.9L199.7 1020L199.2 1018L200.3 1016ZM549.9 1016L554.1 1014.8L555.8 1016L554.1 1019.6L549.9 1024L548.7 1028L549 1030L554.1 1036.2L560.1 1039.5L561.3 1042L557.6 1050L557.8 1058L556.1 1060.5L546.1 1069.2L540.1 1071.5L534.1 1076.2L528.1 1076.2L526.7 1074L528.1 1071.5L534.2 1068L540.1 1065.9L543.4 1062L543 1058L539.5 1054L539 1052L541.2 1042L539.3 1028L541.4 1024L547.9 1020ZM353 1018L356.1 1016.6L357.9 1018L357.6 1022L354.1 1026L350.1 1026.1L347.7 1024L347.8 1022L350.1 1019.4ZM473.3 1034L474.1 1032.9L476.1 1032.9L477.5 1036L476.1 1038.8L473.5 1038L472.6 1036ZM512.1 1040L516.1 1038.6L516.1 1040.8L514.1 1045.5L510.1 1050.2L508.1 1051.4L506.1 1050.6L506.1 1048L508 1044ZM177.9 1062L182.1 1061.9L186.1 1065.5L190.9 1066L192.5 1068L190.1 1073.8L180.7 1084L179.3 1090L177.3 1094L179.7 1100L179.8 1102L178.1 1108.8L176.4 1112L174.1 1113.3L162.1 1116.8L159.2 1116L156.6 1112L157 1106L158.1 1102.8L167.6 1096L173.9 1086L175.5 1080L174.1 1077.9L166.1 1079.4L161.5 1082L158.7 1086L156.1 1092.7L152.1 1092.3L148.1 1093.5L142.1 1100L140.1 1100.4L136.1 1099.4L132.1 1100.1L130.1 1102.3L127.6 1110L124.1 1113.6L122.1 1113.9L122.1 1099.1L130.1 1097.5L136.1 1091.2L144.5 1084L158.1 1078.8L169.7 1070ZM485.3 1076L488.1 1076L489.8 1078L489.5 1080L486.1 1084.8L482.1 1086.6L477.1 1084L477 1082L478.9 1080ZM587.3 1096L592.1 1094.3L594.8 1096L593.3 1098L589.6 1100L586.1 1100.8L584.2 1100L584.6 1098ZM543.9 1100L544.1 1099.3L544.6 1100L544.1 1102.9ZM541.8 1104L542.8 1104L542.1 1104.9ZM526.2 1106L528.1 1104.7L530.1 1104.9L533.2 1106L534.1 1108L530.1 1109.8L528.1 1109.5L526.4 1108ZM459.1 1108L460.1 1106.2L462 1108L462.1 1110.7L460.1 1111.5L459.1 1110ZM549.3 1110L552.1 1110.1L555.1 1112L554.2 1116L552.1 1119.7L550.1 1121.4L548.1 1121.6L546.1 1120.8L544.9 1118L546.8 1112ZM122.1 1116L122.1 1115.3L124.1 1117L125 1120L124.5 1122L122.1 1124.1ZM312 1124L314.1 1122.3L314.6 1124L314.1 1124.8L312.1 1125.5ZM508.8 1132L510.1 1131.1L512.1 1131.5L512.7 1134L511.4 1138L510.1 1139.7L508.1 1140.5L506.1 1139.8L504.9 1138L505.1 1136ZM306.8 1134L308.1 1132.2L310.1 1132.6L311.1 1136L310.1 1137.8L308.1 1138.6ZM323 1134L328.1 1132.3L330.9 1134L329.9 1136L326.1 1138L318.1 1136ZM579.7 1136L580.7 1136L581.5 1138L580.1 1138.6L579.3 1138ZM314.8 1138L316.1 1137.4L317.6 1138ZM382 1140L384.1 1139.7L386.3 1144L386.1 1148L384.1 1150.8L382.1 1150.7L380.5 1146L380.4 1144ZM494 1140L496.7 1140L496.9 1142L494.1 1144.1L492.4 1142ZM306.9 1142L308.1 1140.5L312.1 1141.2L312.9 1144L311.1 1150L307.1 1156L308.4 1160L306.5 1162L304.1 1162.1L301.8 1160L303.3 1154L302.1 1150.3L300.1 1148.7L299.7 1150L295.5 1154L290.8 1162L288.3 1164L278.1 1169.7L274.1 1169.4L272.2 1168L271.5 1166L272.6 1164L286.1 1155.8L292.5 1150L295.9 1144L298.1 1144.5L300.1 1147.5L302.1 1147.6ZM122.1 1152L122.1 1151.3L124.1 1151.2L126.8 1152L126.5 1154L124.8 1156L122.1 1157ZM423 1160L424.1 1158.7L426.1 1159.5L426.3 1162L424.1 1164.7L422.1 1165.1L421.3 1164ZM165.6 1170L166.1 1169.5L166.9 1170L167.6 1172L167.2 1175.8L163.5 1175.8L164.1 1172ZM456.1 1174L458.5 1175.8L453.6 1175.8ZM272.5 1175.8L276.1 1174.2L278.1 1174.8L278.4 1175.8Z"/>
<path fill="#fff" fill-opacity="0.12" fill-rule="evenodd" d="M391.2 698L401.1 698L399.8 700L396.1 701.4L392.1 700.2ZM370.1 726L372.7 726L374 728L373.2 730L371.1 732L366.1 733.3L360.1 737.5L358.1 737.2L354.8 734L354 732L354.3 730L356.5 728L360.1 727.3L364.1 728.4ZM591.8 728L594.1 726.4L597 726.4L597 732.1L590.1 734.9L589.3 734L589.5 732ZM308.6 752L314.1 752.5L320.1 754.7L325 758L326.7 760L327.9 768L326.1 771L324.1 771.4L323 770L322.1 764L318.1 760.9L314.1 760.8L308.1 762.8L306.1 762.9L304.5 762L303.8 760L304.4 756L306.1 753.3ZM239.5 756L242.1 754.1L243 756L242.1 756.5ZM396.7 760L398.1 759.5L401.4 760L406.1 764L406.4 766L402.1 770L401 772L401.4 778L404.3 786L402.1 788.1L398.1 784.5L392.1 784.1L390.1 782.8L388 778L387.5 774L388.1 771L392.2 764ZM307.3 780L308.1 778.3L310.1 779.1L310.9 780L310.8 782L308.5 782ZM362.8 782L366.4 782L366.8 784L366.3 786L364.1 788.9L362.1 790.3L360.1 790.6L358.1 788.2L358 786L359.2 784ZM423.2 790L424.1 789.3L425.5 790L425.7 792L424.1 793.4L422.1 792ZM289.2 846L290.1 844.9L292.1 844.5L296 846L294.7 848L290.1 850L288.2 848ZM331.9 846L334.1 845.1L336.1 845.4L337.8 848L336.1 851.6L334.1 853.1L332.1 852.7L330.9 850L330.8 848ZM537 860L540.1 858.1L542.1 858.1L544.7 860L545 862L542.9 864L540.1 864.8L538 864L536.7 862ZM557 866L561.6 866L560.1 867.2ZM567.5 866L572.1 866.3L578.1 869.9L584.1 871.8L587.2 876L587.8 878L586.1 880L576.1 880L572.1 882.1L570.4 884L570 886L571.6 890L571.7 894L570.1 897.1L568.1 898.8L566.1 898.7L563.3 896L563 892L563.7 888L562.1 886.1L560.1 886.3L559.6 888L557.5 890L554.1 892L546.1 892.3L538.1 896.3L536.1 896.4L532.1 895.1L528.7 892L528.9 890L531.8 886L538.1 882.6L556.1 882.8L559 884L560.1 885.7L560.8 884L559.8 878L563.6 872L562.5 868ZM539.8 916L544.1 915.3L545.2 916L546.3 918L546.3 924L547.7 928L546.1 933.5L544.1 936.4L542.1 937.8L540.1 937.6L538.1 936.1L536.8 932L537.7 926L537.2 920L537.6 918ZM222.5 940L224.1 938L225.9 940L224.1 942.1ZM558 982L560.1 980.9L561.2 982L560.9 984L558.7 984ZM545.7 1036L546.1 1035.5L548.1 1036.5L549 1038L549.7 1042L552.9 1046L554.1 1050.3L554.2 1058L550.1 1061.1L548.1 1060.8L545.7 1056L542.5 1052L542.7 1050L545.3 1044L545.7 1042L544.9 1038ZM168 1100L172.1 1098.6L174.1 1099.3L176 1102L175.7 1106L174.1 1108.8L172.1 1110.3L164.1 1111L162.5 1108L162.8 1106ZM122.1 1104L124.1 1104.5L124.9 1106L124.4 1108L122.1 1109.2Z"/>
</g>
<path d="M559.9 1175.8L556.1 1173.9L552.1 1172.9L550.1 1173L548.1 1173.9L546.5 1175.8M597 1156.1L588.7 1150L584.1 1144.8L582.3 1142L580.9 1138L578.7 1126L576.4 1120L573.4 1116L566.8 1110L565.6 1108L563.3 1102L555.8 1092L553.5 1084L552.1 1080.7L546.8 1074L545.9 1070L546.1 1064L545.4 1058L545.3 1050L543.2 1040L541.8 1028L540.1 1023.3L538.1 1021.2L536.1 1020.1L528.1 1017.8L522.1 1015L518.1 1013.8L514.1 1013.8L504.1 1015L496.1 1014.9L491.1 1016L488.1 1017.6L485.8 1020L484.7 1022L483.3 1028L483.9 1040L482.8 1044L481.5 1046L478.1 1048.4L474.1 1049.9L466.1 1049.8L464.1 1050.1L462.1 1051L456.1 1056.5L452.1 1061.5L450.1 1065.2L447.2 1074L444.7 1080L442.7 1096L441.1 1102L437.8 1110L437.4 1116L436.3 1120L434.1 1123L428.9 1128L427.7 1130L425.8 1136L424.1 1138.7L422.1 1140.3L418.1 1142.2L416.1 1144L411 1154L409.2 1156L404.1 1160.9L397.4 1164L394.9 1166L390.1 1175.8M430.1 969.3L427.4 972L427 974L427.7 976L429.3 978L432.1 979.9L434.1 980.6L436.1 980.8L439.2 980L440.6 978L440.7 976L440 974L438.4 972L434.1 969.2L432.1 968.8L430.1 969.3M597 1108L592.3 1102L587.9 1092L581.6 1084L578.1 1078L570.1 1066.9L566.1 1062.7L564.2 1060L558.1 1047L554.7 1036L548.1 1018.1L538.1 1004.1L534.1 999.6L530.1 997.2L518.1 995.3L512.1 995.2L504.1 996.8L500.1 997L496.1 996.5L480.1 992.5L468.1 995.4L454.1 994.7L451.4 994L448.1 990.9L446.1 989.7L444.1 989.3L442.1 989.7L439.4 992L431.6 1004L428.1 1014.8L426 1024L425.5 1030L426.8 1038L424.9 1052L424.5 1074L421 1090L418.1 1096L410.1 1106L403.1 1112L397.2 1116L395.1 1118L392.1 1122.6L390.1 1124.4L382.1 1127.8L378.1 1128.7L374.1 1128.6L366.1 1126.9L362.1 1127.1L358.9 1128L354.6 1130L350.1 1134.1L348.3 1138L348.4 1142L350.1 1145.4L355.2 1152L360.1 1160.8L361.3 1164L361.4 1166L360.1 1168.1L358.1 1169L356.1 1169.3L346.1 1167.1L340.1 1167.4L327.4 1172L320 1175.8M282.6 1175.8L278.1 1173.6L266.1 1172.6L264.1 1172.7L262.1 1173.5L259.7 1175.8M597 1075.8L577.9 1056L567.2 1042L548.3 1002L542.1 986.4L538.1 980.4L530.7 972L529.2 966L528.1 964L516.1 958.7L508.1 956.2L506.1 954.7L498.1 945.2L494.1 938.4L483.7 926L474.1 911.9L468.1 905L464.5 902L460.1 899.7L456.1 899L450.1 899.3L444.1 898.7L438.1 900.7L436.1 903L434.4 910L430.1 916L426.9 922L424.1 924.4L420.1 925.9L416.1 926.1L410.1 924.5L403.8 920L400.1 918.4L394.1 917.7L384.1 917.5L368.1 915.6L362.1 914.2L360.1 914.5L358.1 916.4L357.4 920L357.7 922L360.6 930L362.1 938.3L363.4 942L364.6 944L370.1 950.1L372.2 952L378.4 956L382.1 959.7L392.6 974L405.4 990L407.7 994L408.4 1010L407.5 1022L407.7 1036L402.1 1054L395 1066L392.1 1069.8L389.1 1072L370.1 1078.4L363.4 1082L360.9 1084L356.2 1090L353.9 1092L350.1 1092.7L340.1 1088.8L336.1 1088L334.1 1088L332.1 1088.8L326.1 1093.3L316.1 1098.3L298.1 1102.4L286.1 1103.5L272.1 1107.5L268.1 1109.2L264.1 1112.8L260.1 1118.1L258.1 1122L254.5 1132L251.6 1136L248.1 1138.7L242.1 1141.8L230.7 1146L226.1 1148.5L218.1 1151.3L216.1 1152.4L210.1 1159.8L204.1 1163L202.1 1164.9L198.8 1172L195.7 1175.8M164 1175.8L160.1 1172.4L158.1 1171.8L152.1 1171L150.1 1170.1L148.4 1168L146.1 1162L144.6 1160L138.1 1155L132.1 1151.9L130.1 1150.3L126.2 1146L122.1 1143.3M256.7 698L257.3 704L259.9 714L260.2 718L258.8 726L254.9 734L254.6 736L255 738L256.1 740.1L257.8 742L260.1 743.5L272.1 745.1L278.1 746.7L282.1 748.4L284.1 750.1L286.1 752.8L288 758L287.9 762L286.7 766L284.1 772L282.6 774L280.1 776L278.1 776.8L276.1 776.9L272.1 775.7L270.1 775.8L269.1 778L269.7 780L272.1 782.1L278.1 783.6L286.1 788.2L288.1 788.6L296.1 788.9L304.1 790.2L306.1 789.9L308.1 788.8L312.1 783.6L317.9 778L324.1 771.1L326.1 769.3L328.1 768.4L330.1 768.3L338.1 770.5L344.1 771.3L354.1 770.1L356.1 770.3L358.1 771.1L360.1 773.3L362.1 774.2L370.1 773.1L376.1 773.4L380.1 774.7L384.1 777.9L388.1 779.5L390.1 779.6L394.1 778.5L397.3 776L399.3 772L401.4 762L401.6 758L401 754L397.7 746L395.7 736L393.3 730L392.6 714L391 698M300.1 825.8L298.2 828L297.6 830L298.4 834L300.1 836.3L302.1 837.5L304.1 838L306.1 837.9L308.5 836L309.3 832L309.4 830L308.8 828L307.3 826L306.1 825.1L304.1 824.5L302.1 824.8L300.1 825.8M314.1 849.6L314 852L316.1 854.7L318.1 855.3L320.1 854.4L320.8 852L320.1 850L318.1 848.6L316.1 848.2L314.1 849.6M597 1055.3L591 1052L588.4 1050L582.9 1042L580.9 1038L578.2 1030L572.3 1022L567.3 1012L563.6 1006L562.1 1002L559.1 990L555.3 982L551.5 976L544.1 967.1L540 956L532.1 943.8L530.1 941.7L528.1 941.1L522.1 940.5L520.1 939.5L517.3 936L516.6 934L516.8 930L516.4 928L515.2 926L509.3 920L504.2 914L496.1 908.2L492.8 904L488.7 900L484.3 894L480.3 892L472.1 889.8L466.1 887.4L461.1 884L454.1 877.1L444.8 872L442.1 869.7L432 858L422.1 845.1L420.1 843.2L418.1 842.2L416.1 841.9L412.1 842.3L404.1 844.4L394.1 849.2L390.1 849.6L380.1 849L372.1 849.4L366.1 850.2L362.1 851.9L361.8 854L362.1 854.6L368.1 860.3L369.4 862L371.1 866L371.5 868L371.2 872L369.7 876L368.1 878.5L366.1 880.1L362.1 881.2L350.1 881.9L342.1 881.1L336.1 882.1L334.1 883.1L332.1 885.2L329.8 892L328.1 894.2L322.1 897L314.1 898.6L312.1 900.5L310.9 904L311 908L312.1 911.2L318.9 920L324.1 928.6L331.1 936L338.1 941.8L345.3 950L353.1 960L356.1 962.4L368.4 970L376.1 977.6L378.1 980.9L383.1 992L388.9 1002L391.1 1010L392.2 1016L392.4 1020L389.9 1028L388.5 1036L387 1040L384.1 1044L380.1 1048L374.1 1052.7L368.1 1055.3L366.1 1055.5L362.1 1055L354.1 1052.1L342.1 1044.8L326.1 1038.4L322.1 1037.9L320.1 1038.6L315.9 1042L312.1 1046L305.7 1058L304.4 1062L303.3 1068L301.5 1072L295.3 1080L290.7 1084L286.8 1086L272.1 1091L258.1 1093.4L248.1 1094.2L240.1 1096.4L234.1 1096.9L224.1 1099.7L218.1 1102.8L212.1 1104.2L210.1 1105.2L206.1 1108.4L204.1 1110.6L202.2 1114L199.4 1122L191.6 1134L189.4 1136L186.1 1137.8L182.1 1139.1L180.1 1139.2L175.9 1138L158.1 1124L156.8 1122L156.3 1120L155.8 1116L155.9 1112L157.2 1108L163 1098L165.3 1092L168.1 1088.8L174.1 1084.9L176.1 1082L176.8 1080L178.3 1074L178 1072L175.3 1066L173.8 1060L171.3 1056L162.1 1043.9L160.1 1041.7L152.1 1035.4L149 1034L142.1 1032.4L130.1 1028.5L128.1 1028.3L122.1 1029.4M227.5 698L224.1 703.2L216.1 708.7L214.1 711L209.6 724L210.3 734L210.3 746L211.9 762L214.3 770L214.1 778.1L216.1 783.1L218.1 785.4L224.1 788.3L226.3 790L227.3 792L228 796L229.4 800L236.9 814L240.8 820L244.4 828L248.6 836L251 842L254.3 848L255.5 852L256.5 858L256.3 862L254.8 870L254.8 874L256 880L258.7 888L262.1 892.2L266.1 900L268.1 901.8L270.1 903L278.1 905.6L281.7 908L286.1 909.6L288.4 912L288.1 914.4L286.1 918.2L282.1 922L277.3 930L274.1 933.5L272.1 934.9L266.1 937L264.2 940L263.7 942L264.4 952L263.5 958L263.7 960L264.6 962L266.4 964L270.1 965.7L278.1 966.7L279.9 968L282.1 971L283.5 972L290.1 973.6L292.1 976L291.8 978L290.1 979.5L287.8 980L286.1 979.5L282.1 977.1L280.1 977.1L278.8 978L278.4 980L281.8 988L284.1 1000.1L284.5 1004L283.6 1014L284.7 1026L287.5 1034L288.2 1038L287.1 1054L284.1 1063.1L282.1 1067.6L280.1 1070.1L276.1 1072.4L272.1 1072.9L270.1 1072.4L264.1 1068.6L262.1 1066.4L258.1 1059.6L250.1 1050L246.7 1048L244.1 1047.2L238.1 1046.7L234.1 1045.6L228.1 1042.5L224.1 1039.6L214.6 1028L210.8 1018L204.2 1010L203.5 1008L203.5 1002L202.1 997.5L198.1 992.1L193.4 988L192 986L190.1 980.5L189.3 980L188.1 979.6L178.1 981.2L168.1 985.6L164.1 986.5L161.4 986L142.1 978.3L122.1 972.7M561.9 928L564.1 928.7L564.9 930L564.7 932L564.1 932.8L562.1 933.8L560 932L560.4 930L561.9 928M202.1 932.7L200.1 935.1L196 944L196.1 946.3L200.1 951.4L201 954L200.7 956L196.9 962L196.2 964L196.4 966L198.1 968.6L204.1 972.7L206.1 973.3L208.1 972.2L211.7 966L212.9 952L214.8 948L219.2 942L219.9 940L218.5 938L214.1 937.2L202.1 932.7M551.5 936L554.1 935.9L556.1 936.5L564.1 943.8L565.4 946L565.7 948L564.1 950.9L558.1 951.5L556.1 951.2L552.1 949.2L550.1 947.4L548.1 944L547.7 940L548.5 938L550.1 936.5L551.5 936M597 1019.2L588.1 1012.3L585.8 1010L583.2 1006L581 1000L575.5 994L572.8 990L571.4 986L570.6 980L568.5 974L567.5 968L564.7 960L564.5 956L565.7 954L570.1 952.2L574.1 949.5L576.1 947.3L580.1 941L580.9 938L580.1 935.4L573.8 930L572.4 928L568.1 921.3L566.9 918L566.3 908L563.9 900L563.2 892L562.2 886L562.4 878L560.5 868L560.5 862L559.5 854L556.3 838L554.9 834L546.1 821.1L544.1 818.7L542.1 817.4L538.1 817L528.1 818.1L516.1 818.8L498.1 818.5L488.1 819.3L482.1 818.3L477.7 816L474.6 812L471.6 802L471.1 798L471.8 790L470.1 786.4L468.1 784.7L466.1 783.9L460.1 783L457.1 782L454.7 780L452.1 776.9L450.6 776L444.1 775.4L442.1 773.8L440.8 770L440.9 768L442.1 765.5L444.1 764.1L448.1 764.4L458.1 767.2L460.5 766L461.6 764L461.5 762L458.1 757.9L457.6 756L457.7 750L457.3 748L456.3 746L454.1 744.1L446.1 738.9L440.1 730.6L432.1 725.2L420.5 712L418.3 708L417.9 706L418.2 698M170.4 698L169.7 714L170.1 718L172.2 724L176.5 730L177.3 732L178.9 738L180.6 742L184.3 754L184.3 758L182.5 762L178.1 767.9L176.7 774L174.6 778L172.1 779.9L166.1 783.3L164.1 785.2L154.1 799.1L152.1 806L150.7 822L150.9 826L151.9 830L158 844L159.8 850L162 862L162.1 870L164.9 880L165.3 884L165 886L160.6 896L158.5 904L156.1 906.8L154.1 908.3L152.1 909.2L146.1 910.4L130.1 915.1L122.1 916.1M597 912.6L590.4 906L588.1 902.4L584.6 890L580.5 880L579.5 874L578.6 862L579 852L577.4 846L571.8 838L569.4 830L567.6 826L564.1 822.2L560.1 819.8L558.5 818L555 806L548.4 796L541.1 782L536.1 768.4L532.1 759.9L524.1 749.7L520.1 745.8L509.4 738L496.1 732.4L488.1 729.8L485.8 728L481.6 722L471.6 714L465.9 708L456.1 700.7L451.1 698M122.1 818.7L130.5 826L136.1 833.6L138.1 837.5L139.3 842L142.2 864L141.7 878L140.4 882L138.1 886L134.7 890L132.1 892.2L128.1 894.4L122.1 896.3M597 825L594.2 822L583.8 814L572.1 800.3L565.6 790L559 778L553.4 764L550.1 752.9L542.9 742L537 730L534.1 726.7L526.1 722.6L522.1 719.2L517.9 714L509 698M597 788.7L593.3 784L586.8 772L584.1 765.8L574.1 753.5L570.1 744.9L567.4 736L566.1 733.5L562 728L555.9 718L549.1 710L545.3 702L541.8 698M597 720.4L596.2 716L596.2 712L595.6 710L594 708L586.1 702.6L582.7 698" fill="none" stroke="#3a3a36" stroke-opacity="0.75" stroke-width="0.5" stroke-linejoin="round"/>
<path d="M495.8 1175.8L494.4 1172L494.1 1167.7L493 1166L492.1 1165.4L490.1 1166.3L486.6 1170L482.1 1173.4L480.3 1175.8M586.6 1175.8L580.5 1170L575.7 1162L566.2 1154L558.1 1143.7L552.1 1139.6L548.9 1132L545.7 1126L543.6 1120L542 1118L536.3 1114L534.4 1112L534 1110L535.4 1102L534.5 1098L530.1 1092L524.1 1087.3L520.1 1083.4L516.6 1078L515.4 1074L517.1 1068L517 1064L514.1 1059.1L510.8 1052L508.8 1046L507.3 1044L506.1 1043.2L504.1 1042.7L502.1 1043L500.1 1044.2L492.1 1053L490 1056L488.5 1060L488.6 1062L492.3 1068L492.4 1070L491.6 1072L490.1 1074L488.1 1075.5L478.1 1080.2L472.1 1078.4L468.1 1079.5L465.5 1082L465 1084L466.1 1086.7M481.2 1116L480.3 1120L480.6 1122L482.1 1124.7L485.9 1128L485.7 1130L483.6 1134L483.5 1136L484.6 1138L492.1 1142.9L498.6 1144L500.6 1146L502.1 1150.3L504.1 1150.9L506.1 1150.9L512.1 1150.3L516.1 1149.3L518.1 1147.8L520.2 1142L522.1 1141L524.1 1141.1L526.1 1142.7L526.9 1144L527.7 1148L527.3 1150L526.1 1151.3L521.5 1154L520.1 1155.6L518.9 1158L516.4 1166L516.1 1172L515.3 1175.8M597 1137.6L595.6 1134L595 1128L594.1 1126L589.5 1120L586.1 1112.2L579.7 1106L572.4 1094L566.7 1088L565.7 1086L564.6 1080L563.7 1078L558.1 1070.9L556.6 1068L554.4 1054L548.2 1030L544.9 1020L540.1 1014.7L532.1 1008.1L528.1 1006.1L524.1 1005.3M491.5 1006L486.1 1007.5L472.1 1009.3L470.1 1010.1L468.1 1011.8L464.1 1017.2L462.1 1018.8L460.1 1019.4L454.1 1019.6L450 1022L448.8 1024L447.3 1028L441.7 1036L437.5 1046L437.1 1050L437.2 1060L435.5 1072L430.6 1088L429.8 1100L424.7 1110L416.1 1120.9L410.1 1127.1L405.5 1134L392.1 1145.6L390.1 1146.9L387.2 1148L380.1 1147.8L378.1 1148.2L372.1 1151.1L368.4 1154L367.1 1156L365.9 1160L366.1 1162L367.8 1168L367.8 1170L367.1 1172L364.1 1174.2L357.5 1175.8M597 1087.4L592.5 1082L588.1 1075.3L580.1 1067.1L576.1 1061.6L570.1 1055.3L564.8 1048L562.1 1043L554.1 1023.5M538.5 994L536.1 989.9L534.3 988L532.1 986.6L530.1 986.1L524.1 986L518.1 985.3L506.1 985.1L498.1 986L494.1 984.9L486.1 981.6L482.1 981L478.1 981.3L470.1 983.2L466.1 982.9L462.5 982L460.1 980.6L457.6 978L456.1 974.2L455 968L453.9 966L446.1 959.4L443 956L441.3 950L440.1 948.3L438.1 947.7L430.1 948.9L428.1 948.1L424.1 944.7L419.4 942L412.1 940.9L404.1 938.6L400.1 938.6L396.4 940L394.4 942L393.7 944L393.4 952L394.1 958L396.4 964L398.1 966.6L403.4 972L416 982L420.4 986L422 988L422.5 990M415.5 1024L417.1 1032L417.4 1036L413.6 1054L413.4 1060L414.7 1068L414.4 1072L412.5 1078L409 1086L406.5 1090L404.4 1092L390.1 1101.9L388.1 1102.8L382.1 1103.8L370.1 1107.5L362.1 1108.8L354.1 1110.9L342.1 1109.8L334.1 1110.4L330.5 1112L326.1 1115.2L324.1 1115.8L314.1 1116.8L308.1 1118.7M274.1 1120.5L270.1 1121.6L267.2 1124L265.9 1126L261.2 1138L258.2 1142L256.1 1143.6L247.9 1148L233.3 1160L228.2 1170L227 1175.8M271 698L271 702L272.6 710L275.9 720L278.1 723.3L282.1 727.6L284.2 732L286.1 734.1L290.1 736.1L294.1 736.7L296.1 736.3L300.1 733.8L308.1 733L314.1 730.9L316.3 732L316.3 734L315.1 738L315.5 740L318.1 743L320.1 743.7L322.1 743.3L327.9 740L330.7 740L334.6 742L346.1 751.5L352.1 752.5L356.1 751.8L360.4 750L363.2 748L363.6 746L362.6 742L362.6 740L362.9 738L364.1 735.8L367.2 734L376.1 731.2L377.2 730L378.9 724L381.3 718L382.2 712L381.2 706L380.1 703.2L377 698M378.1 737.7L372.3 746L371.8 748L374.1 750.3L374.7 752L374.9 754L374.3 758L375.7 762L381.8 770L384.1 771.6L386.1 771.4L387.8 770L388.3 768L388.6 762L387.9 758L386.2 752L382.1 741.7L380.1 738.6L378.1 737.7M300.1 741.7L298.1 743.7L295.4 750L294.1 755L293.6 760L294.1 766.9L295 770L296.1 772.1L298.1 773.3L300.1 773.8L302.1 773.2L303.3 772L304.1 770.3L304.9 762L308.3 754L309.4 750L308.6 746L306.1 741.9L304.1 741L300.1 741.7M597 1066.5L592.5 1062L586.1 1057.3L582.6 1054L571 1038L566.4 1026L558.8 1014L554.2 1000L552.1 990.8M537.2 960L536.1 957.4L534.1 955.4L530.1 953L518.1 947.2L512.1 942L510.1 941L504.1 940.2L502.1 938.8L495.1 930L490.1 919.8L482.5 910L476.7 900L473.4 896L470.1 893.6L462.1 890.6L458.4 888L454.1 883.8L452.1 882.7L436.1 879.4L432.1 880.1L429.2 882L427.9 884L427.4 886L427.7 892L426.5 896L426 900L426.7 906L426.4 908L424.1 911.3L422.1 913.1L420.1 913.9L418.1 912.7L414.1 907.5L410.2 904L410.2 898L409.4 896L408.1 895.4L404.1 894.3L400.1 894.6L397.5 896L395.4 898L394.1 902L392.1 902.4L390.1 902L388.9 900L388.4 898L390.1 897.3L392.1 894.7L394.5 888L396.1 886.4L402.1 885.3L406.1 883.8L409.1 882L409.8 880L408.6 874L408.8 872L418.1 870.7L419.4 870L420 866L419.5 862L418.2 860L416.1 858.8L412.1 858.2L408.1 859.3L400.1 862.7L396.1 865.5L394.2 868L393.1 872L392.9 880L392.5 882L388.1 884.3L386.2 886L385.5 888L385.6 892L387.9 898L384.1 898.4L382.1 897.9L372.1 894.4L366.1 891.1L362.1 890.3L360.1 890.7L355.3 894L352.1 895.3L344.1 895.1L340.1 896L333.4 902L331.8 904L331 906L330.8 908L331.2 910L332.2 912L337.3 920L343.8 926L346.1 929.2L349.8 936L354.2 946L356.1 949.1L360.1 953.3L376.1 966M395.8 994L398.2 1000L399.9 1010L400.4 1024L397.4 1036L395 1042L392.1 1046.8L386.1 1053.8L378.1 1060.4L370.1 1068.3L368.1 1069.7L366.1 1070.2L362.1 1070.2L358.1 1069.3L357.1 1068L355.7 1064L354.1 1061.5L346.1 1055.7L342.1 1053.9L338.1 1054.6L332.1 1058.1L330.1 1058.6L324.1 1058.5L320.1 1059.5L316.5 1062L314.6 1066L314.1 1078M284.1 1093.6L262.1 1101.5L258.1 1103.7L256.1 1105.3L252.7 1110L247.2 1120L246.5 1122L246.1 1128L245.4 1130L243.6 1132L242.1 1132.6L238.1 1132.4L232.2 1130L229.3 1128L226.1 1122.8L224.1 1122.2L220.1 1124.5L204.1 1136.6L200.1 1141.3L192.1 1152.9L186.1 1160.2L184.1 1161.8L182.1 1162.7L180.1 1163L176.1 1162.6L174.1 1161.7L162.1 1150.7L158.1 1146.5L150.1 1141.2L140.1 1128L136.1 1121.4L129.6 1114L128.6 1112L128.7 1108L130.1 1104.6L132.9 1100L136.1 1087.6L138.6 1082L138.6 1080L135.7 1076L134.9 1074L135.4 1068L135.1 1066L134.2 1064L128.4 1058L126.1 1055L124.1 1053.4L122.1 1052.9M122.1 1074.9L125.4 1076L126.8 1078L126.8 1080L125.5 1082L124.1 1082.7L122.1 1082.9M248.1 698L246.1 707L242.1 715.6L238.1 721.3L230.1 728.5L227.8 732L226.8 738L226.6 746L227.9 748L230.8 750L232.7 752L233.6 754L235.5 762L238.5 770L243 776L246.8 786L251.8 792L254.3 798L256.1 801.1L263.3 808L267.1 816M266.4 850L266.9 868L267.9 872L270.1 875L272.1 876.4L274.1 876.9L284.1 875.7L290.1 868.7L292.1 867.9L294.1 868.9L295.8 872L296 876L294.7 880L294.1 881.3L290.1 884.8L289.6 888L289.9 890L291.5 894L298.1 907L302.1 913.1L306.1 915.8L307.5 918L308 922L307 926L306.1 928L302.9 932L303.9 934L310 940L314.8 948L316.9 950L320.1 951.4L326.1 952.1L328.1 952.8L330.1 954.4L332.1 957.2L337.9 968L342.9 974L346.1 978.9L348.1 980.9L350.1 981.8L356.1 982.6L357 984L360.2 986L366.1 988.3L370.1 991.4L378.1 1000.2L380.3 1004L381.4 1008L380.5 1020L376 1032L377.2 1036L377.4 1038L377.1 1040L375.9 1042L374.1 1043.6L370.1 1045.6L368.1 1046L364.1 1045.9L361.2 1044L360.1 1042.7L356.1 1042.3L354.1 1041.2L349.5 1028L348.1 1018.9L346.1 1015.2L342.1 1009.8L339.9 1012L337.1 1014L332.1 1015.1L328.1 1014.4L322.1 1009.5L320.1 1009L318.1 1009.3L312.1 1014.1L308.1 1015.7L304.1 1016.3L302.1 1017.5L301.1 1020L300.7 1028L299.8 1034M292.3 1068L289.5 1074L286.1 1077.7L274.1 1083.6L270.1 1084.7L268.1 1084.8L258.1 1083.7L254.1 1082.9L252.1 1081.9L250.6 1080L248.1 1075.1L244.7 1070L236.2 1062L232.1 1060L226.3 1058L216.1 1056.3L210.1 1056.1L208.1 1055.2L200.5 1048L199.4 1046L198.5 1042L197.5 1040L196.1 1038.4L189.7 1034L186.1 1030.6L180.1 1028.9L178.1 1027.8L177.2 1026L178.2 1024L180.1 1023.6L188.1 1024.9L190.1 1024.2L190.4 1022L188.5 1020L184.1 1018.6L179.9 1016L172.1 1015L168.1 1013.2L164.1 1012L156.1 1011.8L150.1 1012.2L148.1 1012.1L146.1 1011.4L144.5 1010L143.7 1008L143.9 1006L145.1 1002L144.9 1000L142.1 996L138 992L136.1 991.5L134.1 992L128.1 995.8L122.1 997.9M597 1044.4L594.2 1040L591.8 1034L589.7 1030L586.7 1026L579.1 1018L571.2 1004L568.5 998L563.2 988L561.2 980L558.7 974L555.8 970L548.1 961.3L543.6 954L539.9 946L535.4 940L534.4 938L533.9 934L535.9 930L535.5 924L535.8 922L539.8 916L540.8 914L541.1 912L540.2 910L537.2 906L535.2 894L536.1 892L543.9 888L546.1 885.7L548.1 882.6L548.8 880L548.7 878L547.9 876M540.8 844L539.9 842L538.1 840.1L534.1 837.2L531.1 836L520.1 833.7L508.1 834.5L498.1 832.1L486.1 831.9L478.1 833L466.1 831.7L464.1 833L463.2 836L463.9 846L466.1 848.3L470.1 849.8L472.1 849.8L478.1 848.4L480.1 848.5L482.1 849.2L484.1 850.5L486.1 853L487.4 856L489.3 864L489.9 870L488.7 874L486.9 876L482.1 879.4L476.8 884L474.1 885L472.1 885L470.1 884.2L464.1 880.5L462.1 878.7L460.3 876M436.3 852L431.1 844L424.1 836.4L422.1 834.8L418.1 832.7L410.5 830L404.1 826.2L402.1 825.8L400.1 826.2L392.1 831.2L388.1 832.3L386.1 838L384.1 839.7L370.1 841.4L366.1 843.2L358.1 848.4L356.7 850L356 852L356.1 854L359.9 866L359.9 868L358.1 869.6L356.1 870L354.1 869.7L350.5 868L342.2 862L336.1 854.5L334.1 851L331.4 842L326.1 830L325.1 820L325.5 816L327.9 814L333.1 812L335 810L336.1 807.7L336.7 804L336.3 792L336.6 790L337.8 788L341.2 786L348.3 784L350.1 784.4L358.1 788.7L360.1 789.1L362.1 788.9L368.1 786.9L372.1 786.8L374.6 788L380.8 794L381.8 796L381.9 798L381 802L378.1 807.1L375 810L374.7 814L373.7 818L373.7 820L374.7 822L378.1 825.4L380.1 826.3L382.1 825.2L386.1 818.8L388.1 817.2L392.1 815.6L394.1 814.3L395.6 812L396.1 810L396 806L395.1 802L393.5 798L393.7 796L398.1 792.6L402.9 788L408.1 785.2L410.1 784.6L412.1 784.6L416.1 786.6L418.1 786.9L420.1 786.4L422.1 784L421.7 782L420.1 780.5L416.1 779.3L415.1 778L414.1 776.1L413 772L412.5 768L414.2 758L414.1 730L412.6 726L409.1 720L406 712L402.9 706L401.1 698M177.6 1100L180.1 1099.2L182.1 1099.2L184.1 1099.8L186.1 1101.5L187.8 1106L188.1 1112L186.9 1116L185.1 1118L182.1 1119.5L176.1 1120.2L174.1 1119.6L172.1 1118.3L170.2 1116L169.1 1114L168.4 1110L170 1106L171.8 1104L174.1 1102L177.6 1100M195.7 698L195.3 714L197.9 742M202.6 776L202.2 778L201.2 780L198.1 783.4L196.1 784.5L190.1 785.3L188.1 786.1L180.1 794.1L171.9 808L170.2 814L168.1 819L165.2 828L165.3 832L166.1 834.6L169.3 840L172.1 847.2L174.1 849.8L180.1 848.1L184.1 849L186 850L188.1 852L192.1 857.2L201.5 862L203.1 864L203.5 866L202.5 868L200.1 868.8L198.1 868.7L194.1 867.5L191.6 866L188.1 859.3L184.1 856.5L176.1 852.4L174.1 852.5L172.4 856L172 858L172.1 862L174.8 870L176.1 873.1L181.3 878L182.5 880L183.5 884L183.4 886L182.6 888L180.9 890L172.9 896L170.1 899.7L168.6 908L166.1 916L166.6 920L167.7 922L174.2 928L175.1 930L176.1 940.1L175 942L170.1 944.4L168.3 946L165.8 954L160.1 960.6L155.7 964L150.1 966L148.1 966L146.1 965L144.7 964L143.3 962L143.1 960L145.6 956L145.6 954L144.1 951.8L132.1 945.7L126.1 946.3L122.1 945.7M230.8 834L232.1 833.8L234.1 834.4L236.1 836L240.9 842L246.1 847.2L247.8 850L248.5 854L248.1 858.2L242.1 875.4L239 878L234.1 879.7L232.1 879.6L230.7 878L229.2 872L227.3 870L224.1 868.2L216.1 866.2L214.1 864.6L212.6 862L211.4 858L211.6 854L212.6 852L214.1 850.8L220.1 849.2L222.1 847.9L224.1 844.9L228.1 835.9L230.8 834M597 930L592.1 928.7L590.1 926.9L583.2 918L580.7 914L577.7 902L574.1 893.1L572.2 884L570.4 870L570 850L569 844L562 830L560.1 827.3L554.1 821.5L549.5 812L548.1 810.2L546.1 808.8L538.5 806L534.5 802L533 800L532.4 798L533.6 792L533.1 790L530.1 785.5L528.1 783.5L526.1 782.4L522.1 781.7L519.8 782L518.1 783.4L512.5 792L510.1 793.4L508.1 793.8L506.1 793.5L502.1 789.6L496.1 785.7L494.1 781.7L491.1 768L487.6 762L487.5 760L488.6 756L488.5 754L488.1 753.4L484.1 753.2L481.6 752L480.2 750L479.6 744L478.5 742L474.8 738L471.3 732L468.8 730L464.1 727.6L462.1 726L454.1 718.2L443.1 710L435.9 706L432.1 702.3L429.3 698M597 963.1L594.1 962.9L586.1 966.8L584.1 964L583.9 962L584 960L586.1 954L591.4 944L592.1 943L594.1 942.1L597 941.5M597 998.4L590.1 991L584.9 988L583.7 986L583.1 980L584.1 975.5L587.3 978L590.1 978.9L592.1 978.4L597 975.9M137.8 698L138.1 710L135.8 718L135.6 722L137.2 730L142.1 740L144 750L143.6 752L142.3 754L138.7 758L138.6 760L142.4 766L142 768L138.3 772L137.4 774L136.4 782L133.7 792L133.5 796L136.2 814L142.5 830L146.5 838L149.9 848L150.6 858L151.9 864L152.9 878L151.9 882L147.5 890L144.8 894L142.7 896L134.1 901.3L122.1 904.5M597 844.2L595.3 842L590.1 837.5L585.6 828L584.1 826.2L576.1 820.5L571.5 814L565.9 808L557.1 792M544.1 762.9L542.1 756L541 754L539.5 752L534.1 747.2L527.4 738L516.1 728.8L504.7 718L502.1 715.2L498.1 709.8L493 706L488.1 701.2L481.8 698M597 885L596 882L596.2 876L594.8 868L595.4 862L595.1 854L597 847.4M597 810.9L591.6 806L586.2 800L580.6 790L570.1 778.9L568.2 776L563.9 760L560.7 752L557.4 742L552.3 734L548.3 726L541.2 718L538.1 713.7L530.1 705.9L523 698M122.1 833L124.9 836L127.3 840L131.5 854L132.3 860L130.8 872L128.6 880L126.1 883.5L122.1 885.7M597 760.1L594.1 757L592.3 754L587.1 742L584.1 732.8L580.1 728L578.6 724L577.6 718L576.1 714.5L570.2 708L566.1 701.6L562.6 698" fill="none" stroke="#111" stroke-width="1.55" stroke-linejoin="round"/>
</g>
<g font-family="Liberation Sans, sans-serif" fill="#222">
<text transform="translate(174.4 772.5) rotate(-62.0)" text-anchor="middle" dy="3.6" font-size="11">-1635</text>
<text transform="translate(199.5 758.4) rotate(80.0)" text-anchor="middle" dy="3.6" font-size="11">-1640</text>
<text transform="translate(213.6 757.4) rotate(76.0)" text-anchor="middle" dy="3.6" font-size="11">-1645</text>
<text transform="translate(264.9 832.8) rotate(80.0)" text-anchor="middle" dy="3.6" font-size="11">-1650</text>
<text transform="translate(343.3 771.5) rotate(8.0)" text-anchor="middle" dy="3.6" font-size="11">-1655</text>
<text transform="translate(328.2 893.1) rotate(-50.0)" text-anchor="middle" dy="3.6" font-size="11">-1655</text>
<text transform="translate(552.1 766.4) rotate(62.0)" text-anchor="middle" dy="3.6" font-size="11">-1625</text>
<text transform="translate(548.1 778.5) rotate(62.0)" text-anchor="middle" dy="3.6" font-size="11">-1630</text>
<text transform="translate(549.1 798.6) rotate(65.0)" text-anchor="middle" dy="3.6" font-size="11">-1635</text>
<text transform="translate(518.9 818.7) rotate(3.0)" text-anchor="middle" dy="3.6" font-size="11">-1645</text>
<text transform="translate(448.6 865.0) rotate(42.0)" text-anchor="middle" dy="3.6" font-size="11">-1650</text>
<text transform="translate(542.1 861.0) rotate(78.0)" text-anchor="middle" dy="3.6" font-size="11">-1650</text>
<text transform="translate(385.2 917.3) rotate(3.0)" text-anchor="middle" dy="3.6" font-size="11">-1665</text>
<text transform="translate(297.0 1050.7) rotate(-72.0)" text-anchor="middle" dy="3.6" font-size="11">-1650</text>
<text transform="translate(299.1 1085.9) rotate(-30.0)" text-anchor="middle" dy="3.6" font-size="11">-1660</text>
<text transform="translate(291.0 1122.1) rotate(2.0)" text-anchor="middle" dy="3.6" font-size="11">-1670</text>
<text transform="translate(386.2 980.3) rotate(62.0)" text-anchor="middle" dy="3.6" font-size="11">-1660</text>
<text transform="translate(419.4 1007.4) rotate(-80.0)" text-anchor="middle" dy="3.6" font-size="11">-1670</text>
<text transform="translate(385.2 1070.8) rotate(-30.0)" text-anchor="middle" dy="3.6" font-size="11">-1665</text>
<text transform="translate(402.3 1099.0) rotate(-45.0)" text-anchor="middle" dy="3.6" font-size="11">-1675</text>
<text transform="translate(448.6 1079.8) rotate(-75.0)" text-anchor="middle" dy="3.6" font-size="11">-1685</text>
<text transform="translate(475.7 1100.0) rotate(78.0)" text-anchor="middle" dy="3.6" font-size="11">-1690</text>
<text transform="translate(514.9 997.4) rotate(8.0)" text-anchor="middle" dy="3.6" font-size="11">-1675</text>
<text transform="translate(507.9 1006.0) rotate(-3.0)" text-anchor="middle" dy="3.6" font-size="11">-1680</text>
<text transform="translate(544.7 966.2) rotate(58.0)" text-anchor="middle" dy="3.6" font-size="11">-1655</text>
<text transform="translate(542.1 977.3) rotate(62.0)" text-anchor="middle" dy="3.6" font-size="11">-1660</text>
<text transform="translate(546.1 996.4) rotate(58.0)" text-anchor="middle" dy="3.6" font-size="11">-1665</text>
<text transform="translate(546.1 1008.4) rotate(58.0)" text-anchor="middle" dy="3.6" font-size="11">-1670</text>
</g>
<path d="M130.1 692.0V698.0M130.1 1175.8V1181.8M116.1 714.5H122.1M597.0 714.5H603.0M219.8 692.0V698.0M219.8 1175.8V1181.8M116.1 804.3H122.1M597.0 804.3H603.0M309.5 692.0V698.0M309.5 1175.8V1181.8M116.1 894.0H122.1M597.0 894.0H603.0M399.3 692.0V698.0M399.3 1175.8V1181.8M116.1 983.8H122.1M597.0 983.8H603.0M489.0 692.0V698.0M489.0 1175.8V1181.8M116.1 1073.5H122.1M597.0 1073.5H603.0M578.7 692.0V698.0M578.7 1175.8V1181.8M116.1 1163.3H122.1M597.0 1163.3H603.0" stroke="#9a9a9a" stroke-width="1" fill="none"/>
<g font-family="Liberation Sans, sans-serif" font-size="12" fill="#111">
<text x="130.1" y="1194.7" text-anchor="middle" textLength="36.8" lengthAdjust="spacingAndGlyphs">332000</text>
<text x="114.8" y="718.8" text-anchor="end" textLength="43.5" lengthAdjust="spacingAndGlyphs">6179500</text>
<text x="219.8" y="1194.7" text-anchor="middle" textLength="36.8" lengthAdjust="spacingAndGlyphs">332500</text>
<text x="114.8" y="808.6" text-anchor="end" textLength="43.5" lengthAdjust="spacingAndGlyphs">6179000</text>
<text x="309.5" y="1194.7" text-anchor="middle" textLength="36.8" lengthAdjust="spacingAndGlyphs">333000</text>
<text x="114.8" y="898.3" text-anchor="end" textLength="43.5" lengthAdjust="spacingAndGlyphs">6178500</text>
<text x="399.3" y="1194.7" text-anchor="middle" textLength="36.8" lengthAdjust="spacingAndGlyphs">333500</text>
<text x="114.8" y="988.1" text-anchor="end" textLength="43.5" lengthAdjust="spacingAndGlyphs">6178000</text>
<text x="489.0" y="1194.7" text-anchor="middle" textLength="36.8" lengthAdjust="spacingAndGlyphs">334000</text>
<text x="114.8" y="1077.8" text-anchor="end" textLength="43.5" lengthAdjust="spacingAndGlyphs">6177500</text>
<text x="578.7" y="1194.7" text-anchor="middle" textLength="36.8" lengthAdjust="spacingAndGlyphs">334500</text>
<text x="114.8" y="1167.6" text-anchor="end" textLength="43.5" lengthAdjust="spacingAndGlyphs">6177000</text>
</g>
<path d="M197.5 1003.8L216.0 981.7L345.7 832.8L486.4 727.2L501.8 714.9" fill="none" stroke="#1a9ac6" stroke-width="1.8" stroke-linejoin="round"/>
<circle cx="486.4" cy="727.2" r="3.6" fill="#1e88e5"/>
<circle cx="345.7" cy="832.8" r="3.6" fill="#1e88e5"/>
<circle cx="216.0" cy="981.7" r="3.6" fill="#1e88e5"/>
<circle cx="295.4" cy="1117.4" r="3.6" fill="#1e88e5"/>
<circle cx="451.0" cy="976.3" r="3.6" fill="#1e88e5"/>
<g font-family="Liberation Sans, sans-serif" font-weight="bold" font-size="18.5" fill="#1e88e5" text-anchor="middle">
<text x="486.5" y="716.5">F3</text>
<text x="345.5" y="822.1">G5</text>
<text x="296.0" y="1107.4">F2</text>
</g>
<g fill="none" stroke="#c9c9c9" stroke-width="1"><rect x="668" y="735.4" width="586.4" height="58.5"/><rect x="668" y="796.6" width="586.4" height="291.9"/></g>
<defs><pattern id="pf4" width="7.65" height="6.1" patternUnits="userSpaceOnUse" x="699" y="796.8"><rect width="7.65" height="6.1" fill="#8fc0dc"/><path d="M1 1.7H6.6" stroke="#6d9cbe" stroke-width="2.2"/><path d="M0 4.8H7.65" stroke="#a8d6ec" stroke-width="0.8"/></pattern><pattern id="pf3" width="7.65" height="4.15" patternUnits="userSpaceOnUse" x="699" y="796.8"><rect width="7.65" height="4.15" fill="#5a92ce"/><path d="M0.9 2.1H6.9" stroke="#3f6ea6" stroke-width="2.9"/></pattern><pattern id="pf2" width="8" height="3" patternUnits="userSpaceOnUse" x="699" y="796.8"><rect width="8" height="3" fill="#d8653a"/><path d="M0 1.5H8" stroke="#c65a32" stroke-width="0.6"/></pattern><clipPath id="c4"><rect x="699.0" y="796.8" width="465.6" height="261.0"/></clipPath></defs>
<g clip-path="url(#c4)">
<rect x="699.0" y="796.8" width="465.6" height="261.0" fill="url(#pf4)"/>
<path d="M699.0 862.2L700.5 862.0L702.5 861.7L704.9 861.3L707.5 860.9L710.2 860.6L712.8 860.3L715.4 860.1L718.2 859.9L721.1 859.7L723.9 859.5L726.5 859.3L728.8 859.2L730.7 859.0L732.2 858.8L733.5 858.6L734.9 858.4L736.3 858.4L738.0 858.6L740.1 859.1L742.5 859.9L745.0 860.8L747.5 861.7L749.8 862.5L751.7 863.1L753.1 863.5L754.2 863.7L755.0 863.9L755.9 863.9L757.0 863.9L758.6 863.8L760.8 863.6L763.5 863.3L766.4 862.9L769.3 862.4L772.2 862.0L774.7 861.5L776.9 861.0L779.0 860.4L781.0 859.7L782.8 859.2L784.5 858.7L786.1 858.5L787.4 858.5L788.5 858.8L789.4 859.2L790.4 859.7L791.5 860.0L793.0 860.3L794.9 860.5L797.1 860.6L799.5 860.8L801.9 860.8L804.4 860.7L806.8 860.3L809.2 859.6L811.6 858.5L814.0 857.3L816.3 856.1L818.6 855.2L820.6 854.6L822.3 854.5L823.8 854.6L825.1 855.0L826.5 855.5L828.0 856.2L829.7 856.9L831.7 857.8L834.0 858.8L836.3 859.9L838.7 861.2L841.2 862.5L843.5 863.8L845.8 865.3L848.1 866.9L850.4 868.6L852.6 870.3L854.9 871.8L857.2 872.9L859.5 873.7L861.8 874.1L864.1 874.4L866.4 874.6L868.7 874.8L871.0 875.2L873.3 875.7L875.6 876.3L877.9 876.9L880.2 877.5L882.5 878.1L884.8 878.7L887.1 879.3L889.4 879.8L891.6 880.3L893.9 880.9L896.2 881.5L898.5 882.1L900.9 882.9L903.3 883.9L905.8 884.9L908.2 885.8L910.4 886.5L912.3 886.7L913.8 886.5L915.1 886.0L916.2 885.3L917.2 884.3L918.1 883.2L919.2 882.1L920.3 880.8L921.4 879.2L922.5 877.5L923.6 875.8L924.8 874.2L926.1 872.9L927.4 871.8L928.8 870.9L930.2 870.2L931.7 869.5L933.4 868.9L935.2 868.3L937.3 867.8L939.6 867.3L942.0 866.9L944.4 866.6L946.8 866.2L949.0 865.8L951.0 865.4L952.9 864.9L954.8 864.5L956.6 864.0L958.3 863.6L960.0 863.2L961.7 862.8L963.3 862.3L964.9 861.8L966.5 861.4L968.0 861.3L969.4 861.5L970.7 862.1L972.0 863.1L973.2 864.3L974.3 865.6L975.5 866.9L976.7 868.1L977.9 869.2L978.9 870.3L980.0 871.4L981.2 872.5L982.5 873.4L984.0 874.2L985.7 874.8L987.6 875.3L989.7 875.7L991.8 876.0L994.1 876.4L996.3 876.7L998.7 877.1L1001.2 877.7L1003.8 878.2L1006.4 878.5L1008.8 878.7L1011.0 878.6L1012.9 878.1L1014.7 877.2L1016.3 876.1L1017.8 874.9L1019.3 873.8L1020.7 873.0L1022.1 872.4L1023.3 871.8L1024.5 871.3L1025.7 870.9L1026.9 870.7L1028.1 870.6L1029.3 870.7L1030.5 871.1L1031.8 871.5L1033.0 872.1L1034.2 872.6L1035.4 873.0L1036.6 873.4L1037.8 874.0L1039.0 874.5L1040.2 874.9L1041.4 875.1L1042.8 875.0L1044.2 874.5L1045.7 873.6L1047.2 872.5L1048.8 871.3L1050.6 870.2L1052.5 869.3L1054.7 868.7L1057.0 868.1L1059.5 867.7L1062.1 867.3L1064.7 866.9L1067.2 866.4L1069.7 865.8L1072.4 865.2L1075.0 864.5L1077.5 864.0L1079.9 863.5L1081.9 863.2L1083.5 863.1L1084.9 863.2L1086.0 863.5L1087.0 863.8L1088.1 864.1L1089.2 864.4L1090.4 864.8L1091.6 865.3L1092.7 865.8L1094.0 866.3L1095.2 866.5L1096.6 866.4L1098.1 865.9L1099.7 865.2L1101.4 864.3L1103.1 863.2L1104.7 862.0L1106.4 860.8L1108.0 859.5L1109.5 858.1L1111.1 856.6L1112.7 855.1L1114.3 853.6L1116.1 852.2L1118.0 850.9L1120.0 849.7L1122.1 848.4L1124.2 847.3L1126.3 846.1L1128.4 844.9L1130.4 843.7L1132.5 842.6L1134.5 841.4L1136.5 840.3L1138.6 839.1L1140.6 838.0L1142.6 836.9L1144.7 835.8L1146.7 834.7L1148.8 833.6L1150.8 832.5L1152.8 831.4L1154.9 830.2L1157.2 829.0L1159.5 827.7L1161.6 826.5L1163.3 825.5L1164.6 824.8L1164.6 1057.8L699.0 1057.8Z" fill="#f6f5ba"/>
<path d="M699.0 982.1L700.5 981.5L702.5 980.7L704.9 979.7L707.5 978.7L710.2 977.7L712.8 976.8L715.4 976.0L718.2 975.3L721.1 974.6L723.9 974.0L726.5 973.4L728.8 972.9L730.7 972.4L732.2 972.0L733.5 971.6L734.9 971.3L736.3 971.1L738.0 971.1L740.1 971.3L742.5 971.7L745.0 972.2L747.5 972.7L749.8 973.1L751.7 973.4L753.1 973.5L754.2 973.6L755.0 973.6L755.9 973.5L757.0 973.3L758.6 973.0L760.8 972.5L763.5 971.9L766.4 971.1L769.3 970.3L772.2 969.5L774.7 968.8L776.9 968.1L779.0 967.4L781.0 966.7L782.8 966.1L784.5 965.7L786.1 965.4L787.4 965.4L788.4 965.7L789.3 966.1L790.2 966.6L791.4 966.9L793.0 967.0L795.2 966.9L797.9 966.7L800.8 966.4L803.7 966.0L806.6 965.5L809.1 964.9L811.3 964.1L813.4 963.0L815.3 961.8L817.1 960.6L818.9 959.7L820.6 959.2L822.2 959.1L823.6 959.3L825.0 959.7L826.4 960.2L827.9 960.9L829.7 961.5L831.7 962.1L834.0 962.8L836.3 963.6L838.7 964.5L841.2 965.4L843.5 966.5L845.8 967.8L848.1 969.4L850.4 971.0L852.6 972.6L854.9 974.1L857.2 975.2L859.5 976.0L862.0 976.5L864.4 976.9L866.7 977.1L869.0 977.3L871.0 977.5L872.7 977.6L874.1 977.5L875.3 977.3L876.6 977.2L878.2 977.2L880.2 977.5L882.8 978.1L885.8 979.0L889.1 980.0L892.4 981.1L895.6 982.1L898.5 983.0L901.1 983.9L903.7 984.8L906.1 985.7L908.4 986.5L910.5 987.0L912.3 987.2L913.8 987.0L915.1 986.5L916.2 985.7L917.2 984.8L918.1 983.7L919.2 982.6L920.3 981.3L921.4 979.7L922.5 978.0L923.6 976.3L924.8 974.7L926.1 973.4L927.4 972.3L928.8 971.3L930.2 970.5L931.7 969.7L933.4 969.0L935.2 968.3L937.3 967.7L939.8 967.1L942.3 966.7L944.8 966.2L947.1 965.8L949.0 965.4L950.3 965.0L951.2 964.7L951.8 964.5L952.4 964.1L953.3 963.7L954.7 963.2L956.7 962.4L959.2 961.2L962.0 960.0L964.7 958.9L967.3 958.1L969.4 957.8L971.0 958.1L972.4 958.8L973.5 959.8L974.5 961.0L975.6 962.2L976.7 963.2L977.7 964.2L978.4 965.2L979.1 966.2L980.1 967.2L981.6 968.0L984.0 968.6L987.6 969.0L992.2 969.4L997.4 969.5L1002.6 969.5L1007.3 969.3L1011.0 968.8L1013.6 967.9L1015.6 966.5L1017.0 964.9L1018.2 963.3L1019.3 961.8L1020.7 960.7L1022.2 959.8L1023.6 959.1L1024.9 958.5L1026.3 958.1L1027.7 957.9L1029.3 957.8L1031.0 958.1L1032.7 958.9L1034.6 959.8L1036.5 960.7L1038.4 961.2L1040.3 961.2L1042.2 960.5L1044.2 959.3L1046.2 957.9L1048.2 956.2L1050.3 954.7L1052.5 953.4L1054.8 952.4L1057.2 951.4L1059.7 950.5L1062.2 949.7L1064.7 948.8L1067.2 948.0L1069.7 947.1L1072.2 946.1L1074.7 945.1L1077.2 944.2L1079.6 943.5L1081.9 943.1L1084.1 943.1L1086.1 943.6L1088.2 944.2L1090.1 944.7L1092.1 945.0L1094.1 944.8L1096.2 944.0L1098.3 942.7L1100.4 941.1L1102.5 939.4L1104.5 937.8L1106.4 936.3L1108.1 935.0L1109.7 933.7L1111.2 932.5L1112.8 931.3L1114.4 930.1L1116.1 928.9L1117.9 927.7L1119.7 926.6L1121.6 925.6L1123.7 924.4L1125.9 923.1L1128.4 921.6L1131.3 919.8L1134.5 917.9L1137.9 915.8L1141.4 913.6L1144.8 911.5L1148.0 909.4L1151.1 907.3L1154.4 905.0L1157.5 902.7L1160.4 900.6L1162.8 898.9L1164.6 897.6L1164.6 1057.8L699.0 1057.8Z" fill="url(#pf2)"/>
<path d="M699.0 1033.7L700.5 1032.9L702.5 1031.7L704.9 1030.3L707.5 1028.8L710.2 1027.3L712.8 1026.1L715.4 1025.0L718.2 1023.9L721.1 1022.9L723.9 1021.9L726.5 1021.1L728.8 1020.4L730.7 1019.9L732.2 1019.4L733.5 1019.1L734.9 1018.9L736.3 1018.8L738.0 1018.8L740.1 1019.0L742.5 1019.3L745.0 1019.8L747.5 1020.2L749.8 1020.7L751.7 1020.9L753.1 1021.0L754.2 1021.1L755.0 1021.1L755.9 1021.0L757.0 1020.8L758.6 1020.5L760.8 1019.9L763.5 1019.2L766.4 1018.3L769.3 1017.4L772.2 1016.5L774.7 1015.8L776.9 1015.2L779.0 1014.6L781.0 1014.0L782.8 1013.6L784.5 1013.3L786.1 1013.1L787.4 1013.2L788.4 1013.6L789.3 1014.0L790.2 1014.5L791.4 1014.9L793.0 1015.1L795.2 1015.1L797.9 1015.0L800.8 1014.8L803.7 1014.4L806.6 1014.0L809.1 1013.5L811.3 1012.8L813.4 1011.8L815.3 1010.7L817.1 1009.6L818.9 1008.8L820.6 1008.3L822.2 1008.2L823.6 1008.3L825.0 1008.6L826.4 1009.0L827.9 1009.6L829.7 1010.1L831.7 1010.7L834.0 1011.3L836.3 1011.9L838.7 1012.7L841.2 1013.6L843.5 1014.7L845.8 1016.0L848.1 1017.7L850.4 1019.5L852.6 1021.2L854.9 1022.7L857.2 1023.9L859.5 1024.7L862.0 1025.2L864.4 1025.6L866.7 1025.8L869.0 1025.9L871.0 1026.1L872.7 1026.2L874.1 1026.1L875.3 1025.9L876.6 1025.8L878.2 1025.9L880.2 1026.1L882.8 1026.6L885.8 1027.3L889.1 1028.1L892.4 1029.0L895.6 1029.9L898.5 1030.7L901.1 1031.5L903.7 1032.4L906.1 1033.4L908.4 1034.1L910.5 1034.7L912.3 1034.9L913.8 1034.8L915.1 1034.3L916.2 1033.7L917.2 1032.9L918.1 1031.9L919.2 1030.7L920.3 1029.3L921.4 1027.5L922.5 1025.6L923.6 1023.7L924.8 1021.9L926.1 1020.4L927.4 1019.2L928.8 1018.1L930.2 1017.1L931.7 1016.2L933.4 1015.4L935.2 1014.7L937.3 1014.0L939.8 1013.4L942.3 1012.9L944.8 1012.4L947.1 1012.0L949.0 1011.7L950.3 1011.5L951.2 1011.5L951.8 1011.6L952.4 1011.6L953.3 1011.4L954.7 1010.9L956.7 1009.9L959.2 1008.5L962.0 1006.8L964.7 1005.3L967.3 1004.1L969.4 1003.5L971.0 1003.6L972.4 1004.2L973.5 1005.1L974.5 1006.3L975.6 1007.4L976.7 1008.4L977.7 1009.4L978.4 1010.5L979.1 1011.6L980.1 1012.6L981.6 1013.5L984.0 1014.1L987.6 1014.5L992.2 1014.7L997.4 1014.8L1002.6 1014.7L1007.3 1014.4L1011.0 1013.8L1013.6 1012.9L1015.6 1011.6L1017.0 1010.2L1018.2 1008.6L1019.3 1007.2L1020.7 1006.0L1022.2 1005.0L1023.6 1004.0L1024.9 1003.1L1026.3 1002.4L1027.7 1001.9L1029.3 1001.6L1031.0 1001.8L1032.7 1002.5L1034.6 1003.4L1036.5 1004.3L1038.4 1004.8L1040.3 1004.8L1042.2 1004.1L1044.2 1002.9L1046.2 1001.4L1048.2 999.8L1050.3 998.3L1052.5 996.9L1054.8 995.8L1057.2 994.7L1059.7 993.6L1062.2 992.6L1064.7 991.6L1067.2 990.6L1069.7 989.5L1072.2 988.3L1074.7 987.2L1077.2 986.1L1079.6 985.3L1081.9 984.7L1084.1 984.6L1086.1 984.8L1088.2 985.3L1090.1 985.8L1092.1 986.0L1094.1 985.7L1096.2 984.9L1098.3 983.8L1100.4 982.4L1102.5 980.9L1104.5 979.3L1106.4 977.9L1108.1 976.5L1109.7 975.1L1111.2 973.6L1112.8 972.2L1114.4 970.7L1116.1 969.3L1117.9 967.9L1119.7 966.6L1121.6 965.2L1123.7 963.8L1125.9 962.3L1128.4 960.7L1131.3 958.9L1134.5 956.9L1137.9 954.9L1141.4 952.7L1144.8 950.6L1148.0 948.5L1151.1 946.3L1154.4 943.8L1157.5 941.4L1160.4 939.1L1162.8 937.2L1164.6 935.8L1164.6 1057.8L699.0 1057.8Z" fill="url(#pf3)"/>
<path d="M699.0 862.2L700.5 862.0L702.5 861.7L704.9 861.3L707.5 860.9L710.2 860.6L712.8 860.3L715.4 860.1L718.2 859.9L721.1 859.7L723.9 859.5L726.5 859.3L728.8 859.2L730.7 859.0L732.2 858.8L733.5 858.6L734.9 858.4L736.3 858.4L738.0 858.6L740.1 859.1L742.5 859.9L745.0 860.8L747.5 861.7L749.8 862.5L751.7 863.1L753.1 863.5L754.2 863.7L755.0 863.9L755.9 863.9L757.0 863.9L758.6 863.8L760.8 863.6L763.5 863.3L766.4 862.9L769.3 862.4L772.2 862.0L774.7 861.5L776.9 861.0L779.0 860.4L781.0 859.7L782.8 859.2L784.5 858.7L786.1 858.5L787.4 858.5L788.5 858.8L789.4 859.2L790.4 859.7L791.5 860.0L793.0 860.3L794.9 860.5L797.1 860.6L799.5 860.8L801.9 860.8L804.4 860.7L806.8 860.3L809.2 859.6L811.6 858.5L814.0 857.3L816.3 856.1L818.6 855.2L820.6 854.6L822.3 854.5L823.8 854.6L825.1 855.0L826.5 855.5L828.0 856.2L829.7 856.9L831.7 857.8L834.0 858.8L836.3 859.9L838.7 861.2L841.2 862.5L843.5 863.8L845.8 865.3L848.1 866.9L850.4 868.6L852.6 870.3L854.9 871.8L857.2 872.9L859.5 873.7L861.8 874.1L864.1 874.4L866.4 874.6L868.7 874.8L871.0 875.2L873.3 875.7L875.6 876.3L877.9 876.9L880.2 877.5L882.5 878.1L884.8 878.7L887.1 879.3L889.4 879.8L891.6 880.3L893.9 880.9L896.2 881.5L898.5 882.1L900.9 882.9L903.3 883.9L905.8 884.9L908.2 885.8L910.4 886.5L912.3 886.7L913.8 886.5L915.1 886.0L916.2 885.3L917.2 884.3L918.1 883.2L919.2 882.1L920.3 880.8L921.4 879.2L922.5 877.5L923.6 875.8L924.8 874.2L926.1 872.9L927.4 871.8L928.8 870.9L930.2 870.2L931.7 869.5L933.4 868.9L935.2 868.3L937.3 867.8L939.6 867.3L942.0 866.9L944.4 866.6L946.8 866.2L949.0 865.8L951.0 865.4L952.9 864.9L954.8 864.5L956.6 864.0L958.3 863.6L960.0 863.2L961.7 862.8L963.3 862.3L964.9 861.8L966.5 861.4L968.0 861.3L969.4 861.5L970.7 862.1L972.0 863.1L973.2 864.3L974.3 865.6L975.5 866.9L976.7 868.1L977.9 869.2L978.9 870.3L980.0 871.4L981.2 872.5L982.5 873.4L984.0 874.2L985.7 874.8L987.6 875.3L989.7 875.7L991.8 876.0L994.1 876.4L996.3 876.7L998.7 877.1L1001.2 877.7L1003.8 878.2L1006.4 878.5L1008.8 878.7L1011.0 878.6L1012.9 878.1L1014.7 877.2L1016.3 876.1L1017.8 874.9L1019.3 873.8L1020.7 873.0L1022.1 872.4L1023.3 871.8L1024.5 871.3L1025.7 870.9L1026.9 870.7L1028.1 870.6L1029.3 870.7L1030.5 871.1L1031.8 871.5L1033.0 872.1L1034.2 872.6L1035.4 873.0L1036.6 873.4L1037.8 874.0L1039.0 874.5L1040.2 874.9L1041.4 875.1L1042.8 875.0L1044.2 874.5L1045.7 873.6L1047.2 872.5L1048.8 871.3L1050.6 870.2L1052.5 869.3L1054.7 868.7L1057.0 868.1L1059.5 867.7L1062.1 867.3L1064.7 866.9L1067.2 866.4L1069.7 865.8L1072.4 865.2L1075.0 864.5L1077.5 864.0L1079.9 863.5L1081.9 863.2L1083.5 863.1L1084.9 863.2L1086.0 863.5L1087.0 863.8L1088.1 864.1L1089.2 864.4L1090.4 864.8L1091.6 865.3L1092.7 865.8L1094.0 866.3L1095.2 866.5L1096.6 866.4L1098.1 865.9L1099.7 865.2L1101.4 864.3L1103.1 863.2L1104.7 862.0L1106.4 860.8L1108.0 859.5L1109.5 858.1L1111.1 856.6L1112.7 855.1L1114.3 853.6L1116.1 852.2L1118.0 850.9L1120.0 849.7L1122.1 848.4L1124.2 847.3L1126.3 846.1L1128.4 844.9L1130.4 843.7L1132.5 842.6L1134.5 841.4L1136.5 840.3L1138.6 839.1L1140.6 838.0L1142.6 836.9L1144.7 835.8L1146.7 834.7L1148.8 833.6L1150.8 832.5L1152.8 831.4L1154.9 830.2L1157.2 829.0L1159.5 827.7L1161.6 826.5L1163.3 825.5L1164.6 824.8M699.0 982.1L700.5 981.5L702.5 980.7L704.9 979.7L707.5 978.7L710.2 977.7L712.8 976.8L715.4 976.0L718.2 975.3L721.1 974.6L723.9 974.0L726.5 973.4L728.8 972.9L730.7 972.4L732.2 972.0L733.5 971.6L734.9 971.3L736.3 971.1L738.0 971.1L740.1 971.3L742.5 971.7L745.0 972.2L747.5 972.7L749.8 973.1L751.7 973.4L753.1 973.5L754.2 973.6L755.0 973.6L755.9 973.5L757.0 973.3L758.6 973.0L760.8 972.5L763.5 971.9L766.4 971.1L769.3 970.3L772.2 969.5L774.7 968.8L776.9 968.1L779.0 967.4L781.0 966.7L782.8 966.1L784.5 965.7L786.1 965.4L787.4 965.4L788.4 965.7L789.3 966.1L790.2 966.6L791.4 966.9L793.0 967.0L795.2 966.9L797.9 966.7L800.8 966.4L803.7 966.0L806.6 965.5L809.1 964.9L811.3 964.1L813.4 963.0L815.3 961.8L817.1 960.6L818.9 959.7L820.6 959.2L822.2 959.1L823.6 959.3L825.0 959.7L826.4 960.2L827.9 960.9L829.7 961.5L831.7 962.1L834.0 962.8L836.3 963.6L838.7 964.5L841.2 965.4L843.5 966.5L845.8 967.8L848.1 969.4L850.4 971.0L852.6 972.6L854.9 974.1L857.2 975.2L859.5 976.0L862.0 976.5L864.4 976.9L866.7 977.1L869.0 977.3L871.0 977.5L872.7 977.6L874.1 977.5L875.3 977.3L876.6 977.2L878.2 977.2L880.2 977.5L882.8 978.1L885.8 979.0L889.1 980.0L892.4 981.1L895.6 982.1L898.5 983.0L901.1 983.9L903.7 984.8L906.1 985.7L908.4 986.5L910.5 987.0L912.3 987.2L913.8 987.0L915.1 986.5L916.2 985.7L917.2 984.8L918.1 983.7L919.2 982.6L920.3 981.3L921.4 979.7L922.5 978.0L923.6 976.3L924.8 974.7L926.1 973.4L927.4 972.3L928.8 971.3L930.2 970.5L931.7 969.7L933.4 969.0L935.2 968.3L937.3 967.7L939.8 967.1L942.3 966.7L944.8 966.2L947.1 965.8L949.0 965.4L950.3 965.0L951.2 964.7L951.8 964.5L952.4 964.1L953.3 963.7L954.7 963.2L956.7 962.4L959.2 961.2L962.0 960.0L964.7 958.9L967.3 958.1L969.4 957.8L971.0 958.1L972.4 958.8L973.5 959.8L974.5 961.0L975.6 962.2L976.7 963.2L977.7 964.2L978.4 965.2L979.1 966.2L980.1 967.2L981.6 968.0L984.0 968.6L987.6 969.0L992.2 969.4L997.4 969.5L1002.6 969.5L1007.3 969.3L1011.0 968.8L1013.6 967.9L1015.6 966.5L1017.0 964.9L1018.2 963.3L1019.3 961.8L1020.7 960.7L1022.2 959.8L1023.6 959.1L1024.9 958.5L1026.3 958.1L1027.7 957.9L1029.3 957.8L1031.0 958.1L1032.7 958.9L1034.6 959.8L1036.5 960.7L1038.4 961.2L1040.3 961.2L1042.2 960.5L1044.2 959.3L1046.2 957.9L1048.2 956.2L1050.3 954.7L1052.5 953.4L1054.8 952.4L1057.2 951.4L1059.7 950.5L1062.2 949.7L1064.7 948.8L1067.2 948.0L1069.7 947.1L1072.2 946.1L1074.7 945.1L1077.2 944.2L1079.6 943.5L1081.9 943.1L1084.1 943.1L1086.1 943.6L1088.2 944.2L1090.1 944.7L1092.1 945.0L1094.1 944.8L1096.2 944.0L1098.3 942.7L1100.4 941.1L1102.5 939.4L1104.5 937.8L1106.4 936.3L1108.1 935.0L1109.7 933.7L1111.2 932.5L1112.8 931.3L1114.4 930.1L1116.1 928.9L1117.9 927.7L1119.7 926.6L1121.6 925.6L1123.7 924.4L1125.9 923.1L1128.4 921.6L1131.3 919.8L1134.5 917.9L1137.9 915.8L1141.4 913.6L1144.8 911.5L1148.0 909.4L1151.1 907.3L1154.4 905.0L1157.5 902.7L1160.4 900.6L1162.8 898.9L1164.6 897.6M699.0 1033.7L700.5 1032.9L702.5 1031.7L704.9 1030.3L707.5 1028.8L710.2 1027.3L712.8 1026.1L715.4 1025.0L718.2 1023.9L721.1 1022.9L723.9 1021.9L726.5 1021.1L728.8 1020.4L730.7 1019.9L732.2 1019.4L733.5 1019.1L734.9 1018.9L736.3 1018.8L738.0 1018.8L740.1 1019.0L742.5 1019.3L745.0 1019.8L747.5 1020.2L749.8 1020.7L751.7 1020.9L753.1 1021.0L754.2 1021.1L755.0 1021.1L755.9 1021.0L757.0 1020.8L758.6 1020.5L760.8 1019.9L763.5 1019.2L766.4 1018.3L769.3 1017.4L772.2 1016.5L774.7 1015.8L776.9 1015.2L779.0 1014.6L781.0 1014.0L782.8 1013.6L784.5 1013.3L786.1 1013.1L787.4 1013.2L788.4 1013.6L789.3 1014.0L790.2 1014.5L791.4 1014.9L793.0 1015.1L795.2 1015.1L797.9 1015.0L800.8 1014.8L803.7 1014.4L806.6 1014.0L809.1 1013.5L811.3 1012.8L813.4 1011.8L815.3 1010.7L817.1 1009.6L818.9 1008.8L820.6 1008.3L822.2 1008.2L823.6 1008.3L825.0 1008.6L826.4 1009.0L827.9 1009.6L829.7 1010.1L831.7 1010.7L834.0 1011.3L836.3 1011.9L838.7 1012.7L841.2 1013.6L843.5 1014.7L845.8 1016.0L848.1 1017.7L850.4 1019.5L852.6 1021.2L854.9 1022.7L857.2 1023.9L859.5 1024.7L862.0 1025.2L864.4 1025.6L866.7 1025.8L869.0 1025.9L871.0 1026.1L872.7 1026.2L874.1 1026.1L875.3 1025.9L876.6 1025.8L878.2 1025.9L880.2 1026.1L882.8 1026.6L885.8 1027.3L889.1 1028.1L892.4 1029.0L895.6 1029.9L898.5 1030.7L901.1 1031.5L903.7 1032.4L906.1 1033.4L908.4 1034.1L910.5 1034.7L912.3 1034.9L913.8 1034.8L915.1 1034.3L916.2 1033.7L917.2 1032.9L918.1 1031.9L919.2 1030.7L920.3 1029.3L921.4 1027.5L922.5 1025.6L923.6 1023.7L924.8 1021.9L926.1 1020.4L927.4 1019.2L928.8 1018.1L930.2 1017.1L931.7 1016.2L933.4 1015.4L935.2 1014.7L937.3 1014.0L939.8 1013.4L942.3 1012.9L944.8 1012.4L947.1 1012.0L949.0 1011.7L950.3 1011.5L951.2 1011.5L951.8 1011.6L952.4 1011.6L953.3 1011.4L954.7 1010.9L956.7 1009.9L959.2 1008.5L962.0 1006.8L964.7 1005.3L967.3 1004.1L969.4 1003.5L971.0 1003.6L972.4 1004.2L973.5 1005.1L974.5 1006.3L975.6 1007.4L976.7 1008.4L977.7 1009.4L978.4 1010.5L979.1 1011.6L980.1 1012.6L981.6 1013.5L984.0 1014.1L987.6 1014.5L992.2 1014.7L997.4 1014.8L1002.6 1014.7L1007.3 1014.4L1011.0 1013.8L1013.6 1012.9L1015.6 1011.6L1017.0 1010.2L1018.2 1008.6L1019.3 1007.2L1020.7 1006.0L1022.2 1005.0L1023.6 1004.0L1024.9 1003.1L1026.3 1002.4L1027.7 1001.9L1029.3 1001.6L1031.0 1001.8L1032.7 1002.5L1034.6 1003.4L1036.5 1004.3L1038.4 1004.8L1040.3 1004.8L1042.2 1004.1L1044.2 1002.9L1046.2 1001.4L1048.2 999.8L1050.3 998.3L1052.5 996.9L1054.8 995.8L1057.2 994.7L1059.7 993.6L1062.2 992.6L1064.7 991.6L1067.2 990.6L1069.7 989.5L1072.2 988.3L1074.7 987.2L1077.2 986.1L1079.6 985.3L1081.9 984.7L1084.1 984.6L1086.1 984.8L1088.2 985.3L1090.1 985.8L1092.1 986.0L1094.1 985.7L1096.2 984.9L1098.3 983.8L1100.4 982.4L1102.5 980.9L1104.5 979.3L1106.4 977.9L1108.1 976.5L1109.7 975.1L1111.2 973.6L1112.8 972.2L1114.4 970.7L1116.1 969.3L1117.9 967.9L1119.7 966.6L1121.6 965.2L1123.7 963.8L1125.9 962.3L1128.4 960.7L1131.3 958.9L1134.5 956.9L1137.9 954.9L1141.4 952.7L1144.8 950.6L1148.0 948.5L1151.1 946.3L1154.4 943.8L1157.5 941.4L1160.4 939.1L1162.8 937.2L1164.6 935.8" fill="none" stroke="#141414" stroke-width="1"/>
<path d="M713.2 796.8V1057.8M748.8 796.8V1057.8M932.8 796.8V1057.8M968.7 796.8V1057.8M1128.8 796.8V1057.8" stroke="#3d3d3d" stroke-width="0.6" stroke-opacity="0.75" fill="none"/>
<path d="M724.8 799.3L724.8 805.7L724.8 812.0L724.8 818.4L724.8 824.8L724.8 831.2L724.8 837.5L724.7 843.9L725.9 846.2L728.2 848.6L729.6 851.0L730.9 853.3L733.3 855.6L735.2 858.0L732.7 859.5L729.0 861.0L731.8 862.7L729.1 864.5L730.4 866.2L729.5 867.9L729.6 869.6L730.0 871.4L730.8 873.1L729.2 874.8L729.3 876.5L730.0 878.3L729.0 880.0L729.7 881.7L731.3 883.5L730.1 885.2L730.2 886.9L730.7 888.6L729.6 890.4L730.7 892.1L730.7 893.8L730.1 895.5L730.8 897.3L728.9 899.0L728.4 900.7L730.2 902.5L729.5 904.2L732.3 905.9L731.0 907.6L729.2 909.4L732.4 911.1L729.8 912.8L732.0 914.5L731.1 916.3L731.7 918.0L734.7 920.0L738.5 922.0L730.5 924.0L731.1 925.7L731.2 927.4L732.1 929.1L730.2 930.8L728.8 932.5L732.6 934.2L730.0 935.9L729.6 937.6L730.5 939.3L730.3 941.0L730.6 942.7L729.5 944.4L728.7 946.1L733.3 947.9L732.1 949.6L731.4 951.3L732.8 953.0L730.6 954.7L731.8 956.4L730.0 958.1L733.0 959.8L730.7 961.5L731.4 963.2L732.1 964.9L731.9 966.6L731.7 968.3L734.4 970.0L738.9 972.0L744.0 974.0L748.0 976.0L748.0 979.0L746.3 982.0L748.4 985.0L743.0 987.8L742.9 990.5L736.7 993.3L737.5 996.1L741.3 998.8L738.7 1001.6L744.8 1004.4L743.0 1007.2L730.6 1009.9L736.1 1012.7L737.5 1015.5L735.8 1018.2L731.0 1021.0L731.7 1022.7L731.6 1024.4L730.4 1026.2L731.4 1027.9L731.5 1029.6L732.6 1031.3L732.2 1033.1L730.9 1034.8L732.2 1036.5L732.1 1038.2L731.1 1039.9L731.7 1041.7L730.6 1043.4L731.7 1045.1L732.0 1046.8L730.3 1048.6L730.6 1050.3L730.6 1052.0L734.6 1053.8L738.3 1055.7" fill="none" stroke="#111" stroke-width="0.75" stroke-linejoin="round"/>
<path d="M942.2 797.0L940.9 798.6L941.0 800.3L941.5 802.0L940.6 803.6L940.5 805.2L940.4 806.9L941.6 808.5L941.0 810.2L941.9 811.9L940.6 813.5L940.4 815.1L941.2 816.8L942.1 818.5L939.9 820.1L940.0 821.8L942.3 823.4L941.2 825.0L943.6 826.7L944.0 828.4L947.0 830.0L948.5 831.7L946.9 833.5L946.6 835.2L943.3 836.9L946.3 838.6L945.4 840.4L941.8 842.1L943.6 843.8L947.7 845.5L946.8 847.3L950.6 849.0L942.2 850.7L943.0 852.5L947.9 854.2L942.5 855.9L946.2 857.6L947.9 859.4L946.5 861.1L950.3 862.8L943.1 864.5L948.9 866.3L947.1 868.0L942.7 869.5L937.0 871.0L939.0 872.8L941.4 874.6L939.4 876.4L935.5 878.2L939.9 880.0L939.2 881.8L936.2 883.6L942.0 885.4L939.1 887.2L941.2 889.0L942.9 890.8L940.0 892.6L942.6 894.4L942.2 896.2L944.9 898.0L942.2 899.8L946.5 901.6L941.0 903.4L939.8 905.2L945.5 907.0L940.5 908.8L940.4 910.6L939.8 912.4L947.8 914.2L945.0 916.0L949.3 918.0L952.2 920.0L955.9 922.0L948.4 923.5L943.3 925.0L944.6 926.7L943.8 928.4L944.0 930.1L946.9 931.8L945.9 933.5L944.7 935.2L945.7 937.0L944.4 938.7L944.0 940.4L946.1 942.1L949.0 943.8L946.7 945.5L944.7 947.2L946.5 948.9L945.3 950.6L947.1 952.3L944.0 954.0L946.3 955.8L949.3 957.5L947.3 959.2L948.6 960.9L947.3 962.6L947.9 964.3L946.1 966.0L943.9 968.0L946.4 969.9L943.9 971.9L949.7 973.8L951.9 975.8L946.8 977.7L954.2 979.7L951.4 981.7L948.6 983.6L953.3 985.6L951.0 987.5L956.9 989.5L956.2 991.4L948.2 993.4L952.6 995.3L954.5 997.3L952.2 999.3L957.2 1001.2L956.1 1003.2L956.4 1005.1L953.6 1007.1L957.3 1009.0L951.5 1011.0L945.6 1012.7L947.4 1014.4L949.1 1016.1L948.1 1017.8L950.9 1019.5L950.0 1021.2L948.6 1023.0L951.4 1024.7L951.2 1026.4L950.8 1028.1L949.5 1029.8L949.2 1031.5L951.3 1033.2L949.9 1034.9L949.0 1036.6L948.6 1038.3L948.1 1040.0L948.6 1041.8L948.4 1043.5L948.8 1045.2L945.7 1046.9L946.3 1048.6L945.4 1050.3L949.7 1052.0L951.5 1053.8L953.5 1055.7" fill="none" stroke="#111" stroke-width="0.75" stroke-linejoin="round"/>
<path d="M1157.5 806.0L1155.9 807.7L1157.0 809.3L1156.3 811.0L1157.7 812.7L1157.4 814.3L1157.3 816.0L1162.1 818.0L1162.0 820.0L1155.6 822.0L1154.1 824.0L1151.1 826.0L1154.3 828.0L1146.9 830.0L1150.8 832.0L1148.6 834.0L1146.2 836.0L1155.1 837.0L1149.7 838.0L1146.5 840.3L1143.4 842.7L1139.9 845.0L1139.9 846.8L1139.5 848.6L1139.1 850.4L1138.9 852.2L1137.1 854.0L1138.8 855.8L1138.0 857.6L1138.6 859.4L1138.2 861.2L1135.6 863.0L1136.9 864.8L1136.2 866.6L1135.9 868.4L1136.0 870.2L1137.0 872.0L1137.3 873.7L1138.2 875.4L1138.0 877.1L1138.2 878.9L1139.7 880.6L1139.2 882.3L1140.1 884.0L1140.0 885.7L1140.2 887.4L1142.1 889.1L1140.6 890.9L1140.8 892.6L1143.7 894.3L1142.2 896.0L1144.2 897.7L1143.4 899.4L1144.9 901.1L1145.1 902.9L1145.0 904.6L1146.3 906.3L1147.1 908.0L1146.3 910.0L1148.9 912.0L1148.7 914.0L1148.8 916.0L1150.4 918.0L1158.1 920.0L1162.8 922.5L1154.2 925.1L1160.8 927.6L1156.1 930.2L1159.9 932.7L1149.5 935.3L1155.0 937.8L1160.3 940.4L1150.9 942.9L1164.2 945.5L1144.4 948.0L1142.3 950.0L1140.2 952.0L1140.1 954.0L1138.7 956.0L1140.1 957.9L1140.1 959.8L1140.9 961.7L1142.8 963.6L1142.8 965.5L1141.6 967.4L1144.9 969.3L1143.8 971.2L1145.8 973.1L1153.3 975.0L1147.6 977.5L1144.6 979.9L1150.2 982.4L1146.3 984.8L1146.7 987.3L1152.8 989.7L1155.9 992.2L1152.6 994.6L1150.9 997.1L1155.4 999.5L1158.6 1002.0L1158.2 1004.0L1162.3 1006.0L1162.1 1008.0L1162.4 1010.0L1164.2 1012.0L1163.6 1013.7L1163.9 1015.3L1162.4 1017.0L1163.6 1018.7L1163.6 1020.3L1163.6 1022.0L1162.9 1023.7L1162.8 1025.3L1163.1 1027.0L1163.7 1028.7L1163.4 1030.3L1163.0 1032.0L1164.2 1033.7L1164.0 1035.3L1162.8 1037.0L1163.8 1038.7L1163.7 1040.3" fill="none" stroke="#111" stroke-width="0.75" stroke-linejoin="round"/>
</g>
<path d="M1164.6 796.6V1088.5M698.6 796.6V1088.5" stroke="#bdbdbd" stroke-width="0.8" fill="none"/>
<path d="M693 801.40H698.6M696 806.24H698.6M696 811.08H698.6M696 815.92H698.6M696 820.76H698.6M693 825.60H698.6M696 830.44H698.6M696 835.28H698.6M696 840.12H698.6M696 844.96H698.6M693 849.80H698.6M696 854.64H698.6M696 859.48H698.6M696 864.32H698.6M696 869.16H698.6M693 874.00H698.6M696 878.84H698.6M696 883.68H698.6M696 888.52H698.6M696 893.36H698.6M693 898.20H698.6M696 903.04H698.6M696 907.88H698.6M696 912.72H698.6M696 917.56H698.6M693 922.40H698.6M696 927.24H698.6M696 932.08H698.6M696 936.92H698.6M696 941.76H698.6M693 946.60H698.6M696 951.44H698.6M696 956.28H698.6M696 961.12H698.6M696 965.96H698.6M693 970.80H698.6M696 975.64H698.6M696 980.48H698.6M696 985.32H698.6M696 990.16H698.6M693 995.00H698.6M696 999.84H698.6M696 1004.68H698.6M696 1009.52H698.6M696 1014.36H698.6M693 1019.20H698.6M696 1024.04H698.6M696 1028.88H698.6M696 1033.72H698.6M696 1038.56H698.6M693 1043.40H698.6M696 1048.24H698.6M696 1053.08H698.6M696 1057.92H698.6M696 1062.76H698.6M693 1067.60H698.6M696 1072.44H698.6M696 1077.28H698.6M696 1082.12H698.6M696 1086.96H698.6" stroke="#9a9a9a" stroke-width="0.5" fill="none"/>
<g font-family="Liberation Sans, sans-serif" font-size="4.4" fill="#333" text-anchor="end">
<text x="690.3" y="803.0">-1620</text>
<text x="690.3" y="827.2">-1630</text>
<text x="690.3" y="851.4">-1640</text>
<text x="690.3" y="875.6">-1650</text>
<text x="690.3" y="899.8">-1660</text>
<text x="690.3" y="924.0">-1670</text>
<text x="690.3" y="948.2">-1680</text>
<text x="690.3" y="972.4">-1690</text>
<text x="690.3" y="996.6">-1700</text>
<text x="690.3" y="1020.8">-1710</text>
<text x="690.3" y="1045.0">-1720</text>
<text x="690.3" y="1069.2">-1730</text>
</g>
<text transform="translate(677 940.8) rotate(-90)" font-family="Liberation Sans, sans-serif" font-size="4.2" fill="#333" text-anchor="middle">Elevation (m)</text>
<path d="M711.1 1058.2V1060.2M731.1 1058.2V1062.5M751.1 1058.2V1060.2M771.1 1058.2V1060.2M791.1 1058.2V1060.2M811.1 1058.2V1060.2M831.1 1058.2V1062.5M851.1 1058.2V1060.2M871.1 1058.2V1060.2M891.1 1058.2V1060.2M911.1 1058.2V1060.2M931.1 1058.2V1062.5M951.1 1058.2V1060.2M971.1 1058.2V1060.2M991.1 1058.2V1060.2M1011.1 1058.2V1060.2M1031.1 1058.2V1062.5M1051.1 1058.2V1060.2M1071.1 1058.2V1060.2M1091.1 1058.2V1060.2M1111.1 1058.2V1060.2M1131.1 1058.2V1062.5" stroke="#9a9a9a" stroke-width="0.5" fill="none"/>
<path d="M699 1058.2H1147" stroke="#c9c9c9" stroke-width="0.5"/>
<g font-family="Liberation Sans, sans-serif" font-size="3.8" fill="#444" text-anchor="end">
<text transform="translate(731.1 1064.5) rotate(-90)" dy="1.3">0</text>
<text transform="translate(831.1 1064.5) rotate(-90)" dy="1.3">500</text>
<text transform="translate(931.1 1064.5) rotate(-90)" dy="1.3">1000</text>
<text transform="translate(1031.1 1064.5) rotate(-90)" dy="1.3">1500</text>
<text transform="translate(1131.1 1064.5) rotate(-90)" dy="1.3">2000</text>
</g>
<text x="937.5" y="1083.6" font-family="Liberation Sans, sans-serif" font-size="4.2" fill="#333" text-anchor="middle">Distance (m)</text>
<text x="954.3" y="754.3" font-family="Liberation Serif, serif" font-weight="bold" font-size="15" fill="#111" text-anchor="middle" textLength="124" lengthAdjust="spacingAndGlyphs">Cross section A-A'</text>
<text x="731.2" y="769.6" font-family="Liberation Serif, serif" font-size="8.8" fill="#222" text-anchor="middle">Well G12</text>
<text x="731.2" y="773.9" font-family="Liberation Sans, sans-serif" font-size="3.4" fill="#333" text-anchor="middle">VSH</text>
<path d="M712.6 793.1H749.6M712.80 793.1V787.7M714.62 793.1V790.8M716.44 793.1V790.8M718.26 793.1V790.8M720.08 793.1V790.8M721.90 793.1V787.7M723.72 793.1V790.8M725.54 793.1V790.8M727.36 793.1V790.8M729.18 793.1V790.8M731.00 793.1V787.7M732.82 793.1V790.8M734.64 793.1V790.8M736.46 793.1V790.8M738.28 793.1V790.8M740.10 793.1V787.7M741.92 793.1V790.8M743.74 793.1V790.8M745.56 793.1V790.8M747.38 793.1V790.8M749.20 793.1V787.7" stroke="#8a8a8a" stroke-width="0.5" fill="none"/>
<g font-family="Liberation Sans, sans-serif" font-size="3" fill="#555">
<text transform="translate(712.8 785) rotate(-90)" dy="1">0</text>
<text transform="translate(721.9 785) rotate(-90)" dy="1">0.25</text>
<text transform="translate(731.0 785) rotate(-90)" dy="1">0.5</text>
<text transform="translate(740.1 785) rotate(-90)" dy="1">0.75</text>
<text transform="translate(749.2 785) rotate(-90)" dy="1">1</text>
</g>
<text x="950.8" y="769.6" font-family="Liberation Serif, serif" font-size="8.8" fill="#222" text-anchor="middle">Well G5</text>
<text x="950.8" y="773.9" font-family="Liberation Sans, sans-serif" font-size="3.4" fill="#333" text-anchor="middle">VSH</text>
<path d="M932.2 793.1H969.2M932.40 793.1V787.7M934.22 793.1V790.8M936.04 793.1V790.8M937.86 793.1V790.8M939.68 793.1V790.8M941.50 793.1V787.7M943.32 793.1V790.8M945.14 793.1V790.8M946.96 793.1V790.8M948.78 793.1V790.8M950.60 793.1V787.7M952.42 793.1V790.8M954.24 793.1V790.8M956.06 793.1V790.8M957.88 793.1V790.8M959.70 793.1V787.7M961.52 793.1V790.8M963.34 793.1V790.8M965.16 793.1V790.8M966.98 793.1V790.8M968.80 793.1V787.7" stroke="#8a8a8a" stroke-width="0.5" fill="none"/>
<g font-family="Liberation Sans, sans-serif" font-size="3" fill="#555">
<text transform="translate(932.4 785) rotate(-90)" dy="1">0</text>
<text transform="translate(941.5 785) rotate(-90)" dy="1">0.25</text>
<text transform="translate(950.6 785) rotate(-90)" dy="1">0.5</text>
<text transform="translate(959.7 785) rotate(-90)" dy="1">0.75</text>
<text transform="translate(968.8 785) rotate(-90)" dy="1">1</text>
</g>
<text x="1146.5" y="769.6" font-family="Liberation Serif, serif" font-size="8.8" fill="#222" text-anchor="middle">Well F3</text>
<text x="1146.5" y="773.9" font-family="Liberation Sans, sans-serif" font-size="3.4" fill="#333" text-anchor="middle">VSH</text>
<path d="M1128.2 793.1H1165.2M1128.40 793.1V787.7M1130.22 793.1V790.8M1132.04 793.1V790.8M1133.86 793.1V790.8M1135.68 793.1V790.8M1137.50 793.1V787.7M1139.32 793.1V790.8M1141.14 793.1V790.8M1142.96 793.1V790.8M1144.78 793.1V790.8M1146.60 793.1V787.7M1148.42 793.1V790.8M1150.24 793.1V790.8M1152.06 793.1V790.8M1153.88 793.1V790.8M1155.70 793.1V787.7M1157.52 793.1V790.8M1159.34 793.1V790.8M1161.16 793.1V790.8M1162.98 793.1V790.8M1164.80 793.1V787.7" stroke="#8a8a8a" stroke-width="0.5" fill="none"/>
<g font-family="Liberation Sans, sans-serif" font-size="3" fill="#555">
<text transform="translate(1128.4 785) rotate(-90)" dy="1">0</text>
<text transform="translate(1137.5 785) rotate(-90)" dy="1">0.25</text>
<text transform="translate(1146.6 785) rotate(-90)" dy="1">0.5</text>
<text transform="translate(1155.7 785) rotate(-90)" dy="1">0.75</text>
<text transform="translate(1164.8 785) rotate(-90)" dy="1">1</text>
</g>
<rect x="1172.4" y="737.2" width="73.9" height="55.1" fill="#fff" stroke="#c9c9c9" stroke-width="0.8"/>
<text x="1209.1" y="746.6" font-family="Liberation Serif, serif" font-weight="bold" font-size="5.3" fill="#222" text-anchor="middle">Cross Section Legend Title</text>
<rect x="1185.4" y="751.4" width="15.1" height="7.4" fill="#f6f5ba" stroke="#b5b5b5" stroke-width="0.3"/>
<text x="1205" y="757.0" font-family="Liberation Serif, serif" font-size="5.3" fill="#555">Formation 1</text>
<rect x="1185.4" y="761.0" width="15.1" height="7.4" fill="url(#pf2)" stroke="#b5b5b5" stroke-width="0.3"/>
<text x="1205" y="766.6" font-family="Liberation Serif, serif" font-size="5.3" fill="#555">Formation 2</text>
<rect x="1185.4" y="770.3" width="15.1" height="7.4" fill="url(#pf3)" stroke="#b5b5b5" stroke-width="0.3"/>
<text x="1205" y="775.9" font-family="Liberation Serif, serif" font-size="5.3" fill="#555">Formation 3</text>
<rect x="1185.4" y="779.8" width="15.1" height="7.4" fill="url(#pf4)" stroke="#b5b5b5" stroke-width="0.3"/>
<text x="1205" y="785.4" font-family="Liberation Serif, serif" font-size="5.3" fill="#555">Formation 4</text>
<text x="1040.6" y="1161.6" font-family="Liberation Sans, sans-serif" font-weight="bold" font-size="18" fill="#111" textLength="123" lengthAdjust="spacingAndGlyphs">Strike-dip.com</text>
<g fill="none" stroke="#111" stroke-linecap="butt"><path d="M1193 1129L1236.8 1147.2L1220.7 1188.4L1176.9 1170.9Z" stroke="#555" stroke-width="0.7"/><path d="M1193 1129L1253.9 1152.3" stroke-width="1.8"/><path d="M1223.3 1141L1210.3 1179.8M1223.3 1141L1187.2 1158.5" stroke-width="1.4"/><path d="M1200.6 1153.4Q1203.5 1161.8 1214 1165.7" stroke="#666" stroke-width="0.5"/></g>
</svg></body></html>
